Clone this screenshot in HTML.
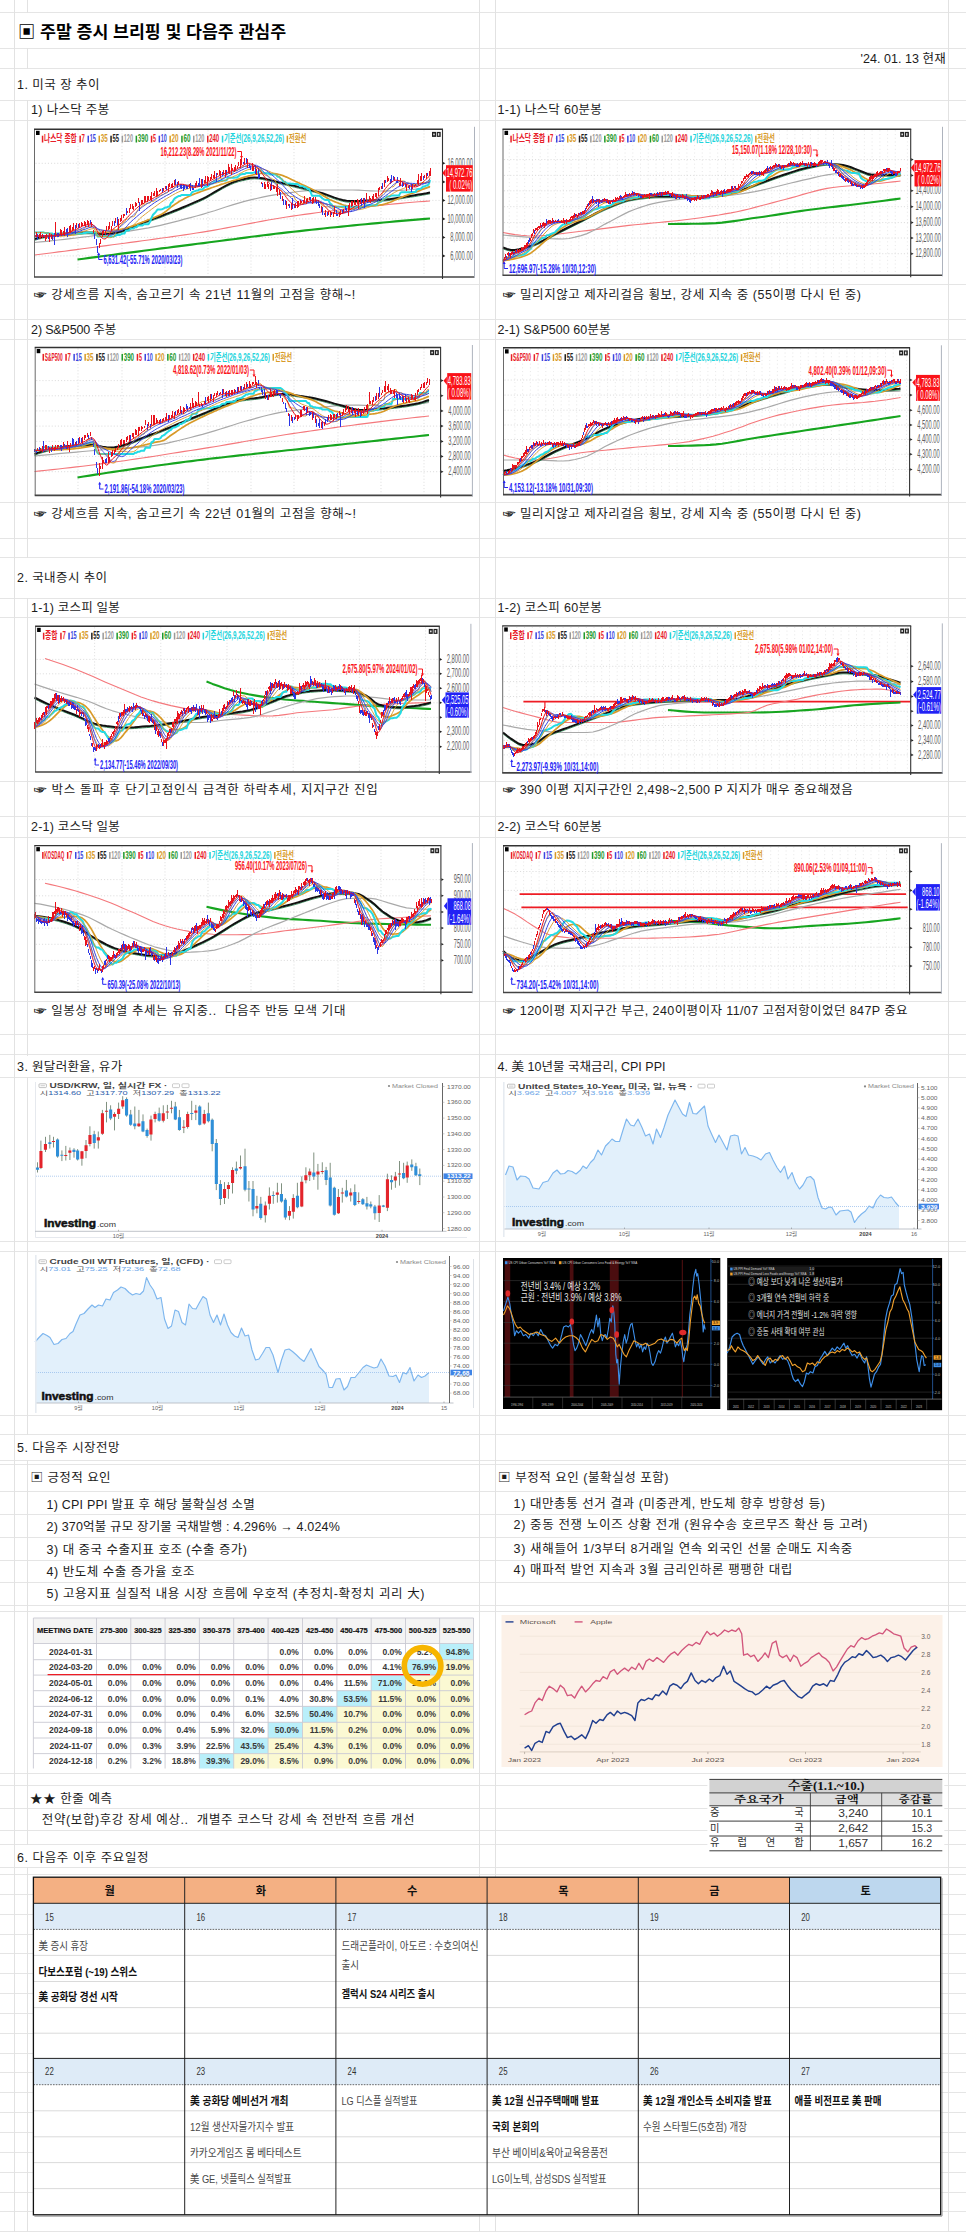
<!DOCTYPE html>
<html lang="ko"><head><meta charset="utf-8"><title>주말 증시 브리핑</title>
<style>
html,body{margin:0;padding:0;background:#fff}
body{width:966px;height:2232px;position:relative;overflow:hidden;font-family:"Liberation Sans","Noto Sans CJK KR",sans-serif;color:#1c1c1c}
.hl{position:absolute;left:0;width:966px;height:1px;background:#e5e5e5}
.vl{position:absolute;top:0;height:2232px;width:1px;background:#e2e2e2}
.t{position:absolute;white-space:nowrap;font-size:12.5px;line-height:20px;height:20px}
.ttl{position:absolute;white-space:nowrap;font-size:17.3px;font-weight:bold;line-height:20px;height:20px;color:#000}
.wb{position:absolute;background:#fff}
.hd{display:inline-block;transform:scaleY(.7) translateY(.5px);font-weight:bold;-webkit-text-stroke:0.4px #222}
svg{position:absolute;left:0;top:0}
</style></head><body>
<div class="hl" style="top:12.0px"></div>
<div class="hl" style="top:48.0px"></div>
<div class="hl" style="top:68.0px"></div>
<div class="hl" style="top:99.8px"></div>
<div class="hl" style="top:119.9px"></div>
<div class="hl" style="top:283.5px"></div>
<div class="hl" style="top:318.7px"></div>
<div class="hl" style="top:339.1px"></div>
<div class="hl" style="top:501.9px"></div>
<div class="hl" style="top:537.5px"></div>
<div class="hl" style="top:556.9px"></div>
<div class="hl" style="top:598.0px"></div>
<div class="hl" style="top:617.0px"></div>
<div class="hl" style="top:780.5px"></div>
<div class="hl" style="top:815.7px"></div>
<div class="hl" style="top:836.8px"></div>
<div class="hl" style="top:1000.7px"></div>
<div class="hl" style="top:1033.7px"></div>
<div class="hl" style="top:1054.4px"></div>
<div class="hl" style="top:1076.8px"></div>
<div class="hl" style="top:1240.7px"></div>
<div class="hl" style="top:1250.7px"></div>
<div class="hl" style="top:1414.7px"></div>
<div class="hl" style="top:1434.2px"></div>
<div class="hl" style="top:1459.9px"></div>
<div class="hl" style="top:1463.7px"></div>
<div class="hl" style="top:1490.5px"></div>
<div class="hl" style="top:1513.5px"></div>
<div class="hl" style="top:1536.5px"></div>
<div class="hl" style="top:1559.5px"></div>
<div class="hl" style="top:1581.5px"></div>
<div class="hl" style="top:1604.5px"></div>
<div class="hl" style="top:1610.5px"></div>
<div class="hl" style="top:1772.5px"></div>
<div class="hl" style="top:1784.5px"></div>
<div class="hl" style="top:1807.5px"></div>
<div class="hl" style="top:1830.3px"></div>
<div class="hl" style="top:1844.3px"></div>
<div class="hl" style="top:1867.0px"></div>
<div class="hl" style="top:1873.9px"></div>
<div class="hl" style="top:1893.7px"></div>
<div class="hl" style="top:1913.6px"></div>
<div class="hl" style="top:1933.5px"></div>
<div class="hl" style="top:1953.3px"></div>
<div class="hl" style="top:1973.2px"></div>
<div class="hl" style="top:1993.0px"></div>
<div class="hl" style="top:2012.9px"></div>
<div class="hl" style="top:2032.7px"></div>
<div class="hl" style="top:2052.6px"></div>
<div class="hl" style="top:2072.4px"></div>
<div class="hl" style="top:2092.3px"></div>
<div class="hl" style="top:2112.1px"></div>
<div class="hl" style="top:2132.0px"></div>
<div class="hl" style="top:2151.8px"></div>
<div class="hl" style="top:2171.7px"></div>
<div class="hl" style="top:2191.5px"></div>
<div class="hl" style="top:2211.4px"></div>
<div class="hl" style="top:2231.2px"></div>
<div class="vl" style="left:13.6px"></div>
<div class="vl" style="left:26.8px"></div>
<div class="vl" style="left:479.0px"></div>
<div class="vl" style="left:494.9px"></div>
<div class="vl" style="left:948.0px"></div>
<div class="wb" style="left:26px;top:13.1px;width:3px;height:34.8px"></div>
<div class="wb" style="left:26px;top:69.1px;width:3px;height:30.6px"></div>
<div class="wb" style="left:26px;top:558.0px;width:3px;height:39.9px"></div>
<div class="wb" style="left:26px;top:1055.5px;width:3px;height:21.2px"></div>
<div class="wb" style="left:26px;top:1435.3px;width:3px;height:24.5px"></div>
<div class="wb" style="left:26px;top:1845.4px;width:3px;height:21.5px"></div>
<svg width="966" height="1045" viewBox="0 0 966 1045" font-family="&quot;Liberation Sans&quot;,&quot;Noto Sans CJK KR&quot;,sans-serif"><rect x="33.0" y="126.3" width="443.0" height="153.7" fill="#fff"/>
<path d="M35.5 163.3H441.5M35.5 181.9H441.5M35.5 200.4H441.5M35.5 218.9H441.5M35.5 237.4H441.5M35.5 255.9H441.5" stroke="#cfcfcf" stroke-width="0.7" stroke-dasharray="1.1 2" fill="none"/>
<path d="M78.0 130.3V276.0M122.0 130.3V276.0M165.0 130.3V276.0M208.0 130.3V276.0M251.0 130.3V276.0M294.0 130.3V276.0M338.0 130.3V276.0M381.0 130.3V276.0M424.0 130.3V276.0" stroke="#d2d2d2" stroke-width="0.7" stroke-dasharray="1.1 2" fill="none"/>
<g transform="scale(.1)"><path d="M775 2595l60-8 60-8 60-8 60-8 60-8 60-8 60-8 60-8 60-7 60-8 60-8 60-8 60-8 60-8 60-7 60-8 60-8 60-7 60-8 60-8 60-7 60-8 60-8 60-8 60-8 60-7 60-8 60-8 60-8 60-7 60-8 60-7 60-8 60-7 60-7 60-7 60-6 60-7 60-6 60-7 60-6 60-7 60-6 60-6 60-6 60-6 60-6 60-6 60-6 60-5 60-6 60-5 60-6 60-5 60-5 60-5 60-5 60-5 45-4" stroke="#16a51f" stroke-width="21" fill="none" stroke-linejoin="round"/><path d="M345 2550l60-8 60-7 60-8 60-8 60-7 60-8 60-8 60-8 60-8 60-8 60-8 60-8 60-8 60-8 60-8 60-8 60-8 60-8 60-8 60-9 60-8 60-8 60-9 60-9 60-8 60-9 60-10 60-9 60-10 60-10 60-11 60-11 60-11 60-11 60-12 60-11 60-11 60-12 60-11 60-10 60-10 60-10 60-9 60-9 60-8 60-8 60-8 60-8 60-7 60-8 60-7 60-7 60-7 60-7 60-7 60-7 60-6 60-6 60-6 60-6 60-5 60-6 60-5 60-5 60-4 55-4" stroke="#f4787c" stroke-width="11" fill="none" stroke-linejoin="round"/><path d="M345 2425l60-6 60-6 60-6 60-7 60-6 60-7 60-7 60-8 60-7 60-8 60-8 60-8 60-8 60-8 60-8 60-9 60-10 60-10 60-10 60-12 60-13 60-14 60-15 60-15 60-17 60-16 60-16 60-17 60-18 60-18 60-20 60-19 60-19 60-18 60-17 60-15 60-14 60-13 60-13 60-11 60-9 60-8 60-8 60-8 60-7 60-5 60-3 60 0 60 0 60 0 60 0 60 0 60 0 60 2 60 3 60 3 60 2 60 0 60-1 60-2 60-3 60-4 60-5 60-6 60-7 55-7" stroke="#a9a9a9" stroke-width="12" fill="none" stroke-linejoin="round"/><path d="M345 2403l40-11 40-10 40-8 40-7 40-7 40-5 40-5 40-3 40-3 40-3 40-1 40-1 40-1 40 0 40 3 40 6 40 5 40 1 40-4 40-7 40-9 40-13 40-14 40-15 40-16 40-17 40-16 40-16 40-15 40-14 40-14 40-15 40-16 40-15 40-16 40-16 40-17 40-16 40-17 40-18 40-17 40-19 40-20 40-23 40-23 40-24 40-23 40-22 40-19 40-17 40-13 40-10 40-9 40-7 40-3 40 2 40 5 40 9 40 10 40 10 40 11 40 9 40 9 40 9 40 10 40 10 40 10 40 10 40 11 40 10 40 11 40 11 40 14 40 15 40 15 40 13 40 11 40 8 40 2 40 0 40-1 40-1 40-2 40-1 40-2 40-2 40-3 40-3 40-5 40-6 40-6 40-6 40-7 40-6 40-6 40-7 40-7 40-7 35-7" stroke="#2e8b57" stroke-width="9" fill="none" stroke-linejoin="round"/><path d="M345 2390l40-11 40-10 40-8 40-7 40-7 40-5 40-5 40-3 40-3 40-3 40-1 40-1 40-1 40 0 40 3 40 6 40 5 40 1 40-4 40-7 40-9 40-13 40-14 40-15 40-16 40-17 40-16 40-16 40-15 40-14 40-14 40-15 40-16 40-15 40-16 40-16 40-17 40-16 40-17 40-18 40-17 40-19 40-20 40-23 40-23 40-24 40-23 40-22 40-19 40-17 40-13 40-10 40-9 40-7 40-3 40 2 40 5 40 9 40 10 40 10 40 11 40 9 40 9 40 9 40 10 40 10 40 10 40 10 40 11 40 10 40 11 40 11 40 14 40 15 40 15 40 13 40 11 40 8 40 2 40 0 40-1 40-1 40-2 40-1 40-2 40-2 40-3 40-3 40-5 40-6 40-6 40-6 40-7 40-6 40-6 40-7 40-7 40-7 35-7" stroke="#111" stroke-width="20" fill="none" stroke-linejoin="round"/><path d="M345 2360l15 0 15 0 15 0 15 0 15 0 15 0 15 0 15 0 15 0 15 0 15 0 15 0 15 0 15-1 15 0 15 0 15-1 15 0 15-1 15-1 15-1 15-1 15-1 15-1 15-2 15-2 15-2 15-2 15-2 15-2 15-2 15-3 15-3 15-2 15-3 15-3 15-2 15-3 15-1 15 0 15 2 15 2 15 2 15 1 15 0 15-1 15-1 15-1 15-2 15-2 15-1 15-3 15-2 15-3 15-2 15-4 15-3 15-4 15-4 15-4 15-5 15-4 15-6 15-5 15-5 15-6 15-6 15-5 15-7 15-6 15-6 15-6 15-5 15-6 15-6 15-6 15-5 15-7 15-6 15-6 15-7 15-6 15-7 15-7 15-7 15-9 15-11 15-11 15-13 15-13 15-12 15-11 15-10 15-11 15-9 15-10 15-9 15-9 15-8 15-8 15-8 15-7 15-8 15-7 15-6 15-6 15-6 15-6 15-6 15-5 15-6 15-5 15-6 15-5 15-5 15-5 15-5 15-6 15-5 15-6 15-4 15-6 15-5 15-6 15-5 15-4 15-5 15-5 15-5 15-5 15-4 15-5 15-4 15-4 15-5 15-4 15-5 15-5 15-5 15-5 15-4 15-4 15-4 15-3 15-4 15-4 15-4 15-3 15-3 15-3 15-1 15 0 15-1 15 0 15 0 15 0 15 1 15 1 15 1 15 1 15 2 15 3 15 3 15 4 15 4 15 6 15 6 15 6 15 7 15 7 15 7 15 7 15 7 15 8 15 7 15 7 15 7 15 7 15 7 15 7 15 7 15 7 15 7 15 8 15 8 15 8 15 8 15 9 15 8 15 9 15 8 15 9 15 10 15 9 15 9 15 9 15 8 15 6 15 7 15 6 15 6 15 6 15 6 15 5 15 6 15 5 15 4 15 4 15 3 15 3 15 2 15 1 15 1 15 0 15-1 15-1 15-1 15-1 15-1 15-1 15-1 15-1 15 0 15-1 15 0 15-1 15-1 15-2 15-1 15-2 15-3 15-3 15-4 15-4 15-4 15-6 15-5 15-6 15-7 15-7 15-7 15-6 15-7 15-6 15-6 15-6 15-6 15-5 15-6 15-6 15-5 15-6 15-5 15-5 15-5 15-5 15-6 15-7 15-5 15-6 15-6 15-6 15-6 10-7" stroke="#d89a28" stroke-width="17" fill="none" stroke-linejoin="round"/><path d="M345 2324l15 0 15 0 15 0 15 0 15 0 15 0 15 5 15 0 15 0 15 7 15 0 15 0 15 15 15-17 15 0 15 0 15 0 15 0 15 0 15 0 15 0 15 0 15 0 15 0 15 0 15 0 15 0 15 0 15 0 15 0 15 0 15 0 15-4 15 0 15-6 15 0 15 0 15 0 15 0 15 0 15 0 15 40 15 0 15 0 15 0 15 0 15 0 15 0 15 0 15 0 15 0 15 0 15 0 15-6 15-9 15 0 15 0 15-9 15-5 15 0 15-31 15 0 15 0 15-19 15 0 15 0 15-12 15 0 15-18 15 0 15 0 15 0 15-12 15 0 15 0 15 0 15-25 15-39 15-31 15-15 15-17 15-21 15-1 15 0 15-2 15-6 15-10 15 0 15-9 15-2 15-37 15-8 15-28 15-14 15-8 15-9 15 0 15-11 15 0 15 0 15 0 15 0 15 0 15 0 15-28 15-6 15-5 15-5 15-1 15-11 15 0 15 0 15-16 15-11 15 0 15-9 15-16 15-7 15 0 15-19 15 0 15 0 15-5 15-4 15 0 15-2 15 0 15-2 15-26 15 0 15 0 15 0 15 0 15-3 15 0 15-10 15-16 15-6 15-1 15 0 15-10 15 0 15 0 15 0 15 0 15-5 15-4 15 0 15 0 15-20 15 6 15 19 15 5 15 0 15 0 15 2 15 10 15 0 15 0 15 0 15 5 15 18 15 0 15 16 15 11 15 23 15 0 15 17 15 0 15 0 15 4 15 0 15 1 15 0 15 0 15 7 15 17 15 0 15 0 15 12 15 0 15 14 15 0 15 30 15 38 15 1 15 0 15 0 15 0 15 0 15 12 15 15 15 9 15 6 15 0 15 0 15 34 15 9 15 25 15 0 15 0 15 0 15 0 15 0 15 0 15 0 15 0 15 0 15 0 15 0 15 0 15 0 15 0 15 0 15 4 15 0 15 0 15 0 15 0 15 0 15-19 15 0 15 0 15 0 15 0 15 0 15-1 15-3 15-21 15-4 15-7 15-14 15-16 15-3 15-19 15 0 15 0 15-10 15 0 15 0 15 0 15 0 15 0 15-29 15-4 15 0 15 0 15 0 15 0 15 0 15-3 15 0 15 0 15 0 15-25 15-5 15 0 15-8 15-16 15-1 15-8 15-1 15-18 10-37" stroke="#22dbe4" stroke-width="20" fill="none" stroke-linejoin="round"/><path d="M345 2360l15 0 15 0 15 1 15 0 15-1 15 0 15 0 15 0 15 0 15 0 15 0 15 0 15 0 15-1 15-1 15-1 15 0 15-2 15-1 15-1 15-2 15-2 15-2 15-1 15-3 15-4 15-3 15-4 15-4 15-4 15-4 15-4 15-5 15-4 15-4 15-6 15-4 15-4 15-2 15 1 15 3 15 5 15 4 15 3 15 0 15 0 15 1 15-1 15-1 15-1 15-2 15-1 15-1 15-2 15 0 15-2 15-2 15-3 15-3 15-3 15-4 15-4 15-5 15-6 15-6 15-9 15-12 15-14 15-17 15-16 15-14 15-12 15-12 15-12 15-11 15-12 15-11 15-12 15-11 15-11 15-10 15-12 15-11 15-11 15-11 15-9 15-11 15-9 15-9 15-9 15-9 15-8 15-9 15-8 15-8 15-7 15-6 15-7 15-5 15-6 15-4 15-4 15-4 15-4 15-3 15-2 15-4 15-3 15-3 15-3 15-2 15-3 15-3 15-3 15-3 15-3 15-3 15-3 15-3 15-3 15-2 15-4 15-4 15-5 15-4 15-5 15-6 15-6 15-7 15-6 15-7 15-7 15-8 15-6 15-6 15-8 15-8 15-8 15-7 15-8 15-6 15-6 15-4 15-4 15-4 15-3 15-2 15-2 15 0 15 1 15 4 15 5 15 4 15 5 15 5 15 6 15 7 15 7 15 6 15 8 15 8 15 9 15 11 15 12 15 14 15 14 15 16 15 16 15 15 15 15 15 14 15 14 15 14 15 14 15 12 15 12 15 10 15 7 15 6 15 6 15 6 15 5 15 4 15 5 15 5 15 5 15 4 15 5 15 4 15 5 15 4 15 5 15 4 15 3 15 3 15 3 15 3 15 3 15 3 15 2 15 3 15 4 15 3 15 4 15 4 15 4 15 3 15 3 15 2 15 3 15 2 15 2 15 1 15 2 15 0 15-1 15-2 15-2 15-4 15-4 15-5 15-4 15-5 15-5 15-5 15-7 15-6 15-7 15-9 15-9 15-10 15-9 15-11 15-10 15-10 15-10 15-10 15-10 15-9 15-9 15-8 15-8 15-6 15-7 15-6 15-5 15-7 15-4 15-6 15-5 15-4 15-4 15-4 15-4 15-4 15-4 15-3 15-4 15-3 15-3 15-2 15-3 15-2 10-4" stroke="#d89a28" stroke-width="9" fill="none" stroke-linejoin="round"/><path d="M345 2324l15 0 15 0 15 0 15 0 15 0 15 0 15 5 15 0 15 0 15 7 15 0 15 34 15 16 15-52 15 0 15 0 15 0 15 0 15 0 15 0 15 0 15 0 15 0 15 0 15-39 15 6 15 0 15-1 15 0 15-1 15-6 15 0 15-5 15-15 15-6 15 0 15 0 15 0 15-4 15 31 15 29 15 41 15 0 15 0 15 0 15 0 15 2 15 0 15 12 15-1 15 0 15-9 15 0 15-35 15-31 15-32 15-11 15-9 15-27 15 0 15-31 15 0 15-6 15-19 15 0 15 0 15-12 15-36 15-23 15-16 15-10 15-8 15-20 15 0 15-11 15 0 15 0 15-17 15 0 15-4 15-16 15-29 15-6 15-5 15-7 15-1 15-16 15 0 15-8 15-18 15 0 15-3 15-21 15-20 15 0 15 0 15-4 15 0 15 0 15 0 15-4 15 0 15 0 15 0 15 0 15 9 15 0 15-3 15 0 15-11 15-3 15 0 15 0 15-12 15 0 15-1 15 0 15-18 15 0 15-15 15 0 15 0 15-10 15-5 15 0 15-1 15-20 15-2 15-26 15 0 15 0 15 0 15-25 15 0 15 0 15-11 15-16 15-5 15-10 15-2 15 0 15 0 15-17 15 0 15-1 15-2 15 12 15 10 15 20 15 0 15 22 15 19 15 12 15 17 15 0 15 2 15 22 15 0 15 15 15 0 15 34 15 56 15 1 15 15 15 12 15 23 15 0 15 17 15 0 15 8 15 4 15 0 15 0 15 34 15 9 15 21 15 6 15 0 15 0 15-6 15 0 15 0 15-6 15-1 15 0 15-4 15-3 15-13 15 8 15 10 15 20 15 19 15 2 15 6 15 0 15 0 15 0 15 0 15 19 15 0 15 22 15 7 15 2 15 0 15 0 15 0 15-1 15 0 15-4 15-11 15-14 15 0 15-3 15 0 15-10 15 0 15-1 15-7 15 0 15 0 15-52 15-3 15 0 15 0 15 0 15 0 15-1 15-6 15-21 15-5 15-7 15-38 15-16 15 0 15-20 15-16 15 0 15-13 15 0 15-12 15-28 15-5 15-4 15-7 15-3 15 0 15 4 15 16 15 0 15 2 15 13 15 0 15 0 15 10 15 0 15-21 15 0 15-7 15 0 15 0 15-1 15-1 15-20 10-31" stroke="#d89a28" stroke-width="9" fill="none" stroke-linejoin="round"/><path d="M345 2360l15 0 15 0 15 1 15 0 15-1 15 0 15 0 15 0 15 0 15 0 15 0 15 0 15-1 15-1 15-1 15-1 15-1 15-1 15-2 15-2 15-2 15-3 15-2 15-3 15-3 15-5 15-5 15-4 15-6 15-5 15-5 15-6 15-6 15-4 15-6 15-6 15-5 15-3 15-1 15 2 15 5 15 9 15 7 15 4 15 4 15 3 15 2 15 2 15 1 15 2 15 0 15 1 15 0 15-1 15 1 15-1 15-2 15-3 15-8 15-11 15-14 15-18 15-18 15-16 15-13 15-13 15-14 15-12 15-14 15-12 15-13 15-11 15-12 15-12 15-13 15-11 15-11 15-11 15-11 15-11 15-9 15-9 15-10 15-9 15-9 15-8 15-9 15-9 15-7 15-8 15-9 15-9 15-9 15-8 15-7 15-8 15-6 15-5 15-4 15-4 15-3 15-3 15-3 15 0 15-2 15 0 15-1 15-2 15 0 15-1 15-2 15-1 15 0 15-2 15-2 15-2 15-4 15-4 15-5 15-6 15-6 15-7 15-7 15-7 15-8 15-8 15-7 15-6 15-8 15-7 15-7 15-7 15-6 15-6 15-7 15-7 15-8 15-7 15-7 15-7 15-7 15-4 15-4 15-2 15-3 15-2 15-1 15 0 15 2 15 3 15 7 15 8 15 8 15 8 15 9 15 11 15 12 15 13 15 12 15 14 15 14 15 14 15 13 15 14 15 16 15 17 15 17 15 17 15 16 15 15 15 11 15 11 15 11 15 11 15 9 15 9 15 8 15 7 15 7 15 7 15 5 15 3 15 3 15 2 15 1 15-1 15-2 15-2 15 0 15 0 15 1 15 2 15 4 15 3 15 5 15 5 15 5 15 6 15 6 15 6 15 7 15 7 15 8 15 6 15 6 15 6 15 4 15 3 15 2 15 0 15-1 15-3 15-5 15-4 15-6 15-6 15-6 15-6 15-7 15-5 15-7 15-7 15-6 15-6 15-7 15-7 15-6 15-8 15-7 15-9 15-9 15-10 15-10 15-11 15-11 15-11 15-11 15-11 15-10 15-12 15-9 15-10 15-8 15-8 15-7 15-6 15-5 15-4 15-2 15 0 15 0 15 1 15 1 15 2 15 1 15 2 15-1 15-1 15-1 15-1 15-4 15-4 15-6 10-6" stroke="#3a46e0" stroke-width="10" fill="none" stroke-linejoin="round"/><path d="M345 2360l15 0 15 0 15 1 15 0 15 0 15 0 15-1 15-1 15 2 15-1 15 0 15 0 15-1 15-2 15-1 15-2 15-2 15-2 15-2 15-4 15-2 15-5 15-3 15-4 15-5 15-7 15-5 15-6 15-7 15-6 15-6 15-7 15-6 15-6 15-6 15-6 15-6 15-3 15 4 15 7 15 13 15 17 15 16 15 10 15 9 15 7 15 6 15 4 15 5 15 4 15 1 15-5 15-9 15-15 15-19 15-19 15-15 15-13 15-12 15-14 15-12 15-13 15-14 15-15 15-13 15-14 15-13 15-15 15-14 15-14 15-12 15-12 15-10 15-11 15-10 15-9 15-8 15-9 15-9 15-9 15-8 15-6 15-9 15-10 15-9 15-9 15-8 15-9 15-9 15-9 15-8 15-8 15-9 15-9 15-7 15-5 15-4 15-4 15-2 15-1 15 0 15 1 15 0 15 2 15 3 15 5 15 1 15 1 15 1 15-1 15-2 15-3 15-4 15-6 15-6 15-6 15-7 15-9 15-9 15-8 15-7 15-9 15-9 15-7 15-7 15-7 15-7 15-7 15-6 15-7 15-7 15-5 15-5 15-6 15-5 15-7 15-7 15-9 15-7 15-9 15-6 15-4 15-2 15-1 15-1 15-1 15 2 15 2 15 7 15 10 15 17 15 17 15 18 15 17 15 15 15 16 15 15 15 15 15 15 15 14 15 15 15 15 15 13 15 10 15 11 15 14 15 14 15 16 15 14 15 14 15 14 15 15 15 14 15 12 15 9 15 9 15 5 15 2 15 0 15-2 15-4 15-5 15-5 15-4 15-4 15-6 15-4 15-2 15 0 15 2 15 5 15 7 15 10 15 9 15 11 15 12 15 10 15 10 15 11 15 9 15 9 15 9 15 6 15 4 15 1 15-2 15-3 15-4 15-5 15-5 15-6 15-8 15-6 15-8 15-10 15-9 15-9 15-8 15-9 15-5 15-6 15-4 15-4 15-5 15-4 15-6 15-5 15-6 15-8 15-10 15-11 15-11 15-15 15-14 15-16 15-17 15-15 15-15 15-14 15-12 15-10 15-7 15-4 15-3 15-1 15 2 15 3 15 6 15 6 15 6 15 6 15 7 15 5 15 2 15 1 15-1 15-3 15-7 15-6 15-6 15-12 15-9 15-12 10-13" stroke="#3a46e0" stroke-width="8" fill="none" stroke-linejoin="round"/><path d="M375 2340v60M435 2350v20M485 2360v30M525 2350v50M545 2330v120M575 2330v40M585 2330v40M665 2290v50M675 2280v90M755 2250v90M785 2240v40M905 2200v40M945 2340v50M965 2390v60M975 2460v70M1145 2210v50M1175 2170v80M1265 2080v70M1395 2020v90M1625 1880v50M1665 1860v40M1755 1790v60M1775 1820v60M1805 1840v40M1815 1840v50M1835 1840v70M1845 1850v40M1865 1850v40M1875 1860v30M1905 1830v80M1925 1850v50M1935 1880v20M1985 1830v40M1995 1780v90M2025 1790v80M2165 1730v90M2225 1720v40M2265 1700v50M2435 1620v20M2465 1580v60M2495 1640v40M2505 1660v40M2555 1650v90M2585 1680v110M2595 1740v40M2625 1830v40M2715 1820v80M2805 1920v70M2835 1990v60M2855 2000v50M2895 2040v40M2925 1980v110M2945 2040v40M3105 1970v50M3165 2000v40M3185 2000v60M3195 2040v40M3225 2070v80M3245 2130v20M3275 2120v40M3315 2120v30M3365 2100v60M3375 2140v20M3425 2100v40M3455 2060v40M3465 2080v30M3615 1980v80M3645 1980v100M3675 2000v30M3825 1830v60M3855 1800v30M3905 1790v50M3915 1750v80M3935 1760v40M3965 1810v20M3975 1770v60M4025 1820v50M4055 1840v30M4095 1850v40M4115 1840v80M4235 1760v40M4275 1730v30" stroke="#2b35e6" stroke-width="10" fill="none"/><path d="M345 2250v150M365 2320v50M395 2340v40M405 2320v70M425 2340v40M455 2350v60M465 2340v50M495 2330v90M515 2340v50M555 2220v150M605 2290v60M615 2300v60M635 2310v40M645 2270v90M695 2260v60M705 2250v80M725 2270v40M735 2230v70M765 2230v50M795 2230v50M815 2220v50M825 2230v30M845 2210v50M855 2220v50M875 2200v50M885 2210v60M915 2220v50M935 2300v30M995 2430v50M1005 2390v50M1025 2310v60M1035 2300v40M1055 2310v40M1065 2260v50M1085 2260v40M1095 2220v70M1115 2260v50M1125 2210v50M1155 2180v50M1185 2190v110M1205 2180v40M1215 2150v60M1235 2140v40M1245 2140v20M1275 2110v20M1295 2080v50M1305 2040v50M1325 2040v50M1335 2060v40M1355 2020v50M1365 2030v30M1385 1980v50M1415 2000v50M1425 2000v40M1445 1960v70M1455 1960v60M1475 1960v60M1485 1960v40M1505 1960v40M1515 1920v90M1535 1930v30M1545 1910v50M1565 1880v90M1575 1910v50M1595 1900v20M1605 1890v20M1635 1880v30M1655 1860v30M1685 1840v80M1695 1830v40M1715 1840v40M1725 1830v50M1745 1800v50M1785 1810v40M1895 1840v40M1955 1830v50M1965 1810v50M2015 1790v90M2045 1800v30M2055 1760v70M2075 1760v100M2085 1770v40M2105 1770v30M2115 1740v50M2135 1750v30M2145 1710v80M2175 1730v20M2195 1700v50M2205 1710v70M2235 1700v50M2255 1700v70M2285 1640v90M2295 1670v70M2315 1640v110M2325 1680v30M2345 1670v50M2355 1650v60M2375 1660v30M2385 1620v40M2405 1590v90M2415 1580v70M2445 1580v70M2475 1590v90M2525 1630v80M2535 1660v50M2565 1690v60M2615 1820v20M2645 1820v70M2655 1840v50M2675 1820v50M2685 1840v50M2705 1850v60M2735 1850v40M2745 1860v30M2765 1870v50M2775 1840v120M2795 1900v50M2825 1960v50M2865 2010v80M2885 2040v20M2915 2030v70M2955 2030v50M2975 2010v70M2985 2010v60M3005 2000v40M3015 2010v20M3035 2000v30M3045 1960v70M3065 1990v50M3075 1980v40M3095 1970v30M3125 1980v60M3135 1970v60M3155 1970v50M3215 2060v60M3255 2100v70M3285 2110v40M3305 2110v60M3335 2120v50M3345 2060v80M3395 2120v50M3405 2100v50M3435 2090v40M3485 2050v110M3495 2030v70M3515 2010v60M3525 2010v50M3545 2000v50M3555 2020v30M3575 1990v50M3585 2000v90M3605 1990v40M3635 1980v60M3665 1930v90M3695 1960v60M3705 1980v50M3725 1960v40M3735 1940v60M3755 1930v40M3765 1930v50M3785 1880v80M3795 1870v30M3815 1860v30M3845 1800v70M3875 1760v60M3885 1780v30M3945 1770v40M3995 1830v30M4005 1780v80M4035 1830v30M4065 1840v70M4085 1860v20M4125 1840v50M4145 1850v20M4155 1840v20M4175 1800v40M4185 1740v110M4205 1760v50M4215 1730v80M4245 1750v30M4265 1730v60M4295 1710v50M4305 1680v80" stroke="#e8121c" stroke-width="10" fill="none"/><path d="M345 2360l15-1 15 1 15 1 15 0 15 0 15 0 15 0 15-2 15 3 15-2 15-2 15 0 15-1 15-3 15-2 15 1 15-6 15-3 15-3 15-6 15-3 15-3 15-4 15-5 15-6 15-8 15-7 15-7 15-8 15-8 15-6 15-9 15-6 15-3 15-5 15-4 15-3 15 1 15 6 15 16 15 24 15 28 15 29 15 21 15 15 15 8 15 2 15-9 15-18 15-24 15-23 15-19 15-13 15-12 15-11 15-10 15-11 15-12 15-14 15-12 15-15 15-13 15-17 15-16 15-15 15-15 15-15 15-12 15-14 15-12 15-9 15-8 15-9 15-10 15-7 15-8 15-5 15-9 15-9 15-10 15-8 15-6 15-11 15-11 15-10 15-7 15-9 15-8 15-10 15-9 15-7 15-7 15-9 15-8 15-5 15-5 15-2 15 0 15 1 15 3 15 6 15 6 15 3 15 5 15 3 15 4 15 0 15-4 15-1 15-6 15-5 15-6 15-9 15-10 15-7 15-7 15-10 15-8 15-8 15-9 15-7 15-8 15-9 15-8 15-6 15-6 15-6 15-5 15-7 15-5 15-6 15-4 15-5 15-6 15-5 15-9 15-9 15-10 15-6 15-11 15-8 15-3 15-2 15 5 15 6 15 7 15 9 15 13 15 13 15 13 15 21 15 22 15 20 15 22 15 19 15 20 15 17 15 14 15 6 15 4 15 8 15 9 15 9 15 12 15 15 15 19 15 20 15 22 15 19 15 16 15 16 15 13 15 9 15 5 15 0 15-2 15-3 15-4 15-5 15-7 15-7 15-8 15-7 15-5 15-2 15-3 15-2 15 1 15 4 15 8 15 12 15 13 15 17 15 15 15 18 15 13 15 12 15 11 15 7 15 2 15 0 15 4 15-1 15 0 15-1 15-4 15-7 15-4 15-9 15-11 15-9 15-11 15-10 15-10 15-7 15-10 15-6 15-6 15-7 15-3 15-5 15-3 15-1 15-2 15-3 15-5 15-6 15-10 15-11 15-16 15-17 15-17 15-20 15-20 15-19 15-19 15-14 15-12 15-9 15-9 15-1 15 0 15 4 15 6 15 6 15 8 15 7 15 11 15 6 15 7 15 5 15 5 15 2 15 0 15-3 15-8 15-9 15-14 15-13 15-13 15-16 15-14 15-13 10-14" stroke="#e8121c" stroke-width="10" fill="none" stroke-linejoin="round"/></g>
<path d="M34.5 277.0V129.3" stroke="#6a6a6a" stroke-width="1" fill="none"/>
<path d="M34.0 129.3H443.0" stroke="#333" stroke-width="1.4" fill="none"/>
<path d="M34.0 277.0H475.0" stroke="#444" stroke-width="1.6" fill="none"/>
<path d="M442.5 129.3V279.0" stroke="#333" stroke-width="1.1" fill="none"/>
<path d="M474.5 126.8V278.0" stroke="#aeb3bd" stroke-width="1" fill="none"/>
<rect x="36.0" y="130.8" width="3.6" height="4.2" fill="#000"/>
<rect x="432.0" y="131.9" width="4" height="5" fill="#222"/><rect x="436.7" y="131.9" width="4" height="5" fill="#222"/>
<rect x="433.2" y="133.5" width="1.6" height="1.8" fill="#ddd"/><rect x="437.9" y="133.1" width="1.4" height="2.6" fill="#ddd"/>
<rect x="41.8" y="135.7" width="1.5" height="6.8" fill="#e8202a"/><text x="44.0" y="142.3" fill="#e8202a" font-size="10" font-weight="bold" textLength="32.8" lengthAdjust="spacingAndGlyphs">나스닥 종합</text><rect x="79.4" y="135.7" width="1.5" height="6.8" fill="#e8202a"/><text x="81.6" y="142.3" fill="#e8202a" font-size="10" font-weight="bold" textLength="3.3" lengthAdjust="spacingAndGlyphs">7</text><rect x="87.5" y="135.7" width="1.5" height="6.8" fill="#3a46e0"/><text x="89.7" y="142.3" fill="#3a46e0" font-size="10" font-weight="bold" textLength="6.2" lengthAdjust="spacingAndGlyphs">15</text><rect x="98.5" y="135.7" width="1.5" height="6.8" fill="#d89a28"/><text x="100.7" y="142.3" fill="#d89a28" font-size="10" font-weight="bold" textLength="7.0" lengthAdjust="spacingAndGlyphs">35</text><rect x="110.3" y="135.7" width="1.5" height="6.8" fill="#222"/><text x="112.5" y="142.3" fill="#222" font-size="10" font-weight="bold" textLength="6.5" lengthAdjust="spacingAndGlyphs">55</text><rect x="121.6" y="135.7" width="1.5" height="6.8" fill="#9a9a9a"/><text x="123.8" y="142.3" fill="#9a9a9a" font-size="10" font-weight="bold" textLength="9.2" lengthAdjust="spacingAndGlyphs">120</text><rect x="135.6" y="135.7" width="1.5" height="6.8" fill="#1f9a2e"/><text x="137.8" y="142.3" fill="#1f9a2e" font-size="10" font-weight="bold" textLength="10.4" lengthAdjust="spacingAndGlyphs">390</text><rect x="150.8" y="135.7" width="1.5" height="6.8" fill="#e8202a"/><text x="153.0" y="142.3" fill="#e8202a" font-size="10" font-weight="bold" textLength="3.0" lengthAdjust="spacingAndGlyphs">5</text><rect x="158.6" y="135.7" width="1.5" height="6.8" fill="#3a46e0"/><text x="160.8" y="142.3" fill="#3a46e0" font-size="10" font-weight="bold" textLength="6.0" lengthAdjust="spacingAndGlyphs">10</text><rect x="169.4" y="135.7" width="1.5" height="6.8" fill="#d89a28"/><text x="171.6" y="142.3" fill="#d89a28" font-size="10" font-weight="bold" textLength="7.0" lengthAdjust="spacingAndGlyphs">20</text><rect x="181.2" y="135.7" width="1.5" height="6.8" fill="#1f9a2e"/><text x="183.4" y="142.3" fill="#1f9a2e" font-size="10" font-weight="bold" textLength="7.0" lengthAdjust="spacingAndGlyphs">60</text><rect x="193.0" y="135.7" width="1.5" height="6.8" fill="#9a9a9a"/><text x="195.2" y="142.3" fill="#9a9a9a" font-size="10" font-weight="bold" textLength="9.2" lengthAdjust="spacingAndGlyphs">120</text><rect x="207.0" y="135.7" width="1.5" height="6.8" fill="#e8202a"/><text x="209.2" y="142.3" fill="#e8202a" font-size="10" font-weight="bold" textLength="10.0" lengthAdjust="spacingAndGlyphs">240</text><rect x="221.8" y="135.7" width="1.5" height="6.8" fill="#22d4dc"/><text x="224.0" y="142.3" fill="#22d4dc" font-size="10" font-weight="bold" textLength="60.0" lengthAdjust="spacingAndGlyphs">기준선(26,9,26,52,26)</text><rect x="286.6" y="135.7" width="1.5" height="6.8" fill="#d89a28"/><text x="288.8" y="142.3" fill="#d89a28" font-size="10" font-weight="bold" textLength="17.5" lengthAdjust="spacingAndGlyphs">전환선</text>
<path d="M443.0 162.0l2.4 1.3l-2.4 1.3z" fill="#222"/>
<text x="472.9" y="166.9" fill="#606060" font-size="12.8" text-anchor="end" textLength="25.5" lengthAdjust="spacingAndGlyphs">16,000.00</text>
<path d="M443.0 180.6l2.4 1.3l-2.4 1.3z" fill="#222"/>
<path d="M443.0 199.1l2.4 1.3l-2.4 1.3z" fill="#222"/>
<text x="472.9" y="204.0" fill="#606060" font-size="12.8" text-anchor="end" textLength="25.5" lengthAdjust="spacingAndGlyphs">12,000.00</text>
<path d="M443.0 217.6l2.4 1.3l-2.4 1.3z" fill="#222"/>
<text x="472.9" y="222.5" fill="#606060" font-size="12.8" text-anchor="end" textLength="25.5" lengthAdjust="spacingAndGlyphs">10,000.00</text>
<path d="M443.0 236.1l2.4 1.3l-2.4 1.3z" fill="#222"/>
<text x="472.9" y="241.0" fill="#606060" font-size="12.8" text-anchor="end" textLength="22.6" lengthAdjust="spacingAndGlyphs">8,000.00</text>
<path d="M443.0 254.6l2.4 1.3l-2.4 1.3z" fill="#222"/>
<text x="472.9" y="259.5" fill="#606060" font-size="12.8" text-anchor="end" textLength="22.6" lengthAdjust="spacingAndGlyphs">6,000.00</text>
<rect x="446.0" y="165.2" width="26.8" height="26.4" fill="#fa1218"/>
<path d="M445.7 168.7l-3.4 4.2l3.4 4.2z" fill="#fa1218"/>
<text x="472.4" y="177.0" fill="#fff" font-size="12.8" text-anchor="end" textLength="25.8" lengthAdjust="spacingAndGlyphs">14,972.76</text>
<text x="472.4" y="189.4" fill="#fff" font-size="12.8" text-anchor="end" textLength="23.2" lengthAdjust="spacingAndGlyphs">( 0.02%)</text>
<text x="160.5" y="155.9" fill="#fa1218" font-size="12.2" font-weight="bold" textLength="76.0" lengthAdjust="spacingAndGlyphs">16,212.23(8.28% 2021/11/22)</text>
<path d="M237.3 151.5h4.2v5" stroke="#fa1218" stroke-width="1" fill="none"/><path d="M240.0 156.0h3l-1.5 2.8z" fill="#fa1218"/>
<text x="103.5" y="263.9" fill="#2222f5" font-size="12.2" font-weight="bold" textLength="79.0" lengthAdjust="spacingAndGlyphs">6,631.42(-55.71% 2020/03/23)</text>
<path d="M102.5 259.5h-3.8v-5" stroke="#2222f5" stroke-width="1" fill="none"/><path d="M97.2 255.0h3l-1.5-2.8z" fill="#2222f5"/>
<rect x="501.5" y="126.3" width="442.5" height="152.0" fill="#fff"/>
<path d="M504.0 159.6H909.7M504.0 175.4H909.7M504.0 190.8H909.7M504.0 206.7H909.7M504.0 222.6H909.7M504.0 238.0H909.7M504.0 253.7H909.7" stroke="#cfcfcf" stroke-width="0.7" stroke-dasharray="1.1 2" fill="none"/>
<path d="M907.4 130.3V274.3M895.3 130.3V274.3M887.6 130.3V274.3M879.9 130.3V274.3M872.1 130.3V274.3M864.4 130.3V274.3M856.7 130.3V274.3M849.0 130.3V274.3M841.3 130.3V274.3M833.5 130.3V274.3M825.8 130.3V274.3M818.1 130.3V274.3M810.4 130.3V274.3M802.7 130.3V274.3M794.9 130.3V274.3M787.2 130.3V274.3M779.5 130.3V274.3M771.8 130.3V274.3M764.1 130.3V274.3M756.3 130.3V274.3M748.6 130.3V274.3M740.9 130.3V274.3M733.2 130.3V274.3M725.5 130.3V274.3M717.7 130.3V274.3M710.0 130.3V274.3M702.3 130.3V274.3M694.6 130.3V274.3M686.9 130.3V274.3M679.1 130.3V274.3M671.4 130.3V274.3M663.7 130.3V274.3M656.0 130.3V274.3M648.3 130.3V274.3M640.5 130.3V274.3M632.8 130.3V274.3M625.1 130.3V274.3M617.4 130.3V274.3M609.7 130.3V274.3M601.9 130.3V274.3M594.2 130.3V274.3M586.5 130.3V274.3M578.8 130.3V274.3M571.1 130.3V274.3M563.3 130.3V274.3M555.6 130.3V274.3M547.9 130.3V274.3M540.2 130.3V274.3M532.5 130.3V274.3M524.7 130.3V274.3M517.0 130.3V274.3M509.3 130.3V274.3" stroke="#e0e0e0" stroke-width="0.7" stroke-dasharray="1.1 2.6" fill="none"/>
<g transform="scale(.1)"><path d="M6680 2240l60 0 60-1 60 0 60-1 60-1 60-1 60-2 60-3 60-5 60-7 60-8 60-9 60-10 60-9 60-8 60-8 60-9 60-9 60-10 60-9 60-10 60-9 60-8 60-8 60-8 60-7 60-7 60-7 60-7 60-7 60-7 60-7 60-8 60-8 60-7 60-8 60-8 60-8 45-6" stroke="#16a51f" stroke-width="21" fill="none" stroke-linejoin="round"/><path d="M5030 2325l60 11 60 10 60 7 60 5 60 2 60-1 60-4 60-5 60-7 60-8 60-8 60-7 60-8 60-6 60-7 60-8 60-7 60-8 60-7 60-8 60-7 60-6 60-6 60-6 60-6 60-5 60-6 60-6 60-6 60-7 60-7 60-8 60-8 60-9 60-9 60-9 60-11 60-10 60-12 60-13 60-14 60-16 60-16 60-16 60-16 60-16 60-15 60-16 60-17 60-18 60-17 60-16 60-15 60-12 60-9 60-7 60-6 60-4 60-5 60-4 60-5 60-6 60-6 60-7 60-6 60-7 15-2" stroke="#f4787c" stroke-width="11" fill="none" stroke-linejoin="round"/><path d="M5030 2350l60 6 60 5 60 5 60 5 60 4 60 4 60 4 60 4 60 2 60 1 60-5 60-13 60-16 60-20 60-28 60-33 60-34 60-31 60-33 60-31 60-30 60-23 60-22 60-19 60-16 60-13 60-10 60-10 60-7 60-6 60-4 60-4 60-3 60-3 60-5 60-6 60-6 60-7 60-7 60-9 60-10 60-10 60-12 60-14 60-15 60-15 60-15 60-15 60-14 60-15 60-13 60-14 60-14 60-12 60-8 60-5 60-5 60-3 60-2 60 2 60 4 60 5 60 4 60 0 60 0 60 0 15 0" stroke="#a9a9a9" stroke-width="12" fill="none" stroke-linejoin="round"/><path d="M5030 2488l40 15 40 9 40 0 40-6 40-10 40-13 40-13 40-14 40-17 40-20 40-21 40-23 40-21 40-21 40-20 40-20 40-20 40-20 40-20 40-20 40-21 40-21 40-21 40-21 40-19 40-18 40-16 40-17 40-16 40-14 40-13 40-9 40-7 40-6 40-5 40-5 40-3 40-2 40-1 40 0 40 0 40 0 40 0 40 0 40 0 40 0 40 0 40 0 40 0 40 0 40 0 40-1 40-4 40-6 40-7 40-9 40-9 40-9 40-11 40-13 40-15 40-15 40-15 40-15 40-14 40-15 40-15 40-14 40-14 40-14 40-13 40-13 40-13 40-13 40-11 40-10 40-9 40-9 40-9 40-7 40-3 40 1 40 2 40 3 40 4 40 9 40 14 40 16 40 15 40 16 40 17 40 11 40 2 40 0 40 0 40 0 40 0 40 0 40 0 15 0" stroke="#2e8b57" stroke-width="9" fill="none" stroke-linejoin="round"/><path d="M5030 2475l40 15 40 9 40 0 40-6 40-10 40-13 40-13 40-14 40-17 40-20 40-21 40-23 40-21 40-21 40-20 40-20 40-20 40-20 40-20 40-20 40-21 40-21 40-21 40-21 40-19 40-18 40-16 40-17 40-16 40-14 40-13 40-9 40-7 40-6 40-5 40-5 40-3 40-2 40-1 40 0 40 0 40 0 40 0 40 0 40 0 40 0 40 0 40 0 40 0 40 0 40 0 40-1 40-4 40-6 40-7 40-9 40-9 40-9 40-11 40-13 40-15 40-15 40-15 40-15 40-14 40-15 40-15 40-14 40-14 40-14 40-13 40-13 40-13 40-13 40-11 40-10 40-9 40-9 40-9 40-7 40-3 40 1 40 2 40 3 40 4 40 9 40 14 40 16 40 15 40 16 40 17 40 11 40 2 40 0 40 0 40 0 40 0 40 0 40 0 15 0" stroke="#111" stroke-width="20" fill="none" stroke-linejoin="round"/><path d="M5030 2605l20-1 20-3 20-3 20-3 20-4 20-5 20-4 20-5 20-6 20-6 20-7 20-8 20-10 20-11 20-15 20-15 20-17 20-17 20-18 20-18 20-17 20-16 20-16 20-16 20-16 20-16 20-15 20-15 20-14 20-13 20-12 20-12 20-10 20-9 20-7 20-7 20-6 20-7 20-6 20-6 20-7 20-8 20-9 20-10 20-11 20-10 20-10 20-11 20-11 20-11 20-10 20-11 20-9 20-8 20-7 20-8 20-8 20-8 20-9 20-7 20-7 20-5 20-4 20-3 20-5 20-4 20-3 20-3 20-2 20-2 20-2 20-3 20-4 20-3 20-3 20-3 20-1 20-2 20-2 20-1 20-1 20-1 20-1 20 1 20 1 20 1 20 1 20 1 20-1 20 0 20 1 20 2 20 2 20 3 20 2 20 2 20 2 20 2 20 2 20 1 20 2 20 1 20 1 20 0 20-2 20-1 20-2 20-3 20-2 20-2 20-3 20-4 20-5 20-5 20-5 20-5 20-4 20-6 20-7 20-8 20-9 20-10 20-11 20-11 20-10 20-10 20-10 20-10 20-9 20-10 20-11 20-10 20-12 20-10 20-11 20-12 20-11 20-11 20-8 20-6 20-5 20-5 20-5 20-4 20-5 20-5 20-4 20-5 20-5 20-4 20-3 20-3 20-1 20-2 20-1 20 0 20 0 20-2 20-2 20-3 20-2 20 0 20 0 20 1 20 2 20 3 20 3 20 5 20 7 20 7 20 8 20 8 20 8 20 9 20 11 20 10 20 11 20 12 20 13 20 12 20 12 20 10 20 7 20 6 20 4 20 2 20 0 20 0 20-3 20-4 20-6 20-5 20-6 20-7 20-6 20-6 20-6 20-8 15-9" stroke="#d89a28" stroke-width="17" fill="none" stroke-linejoin="round"/><path d="M5030 2610l20-24 20-9 20-5 20 0 20-2 20-7 20-5 20-1 20-7 20-2 20-9 20-17 20-20 20-16 20-46 20-13 20-4 20-19 20-14 20-13 20-2 20-23 20-2 20-10 20-9 20-7 20-22 20-20 20-21 20-16 20 0 20-14 20 0 20-11 20-17 20-13 20 0 20-5 20-4 20-4 20-14 20-20 20-18 20-9 20-16 20-7 20-3 20-10 20-8 20 0 20 0 20-13 20-1 20-5 20-15 20-20 20-1 20-1 20-4 20 0 20-15 20-12 20 0 20 0 20-10 20 0 20 0 20-6 20-6 20-2 20-9 20 0 20 0 20-6 20 0 20 0 20 0 20 0 20 5 20 0 20-1 20-2 20 0 20 0 20 0 20 1 20 0 20 0 20 0 20 0 20 3 20 9 20 5 20 3 20 0 20 0 20 7 20 0 20 7 20 1 20 0 20-1 20 0 20-18 20 0 20 0 20-7 20-8 20-2 20 0 20-4 20 0 20-6 20-12 20-5 20-3 20 0 20-12 20-17 20-13 20-11 20-8 20-9 20-20 20-4 20-7 20 0 20-10 20 0 20-1 20-10 20-25 20-22 20-13 20-16 20-14 20-11 20 0 20 0 20 0 20 0 20 0 20-1 20-7 20-21 20-2 20-6 20 0 20 0 20-1 20 0 20 0 20 0 20 0 20-14 20 0 20 0 20-1 20-3 20 0 20 0 20-2 20 3 20-2 20 13 20 14 20 4 20 13 20 9 20 8 20 7 20 2 20 7 20 12 20 3 20 0 20 5 20 1 20 44 20 17 20 9 20 11 20 6 20 0 20-1 20-7 20-10 20 0 20-5 20-8 20-1 20-4 20-5 20-2 20-8 20-12 20-16 20-2 15-10" stroke="#22dbe4" stroke-width="20" fill="none" stroke-linejoin="round"/><path d="M5030 2605l20-2 20-5 20-5 20-6 20-8 20-7 20-8 20-9 20-10 20-11 20-12 20-13 20-13 20-14 20-20 20-20 20-21 20-23 20-22 20-24 20-22 20-21 20-21 20-18 20-15 20-10 20-8 20-6 20-5 20-3 20-2 20-3 20-3 20-3 20-5 20-5 20-6 20-7 20-8 20-8 20-11 20-13 20-16 20-17 20-15 20-14 20-14 20-12 20-12 20-11 20-11 20-9 20-5 20-2 20 0 20-1 20-3 20-2 20-4 20-4 20-5 20-4 20-6 20-6 20-8 20-7 20-6 20-3 20 0 20 0 20-1 20 0 20-1 20 0 20 1 20 1 20 1 20 0 20-2 20-2 20-3 20-4 20-1 20-1 20 2 20 1 20 1 20 3 20 2 20 2 20 3 20 5 20 7 20 5 20 4 20 3 20 1 20 1 20 0 20 1 20 0 20-2 20-2 20-6 20-6 20-5 20-5 20-5 20-5 20-4 20-4 20-5 20-4 20-6 20-5 20-5 20-4 20-5 20-8 20-10 20-14 20-15 20-15 20-16 20-16 20-13 20-13 20-14 20-12 20-10 20-9 20-6 20-7 20-6 20-5 20-7 20-7 20-8 20-5 20-7 20-6 20-5 20-5 20-5 20-4 20-2 20 0 20-1 20-2 20-3 20-2 20-1 20 0 20-1 20 2 20 1 20 0 20-1 20-3 20-2 20-1 20-1 20-1 20 0 20 3 20 6 20 7 20 9 20 11 20 15 20 16 20 16 20 17 20 16 20 18 20 15 20 14 20 13 20 11 20 9 20 7 20 2 20 0 20-3 20-6 20-9 20-8 20-12 20-12 20-15 20-15 20-14 20-12 20-7 20-5 20-3 20-1 20-3 15-3" stroke="#d89a28" stroke-width="9" fill="none" stroke-linejoin="round"/><path d="M5030 2610l20-24 20-9 20-5 20 0 20-15 20-14 20-9 20-1 20-23 20-5 20-15 20-19 20-27 20-19 20-40 20-12 20-19 20-20 20-37 20-16 20-14 20-31 20-1 20 0 20-2 20-14 20-8 20 0 20-1 20-4 20 6 20 0 20 0 20-10 20-6 20-11 20-8 20-11 20-10 20-12 20-14 20-27 20-24 20-14 20-14 20-24 20-12 20 2 20 0 20 11 20-1 20 0 20-12 20 0 20 0 20-6 20-3 20-3 20-10 20-7 20-21 20-3 20 0 20 0 20-22 20-2 20-3 20 2 20 7 20 7 20 6 20 3 20-3 20 0 20 0 20 0 20-5 20-7 20 0 20-5 20-2 20-2 20-2 20 6 20 3 20 6 20 1 20 6 20 0 20 7 20 5 20 8 20 6 20 2 20 1 20 0 20 3 20 0 20-11 20 0 20-1 20-8 20-2 20-20 20-3 20-1 20-7 20-7 20 0 20 1 20 0 20 0 20-1 20-11 20-18 20-7 20-2 20-11 20-23 20-13 20-11 20-12 20-29 20-20 20-19 20-7 20 0 20-11 20 0 20-1 20-9 20-15 20 0 20 0 20-21 20-16 20 0 20-9 20-3 20 7 20 4 20-1 20-4 20-8 20-11 20-4 20 0 20 0 20 2 20-3 20 0 20 1 20 0 20 0 20 3 20 0 20 0 20-4 20-3 20 0 20 0 20-11 20 12 20-2 20 13 20 14 20 4 20 13 20 32 20 28 20 15 20 11 20 18 20 24 20 12 20 0 20 12 20 4 20 22 20 0 20 4 20-15 20-15 20-15 20-5 20-17 20-28 20-9 20-4 20-24 20-6 20-13 20-1 20 0 20 3 20 2 20 2 20 8 15-10" stroke="#d89a28" stroke-width="9" fill="none" stroke-linejoin="round"/><path d="M5030 2605l20-3 20-5 20-8 20-8 20-9 20-10 20-11 20-11 20-12 20-10 20-9 20-11 20-14 20-17 20-22 20-25 20-26 20-26 20-25 20-26 20-22 20-20 20-16 20-11 20-9 20-7 20-5 20-5 20-2 20-3 20 0 20-1 20-1 20-5 20-6 20-6 20-8 20-10 20-10 20-10 20-13 20-15 20-15 20-17 20-16 20-16 20-15 20-14 20-13 20-8 20-6 20-3 20 1 20 0 20 0 20 0 20-3 20-4 20-5 20-3 20-7 20-8 20-8 20-7 20-8 20-5 20-4 20-2 20 1 20 2 20 1 20 1 20 2 20 1 20 2 20 0 20-2 20-4 20-3 20-2 20-3 20-2 20-2 20 0 20 2 20 2 20 3 20 4 20 3 20 4 20 6 20 5 20 5 20 5 20 3 20 2 20 1 20 1 20 1 20-1 20-4 20-5 20-4 20-6 20-6 20-4 20-7 20-5 20-5 20-4 20-4 20-4 20-3 20-4 20-6 20-6 20-4 20-6 20-10 20-13 20-16 20-18 20-16 20-18 20-18 20-17 20-14 20-11 20-6 20-5 20-5 20-3 20-4 20-7 20-8 20-10 20-8 20-10 20-6 20-5 20-4 20-3 20-3 20-3 20-2 20-2 20-2 20-1 20-4 20-3 20 0 20 1 20 2 20 1 20-1 20 0 20 0 20 0 20-2 20-4 20-3 20-2 20 0 20 1 20 4 20 6 20 12 20 15 20 17 20 18 20 19 20 18 20 17 20 16 20 16 20 13 20 13 20 10 20 9 20 7 20 6 20 1 20-4 20-8 20-11 20-13 20-14 20-16 20-16 20-16 20-13 20-10 20-9 20-4 20-3 20-1 20 1 20-1 15 0" stroke="#3a46e0" stroke-width="10" fill="none" stroke-linejoin="round"/><path d="M5030 2605l20-4 20-9 20-11 20-13 20-14 20-14 20-10 20-7 20-8 20-7 20-12 20-12 20-18 20-22 20-31 20-31 20-32 20-29 20-26 20-20 20-13 20-10 20-11 20-8 20-7 20-4 20-5 20-1 20 1 20 0 20 0 20-1 20-1 20-8 20-10 20-11 20-11 20-13 20-12 20-7 20-10 20-16 20-20 20-20 20-23 20-19 20-14 20-7 20-3 20-1 20-1 20-1 20 2 20 0 20 0 20 0 20-3 20-6 20-10 20-8 20-9 20-8 20-6 20-4 20-8 20-6 20-1 20 0 20 4 20 6 20 6 20 3 20 0 20-3 20-3 20-3 20-3 20-3 20-2 20-1 20-3 20-3 20-1 20 2 20 3 20 4 20 6 20 9 20 3 20 2 20 3 20 4 20 5 20 6 20 6 20 2 20-1 20-2 20-5 20-4 20-6 20-5 20-1 20-8 20-7 20-5 20-7 20-5 20-6 20-1 20-1 20-4 20-3 20-5 20-8 20-8 20-5 20-7 20-13 20-14 20-19 20-22 20-25 20-24 20-17 20-9 20-6 20-5 20 1 20 1 20-4 20-6 20-8 20-10 20-13 20-12 20-9 20-7 20-3 20-2 20 1 20 1 20-2 20-6 20-5 20-4 20-2 20 1 20-1 20 0 20 2 20 0 20-1 20 0 20 2 20 1 20 0 20-2 20-6 20-4 20-5 20-2 20 0 20 4 20 12 20 15 20 17 20 20 20 21 20 21 20 20 20 16 20 13 20 14 20 13 20 10 20 11 20 10 20 9 20 5 20 1 20-4 20-11 20-17 20-19 20-20 20-17 20-15 20-10 20-12 20-10 20-9 20-8 20-2 20 1 20 5 20 7 20 4 15-1" stroke="#3a46e0" stroke-width="8" fill="none" stroke-linejoin="round"/><path d="M5065 2560v30M5095 2530v30M5135 2520v30M5145 2520v20M5165 2500v30M5285 2400v40M5295 2380v40M5345 2300v40M5415 2250v30M5465 2190v60M5515 2210v20M5535 2200v30M5545 2210v20M5565 2210v20M5575 2200v30M5585 2190v30M5595 2210v20M5605 2210v20M5655 2200v20M5755 2140v30M5795 2130v20M5815 2120v30M5855 2080v30M5885 2030v30M5925 1960v70M5945 2000v20M5955 2000v30M5965 1990v50M5985 1990v80M6005 2000v20M6015 2000v30M6025 1990v30M6065 1990v40M6095 2000v40M6125 2000v30M6205 1950v40M6215 1960v30M6225 1970v30M6275 1940v20M6285 1940v20M6305 1940v20M6325 1910v40M6345 1920v30M6355 1930v20M6385 1940v30M6405 1950v30M6415 1960v20M6505 1930v30M6515 1930v30M6525 1940v20M6555 1940v20M6575 1920v40M6585 1930v30M6605 1920v40M6625 1920v40M6665 1920v30M6695 1930v30M6705 1940v30M6735 1950v30M6755 1950v40M6785 1960v20M6795 1960v30M6815 1960v20M6845 1970v20M6865 1940v50M6875 1970v40M6885 1980v20M6895 1990v30M6905 1990v40M6955 1970v30M6985 1960v20M7025 1960v30M7055 1950v30M7095 1950v30M7135 1920v50M7155 1920v30M7195 1920v30M7225 1910v60M7245 1890v50M7255 1910v30M7325 1860v40M7355 1860v30M7515 1710v30M7525 1710v30M7545 1720v30M7555 1720v30M7575 1720v30M7595 1710v50M7605 1720v30M7675 1660v50M7695 1670v20M7715 1670v20M7765 1640v20M7775 1650v20M7795 1640v40M7805 1660v30M7835 1650v50M7865 1650v20M7895 1630v30M7925 1630v20M7955 1640v20M7965 1640v30M7975 1630v40M7985 1640v30M8035 1630v20M8045 1630v30M8065 1630v30M8095 1640v30M8115 1620v40M8125 1630v20M8165 1640v30M8235 1620v30M8255 1610v30M8265 1620v30M8275 1600v40M8285 1630v30M8295 1630v50M8315 1600v70M8325 1640v50M8355 1700v30M8365 1700v30M8385 1720v40M8415 1750v30M8425 1760v30M8435 1760v40M8445 1790v20M8475 1780v40M8485 1790v40M8505 1800v40M8525 1830v30M8535 1840v20M8555 1830v30M8565 1840v30M8585 1850v20M8595 1850v20M8605 1860v30M8625 1850v40M8825 1710v40M8865 1680v30M8905 1700v30M8915 1710v30M8925 1720v30M8955 1720v40M8965 1730v30M9005 1690v20" stroke="#2b35e6" stroke-width="10" fill="none"/><path d="M5035 2590v40M5045 2570v30M5055 2540v40M5075 2530v20M5085 2520v40M5105 2530v50M5115 2520v30M5125 2510v30M5155 2500v30M5175 2490v30M5185 2500v30M5195 2490v30M5205 2500v20M5215 2470v40M5225 2480v30M5235 2470v20M5245 2450v30M5255 2450v30M5265 2430v40M5275 2420v40M5305 2380v30M5315 2340v40M5325 2330v30M5335 2290v40M5355 2280v30M5365 2280v20M5375 2270v40M5385 2260v20M5395 2260v20M5405 2230v40M5425 2230v30M5435 2220v40M5445 2230v50M5455 2230v30M5475 2210v20M5485 2200v30M5495 2200v30M5505 2200v40M5525 2180v50M5555 2200v20M5615 2200v30M5625 2210v20M5635 2180v50M5645 2200v40M5665 2190v50M5675 2200v20M5685 2200v20M5695 2190v30M5705 2170v40M5715 2160v20M5725 2160v40M5735 2150v30M5745 2130v40M5765 2140v20M5775 2150v30M5785 2130v30M5805 2120v20M5825 2110v30M5835 2110v30M5845 2100v40M5865 2060v30M5875 2040v30M5895 2010v40M5905 2000v40M5915 1990v40M5935 1990v40M5975 1990v20M5995 1990v40M6035 1990v20M6045 1980v30M6055 1990v20M6075 1990v40M6085 2000v40M6105 2010v30M6115 2000v20M6135 1990v30M6145 2000v20M6155 1970v50M6165 1980v20M6175 1970v20M6185 1980v20M6195 1960v30M6235 1960v20M6245 1950v20M6255 1920v50M6265 1940v30M6295 1930v20M6315 1930v20M6335 1920v30M6365 1930v30M6375 1930v20M6395 1940v20M6425 1950v30M6435 1950v30M6445 1940v30M6455 1950v20M6465 1940v30M6475 1940v30M6485 1940v20M6495 1930v60M6535 1940v30M6545 1930v20M6565 1930v30M6595 1920v20M6615 1920v40M6635 1920v30M6645 1920v30M6655 1910v40M6675 1910v30M6685 1910v30M6715 1930v30M6725 1920v50M6745 1940v30M6765 1950v40M6775 1940v30M6805 1950v20M6825 1940v40M6835 1950v30M6855 1970v20M6915 1980v30M6925 1980v20M6935 1980v20M6945 1970v40M6965 1970v40M6975 1950v40M6995 1970v30M7005 1970v30M7015 1950v40M7035 1950v40M7045 1950v20M7065 1950v30M7075 1940v30M7085 1940v30M7105 1930v30M7115 1900v40M7125 1910v30M7145 1920v20M7165 1910v50M7175 1890v50M7185 1900v40M7205 1910v40M7215 1900v40M7235 1900v40M7265 1900v30M7275 1890v30M7285 1890v30M7295 1890v30M7305 1890v30M7315 1860v40M7335 1880v20M7345 1860v20M7365 1880v20M7375 1880v20M7385 1840v60M7395 1860v20M7405 1840v20M7415 1810v30M7425 1810v20M7435 1780v30M7445 1760v30M7455 1760v30M7465 1740v30M7475 1750v20M7485 1740v40M7495 1730v20M7505 1720v20M7535 1710v30M7565 1720v30M7585 1720v30M7615 1710v40M7625 1720v30M7635 1710v50M7645 1700v30M7655 1690v30M7665 1680v30M7685 1680v30M7705 1660v30M7725 1660v30M7735 1650v20M7745 1650v30M7755 1630v30M7785 1640v30M7815 1660v30M7825 1650v30M7845 1650v30M7855 1650v20M7875 1640v30M7885 1630v30M7905 1610v40M7915 1620v20M7935 1620v20M7945 1630v30M7995 1630v40M8005 1620v40M8015 1630v20M8025 1610v40M8055 1630v30M8075 1640v30M8085 1620v30M8105 1620v50M8135 1630v30M8145 1620v40M8155 1630v30M8175 1640v20M8185 1620v40M8195 1610v30M8205 1600v30M8215 1600v40M8225 1600v20M8245 1610v20M8305 1630v30M8335 1670v40M8345 1680v30M8375 1720v20M8395 1740v30M8405 1740v30M8455 1780v40M8465 1780v30M8495 1800v20M8515 1820v40M8545 1830v20M8575 1850v20M8615 1850v30M8635 1850v30M8645 1850v30M8655 1830v40M8665 1820v40M8675 1800v40M8685 1800v20M8695 1770v40M8705 1760v40M8715 1750v40M8725 1760v50M8735 1750v40M8745 1740v30M8755 1740v20M8765 1720v50M8775 1710v40M8785 1730v20M8795 1720v30M8805 1710v30M8815 1710v20M8835 1690v20M8845 1690v40M8855 1690v20M8875 1680v40M8885 1680v40M8895 1680v30M8935 1710v30M8945 1720v20M8975 1710v40M8985 1710v20M8995 1710v20M9005 1680v30" stroke="#e8121c" stroke-width="10" fill="none"/><path d="M5030 2605l10-2 10-5 10-5 10-9 10-9 10-8 10-10 10-8 10-6 10-7 10-2 10-4 10-4 10-3 10-4 10-3 10-3 10-5 10-3 10-5 10-7 10-6 10-8 10-9 10-10 10-12 10-12 10-15 10-18 10-21 10-17 10-19 10-17 10-16 10-14 10-10 10-7 10-9 10-6 10-7 10-6 10-4 10-4 10-4 10-6 10-5 10-3 10-2 10-4 10-4 10-1 10-1 10 0 10 0 10-2 10 1 10 1 10 1 10 0 10 1 10 1 10-1 10 0 10-1 10-2 10-3 10-5 10-7 10-6 10-8 10-8 10-7 10-8 10-4 10-4 10-5 10-5 10-3 10-3 10-3 10-6 10-7 10-9 10-9 10-14 10-14 10-15 10-14 10-11 10-10 10-6 10-4 10-3 10-3 10 0 10-1 10 1 10 0 10 0 10-1 10 0 10-1 10-1 10-1 10-1 10 2 10 2 10 2 10 2 10 0 10 0 10-2 10-4 10-6 10-4 10-7 10-6 10-6 10-3 10-3 10-2 10-5 10-4 10-1 10-1 10-5 10-3 10-3 10-3 10-3 10-4 10-2 10 0 10-1 10 1 10 4 10 6 10 6 10 4 10 3 10 3 10 1 10 1 10-2 10-3 10-3 10-3 10-2 10-2 10-1 10-1 10 0 10-1 10 0 10 0 10-3 10-2 10-1 10-1 10 0 10-2 10-2 10 1 10-3 10 0 10-1 10 1 10 2 10 3 10 4 10 5 10 5 10 4 10 2 10 3 10 3 10 0 10 1 10-1 10 0 10 2 10 1 10 1 10 4 10 4 10 7 10 4 10 3 10 2 10 2 10 0 10-2 10-2 10-5 10-4 10-2 10-1 10-3 10-1 10-2 10-2 10-1 10-3 10-5 10-1 10 0 10-5 10-3 10-4 10-5 10-3 10-3 10-5 10-2 10-1 10 0 10-2 10-1 10-2 10-1 10 0 10 0 10-2 10-2 10-2 10-2 10-2 10-6 10-6 10-4 10-5 10-3 10-4 10-2 10-1 10-3 10-5 10-6 10-10 10-12 10-17 10-15 10-15 10-12 10-11 10-11 10-10 10-8 10-6 10-5 10-3 10-3 10 0 10 2 10 1 10 0 10 1 10 0 10 0 10-2 10-3 10-3 10-4 10-4 10-6 10-8 10-6 10-6 10-5 10-6 10-7 10-7 10-4 10-2 10-3 10-2 10 1 10 1 10 2 10 3 10 0 10 1 10 0 10-3 10-2 10-2 10-5 10-5 10-4 10-4 10-2 10 1 10 0 10 2 10 4 10 2 10 1 10 0 10-3 10-2 10-1 10-1 10 0 10 2 10 1 10 3 10 2 10-1 10 0 10-1 10-1 10 1 10-1 10 0 10 0 10-2 10-3 10-5 10-4 10-4 10-4 10-2 10 0 10 1 10 4 10 5 10 3 10 6 10 6 10 8 10 9 10 10 10 9 10 12 10 12 10 12 10 9 10 11 10 10 10 9 10 11 10 8 10 6 10 8 10 5 10 5 10 6 10 4 10 6 10 8 10 5 10 6 10 7 10 5 10 3 10 3 10 4 10 3 10 3 10 0 10 1 10-3 10-3 10-7 10-9 10-11 10-13 10-11 10-12 10-11 10-10 10-9 10-5 10-4 10-6 10-5 10-5 10-4 10-4 10-7 10-6 10-6 10-5 10-4 10-3 10-4 10 2 10 3 10 5 10 4 10 4 10 5 10 7 10 2 10-1 10-2 10-3 5-5" stroke="#e8121c" stroke-width="10" fill="none" stroke-linejoin="round"/></g>
<path d="M503.0 275.3V129.3" stroke="#6a6a6a" stroke-width="1" fill="none"/>
<path d="M502.5 129.3H911.2" stroke="#333" stroke-width="1.4" fill="none"/>
<path d="M502.5 275.3H943.0" stroke="#444" stroke-width="1.6" fill="none"/>
<path d="M910.7 129.3V277.3" stroke="#333" stroke-width="1.1" fill="none"/>
<path d="M942.5 126.8V276.3" stroke="#aeb3bd" stroke-width="1" fill="none"/>
<rect x="504.5" y="130.8" width="3.6" height="4.2" fill="#000"/>
<rect x="900.2" y="131.9" width="4" height="5" fill="#222"/><rect x="904.9" y="131.9" width="4" height="5" fill="#222"/>
<rect x="901.4" y="133.5" width="1.6" height="1.8" fill="#ddd"/><rect x="906.1" y="133.1" width="1.4" height="2.6" fill="#ddd"/>
<rect x="510.3" y="135.7" width="1.5" height="6.8" fill="#e8202a"/><text x="512.5" y="142.3" fill="#e8202a" font-size="10" font-weight="bold" textLength="32.8" lengthAdjust="spacingAndGlyphs">나스닥 종합</text><rect x="547.9" y="135.7" width="1.5" height="6.8" fill="#e8202a"/><text x="550.1" y="142.3" fill="#e8202a" font-size="10" font-weight="bold" textLength="3.3" lengthAdjust="spacingAndGlyphs">7</text><rect x="556.0" y="135.7" width="1.5" height="6.8" fill="#3a46e0"/><text x="558.2" y="142.3" fill="#3a46e0" font-size="10" font-weight="bold" textLength="6.2" lengthAdjust="spacingAndGlyphs">15</text><rect x="567.0" y="135.7" width="1.5" height="6.8" fill="#d89a28"/><text x="569.2" y="142.3" fill="#d89a28" font-size="10" font-weight="bold" textLength="7.0" lengthAdjust="spacingAndGlyphs">35</text><rect x="578.8" y="135.7" width="1.5" height="6.8" fill="#222"/><text x="581.0" y="142.3" fill="#222" font-size="10" font-weight="bold" textLength="6.5" lengthAdjust="spacingAndGlyphs">55</text><rect x="590.1" y="135.7" width="1.5" height="6.8" fill="#9a9a9a"/><text x="592.3" y="142.3" fill="#9a9a9a" font-size="10" font-weight="bold" textLength="9.2" lengthAdjust="spacingAndGlyphs">120</text><rect x="604.1" y="135.7" width="1.5" height="6.8" fill="#1f9a2e"/><text x="606.3" y="142.3" fill="#1f9a2e" font-size="10" font-weight="bold" textLength="10.4" lengthAdjust="spacingAndGlyphs">390</text><rect x="619.3" y="135.7" width="1.5" height="6.8" fill="#e8202a"/><text x="621.5" y="142.3" fill="#e8202a" font-size="10" font-weight="bold" textLength="3.0" lengthAdjust="spacingAndGlyphs">5</text><rect x="627.1" y="135.7" width="1.5" height="6.8" fill="#3a46e0"/><text x="629.3" y="142.3" fill="#3a46e0" font-size="10" font-weight="bold" textLength="6.0" lengthAdjust="spacingAndGlyphs">10</text><rect x="637.9" y="135.7" width="1.5" height="6.8" fill="#d89a28"/><text x="640.1" y="142.3" fill="#d89a28" font-size="10" font-weight="bold" textLength="7.0" lengthAdjust="spacingAndGlyphs">20</text><rect x="649.7" y="135.7" width="1.5" height="6.8" fill="#1f9a2e"/><text x="651.9" y="142.3" fill="#1f9a2e" font-size="10" font-weight="bold" textLength="7.0" lengthAdjust="spacingAndGlyphs">60</text><rect x="661.5" y="135.7" width="1.5" height="6.8" fill="#9a9a9a"/><text x="663.7" y="142.3" fill="#9a9a9a" font-size="10" font-weight="bold" textLength="9.2" lengthAdjust="spacingAndGlyphs">120</text><rect x="675.5" y="135.7" width="1.5" height="6.8" fill="#e8202a"/><text x="677.7" y="142.3" fill="#e8202a" font-size="10" font-weight="bold" textLength="10.0" lengthAdjust="spacingAndGlyphs">240</text><rect x="690.3" y="135.7" width="1.5" height="6.8" fill="#22d4dc"/><text x="692.5" y="142.3" fill="#22d4dc" font-size="10" font-weight="bold" textLength="60.0" lengthAdjust="spacingAndGlyphs">기준선(26,9,26,52,26)</text><rect x="755.1" y="135.7" width="1.5" height="6.8" fill="#d89a28"/><text x="757.3" y="142.3" fill="#d89a28" font-size="10" font-weight="bold" textLength="17.5" lengthAdjust="spacingAndGlyphs">전환선</text>
<path d="M911.2 158.3l2.4 1.3l-2.4 1.3z" fill="#222"/>
<path d="M911.2 174.1l2.4 1.3l-2.4 1.3z" fill="#222"/>
<path d="M911.2 189.5l2.4 1.3l-2.4 1.3z" fill="#222"/>
<text x="940.9" y="194.4" fill="#606060" font-size="12.8" text-anchor="end" textLength="25.5" lengthAdjust="spacingAndGlyphs">14,400.00</text>
<path d="M911.2 205.4l2.4 1.3l-2.4 1.3z" fill="#222"/>
<text x="940.9" y="210.3" fill="#606060" font-size="12.8" text-anchor="end" textLength="25.5" lengthAdjust="spacingAndGlyphs">14,000.00</text>
<path d="M911.2 221.3l2.4 1.3l-2.4 1.3z" fill="#222"/>
<text x="940.9" y="226.2" fill="#606060" font-size="12.8" text-anchor="end" textLength="25.5" lengthAdjust="spacingAndGlyphs">13,600.00</text>
<path d="M911.2 236.7l2.4 1.3l-2.4 1.3z" fill="#222"/>
<text x="940.9" y="241.6" fill="#606060" font-size="12.8" text-anchor="end" textLength="25.5" lengthAdjust="spacingAndGlyphs">13,200.00</text>
<path d="M911.2 252.4l2.4 1.3l-2.4 1.3z" fill="#222"/>
<text x="940.9" y="257.3" fill="#606060" font-size="12.8" text-anchor="end" textLength="25.5" lengthAdjust="spacingAndGlyphs">12,800.00</text>
<rect x="914.5" y="160.1" width="26.7" height="26.3" fill="#fa1218"/>
<path d="M914.2 163.6l-3.4 4.2l3.4 4.2z" fill="#fa1218"/>
<text x="940.8" y="171.8" fill="#fff" font-size="12.8" text-anchor="end" textLength="25.7" lengthAdjust="spacingAndGlyphs">14,972.76</text>
<text x="940.8" y="184.2" fill="#fff" font-size="12.8" text-anchor="end" textLength="23.2" lengthAdjust="spacingAndGlyphs">( 0.02%)</text>
<text x="732.0" y="154.4" fill="#fa1218" font-size="12.2" font-weight="bold" textLength="80.0" lengthAdjust="spacingAndGlyphs">15,150.07(1.18% 12/28,10:30)</text>
<path d="M812.8 150.0h4.2v5" stroke="#fa1218" stroke-width="1" fill="none"/><path d="M815.5 154.5h3l-1.5 2.8z" fill="#fa1218"/>
<text x="509.0" y="272.9" fill="#2222f5" font-size="12.2" font-weight="bold" textLength="87.0" lengthAdjust="spacingAndGlyphs">12,696.97(-15.28% 10/30,12:30)</text>
<path d="M508.0 268.5h-3.8v-5" stroke="#2222f5" stroke-width="1" fill="none"/><path d="M502.7 264.0h3l-1.5-2.8z" fill="#2222f5"/>
<rect x="33.7" y="344.5" width="440.2" height="153.9" fill="#fff"/>
<path d="M36.2 380.6H439.6M36.2 395.8H439.6M36.2 410.9H439.6M36.2 426.1H439.6M36.2 441.4H439.6M36.2 456.4H439.6M36.2 471.7H439.6" stroke="#cfcfcf" stroke-width="0.7" stroke-dasharray="1.1 2" fill="none"/>
<path d="M78.0 348.5V494.4M122.0 348.5V494.4M165.0 348.5V494.4M208.0 348.5V494.4M251.0 348.5V494.4M294.0 348.5V494.4M338.0 348.5V494.4M381.0 348.5V494.4M424.0 348.5V494.4" stroke="#d2d2d2" stroke-width="0.7" stroke-dasharray="1.1 2" fill="none"/>
<g transform="scale(.1)"><path d="M775 4775l60-10 60-9 60-10 60-9 60-9 60-9 60-9 60-9 60-9 60-8 60-9 60-8 60-9 60-8 60-8 60-8 60-8 60-8 60-7 60-8 60-7 60-8 60-7 60-6 60-7 60-7 60-7 60-6 60-6 60-7 60-6 60-6 60-7 60-6 60-7 60-6 60-6 60-7 60-7 60-6 60-7 60-6 60-7 60-6 60-7 60-6 60-7 60-6 60-7 60-6 60-7 60-6 60-7 60-6 60-7 60-6 60-7 60-6 35-4" stroke="#16a51f" stroke-width="21" fill="none" stroke-linejoin="round"/><path d="M345 4715l60-6 60-6 60-7 60-6 60-7 60-7 60-7 60-7 60-7 60-8 60-8 60-8 60-8 60-8 60-8 60-9 60-9 60-9 60-9 60-9 60-10 60-9 60-10 60-9 60-10 60-9 60-9 60-10 60-10 60-9 60-10 60-11 60-10 60-10 60-11 60-10 60-10 60-10 60-10 60-10 60-10 60-10 60-9 60-9 60-8 60-9 60-9 60-8 60-8 60-9 60-8 60-8 60-8 60-8 60-8 60-7 60-8 60-7 60-8 60-7 60-7 60-7 60-7 60-7 60-6 45-5" stroke="#f4787c" stroke-width="11" fill="none" stroke-linejoin="round"/><path d="M345 4560l60-6 60-6 60-5 60-6 60-6 60-5 60-5 60-6 60-5 60-5 60-5 60-5 60-4 60-5 60-4 60-4 60-5 60-5 60-6 60-8 60-10 60-11 60-14 60-14 60-15 60-15 60-16 60-15 60-17 60-18 60-19 60-19 60-19 60-19 60-18 60-16 60-17 60-17 60-15 60-14 60-12 60-9 60-9 60-8 60-7 60-6 60-7 60-6 60-6 60-7 60-5 60-3 60-1 60 1 60 2 60 2 60 2 60 2 60 1 60-1 60-2 60-5 60-5 60-8 60-8 45-6" stroke="#a9a9a9" stroke-width="12" fill="none" stroke-linejoin="round"/><path d="M345 4553l40-14 40-13 40-11 40-10 40-9 40-8 40-6 40-6 40-4 40-4 40-2 40-2 40-1 40 0 40 3 40 7 40 7 40 6 40 2 40-3 40-7 40-10 40-12 40-15 40-16 40-17 40-16 40-16 40-15 40-14 40-15 40-16 40-16 40-16 40-17 40-16 40-17 40-17 40-16 40-16 40-16 40-16 40-17 40-17 40-18 40-17 40-17 40-15 40-14 40-13 40-9 40-7 40-5 40-5 40-4 40-5 40-6 40-9 40-9 40-8 40-5 40 0 40 2 40 4 40 5 40 6 40 6 40 6 40 7 40 7 40 9 40 10 40 11 40 11 40 12 40 10 40 11 40 13 40 13 40 10 40 6 40 1 40-2 40-3 40-3 40-4 40-5 40-4 40-5 40-4 40-5 40-5 40-5 40-7 40-7 40-9 40-11 40-13 25-8" stroke="#2e8b57" stroke-width="9" fill="none" stroke-linejoin="round"/><path d="M345 4540l40-14 40-13 40-11 40-10 40-9 40-8 40-6 40-6 40-4 40-4 40-2 40-2 40-1 40 0 40 3 40 7 40 7 40 6 40 2 40-3 40-7 40-10 40-12 40-15 40-16 40-17 40-16 40-16 40-15 40-14 40-15 40-16 40-16 40-16 40-17 40-16 40-17 40-17 40-16 40-16 40-16 40-16 40-17 40-17 40-18 40-17 40-17 40-15 40-14 40-13 40-9 40-7 40-5 40-5 40-4 40-5 40-6 40-9 40-9 40-8 40-5 40 0 40 2 40 4 40 5 40 6 40 6 40 6 40 7 40 7 40 9 40 10 40 11 40 11 40 12 40 10 40 11 40 13 40 13 40 10 40 6 40 1 40-2 40-3 40-3 40-4 40-5 40-4 40-5 40-4 40-5 40-5 40-5 40-7 40-7 40-9 40-11 40-13 25-8" stroke="#111" stroke-width="20" fill="none" stroke-linejoin="round"/><path d="M345 4503l15 1 15 0 15 0 15 0 15-1 15 0 15-1 15 0 15-1 15 0 15 0 15 0 15-1 15 0 15-1 15-1 15 0 15-1 15-1 15-1 15-1 15-1 15-1 15-1 15-1 15-2 15-1 15-2 15-1 15-2 15-2 15-3 15-2 15-3 15-3 15-3 15-3 15-2 15-2 15 0 15 3 15 5 15 5 15 3 15 3 15 2 15 2 15 2 15 2 15 1 15 2 15 1 15 1 15 0 15 0 15 0 15-1 15-1 15-2 15-1 15-2 15-2 15-2 15-2 15-2 15-2 15-3 15-3 15-3 15-3 15-4 15-3 15-4 15-4 15-3 15-4 15-4 15-4 15-3 15-4 15-3 15-3 15-3 15-3 15-4 15-5 15-7 15-10 15-12 15-12 15-11 15-10 15-10 15-10 15-11 15-10 15-10 15-10 15-9 15-9 15-10 15-8 15-9 15-8 15-8 15-8 15-8 15-7 15-8 15-7 15-7 15-6 15-8 15-6 15-7 15-7 15-8 15-6 15-7 15-7 15-6 15-7 15-7 15-6 15-7 15-6 15-6 15-6 15-6 15-6 15-6 15-6 15-6 15-6 15-6 15-6 15-6 15-6 15-5 15-6 15-6 15-5 15-6 15-5 15-6 15-5 15-6 15-5 15-4 15-4 15-4 15-3 15-2 15-2 15-2 15-1 15-2 15-2 15-3 15-3 15-2 15-1 15-1 15 0 15 1 15 1 15 3 15 3 15 5 15 5 15 5 15 5 15 6 15 5 15 5 15 5 15 4 15 4 15 4 15 4 15 4 15 4 15 5 15 5 15 6 15 6 15 7 15 8 15 8 15 9 15 8 15 9 15 9 15 9 15 8 15 7 15 6 15 6 15 5 15 5 15 4 15 4 15 4 15 4 15 4 15 4 15 4 15 4 15 4 15 3 15 3 15 2 15 1 15 2 15 0 15 0 15-1 15-1 15-1 15-2 15-2 15-3 15-3 15-2 15-2 15-2 15-2 15-3 15-3 15-4 15-4 15-5 15-5 15-7 15-7 15-7 15-8 15-7 15-7 15-7 15-6 15-5 15-5 15-4 15-4 15-4 15-3 15-4 15-3 15-3 15-3 15-3 15-3 15-3 15-3 15-5 15-4 15-5 15-5 15-6 15-6 15-6 15-7" stroke="#d89a28" stroke-width="17" fill="none" stroke-linejoin="round"/><path d="M345 4502l15 7 15-4 15-6 15 0 15-6 15-21 15 0 15 0 15 0 15 2 15 0 15 0 15 0 15 0 15 0 15 0 15 0 15 0 15 0 15 0 15 0 15 0 15 0 15 0 15-20 15 0 15 0 15 0 15 0 15-4 15 0 15 0 15-6 15-1 15-10 15 0 15-6 15 0 15 0 15 11 15 63 15 28 15 12 15 0 15 0 15 0 15 0 15 0 15 0 15 0 15 0 15 0 15 0 15 0 15 0 15 0 15 0 15 0 15 0 15 0 15 0 15 0 15 0 15 0 15 0 15 0 15-14 15 0 15-10 15 0 15-9 15 0 15 0 15-30 15 0 15 0 15 0 15-56 15-4 15-28 15 0 15 0 15-1 15-8 15-21 15-7 15-10 15-14 15-11 15-12 15-7 15-20 15-4 15-3 15-9 15-8 15-14 15 0 15-15 15 0 15-29 15 0 15 0 15-23 15-31 15-5 15 0 15 0 15-30 15-11 15 0 15-13 15 0 15 0 15-2 15 0 15 0 15 0 15-8 15-5 15 0 15-6 15 0 15-11 15-12 15-2 15 0 15-17 15 0 15-4 15 0 15 0 15 0 15-11 15-18 15 0 15-6 15-1 15-13 15-9 15-14 15 0 15-7 15 0 15 0 15 0 15-31 15 0 15-11 15 0 15-4 15 0 15 0 15-17 15 5 15 0 15 0 15 0 15 0 15 0 15 0 15 0 15 0 15 0 15 11 15 13 15 20 15 17 15 22 15 48 15 0 15 0 15 0 15 0 15 0 15 0 15 0 15 0 15 0 15 0 15 0 15 19 15 0 15 33 15 0 15 10 15 0 15 5 15 0 15 6 15 0 15 11 15 0 15 0 15 1 15 2 15 17 15 0 15 21 15 18 15 5 15 17 15 0 15 0 15 0 15 0 15 0 15-5 15 0 15 0 15 0 15 0 15 0 15 0 15 0 15 0 15 0 15 0 15 0 15 0 15-1 15-3 15-59 15 0 15 0 15 0 15-11 15 0 15 0 15-26 15 0 15 0 15-6 15-25 15 0 15 0 15 0 15 0 15-50 15 0 15 0 15 0 15 0 15 0 15 0 15 0 15 0 15 0 15-2 15 0 15 0 15-4 15-9 15-1 15 0 15 0 15-45 15 0 15 0 15 0 15 0 15-15 15 0" stroke="#22dbe4" stroke-width="20" fill="none" stroke-linejoin="round"/><path d="M345 4503l15 1 15 0 15 0 15 0 15-1 15 0 15-1 15-1 15-1 15-1 15 0 15 0 15-1 15-1 15-1 15-1 15-2 15-1 15-2 15-1 15-2 15-2 15-1 15-2 15-2 15-3 15-2 15-4 15-2 15-4 15-3 15-3 15-4 15-4 15-5 15-4 15-5 15-4 15-2 15 1 15 5 15 10 15 10 15 8 15 5 15 6 15 6 15 5 15 5 15 4 15 4 15 3 15 3 15 3 15 2 15 2 15 1 15 1 15 1 15 1 15 0 15 2 15 0 15 1 15-1 15-4 15-6 15-11 15-15 15-16 15-15 15-12 15-13 15-14 15-12 15-13 15-12 15-12 15-12 15-11 15-11 15-10 15-9 15-9 15-8 15-8 15-9 15-8 15-8 15-8 15-8 15-8 15-8 15-8 15-8 15-7 15-8 15-6 15-7 15-7 15-6 15-7 15-6 15-7 15-7 15-7 15-6 15-6 15-7 15-6 15-7 15-5 15-7 15-6 15-6 15-7 15-8 15-7 15-7 15-6 15-8 15-7 15-6 15-6 15-6 15-6 15-6 15-5 15-5 15-5 15-5 15-5 15-5 15-5 15-5 15-5 15-6 15-7 15-6 15-5 15-7 15-5 15-4 15-5 15-4 15-5 15-5 15-4 15-3 15-2 15-1 15-1 15 1 15 0 15 2 15 1 15 0 15 0 15 1 15 0 15 0 15 1 15 2 15 3 15 4 15 6 15 7 15 10 15 10 15 12 15 12 15 13 15 13 15 13 15 12 15 12 15 9 15 9 15 6 15 6 15 5 15 6 15 6 15 6 15 8 15 9 15 10 15 11 15 12 15 12 15 10 15 10 15 8 15 6 15 4 15 1 15 1 15 0 15-1 15-1 15 0 15-1 15-1 15 0 15 1 15 1 15 0 15-1 15-1 15 0 15-1 15-2 15-2 15-2 15-4 15-4 15-5 15-4 15-6 15-6 15-5 15-6 15-6 15-5 15-6 15-6 15-7 15-6 15-7 15-8 15-7 15-8 15-8 15-7 15-8 15-7 15-8 15-6 15-7 15-6 15-7 15-6 15-6 15-6 15-5 15-5 15-4 15-2 15-2 15-1 15-2 15-1 15-1 15-1 15-2 15-2 15-2 15-2 15-2 15-2 15-3 15-2 15-3" stroke="#d89a28" stroke-width="9" fill="none" stroke-linejoin="round"/><path d="M345 4502l15 7 15-4 15-6 15 0 15-6 15-21 15 0 15 0 15 0 15 2 15 0 15 0 15 0 15 0 15 0 15 0 15 0 15 17 15-12 15 0 15 0 15-12 15 0 15 0 15-19 15 0 15 0 15 0 15 0 15-5 15 0 15 0 15-6 15 0 15-35 15-3 15-7 15 0 15 4 15 42 15 63 15 28 15 12 15 0 15 0 15 0 15 0 15 0 15 26 15 28 15 31 15 4 15 0 15-8 15-40 15-16 15-49 15-5 15 0 15-1 15-17 15-28 15-13 15-10 15-16 15-11 15-30 15-7 15-16 15-4 15-13 15-6 15 0 15-30 15 0 15-15 15 0 15-40 15-4 15 0 15-22 15-3 15-4 15 0 15 0 15 0 15-11 15-6 15-14 15 0 15 0 15-15 15 0 15 0 15-2 15-16 15-20 15 0 15 0 15 0 15-21 15-6 15 0 15-1 15-44 15 0 15-5 15 0 15-30 15 0 15-10 15-6 15 0 15-5 15 0 15-13 15 0 15-3 15 0 15 0 15 4 15-9 15 0 15-10 15-7 15-12 15 0 15-4 15 0 15 0 15-23 15 0 15 0 15 0 15-13 15 0 15-6 15-1 15 0 15-12 15-12 15-6 15-6 15-1 15-1 15 0 15-33 15-6 15 0 15-3 15 7 15 15 15 7 15 13 15 5 15 0 15 0 15 0 15 18 15 0 15 34 15 0 15 10 15 0 15 12 15 12 15 21 15 16 15 28 15 48 15 0 15 1 15 2 15 17 15 0 15 21 15 18 15 5 15 17 15 0 15 0 15-15 15 0 15-12 15 0 15 0 15 13 15 18 15 0 15 6 15 0 15 9 15 4 15 19 15 2 15 1 15 1 15 12 15 0 15-4 15 0 15-1 15-13 15-10 15 0 15-8 15-7 15-15 15 0 15 0 15 0 15 0 15 0 15 0 15 0 15-49 15 0 15 0 15 0 15 6 15-7 15-3 15-59 15 0 15 0 15-2 15 0 15 0 15-4 15-35 15-2 15 0 15-6 15-72 15 0 15 0 15-11 15-5 15-6 15-5 15-7 15 36 15 0 15 0 15 0 15 14 15 0 15 22 15 7 15 0 15 0 15 18 15 1 15-10 15-16 15-5 15-13 15-13 15-7 15-4 15 0 15-29 15 0" stroke="#d89a28" stroke-width="9" fill="none" stroke-linejoin="round"/><path d="M345 4503l15 1 15 0 15 0 15 0 15-1 15-1 15-1 15-1 15-2 15 0 15 0 15-1 15-1 15-1 15-1 15-2 15-2 15-2 15-3 15-2 15-3 15-2 15-1 15-3 15-2 15-3 15-2 15-2 15-3 15-4 15-4 15-5 15-5 15-6 15-5 15-5 15-6 15-4 15 0 15 2 15 8 15 14 15 13 15 11 15 9 15 9 15 9 15 9 15 7 15 8 15 8 15 7 15 7 15 6 15 7 15 5 15 5 15 2 15-1 15-5 15-12 15-17 15-17 15-15 15-13 15-13 15-14 15-13 15-14 15-14 15-14 15-13 15-12 15-13 15-12 15-11 15-10 15-10 15-10 15-9 15-10 15-8 15-8 15-8 15-8 15-8 15-7 15-8 15-7 15-7 15-6 15-7 15-7 15-5 15-7 15-7 15-8 15-6 15-7 15-6 15-7 15-7 15-8 15-7 15-8 15-8 15-6 15-7 15-7 15-5 15-6 15-4 15-6 15-6 15-7 15-5 15-7 15-7 15-7 15-7 15-6 15-7 15-7 15-6 15-6 15-6 15-5 15-6 15-5 15-5 15-6 15-7 15-5 15-6 15-4 15-5 15-4 15-4 15-4 15-4 15-5 15-4 15-3 15-5 15-5 15-4 15-6 15-4 15-5 15-3 15-2 15 1 15 1 15 3 15 3 15 3 15 4 15 3 15 1 15 2 15 4 15 4 15 4 15 6 15 8 15 10 15 12 15 13 15 15 15 14 15 14 15 13 15 13 15 11 15 10 15 10 15 9 15 9 15 9 15 9 15 10 15 9 15 8 15 8 15 8 15 6 15 6 15 6 15 5 15 5 15 4 15 5 15 3 15 2 15 2 15 1 15 2 15 2 15 4 15 4 15 2 15 2 15 1 15 1 15-1 15-2 15-4 15-7 15-7 15-9 15-8 15-8 15-7 15-5 15-4 15-3 15-2 15-1 15-3 15-4 15-4 15-5 15-5 15-6 15-5 15-6 15-6 15-6 15-7 15-7 15-9 15-9 15-10 15-11 15-12 15-12 15-11 15-11 15-9 15-8 15-7 15-5 15-2 15-3 15-2 15 0 15 0 15 2 15 2 15 2 15 3 15 3 15 4 15 3 15 2 15 0 15 0 15-3 15-3 15-4 15-6 15-7 15-7" stroke="#3a46e0" stroke-width="10" fill="none" stroke-linejoin="round"/><path d="M345 4503l15 2 15-1 15 0 15 0 15-1 15-1 15-2 15-2 15-3 15 0 15 0 15-2 15-1 15-2 15-3 15-3 15-2 15-2 15-3 15-1 15-1 15-1 15-3 15-3 15-4 15-4 15-4 15-3 15-2 15-4 15-5 15-5 15-5 15-7 15-8 15-8 15-8 15-3 15 0 15 6 15 16 15 22 15 24 15 20 15 18 15 17 15 19 15 19 15 17 15 17 15 13 15 8 15 0 15-9 15-19 15-19 15-18 15-14 15-15 15-16 15-16 15-15 15-15 15-14 15-14 15-13 15-13 15-12 15-12 15-12 15-11 15-11 15-10 15-12 15-10 15-10 15-10 15-9 15-11 15-9 15-9 15-7 15-6 15-5 15-6 15-6 15-5 15-7 15-5 15-7 15-5 15-7 15-6 15-6 15-7 15-9 15-9 15-8 15-7 15-8 15-8 15-8 15-6 15-8 15-7 15-7 15-7 15-5 15-6 15-4 15-4 15-3 15-6 15-4 15-5 15-7 15-8 15-7 15-6 15-7 15-8 15-8 15-9 15-8 15-9 15-7 15-7 15-4 15-4 15-2 15-2 15-4 15-3 15-3 15-2 15-3 15-4 15-5 15-3 15-5 15-6 15-7 15-6 15-6 15-6 15-6 15-6 15-5 15-3 15-1 15 1 15 3 15 5 15 9 15 8 15 8 15 8 15 8 15 7 15 6 15 6 15 6 15 5 15 6 15 6 15 8 15 8 15 10 15 14 15 17 15 18 15 20 15 22 15 20 15 18 15 17 15 12 15 10 15 4 15 2 15 1 15-2 15-4 15-4 15-2 15-2 15 0 15 4 15 6 15 11 15 10 15 14 15 12 15 9 15 6 15 5 15 4 15 2 15 1 15-2 15-5 15-7 15-10 15-9 15-10 15-10 15-10 15-9 15-6 15-6 15-6 15-5 15-4 15-3 15-2 15-1 15 0 15 0 15 0 15-1 15 0 15-4 15-6 15-5 15-6 15-9 15-10 15-12 15-13 15-14 15-16 15-15 15-14 15-14 15-13 15-10 15-10 15-7 15-5 15-5 15-2 15 0 15 2 15 4 15 5 15 6 15 7 15 9 15 8 15 8 15 5 15 4 15 4 15 1 15-3 15-5 15-7 15-9 15-9 15-11 15-13 15-14 15-14" stroke="#3a46e0" stroke-width="8" fill="none" stroke-linejoin="round"/><path d="M345 4490v30M365 4510v20M395 4470v40M435 4410v110M485 4460v30M515 4470v50M605 4450v40M615 4450v60M645 4440v30M665 4450v40M725 4380v80M735 4390v70M765 4410v50M785 4380v60M815 4380v50M885 4350v40M915 4370v30M935 4430v40M945 4490v60M965 4620v60M975 4680v60M1055 4590v40M1065 4580v50M1305 4350v70M1475 4240v60M1505 4240v40M1605 4190v50M1685 4150v70M1755 4110v40M1815 4100v40M1865 4040v50M1875 4060v50M1895 4070v20M2025 4040v30M2055 3970v80M2115 3940v50M2195 3930v20M2225 3890v90M2255 3920v40M2285 3910v50M2355 3900v20M2375 3870v70M2415 3860v50M2435 3870v30M2475 3840v30M2585 3800v60M2595 3870v20M2615 3870v50M2625 3900v50M2645 3890v70M2675 3950v50M2765 3900v60M2775 3900v40M2795 3940v20M2805 3940v40M2835 4020v20M2855 4030v60M2865 4080v40M2895 4140v120M2925 4170v60M2945 4170v30M3065 4070v80M3095 4110v50M3105 4120v30M3135 4120v60M3165 4190v80M3185 4230v30M3195 4190v90M3225 4210v80M3255 4190v50M3275 4170v50M3375 4130v40M3405 4130v140M3525 4070v80M3575 4110v40M3605 4120v50M3755 3960v50M3795 3870v100M3965 3930v50M3975 3940v110M3995 3930v60M4005 3960v40M4025 3960v60M4055 3940v70" stroke="#2b35e6" stroke-width="10" fill="none"/><path d="M375 4480v30M405 4480v30M425 4460v60M455 4450v40M465 4450v40M495 4470v60M525 4450v50M545 4470v40M555 4450v50M575 4450v30M585 4450v20M635 4420v50M675 4410v80M695 4450v70M705 4430v40M755 4420v30M795 4370v60M825 4370v70M845 4350v50M855 4350v30M875 4330v40M905 4320v40M995 4630v130M1005 4660v30M1025 4570v120M1035 4600v30M1085 4520v110M1095 4570v50M1115 4520v50M1125 4500v60M1145 4500v40M1155 4480v40M1175 4470v30M1185 4440v40M1205 4400v60M1215 4390v60M1235 4400v40M1245 4400v40M1265 4370v50M1275 4360v40M1295 4350v60M1325 4330v40M1335 4330v60M1355 4290v60M1365 4300v50M1385 4270v90M1395 4270v40M1415 4260v50M1425 4270v20M1445 4260v20M1455 4200v50M1485 4220v40M1515 4150v100M1535 4150v100M1545 4150v100M1565 4180v50M1575 4200v30M1595 4200v40M1625 4190v40M1635 4180v30M1655 4170v30M1665 4130v80M1695 4150v50M1715 4150v30M1725 4110v70M1745 4120v70M1775 4100v50M1785 4090v40M1805 4060v70M1835 4070v70M1845 4080v40M1905 4030v70M1925 3980v90M1935 4030v50M1955 4010v60M1965 4020v40M1985 3920v130M1995 4040v30M2015 4030v30M2045 4010v30M2075 3970v40M2085 3960v70M2105 3940v70M2135 3950v70M2145 3930v30M2165 3930v40M2175 3910v40M2205 3920v20M2235 3890v50M2265 3910v60M2295 3900v60M2315 3900v50M2325 3900v50M2345 3890v50M2385 3870v50M2405 3860v40M2445 3840v50M2465 3820v60M2495 3810v70M2505 3840v40M2525 3820v30M2535 3820v20M2555 3760v80M2565 3820v60M2655 3930v60M2685 3950v50M2705 3890v80M2715 3920v50M2735 3910v60M2745 3900v40M2825 3980v40M2885 4130v30M2915 4150v60M2955 4150v40M2975 4150v60M2985 4150v40M3005 4100v70M3015 4100v70M3035 4060v40M3045 4060v50M3075 4070v60M3125 4120v80M3155 4160v70M3215 4220v60M3245 4220v40M3285 4150v50M3305 4140v60M3315 4150v50M3335 4140v70M3345 4140v40M3365 4140v50M3395 4110v40M3425 4120v40M3435 4090v50M3455 4080v40M3465 4050v50M3485 4060v60M3495 4090v50M3515 4080v50M3545 4100v30M3555 4080v90M3585 4080v80M3615 4100v60M3635 4090v50M3645 4070v40M3665 4050v40M3675 4040v100M3695 3920v120M3705 4010v30M3725 4000v50M3735 3970v50M3765 3930v70M3785 3930v60M3815 3930v20M3825 3900v30M3845 3860v60M3855 3810v110M3875 3860v40M3885 3840v80M3905 3880v60M3915 3900v40M3935 3910v30M3945 3890v90M4035 3960v70M4065 3980v50M4085 3970v50M4095 4000v30M4115 3940v60M4125 3950v40M4145 3970v30M4155 3930v80M4175 3900v50M4185 3890v30M4205 3870v30M4215 3840v40M4235 3830v50M4245 3820v60M4265 3820v30M4275 3780v50M4295 3790v60" stroke="#e8121c" stroke-width="10" fill="none"/><path d="M345 4503l15 2 15 0 15 0 15-1 15-2 15-1 15-3 15-4 15-6 15 1 15-1 15-2 15 0 15 0 15-2 15-1 15-1 15-4 15-5 15-4 15-3 15-4 15 1 15-2 15-3 15-4 15-3 15-4 15-4 15-5 15-7 15-8 15-6 15-8 15-10 15-8 15-10 15-3 15 4 15 16 15 30 15 43 15 47 15 39 15 33 15 28 15 21 15 12 15-6 15-19 15-20 15-17 15-13 15-12 15-17 15-17 15-16 15-19 15-18 15-16 15-15 15-15 15-13 15-11 15-13 15-9 15-10 15-10 15-11 15-11 15-12 15-12 15-10 15-14 15-10 15-12 15-7 15-7 15-8 15-8 15-8 15-3 15-5 15-3 15-6 15-5 15-4 15-7 15-4 15-7 15-7 15-10 15-9 15-7 15-8 15-8 15-10 15-7 15-8 15-6 15-9 15-8 15-6 15-5 15-6 15-8 15-5 15-6 15-5 15-2 15-3 15-2 15-4 15-3 15-7 15-7 15-9 15-11 15-10 15-13 15-9 15-10 15-8 15-7 15-2 15-5 15-4 15-2 15-1 15 1 15 0 15-3 15-4 15-2 15-4 15-4 15-7 15-7 15-6 15-6 15-8 15-6 15-5 15-6 15-6 15-6 15-8 15-3 15 1 15 3 15 3 15 10 15 12 15 15 15 18 15 16 15 12 15 7 15 4 15-2 15-2 15-3 15-2 15 0 15 6 15 12 15 18 15 24 15 28 15 31 15 28 15 26 15 23 15 19 15 13 15 8 15-2 15-6 15-11 15-11 15-9 15-8 15-6 15-5 15 2 15 5 15 12 15 16 15 17 15 19 15 17 15 17 15 13 15 8 15 2 15-5 15-7 15-12 15-12 15-13 15-11 15-10 15-7 15-5 15-6 15-7 15-9 15-9 15-8 15-5 15-6 15-4 15-3 15 0 15 3 15 5 15 6 15 4 15 1 15-2 15-3 15-8 15-13 15-12 15-14 15-18 15-15 15-15 15-15 15-13 15-12 15-14 15-15 15-12 15-12 15-10 15-7 15-3 15-1 15 2 15 5 15 7 15 11 15 11 15 10 15 7 15 9 15 9 15 7 15 6 15 1 15 0 15-1 15-3 15-8 15-12 15-14 15-17 15-15 15-17 15-18 15-17 15-14" stroke="#e8121c" stroke-width="10" fill="none" stroke-linejoin="round"/></g>
<path d="M35.2 495.4V347.5" stroke="#6a6a6a" stroke-width="1" fill="none"/>
<path d="M34.7 347.5H441.1" stroke="#333" stroke-width="1.4" fill="none"/>
<path d="M34.7 495.4H472.9" stroke="#444" stroke-width="1.6" fill="none"/>
<path d="M440.6 347.5V497.4" stroke="#333" stroke-width="1.1" fill="none"/>
<path d="M472.4 345.0V496.4" stroke="#aeb3bd" stroke-width="1" fill="none"/>
<rect x="36.7" y="349.0" width="3.6" height="4.2" fill="#000"/>
<rect x="430.1" y="350.1" width="4" height="5" fill="#222"/><rect x="434.8" y="350.1" width="4" height="5" fill="#222"/>
<rect x="431.3" y="351.7" width="1.6" height="1.8" fill="#ddd"/><rect x="436.0" y="351.3" width="1.4" height="2.6" fill="#ddd"/>
<rect x="42.5" y="353.9" width="1.5" height="6.8" fill="#e8202a"/><text x="44.7" y="360.5" fill="#e8202a" font-size="10" font-weight="bold" textLength="18.0" lengthAdjust="spacingAndGlyphs">S&amp;P500</text><rect x="65.3" y="353.9" width="1.5" height="6.8" fill="#e8202a"/><text x="67.5" y="360.5" fill="#e8202a" font-size="10" font-weight="bold" textLength="3.3" lengthAdjust="spacingAndGlyphs">7</text><rect x="73.4" y="353.9" width="1.5" height="6.8" fill="#3a46e0"/><text x="75.6" y="360.5" fill="#3a46e0" font-size="10" font-weight="bold" textLength="6.2" lengthAdjust="spacingAndGlyphs">15</text><rect x="84.4" y="353.9" width="1.5" height="6.8" fill="#d89a28"/><text x="86.6" y="360.5" fill="#d89a28" font-size="10" font-weight="bold" textLength="7.0" lengthAdjust="spacingAndGlyphs">35</text><rect x="96.2" y="353.9" width="1.5" height="6.8" fill="#222"/><text x="98.4" y="360.5" fill="#222" font-size="10" font-weight="bold" textLength="6.5" lengthAdjust="spacingAndGlyphs">55</text><rect x="107.5" y="353.9" width="1.5" height="6.8" fill="#9a9a9a"/><text x="109.7" y="360.5" fill="#9a9a9a" font-size="10" font-weight="bold" textLength="9.2" lengthAdjust="spacingAndGlyphs">120</text><rect x="121.5" y="353.9" width="1.5" height="6.8" fill="#1f9a2e"/><text x="123.7" y="360.5" fill="#1f9a2e" font-size="10" font-weight="bold" textLength="10.4" lengthAdjust="spacingAndGlyphs">390</text><rect x="136.7" y="353.9" width="1.5" height="6.8" fill="#e8202a"/><text x="138.9" y="360.5" fill="#e8202a" font-size="10" font-weight="bold" textLength="3.0" lengthAdjust="spacingAndGlyphs">5</text><rect x="144.5" y="353.9" width="1.5" height="6.8" fill="#3a46e0"/><text x="146.7" y="360.5" fill="#3a46e0" font-size="10" font-weight="bold" textLength="6.0" lengthAdjust="spacingAndGlyphs">10</text><rect x="155.3" y="353.9" width="1.5" height="6.8" fill="#d89a28"/><text x="157.5" y="360.5" fill="#d89a28" font-size="10" font-weight="bold" textLength="7.0" lengthAdjust="spacingAndGlyphs">20</text><rect x="167.1" y="353.9" width="1.5" height="6.8" fill="#1f9a2e"/><text x="169.3" y="360.5" fill="#1f9a2e" font-size="10" font-weight="bold" textLength="7.0" lengthAdjust="spacingAndGlyphs">60</text><rect x="178.9" y="353.9" width="1.5" height="6.8" fill="#9a9a9a"/><text x="181.1" y="360.5" fill="#9a9a9a" font-size="10" font-weight="bold" textLength="9.2" lengthAdjust="spacingAndGlyphs">120</text><rect x="192.9" y="353.9" width="1.5" height="6.8" fill="#e8202a"/><text x="195.1" y="360.5" fill="#e8202a" font-size="10" font-weight="bold" textLength="10.0" lengthAdjust="spacingAndGlyphs">240</text><rect x="207.7" y="353.9" width="1.5" height="6.8" fill="#22d4dc"/><text x="209.9" y="360.5" fill="#22d4dc" font-size="10" font-weight="bold" textLength="60.0" lengthAdjust="spacingAndGlyphs">기준선(26,9,26,52,26)</text><rect x="272.5" y="353.9" width="1.5" height="6.8" fill="#d89a28"/><text x="274.7" y="360.5" fill="#d89a28" font-size="10" font-weight="bold" textLength="17.5" lengthAdjust="spacingAndGlyphs">전환선</text>
<path d="M441.1 379.3l2.4 1.3l-2.4 1.3z" fill="#222"/>
<path d="M441.1 394.5l2.4 1.3l-2.4 1.3z" fill="#222"/>
<path d="M441.1 409.6l2.4 1.3l-2.4 1.3z" fill="#222"/>
<text x="470.8" y="414.5" fill="#606060" font-size="12.8" text-anchor="end" textLength="22.6" lengthAdjust="spacingAndGlyphs">4,000.00</text>
<path d="M441.1 424.8l2.4 1.3l-2.4 1.3z" fill="#222"/>
<text x="470.8" y="429.7" fill="#606060" font-size="12.8" text-anchor="end" textLength="22.6" lengthAdjust="spacingAndGlyphs">3,600.00</text>
<path d="M441.1 440.1l2.4 1.3l-2.4 1.3z" fill="#222"/>
<text x="470.8" y="445.0" fill="#606060" font-size="12.8" text-anchor="end" textLength="22.6" lengthAdjust="spacingAndGlyphs">3,200.00</text>
<path d="M441.1 455.1l2.4 1.3l-2.4 1.3z" fill="#222"/>
<text x="470.8" y="460.0" fill="#606060" font-size="12.8" text-anchor="end" textLength="22.6" lengthAdjust="spacingAndGlyphs">2,800.00</text>
<path d="M441.1 470.4l2.4 1.3l-2.4 1.3z" fill="#222"/>
<text x="470.8" y="475.3" fill="#606060" font-size="12.8" text-anchor="end" textLength="22.6" lengthAdjust="spacingAndGlyphs">2,400.00</text>
<rect x="447.2" y="373.1" width="24.0" height="26.5" fill="#fa1218"/>
<path d="M446.9 376.6l-3.4 4.2l3.4 4.2z" fill="#fa1218"/>
<text x="470.8" y="385.0" fill="#fff" font-size="12.8" text-anchor="end" textLength="23.0" lengthAdjust="spacingAndGlyphs">4,783.83</text>
<text x="470.8" y="397.4" fill="#fff" font-size="12.8" text-anchor="end" textLength="23.0" lengthAdjust="spacingAndGlyphs">( 0.08%)</text>
<text x="173.0" y="374.4" fill="#fa1218" font-size="12.2" font-weight="bold" textLength="76.0" lengthAdjust="spacingAndGlyphs">4,818.62(0.73% 2022/01/03)</text>
<path d="M249.8 370.0h4.2v5" stroke="#fa1218" stroke-width="1" fill="none"/><path d="M252.5 374.5h3l-1.5 2.8z" fill="#fa1218"/>
<text x="104.5" y="493.4" fill="#2222f5" font-size="12.2" font-weight="bold" textLength="80.0" lengthAdjust="spacingAndGlyphs">2,191.86(-54.18% 2020/03/23)</text>
<path d="M103.5 489.0h-3.8v-5" stroke="#2222f5" stroke-width="1" fill="none"/><path d="M98.2 484.5h3l-1.5-2.8z" fill="#2222f5"/>
<rect x="502.0" y="344.8" width="440.9" height="152.8" fill="#fff"/>
<path d="M504.5 380.0H908.6M504.5 395.1H908.6M504.5 410.2H908.6M504.5 425.0H908.6M504.5 439.5H908.6M504.5 454.3H908.6M504.5 469.5H908.6" stroke="#cfcfcf" stroke-width="0.7" stroke-dasharray="1.1 2" fill="none"/>
<path d="M906.6 348.8V493.6M893.2 348.8V493.6M885.5 348.8V493.6M877.8 348.8V493.6M870.0 348.8V493.6M862.3 348.8V493.6M854.6 348.8V493.6M846.9 348.8V493.6M839.2 348.8V493.6M831.4 348.8V493.6M823.7 348.8V493.6M816.0 348.8V493.6M808.3 348.8V493.6M800.6 348.8V493.6M792.8 348.8V493.6M785.1 348.8V493.6M777.4 348.8V493.6M769.7 348.8V493.6M762.0 348.8V493.6M754.2 348.8V493.6M746.5 348.8V493.6M738.8 348.8V493.6M731.1 348.8V493.6M723.4 348.8V493.6M715.6 348.8V493.6M707.9 348.8V493.6M700.2 348.8V493.6M692.5 348.8V493.6M684.8 348.8V493.6M677.0 348.8V493.6M669.3 348.8V493.6M661.6 348.8V493.6M653.9 348.8V493.6M646.2 348.8V493.6M638.4 348.8V493.6M630.7 348.8V493.6M623.0 348.8V493.6M615.3 348.8V493.6M607.6 348.8V493.6M599.8 348.8V493.6M592.1 348.8V493.6M584.4 348.8V493.6M576.7 348.8V493.6M569.0 348.8V493.6M561.2 348.8V493.6M553.5 348.8V493.6M545.8 348.8V493.6M538.1 348.8V493.6M530.4 348.8V493.6M522.6 348.8V493.6M514.9 348.8V493.6" stroke="#e0e0e0" stroke-width="0.7" stroke-dasharray="1.1 2.6" fill="none"/>
<g transform="scale(.1)"><path d="M6680 4460l60 0 60-1 60-1 60-2 60-2 60-2 60-3 60-5 60-7 60-9 60-11 60-11 60-11 60-10 60-10 60-9 60-9 60-9 60-9 60-9 60-9 60-9 60-9 60-9 60-9 60-9 60-9 60-9 60-9 60-9 60-9 60-9 60-9 60-9 60-9 60-10 60-9 60-9 45-7" stroke="#16a51f" stroke-width="21" fill="none" stroke-linejoin="round"/><path d="M5030 4550l60 16 60 14 60 11 60 7 60 2 60-2 60-6 60-9 60-11 60-12 60-12 60-11 60-9 60-8 60-6 60-6 60-6 60-6 60-6 60-5 60-6 60-6 60-6 60-5 60-5 60-6 60-5 60-6 60-7 60-8 60-9 60-12 60-13 60-14 60-15 60-17 60-19 60-19 60-21 60-22 60-23 60-21 60-19 60-19 60-17 60-16 60-13 60-14 60-12 60-12 60-12 60-10 60-10 60-8 60-8 60-6 60-6 60-4 60-5 60-4 60-6 60-6 60-8 60-8 60-10 60-9 15-3" stroke="#f4787c" stroke-width="11" fill="none" stroke-linejoin="round"/><path d="M5030 4600l60 0 60 0 60 0 60 0 60 0 60 1 60 3 60 2 60 3 60 1 60-4 60-11 60-15 60-18 60-29 60-34 60-34 60-29 60-28 60-27 60-26 60-22 60-22 60-20 60-18 60-15 60-14 60-13 60-11 60-10 60-8 60-7 60-7 60-7 60-7 60-6 60-7 60-8 60-9 60-11 60-12 60-14 60-15 60-17 60-19 60-19 60-18 60-17 60-16 60-15 60-13 60-12 60-11 60-9 60-6 60-4 60-3 60-2 60-1 60 1 60 1 60 2 60 1 60 0 60-2 60-2 15-1" stroke="#a9a9a9" stroke-width="12" fill="none" stroke-linejoin="round"/><path d="M5030 4723l40-7 40-9 40-11 40-11 40-12 40-14 40-14 40-15 40-18 40-20 40-22 40-22 40-21 40-18 40-17 40-16 40-15 40-15 40-16 40-17 40-19 40-21 40-22 40-21 40-21 40-17 40-15 40-15 40-13 40-12 40-11 40-9 40-7 40-7 40-5 40-5 40-5 40-3 40-3 40-2 40-1 40-1 40-2 40-1 40-2 40-2 40-3 40-3 40-3 40-4 40-4 40-5 40-6 40-7 40-9 40-9 40-10 40-11 40-12 40-15 40-16 40-16 40-15 40-13 40-13 40-12 40-13 40-11 40-12 40-11 40-12 40-12 40-11 40-11 40-10 40-7 40-6 40-6 40-5 40-3 40-2 40 2 40 6 40 9 40 9 40 8 40 5 40 5 40 6 40 4 40 4 40 2 40 0 40 0 40-1 40-2 40-2 40-4 40-4 15-2" stroke="#2e8b57" stroke-width="9" fill="none" stroke-linejoin="round"/><path d="M5030 4710l40-7 40-9 40-11 40-11 40-12 40-14 40-14 40-15 40-18 40-20 40-22 40-22 40-21 40-18 40-17 40-16 40-15 40-15 40-16 40-17 40-19 40-21 40-22 40-21 40-21 40-17 40-15 40-15 40-13 40-12 40-11 40-9 40-7 40-7 40-5 40-5 40-5 40-3 40-3 40-2 40-1 40-1 40-2 40-1 40-2 40-2 40-3 40-3 40-3 40-4 40-4 40-5 40-6 40-7 40-9 40-9 40-10 40-11 40-12 40-15 40-16 40-16 40-15 40-13 40-13 40-12 40-13 40-11 40-12 40-11 40-12 40-12 40-11 40-11 40-10 40-7 40-6 40-6 40-5 40-3 40-2 40 2 40 6 40 9 40 9 40 8 40 5 40 5 40 6 40 4 40 4 40 2 40 0 40 0 40-1 40-2 40-2 40-4 40-4 15-2" stroke="#111" stroke-width="20" fill="none" stroke-linejoin="round"/><path d="M5030 4750l20-1 20-1 20-1 20-3 20-4 20-5 20-5 20-7 20-8 20-9 20-11 20-13 20-13 20-15 20-15 20-16 20-16 20-16 20-16 20-16 20-15 20-15 20-14 20-12 20-12 20-11 20-10 20-8 20-8 20-5 20-4 20-2 20-1 20 0 20 1 20 2 20 0 20 0 20-2 20-4 20-7 20-9 20-9 20-10 20-11 20-12 20-10 20-10 20-10 20-10 20-11 20-11 20-11 20-12 20-12 20-13 20-12 20-12 20-9 20-7 20-5 20-4 20-3 20-2 20-1 20-1 20-1 20-1 20-2 20-4 20-3 20-3 20-3 20-4 20-3 20-2 20-2 20-2 20-2 20-1 20-2 20-2 20-1 20-4 20-3 20-5 20-4 20-4 20-1 20-2 20-2 20-1 20-1 20 0 20 0 20-1 20-1 20-1 20-1 20-1 20-1 20-1 20-1 20-2 20-1 20-2 20-2 20-3 20-3 20-3 20-3 20-3 20-5 20-5 20-5 20-5 20-6 20-5 20-7 20-8 20-10 20-10 20-10 20-9 20-10 20-8 20-8 20-8 20-8 20-6 20-8 20-8 20-7 20-7 20-7 20-8 20-6 20-7 20-6 20-3 20-3 20-2 20-2 20-3 20-3 20-3 20-3 20-3 20-4 20-5 20-5 20-4 20-4 20-4 20-3 20-3 20-4 20-4 20-4 20-4 20-4 20-4 20-3 20-1 20-1 20 0 20 0 20 1 20 2 20 4 20 4 20 5 20 6 20 6 20 7 20 8 20 8 20 9 20 7 20 6 20 6 20 4 20 4 20 2 20 2 20-1 20-1 20-2 20-3 20-5 20-6 20-7 20-7 20-7 20-9 20-7 20-8 20-7 15-6" stroke="#d89a28" stroke-width="17" fill="none" stroke-linejoin="round"/><path d="M5030 4751l20-13 20-2 20-1 20-14 20-16 20 0 20-12 20-14 20-17 20-14 20-13 20-21 20 0 20-7 20-19 20 0 20-17 20-8 20-16 20-6 20-16 20-7 20-13 20-21 20-13 20-11 20-11 20-3 20-7 20 0 20 0 20 1 20 10 20 0 20 2 20 0 20 0 20 0 20-11 20-30 20-36 20-9 20 0 20-6 20-9 20 0 20 0 20-4 20-6 20 0 20-10 20-1 20-25 20-28 20-27 20-17 20-6 20 0 20-4 20-3 20 0 20 0 20 0 20-7 20 0 20 0 20-2 20 0 20-11 20 0 20 0 20 0 20 0 20-11 20 0 20 0 20 0 20-3 20-10 20 0 20 0 20-10 20-1 20 0 20-7 20-7 20 0 20-5 20 0 20 0 20-2 20 1 20 0 20 2 20 0 20 0 20 0 20 0 20 0 20 4 20-2 20 0 20-2 20-8 20-1 20-2 20-2 20-4 20-10 20-8 20 0 20 0 20-2 20-6 20-4 20-17 20-9 20-13 20-10 20-23 20-6 20-1 20-7 20-3 20-1 20-8 20-9 20-4 20-3 20-12 20-4 20 0 20-15 20-15 20-12 20-15 20 0 20 0 20 0 20 0 20 0 20 0 20 0 20-12 20-4 20-7 20-5 20-1 20-4 20-4 20-2 20-7 20 0 20 0 20-3 20-8 20-5 20 0 20-10 20 0 20 0 20 0 20-14 20-2 20-1 20 9 20 8 20 1 20 11 20 12 20 0 20 3 20 10 20 2 20 10 20 11 20 0 20 6 20 10 20 13 20 2 20 10 20-5 20-2 20-2 20-9 20 0 20-1 20-10 20-17 20 0 20-13 20-9 20-4 20-2 20-15 20-4 20-7 15 0" stroke="#22dbe4" stroke-width="20" fill="none" stroke-linejoin="round"/><path d="M5030 4750l20-2 20-1 20-3 20-5 20-7 20-8 20-9 20-12 20-14 20-17 20-20 20-21 20-22 20-23 20-22 20-21 20-20 20-19 20-17 20-14 20-12 20-9 20-6 20-5 20-1 20-1 20-1 20 0 20 0 20 0 20 1 20 1 20 3 20 3 20 2 20 1 20 1 20 0 20-2 20-8 20-13 20-16 20-19 20-20 20-22 20-21 20-21 20-20 20-17 20-15 20-10 20-4 20-3 20-1 20-2 20-1 20-2 20-3 20-3 20-5 20-7 20-5 20-5 20-4 20-3 20-1 20 0 20 1 20 0 20-1 20-1 20 0 20 0 20-3 20-3 20-4 20-5 20-5 20-5 20-4 20-3 20-3 20-1 20-4 20-2 20-3 20-3 20-2 20-1 20-1 20 0 20 1 20 0 20 0 20 2 20 0 20 1 20 0 20 0 20-1 20-1 20-2 20-3 20-4 20-5 20-6 20-4 20-4 20-4 20-5 20-4 20-4 20-6 20-6 20-5 20-5 20-6 20-7 20-7 20-11 20-13 20-14 20-15 20-14 20-13 20-12 20-9 20-9 20-7 20-5 20-2 20 0 20-2 20 0 20-2 20-2 20-3 20-5 20-4 20-6 20-7 20-5 20-4 20-5 20-5 20-5 20-1 20 0 20-2 20-2 20-4 20-3 20-4 20-3 20-4 20-3 20-5 20-6 20-7 20-5 20-4 20-4 20-2 20-1 20 0 20 3 20 6 20 7 20 9 20 10 20 11 20 12 20 13 20 13 20 13 20 11 20 9 20 8 20 5 20 2 20 0 20-1 20-5 20-7 20-7 20-10 20-9 20-10 20-10 20-11 20-10 20-9 20-8 20-6 20-7 20-6 20-5 20-5 15-3" stroke="#d89a28" stroke-width="9" fill="none" stroke-linejoin="round"/><path d="M5030 4751l20-13 20-2 20-1 20-14 20-22 20 0 20-23 20-21 20-32 20-17 20-13 20-41 20-12 20-24 20-25 20-11 20-14 20-16 20 0 20-18 20 0 20 0 20 0 20-2 20 16 20 0 20 0 20 0 20-2 20-6 20 0 20 4 20 10 20 0 20 5 20 6 20 0 20-9 20-23 20-30 20-42 20-14 20-13 20-32 20-37 20-21 20-5 20-7 20 2 20 12 20 3 20 3 20 0 20-3 20-13 20-9 20-7 20 0 20-17 20-5 20-3 20-6 20 0 20 1 20 4 20 8 20 6 20 2 20-2 20-4 20 0 20-1 20-11 20-12 20-7 20 0 20-5 20-8 20-10 20 0 20-1 20-4 20 3 20 2 20 0 20-4 20 0 20-12 20 11 20 0 20 3 20 3 20 0 20 2 20 10 20-3 20-2 20-3 20-4 20-9 20-8 20 5 20-2 20-8 20-1 20-2 20-12 20-6 20-13 20-4 20 0 20 0 20-2 20-6 20-4 20-16 20-14 20-6 20-12 20-25 20-17 20-5 20-7 20-22 20-24 20 0 20-3 20 0 20 7 20 4 20 0 20 0 20-3 20 0 20-10 20-15 20-12 20 0 20-5 20-5 20 1 20-2 20 0 20-13 20 0 20 0 20-5 20 2 20 6 20 0 20-7 20-5 20-8 20-8 20-3 20-7 20-5 20 0 20-16 20-7 20-2 20 0 20 0 20 11 20 6 20 10 20 19 20 7 20 11 20 28 20 9 20 10 20 19 20 1 20 15 20 6 20 7 20 2 20-6 20-14 20 0 20-14 20-16 20-11 20-2 20-16 20-9 20-8 20-10 20-16 20-3 20-6 20-8 20-8 20-1 20 0 20 0 20-7 15 1" stroke="#d89a28" stroke-width="9" fill="none" stroke-linejoin="round"/><path d="M5030 4750l20-2 20-2 20-4 20-6 20-9 20-11 20-12 20-15 20-18 20-19 20-23 20-24 20-23 20-23 20-25 20-22 20-20 20-16 20-13 20-10 20-8 20-4 20-3 20-1 20 1 20 0 20 0 20 0 20 0 20 0 20 2 20 2 20 3 20 2 20 2 20 4 20 2 20-1 20-4 20-12 20-19 20-23 20-25 20-26 20-27 20-25 20-24 20-17 20-9 20-3 20-3 20 0 20 1 20 1 20 0 20-2 20-4 20-6 20-6 20-6 20-8 20-7 20-4 20-3 20 0 20 1 20 2 20 2 20 2 20 1 20-1 20-2 20-3 20-5 20-6 20-6 20-6 20-3 20-3 20-3 20-4 20-1 20-1 20-3 20-3 20-3 20-3 20-2 20-1 20 0 20 0 20 1 20 1 20 3 20 4 20 1 20-1 20-2 20-2 20-2 20-2 20-2 20-5 20-4 20-5 20-5 20-4 20-5 20-6 20-6 20-4 20-3 20-4 20-5 20-4 20-6 20-8 20-8 20-9 20-15 20-16 20-15 20-15 20-15 20-14 20-12 20-10 20-6 20-1 20 2 20 1 20 2 20 0 20 1 20-3 20-6 20-5 20-8 20-8 20-6 20-6 20-4 20-4 20-3 20-3 20-3 20-2 20 0 20-1 20-3 20-4 20-5 20-2 20-2 20-4 20-6 20-8 20-6 20-6 20-4 20-4 20-4 20-3 20 0 20 4 20 7 20 8 20 11 20 12 20 13 20 12 20 14 20 14 20 13 20 11 20 10 20 8 20 6 20 3 20-1 20-3 20-7 20-8 20-11 20-10 20-12 20-10 20-9 20-9 20-10 20-10 20-7 20-7 20-7 20-7 20-6 20-4 20-3 15 0" stroke="#3a46e0" stroke-width="10" fill="none" stroke-linejoin="round"/><path d="M5030 4750l20-3 20-3 20-6 20-10 20-14 20-15 20-15 20-20 20-20 20-22 20-24 20-28 20-26 20-26 20-23 20-19 20-15 20-11 20-6 20-5 20-1 20 0 20-2 20-1 20 3 20 1 20 0 20 1 20 0 20-1 20 0 20 2 20 6 20 6 20 4 20 4 20-1 20-4 20-10 20-21 20-31 20-34 20-34 20-33 20-28 20-18 20-9 20-5 20 0 20 2 20 3 20 3 20 3 20 0 20-5 20-6 20-7 20-8 20-8 20-8 20-8 20-5 20-1 20 1 20 1 20 6 20 6 20 5 20 1 20-4 20-5 20-6 20-7 20-8 20-4 20-4 20-3 20-4 20-2 20-2 20-4 20-1 20 1 20-4 20-2 20-6 20-2 20-4 20 0 20 1 20 4 20 6 20 3 20 3 20 2 20-1 20-5 20-3 20-5 20-3 20-4 20 0 20-2 20-3 20-7 20-8 20-8 20-6 20-6 20-4 20 0 20 0 20-4 20-6 20-6 20-8 20-13 20-10 20-10 20-17 20-20 20-17 20-18 20-17 20-13 20-5 20-1 20 1 20 4 20 6 20 5 20 0 20-2 20-3 20-7 20-11 20-10 20-8 20-6 20-6 20-4 20 0 20-1 20-3 20-3 20-4 20-1 20 0 20-2 20-2 20-2 20-5 20-6 20-6 20-5 20-6 20-5 20-6 20-8 20-6 20-3 20-2 20 2 20 4 20 9 20 11 20 12 20 15 20 15 20 14 20 12 20 12 20 13 20 11 20 12 20 8 20 7 20 3 20-4 20-6 20-10 20-11 20-15 20-12 20-10 20-10 20-8 20-8 20-6 20-11 20-10 20-9 20-7 20-6 20-6 20-1 20 1 20-3 15 0" stroke="#3a46e0" stroke-width="8" fill="none" stroke-linejoin="round"/><path d="M5065 4710v40M5075 4730v20M5105 4680v30M5205 4580v40M5275 4490v30M5285 4490v30M5315 4450v30M5325 4450v40M5345 4430v30M5375 4420v40M5405 4440v20M5425 4430v20M5455 4420v40M5475 4420v30M5505 4420v30M5535 4430v50M5555 4430v40M5635 4430v30M5655 4440v20M5665 4450v30M5695 4460v40M5715 4450v40M5725 4450v20M5745 4450v30M5835 4320v30M5865 4230v50M5875 4260v20M5945 4210v30M5965 4210v50M5985 4220v30M6005 4230v20M6015 4230v30M6035 4240v20M6065 4230v30M6075 4230v40M6115 4210v50M6195 4190v20M6205 4180v30M6225 4180v30M6245 4170v20M6265 4160v30M6285 4180v30M6315 4180v40M6325 4200v20M6345 4190v40M6375 4190v30M6385 4210v30M6395 4190v30M6435 4170v50M6455 4170v30M6495 4170v30M6515 4160v20M6535 4150v30M6545 4160v20M6565 4150v30M6625 4140v20M6635 4140v30M6645 4130v30M6675 4150v20M6685 4160v20M6695 4140v30M6745 4110v30M6765 4120v20M6785 4120v30M6795 4120v30M6805 4140v40M6845 4150v30M6855 4140v40M6865 4150v30M6895 4140v30M6995 4120v20M7005 4120v30M7025 4120v30M7045 4120v30M7065 4130v40M7075 4120v30M7145 4080v30M7175 4090v30M7195 4080v20M7275 4080v20M7295 4050v40M7315 4050v30M7335 4030v40M7405 4010v30M7465 3930v30M7505 3920v20M7545 3910v30M7565 3920v30M7585 3930v20M7605 3910v40M7615 3940v20M7635 3940v30M7665 3930v30M7685 3910v30M7705 3910v30M7715 3910v20M7755 3870v50M7775 3880v40M7795 3860v40M7805 3880v20M7825 3880v20M7855 3870v30M7925 3850v30M7945 3850v30M7965 3860v40M7975 3870v30M8025 3850v20M8075 3830v30M8085 3830v40M8105 3830v40M8185 3800v40M8225 3790v40M8235 3790v40M8245 3800v20M8305 3820v40M8315 3820v40M8325 3820v40M8335 3830v40M8345 3850v40M8355 3860v30M8375 3870v30M8385 3880v30M8405 3900v20M8415 3900v30M8425 3900v30M8445 3910v30M8455 3910v30M8465 3920v40M8495 3950v30M8505 3940v40M8525 3940v40M8535 3970v30M8645 3910v30M8675 3890v30M8715 3870v30M8735 3870v30M8765 3860v30M8775 3850v30M8795 3850v20M8815 3830v40M8845 3810v30M8875 3810v30M8885 3820v30M8895 3810v30M8915 3800v30M8955 3810v30M8965 3810v30M8985 3790v40M9005 3810v30" stroke="#2b35e6" stroke-width="10" fill="none"/><path d="M5035 4740v30M5045 4720v30M5055 4710v20M5085 4710v20M5095 4700v30M5115 4680v40M5125 4640v50M5135 4650v40M5145 4650v20M5155 4650v20M5165 4650v30M5175 4620v30M5185 4620v20M5195 4590v40M5215 4560v50M5225 4560v20M5235 4530v40M5245 4520v40M5255 4500v40M5265 4460v80M5295 4470v30M5305 4460v20M5335 4420v40M5355 4430v30M5365 4410v30M5385 4440v20M5395 4410v40M5415 4420v40M5435 4400v40M5445 4430v20M5465 4430v20M5485 4420v30M5495 4410v40M5515 4420v20M5525 4430v40M5545 4420v30M5565 4420v40M5575 4420v30M5585 4420v50M5595 4430v20M5605 4410v40M5615 4430v30M5625 4410v50M5645 4420v30M5675 4440v30M5685 4450v30M5705 4450v20M5735 4430v40M5755 4450v30M5765 4430v40M5775 4440v20M5785 4420v30M5795 4420v40M5805 4410v20M5815 4380v30M5825 4350v30M5845 4280v40M5855 4250v50M5885 4240v30M5895 4240v20M5905 4220v40M5915 4230v20M5925 4220v30M5935 4200v30M5955 4210v30M5975 4220v20M5995 4230v30M6025 4240v40M6045 4230v20M6055 4220v30M6085 4220v30M6095 4240v20M6105 4220v30M6125 4210v30M6135 4200v40M6145 4180v50M6155 4200v20M6165 4180v50M6175 4170v40M6185 4190v20M6215 4170v40M6235 4160v40M6255 4170v30M6275 4170v20M6295 4180v30M6305 4180v20M6335 4190v20M6355 4200v40M6365 4190v30M6405 4180v30M6415 4170v20M6425 4160v30M6445 4160v20M6465 4160v40M6475 4170v20M6485 4160v30M6505 4140v30M6525 4150v20M6555 4150v40M6575 4150v20M6585 4130v40M6595 4140v30M6605 4150v20M6615 4110v60M6655 4120v40M6665 4130v30M6705 4110v40M6715 4120v20M6725 4130v30M6735 4120v30M6755 4110v20M6775 4110v40M6815 4130v30M6825 4130v40M6835 4110v50M6875 4140v30M6885 4130v30M6905 4150v40M6915 4150v20M6925 4150v30M6935 4140v30M6945 4140v20M6955 4130v20M6965 4130v20M6975 4120v20M6985 4120v20M7015 4120v30M7035 4120v20M7055 4110v40M7085 4110v30M7095 4110v30M7105 4100v40M7115 4090v30M7125 4090v20M7135 4090v20M7155 4080v40M7165 4080v30M7185 4080v20M7205 4080v30M7215 4070v30M7225 4080v20M7235 4060v20M7245 4090v20M7255 4080v40M7265 4070v30M7285 4060v20M7305 4040v30M7325 4040v30M7345 4030v40M7355 4020v30M7365 4010v40M7375 4010v20M7385 4000v40M7395 4010v20M7415 3980v30M7425 3960v40M7435 3940v40M7445 3930v30M7455 3930v30M7475 3920v40M7485 3920v20M7495 3910v20M7515 3900v40M7525 3900v30M7535 3900v30M7555 3920v20M7575 3910v40M7595 3910v40M7625 3930v30M7645 3930v20M7655 3930v30M7675 3910v40M7695 3900v30M7725 3890v40M7735 3890v40M7745 3860v50M7765 3870v40M7785 3860v40M7815 3860v30M7835 3870v30M7845 3860v30M7865 3870v40M7875 3880v20M7885 3870v30M7895 3870v30M7905 3860v30M7915 3830v50M7935 3850v30M7955 3850v20M7985 3860v30M7995 3870v40M8005 3850v40M8015 3850v30M8035 3850v20M8045 3840v30M8055 3830v40M8065 3820v40M8095 3820v40M8115 3830v40M8125 3820v40M8135 3820v30M8145 3820v20M8155 3810v20M8165 3820v20M8175 3800v30M8195 3800v30M8205 3790v30M8215 3780v40M8255 3810v30M8265 3780v50M8275 3800v30M8285 3800v40M8295 3800v30M8365 3870v30M8395 3880v20M8435 3910v40M8475 3930v30M8485 3940v30M8515 3940v30M8545 3950v40M8555 3950v30M8565 3950v40M8575 3960v30M8585 3950v30M8595 3940v30M8605 3940v20M8615 3930v20M8625 3910v30M8635 3920v20M8655 3910v40M8665 3890v40M8685 3890v20M8695 3880v30M8705 3870v30M8725 3870v30M8745 3860v30M8755 3850v20M8785 3850v30M8805 3830v30M8825 3810v30M8835 3800v40M8855 3810v30M8865 3790v30M8905 3810v30M8925 3800v20M8935 3790v20M8945 3790v40M8975 3790v40M8995 3810v30M9005 3790v40" stroke="#e8121c" stroke-width="10" fill="none"/><path d="M5030 4750l10-2 10-3 10-3 10-1 10-4 10-5 10-8 10-7 10-7 10-9 10-11 10-8 10-9 10-8 10-10 10-8 10-10 10-10 10-13 10-15 10-13 10-15 10-15 10-15 10-12 10-13 10-12 10-12 10-9 10-10 10-8 10-7 10-8 10-4 10-2 10-4 10 1 10-2 10-2 10 1 10-1 10-1 10 0 10-1 10 0 10 0 10 1 10-1 10 2 10 2 10 0 10 2 10 1 10 0 10 0 10-2 10-2 10 0 10-2 10 0 10 1 10 3 10 2 10 3 10 3 10 6 10 2 10 4 10 2 10 0 10 2 10-1 10-2 10-1 10-5 10-4 10-6 10-10 10-13 10-16 10-20 10-23 10-24 10-21 10-20 10-16 10-14 10-10 10-6 10-7 10-5 10-6 10-3 10-2 10-1 10 0 10 3 10 2 10 4 10 4 10 2 10 1 10 1 10 0 10 0 10-1 10-2 10-1 10-2 10-3 10-4 10-4 10-6 10-5 10-6 10-3 10-4 10-3 10-3 10-4 10-2 10-3 10-3 10-2 10 0 10 0 10 2 10 3 10 4 10 4 10 4 10 2 10 3 10 3 10 2 10 1 10 0 10-4 10-4 10-3 10-6 10-5 10-4 10-4 10-1 10 0 10-5 10-1 10-4 10-2 10-1 10-3 10-2 10 0 10-1 10-1 10-1 10-1 10-1 10-1 10-1 10-3 10-1 10 0 10 1 10 2 10-4 10-2 10 1 10-2 10-4 10-6 10-4 10 0 10 0 10-1 10 1 10 3 10 3 10 2 10 4 10 3 10 4 10 0 10-1 10 2 10 3 10 0 10 0 10-1 10-1 10 0 10-3 10-4 10-4 10-4 10-3 10-2 10 0 10-1 10 1 10 0 10 2 10 0 10-1 10-3 10-3 10-5 10-3 10-8 10-5 10-4 10-4 10-3 10-2 10-2 10 0 10-2 10 0 10-3 10 0 10 1 10 0 10 0 10-3 10-2 10-3 10-5 10-6 10-5 10-6 10-5 10-6 10-5 10-5 10-5 10-5 10-8 10-7 10-11 10-11 10-12 10-11 10-13 10-9 10-8 10-4 10-4 10-3 10-4 10-2 10 0 10 2 10 1 10 2 10 3 10 4 10 4 10 3 10 2 10 2 10 0 10 3 10-3 10-3 10-4 10-5 10-3 10-4 10-7 10-5 10-6 10-4 10-4 10-6 10-3 10-2 10-2 10 0 10-1 10-2 10-1 10 1 10-1 10 1 10-1 10-1 10-1 10-1 10-5 10-4 10-3 10-1 10 1 10 1 10 3 10 1 10 1 10 0 10-3 10-4 10-4 10-7 10-3 10-3 10-2 10-2 10-1 10-2 10 0 10-2 10-5 10-3 10-6 10-4 10-4 10-4 10-5 10-1 10-2 10 0 10 2 10-1 10 0 10 4 10 2 10 3 10 4 10 4 10 7 10 7 10 8 10 8 10 8 10 8 10 7 10 7 10 7 10 6 10 5 10 6 10 5 10 7 10 6 10 6 10 7 10 7 10 5 10 6 10 6 10 4 10 1 10 1 10 0 10 2 10-1 10-4 10-5 10-4 10-7 10-7 10-7 10-8 10-6 10-6 10-7 10-6 10-5 10-5 10-3 10-5 10-5 10-2 10-2 10-4 10-4 10-5 10-3 10-5 10-8 10-5 10-6 10-7 10-3 10-3 10 0 10 0 10-1 10-2 10-1 10-1 10-2 10 0 10-2 10 1 10 0 10 3 5 0" stroke="#e8121c" stroke-width="10" fill="none" stroke-linejoin="round"/></g>
<path d="M503.5 494.6V347.8" stroke="#6a6a6a" stroke-width="1" fill="none"/>
<path d="M503.0 347.8H910.1" stroke="#333" stroke-width="1.4" fill="none"/>
<path d="M503.0 494.6H941.9" stroke="#444" stroke-width="1.6" fill="none"/>
<path d="M909.6 347.8V496.6" stroke="#333" stroke-width="1.1" fill="none"/>
<path d="M941.4 345.3V495.6" stroke="#aeb3bd" stroke-width="1" fill="none"/>
<rect x="505.0" y="349.3" width="3.6" height="4.2" fill="#000"/>
<rect x="899.1" y="350.4" width="4" height="5" fill="#222"/><rect x="903.8" y="350.4" width="4" height="5" fill="#222"/>
<rect x="900.3" y="352.0" width="1.6" height="1.8" fill="#ddd"/><rect x="905.0" y="351.6" width="1.4" height="2.6" fill="#ddd"/>
<rect x="510.8" y="354.2" width="1.5" height="6.8" fill="#e8202a"/><text x="513.0" y="360.8" fill="#e8202a" font-size="10" font-weight="bold" textLength="18.0" lengthAdjust="spacingAndGlyphs">S&amp;P500</text><rect x="533.6" y="354.2" width="1.5" height="6.8" fill="#e8202a"/><text x="535.8" y="360.8" fill="#e8202a" font-size="10" font-weight="bold" textLength="3.3" lengthAdjust="spacingAndGlyphs">7</text><rect x="541.7" y="354.2" width="1.5" height="6.8" fill="#3a46e0"/><text x="543.9" y="360.8" fill="#3a46e0" font-size="10" font-weight="bold" textLength="6.2" lengthAdjust="spacingAndGlyphs">15</text><rect x="552.7" y="354.2" width="1.5" height="6.8" fill="#d89a28"/><text x="554.9" y="360.8" fill="#d89a28" font-size="10" font-weight="bold" textLength="7.0" lengthAdjust="spacingAndGlyphs">35</text><rect x="564.5" y="354.2" width="1.5" height="6.8" fill="#222"/><text x="566.7" y="360.8" fill="#222" font-size="10" font-weight="bold" textLength="6.5" lengthAdjust="spacingAndGlyphs">55</text><rect x="575.8" y="354.2" width="1.5" height="6.8" fill="#9a9a9a"/><text x="578.0" y="360.8" fill="#9a9a9a" font-size="10" font-weight="bold" textLength="9.2" lengthAdjust="spacingAndGlyphs">120</text><rect x="589.8" y="354.2" width="1.5" height="6.8" fill="#1f9a2e"/><text x="592.0" y="360.8" fill="#1f9a2e" font-size="10" font-weight="bold" textLength="10.4" lengthAdjust="spacingAndGlyphs">390</text><rect x="605.0" y="354.2" width="1.5" height="6.8" fill="#e8202a"/><text x="607.2" y="360.8" fill="#e8202a" font-size="10" font-weight="bold" textLength="3.0" lengthAdjust="spacingAndGlyphs">5</text><rect x="612.8" y="354.2" width="1.5" height="6.8" fill="#3a46e0"/><text x="615.0" y="360.8" fill="#3a46e0" font-size="10" font-weight="bold" textLength="6.0" lengthAdjust="spacingAndGlyphs">10</text><rect x="623.6" y="354.2" width="1.5" height="6.8" fill="#d89a28"/><text x="625.8" y="360.8" fill="#d89a28" font-size="10" font-weight="bold" textLength="7.0" lengthAdjust="spacingAndGlyphs">20</text><rect x="635.4" y="354.2" width="1.5" height="6.8" fill="#1f9a2e"/><text x="637.6" y="360.8" fill="#1f9a2e" font-size="10" font-weight="bold" textLength="7.0" lengthAdjust="spacingAndGlyphs">60</text><rect x="647.2" y="354.2" width="1.5" height="6.8" fill="#9a9a9a"/><text x="649.4" y="360.8" fill="#9a9a9a" font-size="10" font-weight="bold" textLength="9.2" lengthAdjust="spacingAndGlyphs">120</text><rect x="661.2" y="354.2" width="1.5" height="6.8" fill="#e8202a"/><text x="663.4" y="360.8" fill="#e8202a" font-size="10" font-weight="bold" textLength="10.0" lengthAdjust="spacingAndGlyphs">240</text><rect x="676.0" y="354.2" width="1.5" height="6.8" fill="#22d4dc"/><text x="678.2" y="360.8" fill="#22d4dc" font-size="10" font-weight="bold" textLength="60.0" lengthAdjust="spacingAndGlyphs">기준선(26,9,26,52,26)</text><rect x="740.8" y="354.2" width="1.5" height="6.8" fill="#d89a28"/><text x="743.0" y="360.8" fill="#d89a28" font-size="10" font-weight="bold" textLength="17.5" lengthAdjust="spacingAndGlyphs">전환선</text>
<path d="M910.1 378.7l2.4 1.3l-2.4 1.3z" fill="#222"/>
<path d="M910.1 393.8l2.4 1.3l-2.4 1.3z" fill="#222"/>
<path d="M910.1 408.9l2.4 1.3l-2.4 1.3z" fill="#222"/>
<text x="939.8" y="413.8" fill="#606060" font-size="12.8" text-anchor="end" textLength="22.6" lengthAdjust="spacingAndGlyphs">4,600.00</text>
<path d="M910.1 423.7l2.4 1.3l-2.4 1.3z" fill="#222"/>
<text x="939.8" y="428.6" fill="#606060" font-size="12.8" text-anchor="end" textLength="22.6" lengthAdjust="spacingAndGlyphs">4,500.00</text>
<path d="M910.1 438.2l2.4 1.3l-2.4 1.3z" fill="#222"/>
<text x="939.8" y="443.1" fill="#606060" font-size="12.8" text-anchor="end" textLength="22.6" lengthAdjust="spacingAndGlyphs">4,400.00</text>
<path d="M910.1 453.0l2.4 1.3l-2.4 1.3z" fill="#222"/>
<text x="939.8" y="457.9" fill="#606060" font-size="12.8" text-anchor="end" textLength="22.6" lengthAdjust="spacingAndGlyphs">4,300.00</text>
<path d="M910.1 468.2l2.4 1.3l-2.4 1.3z" fill="#222"/>
<text x="939.8" y="473.1" fill="#606060" font-size="12.8" text-anchor="end" textLength="22.6" lengthAdjust="spacingAndGlyphs">4,200.00</text>
<rect x="916.0" y="374.9" width="23.9" height="26.0" fill="#fa1218"/>
<path d="M915.7 378.4l-3.4 4.2l3.4 4.2z" fill="#fa1218"/>
<text x="939.5" y="386.5" fill="#fff" font-size="12.8" text-anchor="end" textLength="22.9" lengthAdjust="spacingAndGlyphs">4,783.83</text>
<text x="939.5" y="398.9" fill="#fff" font-size="12.8" text-anchor="end" textLength="22.9" lengthAdjust="spacingAndGlyphs">( 0.08%)</text>
<text x="808.5" y="374.6" fill="#fa1218" font-size="12.2" font-weight="bold" textLength="78.0" lengthAdjust="spacingAndGlyphs">4,802.40(0.39% 01/12,09:30)</text>
<path d="M887.3 370.2h4.2v5" stroke="#fa1218" stroke-width="1" fill="none"/><path d="M890.0 374.7h3l-1.5 2.8z" fill="#fa1218"/>
<text x="509.0" y="491.9" fill="#2222f5" font-size="12.2" font-weight="bold" textLength="84.0" lengthAdjust="spacingAndGlyphs">4,153.12(-13.18% 10/31,09:30)</text>
<path d="M508.0 487.5h-3.8v-5" stroke="#2222f5" stroke-width="1" fill="none"/><path d="M502.7 483.0h3l-1.5-2.8z" fill="#2222f5"/>
<rect x="34.1" y="623.3" width="438.3" height="151.7" fill="#fff"/>
<path d="M36.6 659.4H438.3M36.6 673.8H438.3M36.6 688.2H438.3M36.6 702.8H438.3M36.6 717.4H438.3M36.6 731.8H438.3M36.6 746.7H438.3" stroke="#cfcfcf" stroke-width="0.7" stroke-dasharray="1.1 2" fill="none"/>
<path d="M94.6 627.3V771.0M160.8 627.3V771.0M227.0 627.3V771.0M293.2 627.3V771.0M359.4 627.3V771.0M425.6 627.3V771.0" stroke="#d2d2d2" stroke-width="0.7" stroke-dasharray="1.1 2" fill="none"/>
<g transform="scale(.1)"><path d="M2065 6815l60 24 60 22 60 21 60 19 60 16 60 13 60 13 60 11 60 10 60 9 60 8 60 7 60 7 60 5 60 5 60 4 60 5 60 4 60 4 60 4 60 5 60 4 60 4 60 5 60 4 60 4 60 4 60 4 60 3 60 4 60 3 60 4 60 3 60 3 60 3 60 3 60 3 25 1" stroke="#16a51f" stroke-width="21" fill="none" stroke-linejoin="round"/><path d="M450 6585l60 19 60 20 60 21 60 22 60 23 60 24 60 26 60 26 60 27 60 26 60 25 60 26 60 26 60 25 60 25 60 23 60 21 60 19 60 17 60 15 60 15 60 13 60 12 60 12 60 10 60 10 60 8 60 7 60 6 60 6 60 5 60 3 60 3 60 3 60 3 60 2 60 1 60-1 60-5 60-8 60-9 60-9 60-6 60-5 60-4 60-5 60-5 60-6 60-8 60-10 60-8 60-8 60-6 60-4 60-5 60-3 60-4 60-2 60-3 60-3 60-2 60-2 60-2 60-2 20 0" stroke="#f4787c" stroke-width="11" fill="none" stroke-linejoin="round"/><path d="M345 6840l60 21 60 20 60 20 60 19 60 19 60 17 60 17 60 19 60 21 60 25 60 26 60 24 60 20 60 17 60 15 60 15 60 13 60 12 60 13 60 13 60 11 60 7 60 1 60 0 60 0 60 0 60 0 60 0 60-5 60-7 60-8 60-6 60-6 60-5 60-6 60-8 60-13 60-19 60-21 60-19 60-19 60-19 60-19 60-16 60-15 60-14 60-13 60-9 60-6 60-5 60-4 60-3 60 0 60 3 60 4 60 4 60 5 60 7 60 8 60 7 60 2 60 0 60 0 60 0 60 0 60 0 5 0" stroke="#a9a9a9" stroke-width="12" fill="none" stroke-linejoin="round"/><path d="M345 6988l40 20 40 20 40 19 40 18 40 17 40 17 40 15 40 16 40 15 40 16 40 17 40 19 40 19 40 18 40 15 40 11 40 7 40 6 40 5 40 5 40 3 40 2 40 0 40-1 40-2 40-3 40-3 40-3 40-3 40-4 40-5 40-6 40-6 40-7 40-6 40-7 40-8 40-9 40-8 40-9 40-7 40-7 40-6 40-5 40-6 40-5 40-5 40-6 40-6 40-5 40-6 40-6 40-8 40-8 40-12 40-15 40-16 40-17 40-16 40-16 40-16 40-16 40-15 40-11 40-11 40-9 40-9 40-6 40-4 40-3 40-3 40-2 40-2 40 0 40 1 40 1 40 2 40 3 40 3 40 7 40 10 40 14 40 16 40 29 40 34 40 25 40 10 40 8 40 6 40 4 40 2 40-1 40-3 40-5 40-5 40-7 40-8 40-9 40-11 5-1" stroke="#2e8b57" stroke-width="9" fill="none" stroke-linejoin="round"/><path d="M345 6975l40 20 40 20 40 19 40 18 40 17 40 17 40 15 40 16 40 15 40 16 40 17 40 19 40 19 40 18 40 15 40 11 40 7 40 6 40 5 40 5 40 3 40 2 40 0 40-1 40-2 40-3 40-3 40-3 40-3 40-4 40-5 40-6 40-6 40-7 40-6 40-7 40-8 40-9 40-8 40-9 40-7 40-7 40-6 40-5 40-6 40-5 40-5 40-6 40-6 40-5 40-6 40-6 40-8 40-8 40-12 40-15 40-16 40-17 40-16 40-16 40-16 40-16 40-15 40-11 40-11 40-9 40-9 40-6 40-4 40-3 40-3 40-2 40-2 40 0 40 1 40 1 40 2 40 3 40 3 40 7 40 10 40 14 40 16 40 29 40 34 40 25 40 10 40 8 40 6 40 4 40 2 40-1 40-3 40-5 40-5 40-7 40-8 40-9 40-11 5-1" stroke="#111" stroke-width="20" fill="none" stroke-linejoin="round"/><path d="M345 7271l20-3 20-4 20-6 20-8 20-10 20-11 20-13 20-16 20-17 20-19 20-20 20-20 20-19 20-19 20-18 20-14 20-11 20-9 20-6 20-5 20 1 20 2 20 7 20 9 20 13 20 17 20 22 20 25 20 32 20 32 20 32 20 29 20 29 20 28 20 26 20 23 20 20 20 18 20 13 20 7 20 0 20-9 20-17 20-23 20-26 20-24 20-25 20-26 20-26 20-26 20-26 20-22 20-20 20-14 20-10 20-4 20 0 20 2 20 5 20 9 20 14 20 17 20 19 20 23 20 24 20 24 20 19 20 14 20 10 20 5 20 2 20-1 20-4 20-6 20-12 20-14 20-19 20-19 20-23 20-23 20-20 20-14 20-15 20-11 20-7 20-4 20 0 20 3 20 5 20 5 20 5 20 6 20 3 20 2 20 0 20-2 20-4 20-5 20-7 20-11 20-12 20-15 20-12 20-12 20-11 20-9 20-8 20-7 20-4 20-3 20 0 20 3 20 4 20 3 20 1 20-1 20-6 20-9 20-12 20-11 20-14 20-13 20-14 20-13 20-12 20-14 20-13 20-10 20-6 20-1 20 2 20 3 20 2 20 1 20 1 20-1 20-1 20 1 20-2 20-2 20-2 20-2 20-4 20-4 20-6 20-3 20-1 20 1 20 4 20 3 20 3 20 2 20 3 20 3 20 6 20 4 20 2 20 2 20 2 20 2 20 3 20 8 20 13 20 15 20 18 20 17 20 18 20 20 20 22 20 25 20 31 20 29 20 25 20 17 20 12 20 6 20-1 20-7 20-9 20-9 20-8 20-11 20-11 20-19 20-25 20-27 20-21 20-18 20-16 20-14 20-13 20-13 20-15 20-14 20-13 20-9 20-5 20-3 5 0" stroke="#d89a28" stroke-width="17" fill="none" stroke-linejoin="round"/><path d="M345 7253l20-18 20-2 20-5 20-22 20-4 20-29 20-4 20-19 20-18 20-20 20-9 20-16 20-10 20-10 20-16 20-12 20-26 20-7 20 4 20 5 20 19 20 7 20 22 20 2 20 22 20 39 20 36 20 42 20 44 20 29 20 9 20 0 20 25 20 9 20 0 20 34 20 33 20 41 20-9 20-16 20-38 20-39 20-18 20-4 20-40 20-19 20-3 20-7 20-28 20-11 20-40 20-18 20-29 20-14 20 14 20 0 20 12 20 7 20 0 20 33 20 22 20 26 20 16 20 53 20 19 20 13 20 6 20 0 20 0 20 21 20-8 20-28 20 0 20-8 20-10 20 0 20-57 20-30 20-6 20-25 20-28 20 0 20-21 20-7 20 0 20 0 20 21 20 5 20 0 20 0 20 0 20 8 20 0 20 0 20-7 20 0 20-17 20-4 20-22 20-39 20-4 20 0 20-31 20-5 20-23 20-6 20 1 20 0 20 0 20 23 20 0 20 0 20 3 20 56 20-20 20-20 20-20 20-22 20 0 20 0 20-16 20 0 20 0 20-44 20-9 20 0 20-48 20-4 20 3 20 24 20 1 20 6 20 0 20 7 20 2 20-8 20 0 20-25 20 0 20 0 20 0 20-22 20-10 20-6 20 1 20 0 20 4 20 1 20 20 20 0 20 10 20 3 20 0 20 0 20 0 20 2 20 16 20 0 20 0 20 0 20 18 20 25 20 53 20 12 20 4 20 3 20 8 20 24 20 28 20 16 20 70 20 20 20 53 20 15 20-21 20-10 20-12 20-17 20 0 20-5 20 0 20-18 20-29 20-63 20-27 20-40 20-26 20-16 20-7 20-7 20-18 20-4 20-10 20-30 20-1 20 1 20 0 20 0 5 0" stroke="#22dbe4" stroke-width="20" fill="none" stroke-linejoin="round"/><path d="M345 7271l20-5 20-7 20-10 20-14 20-16 20-19 20-23 20-26 20-29 20-26 20-25 20-23 20-17 20-15 20-10 20-7 20 0 20 4 20 9 20 9 20 14 20 12 20 15 20 15 20 18 20 23 20 28 20 37 20 45 20 45 20 43 20 39 20 37 20 29 20 23 20 13 20 0 20-10 20-18 20-18 20-25 20-31 20-33 20-37 20-36 20-34 20-31 20-29 20-24 20-19 20-13 20-10 20-6 20 1 20 5 20 8 20 12 20 12 20 17 20 21 20 27 20 27 20 26 20 31 20 30 20 26 20 18 20 11 20-1 20-10 20-18 20-25 20-33 20-34 20-32 20-26 20-26 20-18 20-13 20-10 20-9 20-2 20-3 20-2 20 1 20 4 20 8 20 9 20 12 20 9 20 9 20 10 20 5 20 0 20-6 20-11 20-16 20-20 20-22 20-25 20-24 20-21 20-11 20-8 20-4 20 2 20 3 20 9 20 8 20 10 20 8 20 8 20 5 20-1 20-8 20-12 20-16 20-20 20-23 20-24 20-26 20-22 20-19 20-12 20-7 20-3 20 3 20 4 20 9 20 10 20 12 20 10 20 3 20 1 20-2 20-4 20-9 20-9 20-14 20-10 20-9 20-4 20 1 20 0 20 5 20 4 20 7 20 6 20 10 20 5 20 2 20 4 20 1 20 2 20 1 20 2 20-2 20-1 20 1 20 1 20 9 20 14 20 23 20 24 20 29 20 29 20 31 20 31 20 35 20 36 20 35 20 23 20 12 20 1 20-5 20-11 20-16 20-28 20-37 20-41 20-29 20-22 20-14 20-10 20-11 20-7 20-6 20-10 20-14 20-17 20-17 20-20 20-19 20-17 20-18 20-7 20 1 20 11 5 6" stroke="#d89a28" stroke-width="9" fill="none" stroke-linejoin="round"/><path d="M345 7253l20-18 20-2 20-5 20-28 20-20 20-39 20-13 20-36 20-30 20-45 20-11 20-8 20-10 20 0 20 7 20 1 20 10 20 9 20 26 20 11 20 19 20 8 20 24 20 9 20 14 20 54 20 39 20 42 20 70 20 56 20 41 20 46 20 5 20-28 20-10 20 0 20-7 20-13 20-37 20-20 20-40 20-58 20-24 20-39 20-57 20-29 20-14 20 0 20-2 20-23 20-5 20 0 20-6 20 25 20 29 20 8 20 27 20 25 20 0 20 39 20 23 20 13 20 38 20 66 20 18 20 22 20 2 20-13 20-36 20-64 20-37 20-35 20-19 20-31 20-10 20-22 20-25 20-9 20-2 20-7 20-5 20 8 20 14 20 0 20 8 20 0 20 21 20 5 20 18 20 11 20 0 20-9 20-18 20-6 20-20 20-17 20-23 20-26 20-20 20-40 20-19 20-10 20-13 20 8 20 0 20 14 20 69 20 0 20 0 20 23 20 4 20 0 20 2 20 5 20-28 20-20 20-64 20-32 20 0 20-47 20-20 20-15 20-5 20 0 20 5 20 0 20 15 20 14 20 14 20 24 20 12 20 10 20-27 20 0 20-23 20-21 20-6 20-36 20-5 20 0 20 0 20 7 20 0 20 16 20 20 20-2 20 5 20 0 20 9 20 24 20 0 20 0 20-19 20 0 20 2 20 11 20 11 20-2 20 0 20-8 20 25 20 24 20 54 20 38 20 23 20 56 20 23 20 27 20 30 20 16 20 48 20 18 20 17 20-41 20-49 20-39 20-70 20-34 20-23 20-32 20-5 20 0 20 6 20-5 20-10 20-17 20-18 20-16 20-8 20-6 20-23 20-4 20-65 20-13 20-9 20 70 20 0 20 19 5 18" stroke="#d89a28" stroke-width="9" fill="none" stroke-linejoin="round"/><path d="M345 7271l20-6 20-12 20-13 20-20 20-23 20-27 20-26 20-26 20-28 20-27 20-26 20-20 20-15 20-8 20-3 20 3 20 9 20 10 20 10 20 11 20 16 20 14 20 16 20 16 20 20 20 29 20 31 20 45 20 55 20 58 20 51 20 38 20 30 20 15 20 0 20-9 20-12 20-12 20-21 20-24 20-34 20-39 20-40 20-42 20-37 20-33 20-26 20-20 20-15 20-11 20-10 20-7 20-2 20 6 20 11 20 15 20 20 20 19 20 21 20 20 20 26 20 29 20 29 20 39 20 36 20 27 20 7 20-4 20-14 20-30 20-39 20-39 20-34 20-30 20-28 20-21 20-19 20-11 20-9 20-6 20-3 20 1 20 2 20-1 20 1 20 6 20 12 20 9 20 16 20 15 20 12 20 8 20-3 20-8 20-18 20-17 20-23 20-25 20-25 20-27 20-22 20-18 20-7 20 0 20 4 20 13 20 15 20 13 20 7 20 2 20 6 20 6 20 3 20-4 20-9 20-17 20-26 20-34 20-33 20-29 20-22 20-14 20-8 20-4 20 2 20 1 20 5 20 8 20 11 20 16 20 13 20 11 20 2 20-4 20-11 20-16 20-18 20-13 20-9 20-5 20-2 20 1 20 2 20 2 20 6 20 8 20 9 20 9 20 9 20 5 20 1 20 0 20-3 20-2 20 1 20 3 20 2 20 0 20 2 20 1 20 7 20 17 20 33 20 39 20 42 20 40 20 32 20 27 20 19 20 28 20 34 20 29 20 16 20-3 20-20 20-37 20-53 20-49 20-37 20-25 20-13 20-10 20-4 20-5 20-9 20-8 20-8 20-13 20-19 20-21 20-15 20-21 20-27 20-21 20-12 20 4 20 10 20 22 5 13" stroke="#3a46e0" stroke-width="10" fill="none" stroke-linejoin="round"/><path d="M345 7271l20-10 20-16 20-21 20-30 20-25 20-24 20-27 20-26 20-29 20-29 20-24 20-16 20-7 20 0 20 6 20 8 20 10 20 11 20 12 20 13 20 17 20 14 20 18 20 19 20 19 20 33 20 42 20 57 20 70 20 63 20 49 20 23 20 3 20-8 20-7 20-6 20-14 20-17 20-28 20-32 20-40 20-45 20-44 20-43 20-33 20-24 20-17 20-13 20-11 20-10 20-9 20-4 20 2 20 12 20 21 20 23 20 24 20 15 20 16 20 20 20 31 20 39 20 35 20 45 20 30 20 16 20-1 20-26 20-39 20-42 20-39 20-36 20-32 20-26 20-21 20-15 20-17 20-8 20-3 20-4 20 3 20 4 20-1 20 0 20 3 20 3 20 18 20 19 20 22 20 15 20 2 20 1 20-11 20-17 20-21 20-24 20-28 20-24 20-23 20-29 20-20 20-14 20 1 20 15 20 15 20 19 20 11 20 6 20 5 20-1 20 3 20 8 20 5 20-4 20-18 20-35 20-40 20-37 20-31 20-21 20-12 20-6 20-2 20-1 20 4 20 3 20 8 20 12 20 12 20 21 20 16 20 8 20-6 20-18 20-24 20-20 20-13 20-5 20-3 20-2 20 0 20 0 20 4 20 5 20 9 20 8 20 11 20 11 20 8 20 2 20-5 20-4 20-7 20 0 20 8 20 6 20 3 20-1 20-4 20-3 20 14 20 30 20 50 20 57 20 48 20 32 20 12 20 12 20 17 20 38 20 52 20 35 20 6 20-34 20-64 20-62 20-50 20-34 20-21 20-15 20-4 20-4 20 0 20-3 20-17 20-10 20-11 20-16 20-14 20-24 20-27 20-23 20-23 20-15 20-9 20 13 20 29 20 41 5 20" stroke="#3a46e0" stroke-width="8" fill="none" stroke-linejoin="round"/><path d="M405 7180v20M445 7120v50M485 7050v40M565 6930v80M595 6950v80M625 6980v30M655 6990v30M675 7010v30M685 7020v40M695 7010v50M715 7040v50M725 7020v60M735 7030v60M745 7060v40M755 7060v40M775 7050v60M785 7090v30M815 7120v40M835 7120v50M845 7180v20M855 7190v70M865 7220v30M895 7340v20M905 7360v40M915 7430v30M935 7470v50M945 7470v30M955 7480v30M985 7440v40M1005 7440v40M1035 7450v20M1085 7380v40M1095 7380v50M1185 7160v60M1205 7130v40M1255 7090v50M1265 7090v30M1275 7070v50M1305 7070v30M1325 7070v50M1335 7030v60M1345 7060v20M1375 7050v20M1385 7060v20M1395 7070v20M1405 7070v40M1415 7100v40M1435 7130v30M1445 7150v40M1465 7140v40M1475 7150v60M1505 7170v40M1515 7140v80M1535 7200v40M1555 7270v70M1595 7310v50M1605 7320v60M1625 7420v40M1705 7290v40M1825 7110v50M1845 7080v60M1895 7080v30M1905 7080v40M1915 7070v70M1935 7050v60M1955 7070v50M1965 7040v60M1975 7100v50M1995 7060v120M2005 7080v40M2025 7080v60M2045 7090v40M2055 7090v60M2075 7140v80M2085 7150v50M2095 7140v40M2105 7150v80M2145 7110v80M2155 7160v20M2165 7160v30M2175 7160v40M2205 7140v20M2215 7110v40M2255 7070v20M2285 7020v30M2305 7000v30M2315 6980v40M2325 6970v60M2345 6950v70M2375 6940v60M2385 6950v30M2395 6990v40M2415 7000v30M2455 7010v40M2465 7040v30M2475 6990v110M2515 7010v40M2525 7030v20M2555 7040v80M2575 7040v50M2625 7000v60M2665 6910v130M2705 6820v120M2725 6830v50M2765 6820v60M2795 6800v100M2835 6840v50M2865 6840v40M2895 6870v20M2925 6880v50M2935 6920v50M2945 6920v70M2955 6950v40M3015 6860v60M3105 6760v110M3115 6790v50M3135 6820v40M3165 6830v50M3185 6830v40M3215 6830v40M3225 6850v40M3235 6850v70M3265 6870v40M3275 6890v40M3295 6870v60M3305 6890v30M3315 6880v70M3335 6850v40M3345 6860v50M3375 6870v50M3395 6840v60M3415 6860v50M3425 6870v30M3435 6890v30M3455 6900v50M3525 6880v50M3555 6920v30M3565 6950v40M3575 6960v50M3605 7100v40M3615 7100v30M3625 7100v50M3635 7120v40M3675 7110v30M3685 7130v50M3695 7130v100M3715 7160v40M3735 7250v20M3745 7290v30M3785 7260v40M3835 7100v50M3845 7050v60M3855 7050v50M3885 7010v30M3905 7010v30M3935 6980v30M3945 6970v60M3955 7010v20M3975 7000v40M3995 7000v40M4005 6990v60M4055 6920v50M4065 6900v80M4075 6940v70M4145 6850v40M4155 6840v50M4225 6780v60M4245 6830v40M4305 6960v40M4315 6950v40" stroke="#2b35e6" stroke-width="10" fill="none"/><path d="M345 7220v70M355 7240v30M365 7180v50M375 7200v40M385 7180v40M395 7170v50M415 7150v50M425 7130v50M435 7120v30M455 7070v60M465 7060v90M475 7060v20M495 7050v30M505 7010v70M515 7010v50M525 6980v70M535 6980v50M545 6940v70M555 6930v60M575 6950v60M585 6950v90M605 6980v40M615 6960v60M635 6970v40M645 6990v40M665 7000v40M705 7020v30M765 7090v50M795 7100v70M805 7120v20M825 7120v20M875 7250v40M885 7270v50M925 7430v40M965 7440v70M975 7450v20M995 7450v40M1015 7430v40M1025 7390v80M1045 7420v70M1055 7420v30M1065 7400v50M1075 7410v30M1105 7360v30M1115 7340v30M1125 7320v20M1135 7310v50M1145 7290v30M1155 7260v30M1165 7220v20M1175 7210v40M1195 7130v60M1215 7120v40M1225 7120v30M1235 7100v60M1245 7040v90M1285 7080v30M1295 7060v60M1315 7060v30M1355 7050v50M1365 7030v50M1425 7100v60M1455 7130v40M1485 7160v60M1495 7160v70M1525 7200v30M1545 7220v80M1565 7260v50M1575 7310v40M1585 7290v80M1615 7390v30M1635 7400v60M1645 7400v30M1655 7390v40M1665 7380v110M1675 7330v60M1685 7320v40M1695 7290v40M1715 7280v40M1725 7220v50M1735 7220v60M1745 7190v40M1755 7190v20M1765 7170v40M1775 7110v130M1785 7130v60M1795 7140v50M1805 7120v30M1815 7100v40M1835 7080v30M1855 7100v40M1865 7080v40M1875 7070v20M1885 7060v70M1925 7070v40M1945 7070v40M1985 7100v50M2015 7050v70M2035 7050v40M2065 7100v40M2115 7140v70M2125 7190v20M2135 7150v40M2185 7140v40M2195 7090v70M2225 7080v70M2235 7050v60M2245 7040v50M2265 7060v30M2275 7010v60M2295 7000v40M2335 6910v50M2355 6950v30M2365 6900v50M2405 6880v130M2425 7010v30M2435 7000v30M2445 7010v30M2485 6990v60M2495 7020v40M2505 7000v60M2535 7020v120M2545 6990v70M2565 7020v50M2585 7040v50M2595 7050v40M2605 7040v110M2615 7010v50M2635 6990v20M2645 6950v40M2655 6910v40M2675 6900v50M2685 6870v20M2695 6860v50M2715 6830v80M2735 6840v40M2745 6820v60M2755 6790v50M2775 6830v50M2785 6810v60M2805 6830v60M2815 6820v40M2825 6840v60M2845 6820v60M2855 6850v20M2875 6850v60M2885 6840v60M2905 6860v80M2915 6890v50M2965 6920v20M2975 6910v30M2985 6920v30M2995 6830v100M3005 6860v40M3025 6850v20M3035 6830v40M3045 6850v50M3055 6810v60M3065 6820v40M3075 6810v30M3085 6820v50M3095 6840v50M3125 6810v40M3145 6780v70M3155 6800v60M3175 6810v70M3195 6820v50M3205 6840v30M3245 6870v20M3255 6800v90M3285 6860v70M3325 6880v50M3355 6850v40M3365 6870v40M3385 6860v30M3405 6850v50M3445 6890v40M3465 6880v30M3475 6890v20M3485 6870v30M3495 6860v60M3505 6870v20M3515 6850v70M3535 6870v70M3545 6850v60M3585 7010v30M3595 7060v70M3645 7100v50M3655 7120v40M3665 7110v50M3705 7140v40M3725 7230v50M3755 7310v40M3765 7320v70M3775 7320v40M3795 7240v60M3805 7200v30M3815 7120v60M3825 7120v40M3865 7030v60M3875 7030v20M3895 6970v60M3915 6990v40M3925 6980v50M3965 6980v40M3985 6970v30M4015 6980v30M4025 6960v30M4035 6940v30M4045 6930v40M4085 6940v30M4095 6920v40M4105 6870v70M4115 6870v130M4125 6860v70M4135 6840v40M4165 6800v70M4175 6810v60M4185 6800v40M4195 6790v40M4205 6780v30M4215 6750v90M4235 6790v40M4255 6850v160M4265 6860v70M4275 6890v20M4285 6920v30M4295 6950v20" stroke="#e8121c" stroke-width="10" fill="none"/><path d="M345 7271l10-4 10-11 10-12 10-15 10-17 10-13 10-9 10-15 10-12 10-10 10-15 10-13 10-14 10-11 10-13 10-18 10-14 10-12 10-15 10-17 10-12 10-8 10-5 10-4 10-1 10 6 10 1 10 3 10 2 10 7 10 1 10 6 10 4 10 10 10 6 10 6 10 6 10 6 10 4 10 4 10 10 10 12 10 8 10 10 10 10 10 8 10 8 10 7 10 10 10 15 10 20 10 18 10 30 10 28 10 32 10 31 10 41 10 36 10 38 10 28 10 22 10 5 10 0 10-5 10-4 10-5 10-4 10-1 10-2 10-2 10-6 10-4 10-5 10-13 10-11 10-12 10-16 10-20 10-14 10-20 10-22 10-24 10-21 10-27 10-26 10-21 10-19 10-18 10-12 10-10 10-10 10-7 10-7 10-5 10-8 10-5 10-7 10-4 10-6 10-1 10-3 10-4 10-4 10 1 10 1 10 4 10 13 10 11 10 14 10 15 10 13 10 8 10 13 10 8 10 4 10 6 10 9 10 7 10 10 10 14 10 25 10 19 10 22 10 23 10 21 10 9 10 20 10 21 10 16 10 15 10 11 10-2 10-14 10-17 10-23 10-21 10-20 10-22 10-19 10-18 10-22 10-20 10-18 10-15 10-12 10-14 10-11 10-8 10-14 10-9 10-3 10-7 10-9 10-3 10-5 10-3 10 1 10 1 10 3 10-1 10-2 10-2 10 5 10 3 10 0 10 2 10-3 10-2 10-4 10 5 10 6 10 9 10 9 10 17 10 11 10 9 10 11 10 10 10 1 10 4 10-1 10-1 10-5 10-2 10-9 10-3 10-9 10-15 10-15 10-11 10-15 10-12 10-13 10-12 10-12 10-12 10-13 10-10 10-18 10-9 10-12 10-12 10-4 10 3 10 6 10 6 10 14 10 13 10 10 10 4 10 6 10 7 10 5 10 3 10 6 10 2 10-2 10-2 10 1 10-4 10 5 10 2 10 7 10 7 10 6 10-1 10-5 10-11 10-14 10-20 10-25 10-18 10-19 10-25 10-15 10-16 10-17 10-10 10-4 10-10 10-3 10 3 10-3 10-4 10 2 10 3 10-6 10 1 10 5 10 5 10 1 10 5 10 5 10 1 10 4 10 10 10 9 10 8 10 12 10 13 10 10 10 5 10 1 10-1 10-10 10-15 10-10 10-15 10-17 10-8 10-7 10-7 10-6 10 2 10-2 10-1 10-2 10 3 10-1 10-3 10-4 10 4 10 0 10 1 10 6 10 5 10 1 10 3 10 4 10 3 10 5 10 7 10 9 10 3 10 5 10 6 10 5 10-1 10-2 10-1 10-5 10-7 10-1 10-2 10-3 10 1 10 1 10-1 10 7 10 7 10 7 10 3 10 1 10-3 10-6 10-7 10-4 10 2 10 1 10 1 10 10 10 19 10 17 10 25 10 37 10 35 10 30 10 26 10 25 10 11 10 7 10 3 10 2 10 1 10 7 10 5 10 9 10 21 10 23 10 27 10 35 10 36 10 19 10 4 10-11 10-25 10-39 10-39 10-35 10-36 10-28 10-22 10-20 10-17 10-12 10-10 10-10 10-5 10-6 10-2 10 0 10 1 10 1 10-2 10 1 10-3 10-2 10-8 10-7 10-12 10-11 10-7 10-1 10 1 10-2 10-8 10-12 10-18 10-18 10-15 10-11 10-10 10-8 10-8 10-11 10-12 10-12 10-7 10-3 10 5 10 16 10 19 10 19 10 25 10 25 10 19 5 16" stroke="#e8121c" stroke-width="10" fill="none" stroke-linejoin="round"/></g>
<path d="M35.6 772.0V626.3" stroke="#6a6a6a" stroke-width="1" fill="none"/>
<path d="M35.1 626.3H439.8" stroke="#333" stroke-width="1.4" fill="none"/>
<path d="M35.1 772.0H471.4" stroke="#444" stroke-width="1.6" fill="none"/>
<path d="M439.3 626.3V774.0" stroke="#333" stroke-width="1.1" fill="none"/>
<path d="M470.9 623.8V773.0" stroke="#aeb3bd" stroke-width="1" fill="none"/>
<rect x="37.1" y="627.8" width="3.6" height="4.2" fill="#000"/>
<rect x="428.8" y="628.9" width="4" height="5" fill="#222"/><rect x="433.5" y="628.9" width="4" height="5" fill="#222"/>
<rect x="430.0" y="630.5" width="1.6" height="1.8" fill="#ddd"/><rect x="434.7" y="630.1" width="1.4" height="2.6" fill="#ddd"/>
<rect x="42.9" y="632.7" width="1.5" height="6.8" fill="#e8202a"/><text x="45.1" y="639.3" fill="#e8202a" font-size="10" font-weight="bold" textLength="12.5" lengthAdjust="spacingAndGlyphs">종합</text><rect x="60.2" y="632.7" width="1.5" height="6.8" fill="#e8202a"/><text x="62.4" y="639.3" fill="#e8202a" font-size="10" font-weight="bold" textLength="3.3" lengthAdjust="spacingAndGlyphs">7</text><rect x="68.3" y="632.7" width="1.5" height="6.8" fill="#3a46e0"/><text x="70.5" y="639.3" fill="#3a46e0" font-size="10" font-weight="bold" textLength="6.2" lengthAdjust="spacingAndGlyphs">15</text><rect x="79.3" y="632.7" width="1.5" height="6.8" fill="#d89a28"/><text x="81.5" y="639.3" fill="#d89a28" font-size="10" font-weight="bold" textLength="7.0" lengthAdjust="spacingAndGlyphs">35</text><rect x="91.1" y="632.7" width="1.5" height="6.8" fill="#222"/><text x="93.3" y="639.3" fill="#222" font-size="10" font-weight="bold" textLength="6.5" lengthAdjust="spacingAndGlyphs">55</text><rect x="102.4" y="632.7" width="1.5" height="6.8" fill="#9a9a9a"/><text x="104.6" y="639.3" fill="#9a9a9a" font-size="10" font-weight="bold" textLength="9.2" lengthAdjust="spacingAndGlyphs">120</text><rect x="116.4" y="632.7" width="1.5" height="6.8" fill="#1f9a2e"/><text x="118.6" y="639.3" fill="#1f9a2e" font-size="10" font-weight="bold" textLength="10.4" lengthAdjust="spacingAndGlyphs">390</text><rect x="131.6" y="632.7" width="1.5" height="6.8" fill="#e8202a"/><text x="133.8" y="639.3" fill="#e8202a" font-size="10" font-weight="bold" textLength="3.0" lengthAdjust="spacingAndGlyphs">5</text><rect x="139.4" y="632.7" width="1.5" height="6.8" fill="#3a46e0"/><text x="141.6" y="639.3" fill="#3a46e0" font-size="10" font-weight="bold" textLength="6.0" lengthAdjust="spacingAndGlyphs">10</text><rect x="150.2" y="632.7" width="1.5" height="6.8" fill="#d89a28"/><text x="152.4" y="639.3" fill="#d89a28" font-size="10" font-weight="bold" textLength="7.0" lengthAdjust="spacingAndGlyphs">20</text><rect x="162.0" y="632.7" width="1.5" height="6.8" fill="#1f9a2e"/><text x="164.2" y="639.3" fill="#1f9a2e" font-size="10" font-weight="bold" textLength="7.0" lengthAdjust="spacingAndGlyphs">60</text><rect x="173.8" y="632.7" width="1.5" height="6.8" fill="#9a9a9a"/><text x="176.0" y="639.3" fill="#9a9a9a" font-size="10" font-weight="bold" textLength="9.2" lengthAdjust="spacingAndGlyphs">120</text><rect x="187.8" y="632.7" width="1.5" height="6.8" fill="#e8202a"/><text x="190.0" y="639.3" fill="#e8202a" font-size="10" font-weight="bold" textLength="10.0" lengthAdjust="spacingAndGlyphs">240</text><rect x="202.6" y="632.7" width="1.5" height="6.8" fill="#22d4dc"/><text x="204.8" y="639.3" fill="#22d4dc" font-size="10" font-weight="bold" textLength="60.0" lengthAdjust="spacingAndGlyphs">기준선(26,9,26,52,26)</text><rect x="267.4" y="632.7" width="1.5" height="6.8" fill="#d89a28"/><text x="269.6" y="639.3" fill="#d89a28" font-size="10" font-weight="bold" textLength="17.5" lengthAdjust="spacingAndGlyphs">전환선</text>
<path d="M439.8 658.1l2.4 1.3l-2.4 1.3z" fill="#222"/>
<text x="469.3" y="663.0" fill="#606060" font-size="12.8" text-anchor="end" textLength="22.6" lengthAdjust="spacingAndGlyphs">2,800.00</text>
<path d="M439.8 672.5l2.4 1.3l-2.4 1.3z" fill="#222"/>
<text x="469.3" y="677.4" fill="#606060" font-size="12.8" text-anchor="end" textLength="22.6" lengthAdjust="spacingAndGlyphs">2,700.00</text>
<path d="M439.8 686.9l2.4 1.3l-2.4 1.3z" fill="#222"/>
<text x="469.3" y="691.8" fill="#606060" font-size="12.8" text-anchor="end" textLength="22.6" lengthAdjust="spacingAndGlyphs">2,600.00</text>
<path d="M439.8 701.5l2.4 1.3l-2.4 1.3z" fill="#222"/>
<path d="M439.8 716.1l2.4 1.3l-2.4 1.3z" fill="#222"/>
<path d="M439.8 730.5l2.4 1.3l-2.4 1.3z" fill="#222"/>
<text x="469.3" y="735.4" fill="#606060" font-size="12.8" text-anchor="end" textLength="22.6" lengthAdjust="spacingAndGlyphs">2,300.00</text>
<path d="M439.8 745.4l2.4 1.3l-2.4 1.3z" fill="#222"/>
<text x="469.3" y="750.3" fill="#606060" font-size="12.8" text-anchor="end" textLength="22.6" lengthAdjust="spacingAndGlyphs">2,200.00</text>
<rect x="445.5" y="692.4" width="23.4" height="25.3" fill="#2222f5"/>
<path d="M445.2 695.9l-3.4 4.2l3.4 4.2z" fill="#2222f5"/>
<text x="468.5" y="703.6" fill="#fff" font-size="12.8" text-anchor="end" textLength="22.4" lengthAdjust="spacingAndGlyphs">2,525.05</text>
<text x="468.5" y="716.0" fill="#fff" font-size="12.8" text-anchor="end" textLength="22.4" lengthAdjust="spacingAndGlyphs">(-0.60%)</text>
<text x="342.5" y="673.4" fill="#fa1218" font-size="12.2" font-weight="bold" textLength="75.0" lengthAdjust="spacingAndGlyphs">2,675.80(5.97% 2024/01/02)</text>
<path d="M418.3 669.0h4.2v5" stroke="#fa1218" stroke-width="1" fill="none"/><path d="M421.0 673.5h3l-1.5 2.8z" fill="#fa1218"/>
<text x="100.0" y="769.4" fill="#2222f5" font-size="12.2" font-weight="bold" textLength="78.0" lengthAdjust="spacingAndGlyphs">2,134.77(-15.46% 2022/09/30)</text>
<path d="M99.0 765.0h-3.8v-5" stroke="#2222f5" stroke-width="1" fill="none"/><path d="M93.7 760.5h3l-1.5-2.8z" fill="#2222f5"/>
<rect x="501.2" y="622.9" width="442.6" height="153.0" fill="#fff"/>
<path d="M503.7 666.3H909.7M503.7 681.6H909.7M503.7 696.5H909.7M503.7 711.3H909.7M503.7 725.5H909.7M503.7 740.4H909.7M503.7 754.9H909.7" stroke="#cfcfcf" stroke-width="0.7" stroke-dasharray="1.1 2" fill="none"/>
<path d="M907.4 626.9V771.9M895.1 626.9V771.9M887.4 626.9V771.9M879.7 626.9V771.9M871.9 626.9V771.9M864.2 626.9V771.9M856.5 626.9V771.9M848.8 626.9V771.9M841.1 626.9V771.9M833.3 626.9V771.9M825.6 626.9V771.9M817.9 626.9V771.9M810.2 626.9V771.9M802.5 626.9V771.9M794.7 626.9V771.9M787.0 626.9V771.9M779.3 626.9V771.9M771.6 626.9V771.9M763.9 626.9V771.9M756.1 626.9V771.9M748.4 626.9V771.9M740.7 626.9V771.9M733.0 626.9V771.9M725.3 626.9V771.9M717.5 626.9V771.9M709.8 626.9V771.9M702.1 626.9V771.9M694.4 626.9V771.9M686.7 626.9V771.9M678.9 626.9V771.9M671.2 626.9V771.9M663.5 626.9V771.9M655.8 626.9V771.9M648.1 626.9V771.9M640.3 626.9V771.9M632.6 626.9V771.9M624.9 626.9V771.9M617.2 626.9V771.9M609.5 626.9V771.9M601.7 626.9V771.9M594.0 626.9V771.9M586.3 626.9V771.9M578.6 626.9V771.9M570.9 626.9V771.9M563.1 626.9V771.9M555.4 626.9V771.9M547.7 626.9V771.9M540.0 626.9V771.9M532.3 626.9V771.9M524.5 626.9V771.9M516.8 626.9V771.9M509.1 626.9V771.9" stroke="#e0e0e0" stroke-width="0.7" stroke-dasharray="1.1 2.6" fill="none"/>
<path d="M523.4 701.7H910.5" stroke="#ee1c24" stroke-width="1.7" fill="none"/>
<path d="M544.9 701.7V708.0" stroke="#ee1c24" stroke-width="1.2" fill="none"/>
<g transform="scale(.1)"><path d="M6680 7100l60 5 60 6 60 5 60 4 60 3 60 2 60 0 60 0 60 0 60 0 60 0 60 0 60 0 60 0 60 0 60-1 60-1 60-3 60-3 60-3 60-4 60-5 60-4 60-4 60-5 60-6 60-7 60-7 60-7 60-6 60-6 60-4 60-5 60-4 60-4 60-3 60-3 60-3 45-2" stroke="#16a51f" stroke-width="21" fill="none" stroke-linejoin="round"/><path d="M5030 7075l60 19 60 18 60 17 60 16 60 15 60 16 60 17 60 16 60 12 60 4 60 0 60 0 60 0 60 0 60 0 60 0 60 0 60 0 60-3 60-6 60-7 60-8 60-8 60-7 60-7 60-5 60-3 60-4 60-2 60-3 60-3 60-3 60-2 60-3 60-4 60-2 60-3 60-3 60-4 60-5 60-6 60-19 60-28 60-24 60-15 60-12 60-11 60-11 60-12 60-13 60-13 60-12 60-11 60-9 60-10 60-9 60-8 60-6 60-3 60-4 60-2 60-2 60 1 60 6 60 11 60 13 15 4" stroke="#f4787c" stroke-width="11" fill="none" stroke-linejoin="round"/><path d="M5030 7250l60 12 60 11 60 11 60 9 60 7 60 7 60 7 60 5 60 4 60 2 60 0 60 0 60 0 60 0 60-5 60-16 60-22 60-24 60-25 60-31 60-34 60-31 60-23 60-22 60-19 60-16 60-10 60-7 60-6 60-5 60-5 60-4 60-4 60-3 60-3 60-2 60-2 60-2 60-3 60-6 60-9 60-11 60-11 60-11 60-12 60-13 60-12 60-12 60-13 60-12 60-12 60-10 60-10 60-9 60-8 60-6 60-5 60-4 60-4 60-1 60 1 60 3 60 5 60 5 60 9 60 13 15 4" stroke="#a9a9a9" stroke-width="12" fill="none" stroke-linejoin="round"/><path d="M5030 7338l40 33 40 29 40 26 40 25 40 12 40-2 40-5 40-9 40-22 40-30 40-27 40-18 40-16 40-14 40-14 40-14 40-15 40-15 40-15 40-15 40-15 40-15 40-15 40-15 40-15 40-15 40-16 40-17 40-17 40-16 40-11 40-7 40-6 40-5 40-4 40-4 40-4 40-3 40-3 40-3 40-2 40-3 40-3 40-2 40-2 40-1 40 0 40 0 40 0 40 0 40 0 40 0 40 0 40 0 40 0 40 0 40-2 40-5 40-9 40-11 40-11 40-10 40-11 40-13 40-12 40-13 40-12 40-12 40-13 40-12 40-11 40-11 40-11 40-10 40-9 40-10 40-9 40-8 40-8 40-8 40-7 40-8 40-9 40-7 40-3 40 1 40 3 40 3 40 4 40 3 40 4 40 4 40 6 40 10 40 12 40 12 40 11 40 11 40 12 15 4" stroke="#2e8b57" stroke-width="9" fill="none" stroke-linejoin="round"/><path d="M5030 7325l40 33 40 29 40 26 40 25 40 12 40-2 40-5 40-9 40-22 40-30 40-27 40-18 40-16 40-14 40-14 40-14 40-15 40-15 40-15 40-15 40-15 40-15 40-15 40-15 40-15 40-15 40-16 40-17 40-17 40-16 40-11 40-7 40-6 40-5 40-4 40-4 40-4 40-3 40-3 40-3 40-2 40-3 40-3 40-2 40-2 40-1 40 0 40 0 40 0 40 0 40 0 40 0 40 0 40 0 40 0 40 0 40-2 40-5 40-9 40-11 40-11 40-10 40-11 40-13 40-12 40-13 40-12 40-12 40-13 40-12 40-11 40-11 40-11 40-10 40-9 40-10 40-9 40-8 40-8 40-8 40-7 40-8 40-9 40-7 40-3 40 1 40 3 40 3 40 4 40 3 40 4 40 4 40 6 40 10 40 12 40 12 40 11 40 11 40 12 15 4" stroke="#111" stroke-width="20" fill="none" stroke-linejoin="round"/><path d="M5030 7474l20 0 20-1 20-1 20 2 20 3 20 3 20 2 20 2 20 1 20 0 20-1 20-3 20-3 20-5 20-5 20-6 20-9 20-12 20-16 20-19 20-17 20-18 20-18 20-18 20-18 20-18 20-17 20-18 20-18 20-16 20-14 20-13 20-10 20-11 20-9 20-6 20-3 20 0 20 5 20 5 20 4 20 2 20-1 20-2 20-3 20-3 20-3 20-3 20-3 20-4 20-4 20-4 20-5 20-6 20-7 20-8 20-9 20-10 20-10 20-10 20-9 20-8 20-8 20-7 20-7 20-6 20-6 20-4 20-4 20-3 20-3 20-4 20-4 20-3 20-3 20-1 20-1 20 0 20 0 20 0 20 0 20-1 20 0 20 1 20 0 20 1 20 0 20-1 20-2 20-2 20-3 20-1 20-1 20 0 20 0 20 1 20-1 20 0 20 0 20 0 20 0 20 0 20 1 20 1 20 2 20 2 20 4 20 3 20 4 20 3 20 2 20 1 20 0 20-2 20-3 20-3 20-3 20-4 20-4 20-3 20-4 20-3 20-5 20-4 20-4 20-6 20-8 20-8 20-8 20-9 20-8 20-7 20-6 20-5 20-6 20-5 20-4 20-5 20-6 20-7 20-7 20-9 20-9 20-10 20-9 20-9 20-7 20-7 20-6 20-6 20-6 20-6 20-5 20-5 20-5 20-5 20-5 20-4 20-4 20-2 20-3 20-2 20-3 20-6 20-6 20-8 20-7 20-8 20-7 20-4 20-4 20-3 20-3 20-2 20-2 20-1 20 1 20 1 20 0 20 1 20 1 20 3 20 5 20 7 20 8 20 11 20 11 20 11 20 10 20 10 20 9 20 8 20 8 20 10 20 9 20 9 20 10 20 9 15 10" stroke="#d89a28" stroke-width="17" fill="none" stroke-linejoin="round"/><path d="M5030 7469l20 0 20-13 20 0 20 19 20 23 20 0 20 0 20 0 20 0 20 0 20 0 20-6 20-15 20-4 20-6 20-19 20-51 20-14 20-31 20-36 20-16 20-1 20-9 20-9 20-14 20-12 20-5 20-11 20-6 20-16 20-28 20-29 20-20 20 0 20 22 20 1 20 13 20 4 20 0 20 0 20 0 20 0 20 0 20-3 20-5 20-24 20 0 20 0 20 0 20 0 20 0 20 0 20-7 20-5 20-25 20-18 20-19 20-1 20-19 20-5 20-4 20 0 20-5 20 0 20-9 20 0 20-8 20-4 20 0 20-22 20-1 20 0 20 0 20 0 20 0 20 0 20 0 20 0 20 6 20 0 20 3 20 0 20 0 20 0 20-11 20-1 20 0 20 0 20 0 20 0 20 0 20 0 20-4 20-3 20 2 20 0 20 3 20 0 20 0 20 0 20 0 20 0 20 0 20 0 20 21 20 5 20 3 20 1 20 0 20 0 20 0 20 0 20 0 20-10 20-1 20-6 20-6 20-6 20 0 20-4 20-8 20 0 20-3 20-3 20-9 20-9 20-9 20-19 20 0 20-25 20 0 20 0 20 0 20 0 20 0 20 0 20-1 20-7 20-14 20-16 20-24 20-22 20-6 20-4 20 0 20-1 20-4 20-4 20 0 20 0 20-16 20-5 20 0 20-9 20 0 20-17 20 0 20 0 20-5 20 0 20-8 20-4 20-31 20 0 20 0 20-16 20-17 20 0 20-1 20 0 20-5 20 0 20 0 20-4 20 4 20 2 20 4 20 0 20 0 20 0 20 0 20 6 20 35 20 8 20 28 20 7 20 4 20 16 20 8 20 11 20 0 20 13 20 1 20 33 20 4 20 3 20 15 20 0 15 11" stroke="#22dbe4" stroke-width="20" fill="none" stroke-linejoin="round"/><path d="M5030 7474l20 0 20-2 20-1 20 2 20 6 20 6 20 4 20 2 20 2 20 0 20-2 20-4 20-4 20-7 20-11 20-17 20-22 20-25 20-30 20-35 20-34 20-30 20-27 20-21 20-19 20-18 20-17 20-14 20-8 20-2 20 5 20 6 20 6 20 4 20 3 20 2 20 3 20 4 20 6 20 5 20 3 20 0 20-2 20-4 20-6 20-8 20-9 20-10 20-13 20-12 20-11 20-8 20-7 20-5 20-7 20-7 20-7 20-6 20-7 20-8 20-8 20-8 20-9 20-10 20-9 20-8 20-4 20-3 20-1 20 0 20 3 20 2 20 2 20 1 20 2 20 2 20 3 20 2 20 1 20-2 20-2 20-3 20-3 20-3 20-2 20 0 20 0 20-4 20-2 20-3 20-2 20 0 20 1 20 1 20 2 20 2 20 1 20 1 20 2 20 1 20 1 20 1 20 1 20 1 20 3 20 3 20 4 20 4 20 3 20 4 20 3 20 2 20 1 20-4 20-4 20-7 20-9 20-12 20-11 20-11 20-12 20-9 20-8 20-6 20 0 20-3 20-4 20-5 20-4 20-6 20-5 20-4 20-6 20-5 20-9 20-9 20-9 20-7 20-6 20-8 20-9 20-11 20-11 20-9 20-9 20-8 20-9 20-8 20-6 20-7 20-4 20-1 20 1 20 0 20 0 20-1 20-2 20-2 20-2 20-2 20-3 20-4 20-6 20-10 20-10 20-13 20-13 20-13 20-10 20-7 20-5 20-2 20 1 20 2 20 7 20 8 20 12 20 13 20 13 20 9 20 8 20 6 20 7 20 7 20 7 20 8 20 7 20 8 20 9 20 10 20 11 20 11 20 12 20 12 20 12 20 12 20 11 20 10 15 9" stroke="#d89a28" stroke-width="9" fill="none" stroke-linejoin="round"/><path d="M5030 7469l20 0 20-13 20 0 20 19 20 23 20 0 20 9 20 12 20 6 20-19 20-28 20-11 20-19 20-18 20-16 20-23 20-68 20-22 20-36 20-32 20-28 20-30 20-36 20-6 20 7 20 13 20 6 20 9 20 0 20-12 20-2 20 2 20 1 20 2 20 27 20 1 20 6 20 4 20 13 20 5 20-15 20-3 20-21 20-11 20-11 20-39 20-10 20 0 20-11 20-4 20-3 20 0 20 1 20 0 20-10 20-13 20-12 20-7 20-13 20-10 20-14 20 0 20-9 20-2 20-9 20 0 20 0 20 1 20 2 20 9 20 10 20 0 20 4 20 0 20 0 20-5 20-1 20-2 20 0 20-7 20 0 20 0 20-4 20-3 20-7 20 0 20 0 20 0 20 0 20 1 20-5 20 0 20 2 20 3 20 2 20 7 20 2 20 0 20 4 20 0 20-3 20-2 20-1 20 1 20 16 20 8 20 6 20 4 20 16 20 1 20-9 20-11 20-10 20-16 20-9 20-6 20-18 20-17 20 0 20-14 20-7 20-8 20 0 20 2 20 10 20 3 20-10 20-8 20 0 20-28 20-14 20-9 20-7 20-4 20 1 20 0 20-3 20-15 20-6 20-11 20-15 20-22 20-1 20-8 20 0 20-18 20 0 20 0 20 0 20-7 20-7 20 0 20 2 20 0 20 0 20 10 20-9 20-4 20 0 20-2 20-8 20-9 20-31 20 0 20-5 20-30 20-15 20-20 20-10 20 8 20 15 20 12 20 22 20 8 20 29 20 12 20 8 20 0 20 10 20 4 20 2 20-2 20 16 20 0 20 14 20 4 20 12 20 17 20 15 20 8 20 10 20 19 20 0 20 42 20 0 20 0 20 0 20 29 15-5" stroke="#d89a28" stroke-width="9" fill="none" stroke-linejoin="round"/><path d="M5030 7474l20 0 20-3 20-1 20 3 20 8 20 7 20 5 20 3 20 2 20 3 20-1 20-6 20-14 20-19 20-17 20-18 20-23 20-29 20-35 20-39 20-37 20-32 20-30 20-24 20-16 20-12 20-4 20 2 20 6 20 4 20 5 20 3 20 0 20 0 20 3 20 5 20 8 20 7 20 7 20 5 20 0 20-2 20-6 20-7 20-10 20-12 20-13 20-14 20-14 20-10 20-8 20-5 20-5 20-5 20-4 20-6 20-7 20-6 20-8 20-10 20-12 20-11 20-9 20-9 20-7 20-5 20-4 20 0 20 3 20 2 20 3 20 4 20 4 20 3 20 2 20 1 20 2 20-1 20-1 20-4 20-2 20-3 20-2 20-2 20-3 20-1 20-2 20-3 20-1 20-2 20-1 20 1 20 1 20 1 20 1 20 3 20 3 20 4 20 3 20 0 20 0 20-1 20-1 20-1 20 3 20 5 20 5 20 7 20 7 20 7 20 3 20 1 20-4 20-8 20-11 20-12 20-12 20-14 20-13 20-11 20-10 20-7 20-5 20-2 20 1 20 0 20-2 20-4 20-5 20-6 20-7 20-7 20-10 20-11 20-9 20-5 20-5 20-5 20-5 20-9 20-12 20-13 20-12 20-11 20-10 20-9 20-8 20-6 20-3 20-1 20 0 20 0 20-1 20-1 20 0 20 0 20-2 20-2 20-1 20-2 20-5 20-7 20-8 20-12 20-13 20-14 20-15 20-16 20-11 20-6 20-2 20 3 20 7 20 9 20 14 20 16 20 16 20 12 20 9 20 6 20 4 20 4 20 6 20 6 20 6 20 7 20 9 20 12 20 12 20 13 20 12 20 10 20 9 20 12 20 12 20 12 20 11 20 10 15 10" stroke="#3a46e0" stroke-width="10" fill="none" stroke-linejoin="round"/><path d="M5030 7474l20 0 20-5 20-2 20 5 20 12 20 12 20 10 20 8 20 3 20-8 20-18 20-17 20-19 20-20 20-19 20-21 20-25 20-31 20-42 20-51 20-48 20-38 20-25 20-7 20 10 20 14 20 10 20 5 20 0 20-7 20-3 20 0 20 4 20 7 20 9 20 8 20 9 20 6 20 7 20 1 20-3 20-8 20-12 20-14 20-16 20-16 20-13 20-10 20-11 20-8 20-7 20-2 20-2 20 0 20-3 20-7 20-10 20-12 20-13 20-14 20-12 20-6 20-7 20-8 20-5 20-1 20 0 20 0 20 5 20 7 20 8 20 7 20 2 20 1 20-3 20-3 20-1 20-1 20 0 20-1 20-2 20-5 20-5 20-5 20-2 20 1 20 1 20-1 20 0 20-2 20-4 20-1 20 3 20 2 20 6 20 6 20 4 20 3 20 1 20-3 20-4 20-3 20-2 20 0 20 6 20 12 20 12 20 10 20 8 20 4 20-3 20-8 20-11 20-15 20-15 20-15 20-13 20-13 20-10 20-8 20-8 20-4 20-3 20 2 20 6 20 3 20-1 20-6 20-10 20-15 20-16 20-9 20-7 20-3 20-5 20-2 20-4 20-8 20-7 20-11 20-15 20-18 20-17 20-12 20-6 20-4 20 0 20 1 20 1 20-4 20-4 20-1 20 2 20 0 20 1 20 2 20-1 20-4 20-6 20-4 20-8 20-9 20-9 20-14 20-16 20-20 20-18 20-18 20-7 20 1 20 8 20 16 20 19 20 19 20 14 20 14 20 12 20 8 20 4 20 3 20 2 20-1 20 4 20 8 20 11 20 13 20 14 20 15 20 11 20 10 20 10 20 10 20 8 20 12 20 12 20 14 20 11 20 13 15 8" stroke="#3a46e0" stroke-width="8" fill="none" stroke-linejoin="round"/><path d="M5045 7450v40M5075 7440v30M5095 7440v40M5105 7460v40M5115 7500v30M5125 7520v30M5135 7530v40M5275 7410v20M5325 7370v30M5455 7100v30M5475 7100v40M5495 7130v30M5505 7140v30M5515 7160v30M5525 7170v40M5555 7160v30M5565 7160v20M5575 7150v30M5605 7130v20M5615 7150v20M5635 7140v20M5645 7160v20M5655 7150v30M5715 7150v50M5725 7190v30M5735 7180v40M5745 7190v30M5755 7190v40M5765 7190v40M5795 7210v30M5815 7200v30M5835 7190v30M5915 7110v50M5935 7100v30M5975 7090v20M6015 7060v40M6025 7070v40M6035 7060v40M6055 7060v50M6065 7080v20M6105 7060v40M6175 6990v50M6185 7010v30M6195 7010v30M6245 6980v30M6255 6980v30M6285 6990v40M6305 6970v40M6335 6960v30M6365 6980v20M6385 6980v40M6405 6990v30M6415 7010v30M6435 7010v20M6445 7010v40M6475 7010v20M6535 6990v30M6565 7010v20M6595 7010v20M6645 6990v30M6685 6970v40M6695 6970v20M6705 6980v30M6735 6980v20M6745 6980v40M6755 6990v30M6795 6970v30M6805 6980v30M6835 6960v30M6865 6980v30M6875 6970v40M6885 6980v20M6895 6990v20M6915 6990v20M6925 7000v30M6945 7000v20M6955 7000v20M6965 7000v30M6985 7000v20M6995 7010v20M7055 6980v40M7075 6990v30M7095 6990v30M7115 7010v20M7135 7020v30M7145 7040v30M7155 7040v30M7165 7040v30M7185 7040v30M7205 7040v20M7225 7040v20M7255 7000v30M7315 6950v40M7325 6960v30M7375 6930v30M7395 6910v30M7415 6920v20M7475 6910v30M7495 6900v40M7505 6930v20M7515 6920v40M7525 6940v40M7565 6900v30M7645 6850v30M7665 6860v20M7675 6840v50M7715 6840v30M7725 6830v30M7735 6840v20M7745 6830v40M7755 6840v30M7775 6830v20M7795 6810v30M7805 6820v20M7825 6790v20M7915 6750v40M7965 6750v30M7985 6750v30M8005 6740v40M8015 6750v20M8025 6740v30M8035 6730v20M8055 6740v20M8065 6730v30M8095 6750v20M8125 6750v20M8135 6740v30M8165 6740v30M8185 6730v20M8205 6720v30M8255 6700v30M8275 6690v30M8365 6580v40M8375 6570v50M8415 6630v20M8445 6660v20M8455 6670v30M8475 6680v40M8495 6710v20M8515 6700v30M8525 6710v20M8535 6710v50M8545 6710v30M8565 6730v40M8585 6720v40M8625 6730v30M8645 6720v30M8655 6730v20M8665 6730v30M8675 6730v40M8685 6740v30M8695 6760v40M8725 6790v40M8745 6800v20M8775 6810v20M8785 6830v20M8795 6820v30M8815 6820v40M8825 6840v30M8835 6840v30M8855 6850v20M8865 6860v40M8885 6840v40M8895 6860v30M8905 6890v80M8915 6900v20M8935 6900v40M8945 6920v20M8955 6920v20M8975 6900v40M8985 6910v30M9005 6920v30M9005 6930v20" stroke="#2b35e6" stroke-width="10" fill="none"/><path d="M5035 7450v40M5055 7450v30M5065 7420v40M5085 7440v30M5145 7530v30M5155 7520v20M5165 7500v30M5175 7480v50M5185 7490v20M5195 7480v40M5205 7490v30M5215 7480v30M5225 7460v30M5235 7460v30M5245 7450v20M5255 7430v30M5265 7420v40M5285 7380v40M5295 7390v40M5305 7380v30M5315 7370v30M5335 7360v30M5345 7350v30M5355 7320v40M5365 7300v40M5375 7220v80M5385 7250v20M5395 7190v60M5405 7180v20M5415 7130v30M5425 7090v30M5435 7090v20M5445 7070v50M5465 7100v60M5485 7110v40M5535 7170v30M5545 7160v20M5585 7150v40M5595 7130v20M5625 7120v40M5665 7150v30M5675 7160v30M5685 7170v20M5695 7170v20M5705 7160v30M5775 7190v40M5785 7200v30M5805 7190v30M5825 7190v30M5845 7170v40M5855 7160v20M5865 7160v20M5875 7150v20M5885 7130v20M5895 7120v40M5905 7120v30M5925 7100v30M5945 7050v80M5955 7100v20M5965 7080v20M5985 7090v20M5995 7080v20M6005 7070v30M6045 7070v30M6075 7080v30M6085 7080v40M6095 7070v20M6115 7060v30M6125 7060v30M6135 7040v50M6145 7030v40M6155 7010v40M6165 7020v20M6205 6970v70M6215 6970v50M6225 6990v40M6235 6980v20M6265 6990v30M6275 6990v40M6295 6960v40M6315 6970v40M6325 6950v50M6345 6970v30M6355 6960v50M6375 6980v30M6395 6990v40M6425 6990v50M6455 7010v30M6465 7010v30M6485 7000v30M6495 6980v40M6505 7000v20M6515 6990v20M6525 6980v30M6545 7000v20M6555 6990v40M6575 7000v30M6585 6980v40M6605 7000v20M6615 6980v50M6625 6970v40M6635 6970v40M6655 6980v30M6665 6970v40M6675 6970v30M6715 6970v30M6725 6950v40M6765 6980v30M6775 6950v60M6785 6960v40M6815 6970v20M6825 6960v30M6845 6950v60M6855 6970v30M6905 6970v50M6935 7000v20M6975 6990v40M7005 6990v30M7015 6970v40M7025 6980v30M7035 6980v30M7045 6970v20M7065 6970v20M7085 6980v40M7105 6990v20M7125 7020v40M7175 7030v30M7195 7020v50M7215 7030v30M7235 7030v30M7245 7010v30M7265 6990v50M7275 6990v30M7285 6980v30M7295 6970v40M7305 6950v40M7335 6950v40M7345 6940v30M7355 6940v20M7365 6920v50M7385 6920v30M7405 6910v40M7425 6900v50M7435 6910v40M7445 6890v40M7455 6890v30M7465 6910v30M7485 6910v20M7535 6930v30M7545 6920v40M7555 6920v30M7575 6880v50M7585 6890v20M7595 6860v50M7605 6860v30M7615 6870v30M7625 6830v60M7635 6860v20M7655 6850v20M7685 6850v30M7695 6850v30M7705 6850v20M7765 6830v40M7785 6810v30M7815 6800v40M7835 6780v30M7845 6760v20M7855 6750v80M7865 6730v50M7875 6740v40M7885 6730v40M7895 6730v30M7905 6740v20M7925 6750v40M7935 6750v30M7945 6750v20M7955 6730v40M7975 6740v20M7995 6740v30M8045 6710v50M8075 6750v30M8085 6740v40M8105 6740v30M8115 6750v20M8145 6740v30M8155 6740v30M8175 6720v30M8195 6720v40M8215 6720v30M8225 6730v30M8235 6720v20M8245 6700v50M8265 6690v20M8285 6670v50M8295 6630v70M8305 6640v40M8315 6630v50M8325 6640v20M8335 6630v30M8345 6600v60M8355 6600v20M8385 6580v30M8395 6580v20M8405 6610v30M8425 6630v30M8435 6640v40M8465 6680v20M8485 6680v40M8505 6690v30M8555 6730v40M8575 6740v20M8595 6720v40M8605 6720v40M8615 6720v30M8635 6720v30M8705 6770v30M8715 6760v40M8735 6780v20M8755 6780v40M8765 6800v30M8805 6830v20M8845 6840v30M8875 6840v30M8925 6890v40M8965 6910v30M8995 6920v20" stroke="#e8121c" stroke-width="10" fill="none"/><path d="M5030 7474l10 0 10-1 10-4 10-3 10-2 10-1 10 2 10 6 10 9 10 15 10 14 10 10 10 6 10 3 10-2 10-5 10-7 10-8 10-7 10-6 10-7 10-8 10-9 10-11 10-12 10-12 10-12 10-11 10-8 10-8 10-9 10-9 10-12 10-15 10-18 10-23 10-26 10-32 10-33 10-30 10-27 10-21 10-17 10-9 10-2 10 4 10 8 10 12 10 10 10 11 10 8 10 7 10 3 10 1 10-3 10-6 10-5 10-3 10-5 10-2 10-1 10 1 10 3 10 5 10 3 10 6 10 4 10 3 10 6 10 5 10 3 10 3 10 4 10 5 10 3 10 3 10 1 10 3 10 0 10-1 10-3 10-5 10-8 10-7 10-10 10-9 10-10 10-7 10-8 10-6 10-7 10-4 10-7 10-5 10-6 10-4 10-6 10-5 10-4 10-2 10-3 10-2 10 0 10 3 10 2 10-1 10 1 10 0 10-2 10-4 10-6 10-9 10-7 10-8 10-6 10-6 10-6 10-7 10-5 10-6 10-5 10-6 10-4 10-4 10-1 10-1 10-1 10-2 10-3 10-2 10-2 10-2 10 0 10 1 10 3 10 4 10 4 10 6 10 4 10 4 10 4 10 4 10 3 10 2 10-1 10 0 10-2 10-3 10-4 10-2 10-2 10-2 10 1 10 1 10 1 10 3 10 0 10 0 10-1 10-3 10-2 10-3 10-4 10-4 10-2 10-2 10-1 10-2 10-2 10 1 10 3 10 2 10 2 10 1 10-2 10 1 10-1 10-3 10-4 10-3 10-3 10 1 10 1 10 0 10 2 10 5 10 2 10 4 10 5 10 2 10 3 10 2 10 1 10 2 10 0 10 1 10-1 10-2 10-2 10-3 10-3 10-2 10-5 10 0 10-1 10 1 10 1 10 5 10 6 10 7 10 7 10 8 10 8 10 7 10 6 10 3 10 2 10-1 10 0 10-3 10-3 10-5 10-6 10-6 10-6 10-8 10-11 10-9 10-8 10-7 10-6 10-7 10-8 10-3 10-4 10-6 10-5 10-5 10-3 10-3 10-4 10-4 10 0 10 0 10-1 10 0 10 2 10 4 10 6 10 5 10 3 10 1 10-1 10-5 10-6 10-11 10-11 10-10 10-10 10-6 10-6 10-5 10-1 10-1 10-1 10-1 10-1 10-1 10-3 10-2 10-3 10-2 10-3 10-2 10-3 10-3 10-3 10-6 10-9 10-8 10-11 10-10 10-10 10-11 10-10 10-5 10-5 10-1 10 1 10 2 10 1 10 2 10 1 10 0 10-1 10-3 10-1 10-1 10 0 10-4 10-1 10-1 10-1 10 0 10 1 10 2 10 2 10 3 10 1 10 1 10 0 10-2 10-1 10-4 10-3 10-3 10-4 10-3 10-3 10-3 10-2 10-4 10-4 10-4 10-6 10-8 10-10 10-9 10-10 10-8 10-12 10-12 10-10 10-7 10-8 10-8 10-2 10 3 10 6 10 7 10 9 10 11 10 13 10 12 10 9 10 9 10 7 10 7 10 6 10 6 10 4 10 6 10 5 10 5 10 5 10 3 10 1 10 1 10 0 10-3 10-2 10-1 10 0 10 1 10 4 10 5 10 7 10 7 10 9 10 7 10 9 10 7 10 6 10 5 10 7 10 5 10 6 10 5 10 7 10 5 10 4 10 3 10 5 10 3 10 3 10 4 10 7 10 8 10 7 10 7 10 10 10 10 10 6 10 4 10 4 10 3 10 2 5 1" stroke="#e8121c" stroke-width="10" fill="none" stroke-linejoin="round"/></g>
<path d="M502.7 772.9V625.9" stroke="#6a6a6a" stroke-width="1" fill="none"/>
<path d="M502.2 625.9H911.2" stroke="#333" stroke-width="1.4" fill="none"/>
<path d="M502.2 772.9H942.8" stroke="#444" stroke-width="1.6" fill="none"/>
<path d="M910.7 625.9V774.9" stroke="#333" stroke-width="1.1" fill="none"/>
<path d="M942.3 623.4V773.9" stroke="#aeb3bd" stroke-width="1" fill="none"/>
<rect x="504.2" y="627.4" width="3.6" height="4.2" fill="#000"/>
<rect x="900.2" y="628.5" width="4" height="5" fill="#222"/><rect x="904.9" y="628.5" width="4" height="5" fill="#222"/>
<rect x="901.4" y="630.1" width="1.6" height="1.8" fill="#ddd"/><rect x="906.1" y="629.7" width="1.4" height="2.6" fill="#ddd"/>
<rect x="510.0" y="632.3" width="1.5" height="6.8" fill="#e8202a"/><text x="512.2" y="638.9" fill="#e8202a" font-size="10" font-weight="bold" textLength="12.5" lengthAdjust="spacingAndGlyphs">종합</text><rect x="527.3" y="632.3" width="1.5" height="6.8" fill="#e8202a"/><text x="529.5" y="638.9" fill="#e8202a" font-size="10" font-weight="bold" textLength="3.3" lengthAdjust="spacingAndGlyphs">7</text><rect x="535.4" y="632.3" width="1.5" height="6.8" fill="#3a46e0"/><text x="537.6" y="638.9" fill="#3a46e0" font-size="10" font-weight="bold" textLength="6.2" lengthAdjust="spacingAndGlyphs">15</text><rect x="546.4" y="632.3" width="1.5" height="6.8" fill="#d89a28"/><text x="548.6" y="638.9" fill="#d89a28" font-size="10" font-weight="bold" textLength="7.0" lengthAdjust="spacingAndGlyphs">35</text><rect x="558.2" y="632.3" width="1.5" height="6.8" fill="#222"/><text x="560.4" y="638.9" fill="#222" font-size="10" font-weight="bold" textLength="6.5" lengthAdjust="spacingAndGlyphs">55</text><rect x="569.5" y="632.3" width="1.5" height="6.8" fill="#9a9a9a"/><text x="571.7" y="638.9" fill="#9a9a9a" font-size="10" font-weight="bold" textLength="9.2" lengthAdjust="spacingAndGlyphs">120</text><rect x="583.5" y="632.3" width="1.5" height="6.8" fill="#1f9a2e"/><text x="585.7" y="638.9" fill="#1f9a2e" font-size="10" font-weight="bold" textLength="10.4" lengthAdjust="spacingAndGlyphs">390</text><rect x="598.7" y="632.3" width="1.5" height="6.8" fill="#e8202a"/><text x="600.9" y="638.9" fill="#e8202a" font-size="10" font-weight="bold" textLength="3.0" lengthAdjust="spacingAndGlyphs">5</text><rect x="606.5" y="632.3" width="1.5" height="6.8" fill="#3a46e0"/><text x="608.7" y="638.9" fill="#3a46e0" font-size="10" font-weight="bold" textLength="6.0" lengthAdjust="spacingAndGlyphs">10</text><rect x="617.3" y="632.3" width="1.5" height="6.8" fill="#d89a28"/><text x="619.5" y="638.9" fill="#d89a28" font-size="10" font-weight="bold" textLength="7.0" lengthAdjust="spacingAndGlyphs">20</text><rect x="629.1" y="632.3" width="1.5" height="6.8" fill="#1f9a2e"/><text x="631.3" y="638.9" fill="#1f9a2e" font-size="10" font-weight="bold" textLength="7.0" lengthAdjust="spacingAndGlyphs">60</text><rect x="640.9" y="632.3" width="1.5" height="6.8" fill="#9a9a9a"/><text x="643.1" y="638.9" fill="#9a9a9a" font-size="10" font-weight="bold" textLength="9.2" lengthAdjust="spacingAndGlyphs">120</text><rect x="654.9" y="632.3" width="1.5" height="6.8" fill="#e8202a"/><text x="657.1" y="638.9" fill="#e8202a" font-size="10" font-weight="bold" textLength="10.0" lengthAdjust="spacingAndGlyphs">240</text><rect x="669.7" y="632.3" width="1.5" height="6.8" fill="#22d4dc"/><text x="671.9" y="638.9" fill="#22d4dc" font-size="10" font-weight="bold" textLength="60.0" lengthAdjust="spacingAndGlyphs">기준선(26,9,26,52,26)</text><rect x="734.5" y="632.3" width="1.5" height="6.8" fill="#d89a28"/><text x="736.7" y="638.9" fill="#d89a28" font-size="10" font-weight="bold" textLength="17.5" lengthAdjust="spacingAndGlyphs">전환선</text>
<path d="M911.2 665.0l2.4 1.3l-2.4 1.3z" fill="#222"/>
<text x="940.7" y="669.9" fill="#606060" font-size="12.8" text-anchor="end" textLength="22.6" lengthAdjust="spacingAndGlyphs">2,640.00</text>
<path d="M911.2 680.3l2.4 1.3l-2.4 1.3z" fill="#222"/>
<text x="940.7" y="685.2" fill="#606060" font-size="12.8" text-anchor="end" textLength="22.6" lengthAdjust="spacingAndGlyphs">2,580.00</text>
<path d="M911.2 695.2l2.4 1.3l-2.4 1.3z" fill="#222"/>
<path d="M911.2 710.0l2.4 1.3l-2.4 1.3z" fill="#222"/>
<path d="M911.2 724.2l2.4 1.3l-2.4 1.3z" fill="#222"/>
<text x="940.7" y="729.1" fill="#606060" font-size="12.8" text-anchor="end" textLength="22.6" lengthAdjust="spacingAndGlyphs">2,400.00</text>
<path d="M911.2 739.1l2.4 1.3l-2.4 1.3z" fill="#222"/>
<text x="940.7" y="744.0" fill="#606060" font-size="12.8" text-anchor="end" textLength="22.6" lengthAdjust="spacingAndGlyphs">2,340.00</text>
<path d="M911.2 753.6l2.4 1.3l-2.4 1.3z" fill="#222"/>
<text x="940.7" y="758.5" fill="#606060" font-size="12.8" text-anchor="end" textLength="22.6" lengthAdjust="spacingAndGlyphs">2,280.00</text>
<rect x="916.8" y="687.1" width="24.4" height="26.6" fill="#2222f5"/>
<path d="M916.5 690.6l-3.4 4.2l3.4 4.2z" fill="#2222f5"/>
<text x="940.8" y="699.0" fill="#fff" font-size="12.8" text-anchor="end" textLength="23.2" lengthAdjust="spacingAndGlyphs">2,524.77</text>
<text x="940.8" y="711.4" fill="#fff" font-size="12.8" text-anchor="end" textLength="23.2" lengthAdjust="spacingAndGlyphs">(-0.61%)</text>
<text x="755.0" y="653.4" fill="#fa1218" font-size="12.2" font-weight="bold" textLength="78.0" lengthAdjust="spacingAndGlyphs">2,675.80(5.98% 01/02,14:00)</text>
<path d="M833.8 649.0h4.2v5" stroke="#fa1218" stroke-width="1" fill="none"/><path d="M836.5 653.5h3l-1.5 2.8z" fill="#fa1218"/>
<text x="516.5" y="770.9" fill="#2222f5" font-size="12.2" font-weight="bold" textLength="82.0" lengthAdjust="spacingAndGlyphs">2,273.97(-9.93% 10/31,14:00)</text>
<path d="M515.5 766.5h-3.8v-5" stroke="#2222f5" stroke-width="1" fill="none"/><path d="M510.2 762.0h3l-1.5-2.8z" fill="#2222f5"/>
<rect x="33.3" y="842.6" width="440.6" height="152.7" fill="#fff"/>
<path d="M35.8 879.6H439.9M35.8 895.8H439.9M35.8 912.0H439.9M35.8 928.1H439.9M35.8 944.3H439.9M35.8 960.4H439.9" stroke="#cfcfcf" stroke-width="0.7" stroke-dasharray="1.1 2" fill="none"/>
<path d="M78.0 846.6V991.3M122.0 846.6V991.3M165.0 846.6V991.3M208.0 846.6V991.3M251.0 846.6V991.3M294.0 846.6V991.3M338.0 846.6V991.3M381.0 846.6V991.3M424.0 846.6V991.3" stroke="#d2d2d2" stroke-width="0.7" stroke-dasharray="1.1 2" fill="none"/>
<g transform="scale(.1)"><path d="M2065 9068l60 13 60 13 60 12 60 11 60 10 60 10 60 9 60 8 60 8 60 7 60 7 60 6 60 5 60 4 60 3 60 4 60 3 60 4 60 3 60 4 60 5 60 4 60 4 60 4 60 3 60 2 60 2 60 1 60 2 60 1 60 2 60 1 60 1 60 1 60 1 60 1 60 1 25 0" stroke="#16a51f" stroke-width="21" fill="none" stroke-linejoin="round"/><path d="M450 8833l60 13 60 14 60 15 60 16 60 17 60 18 60 19 60 20 60 21 60 22 60 23 60 25 60 26 60 26 60 25 60 26 60 28 60 27 60 24 60 20 60 17 60 15 60 13 60 11 60 9 60 7 60 7 60 6 60 4 60 1 60 0 60-1 60-1 60-1 60-2 60-4 60-6 60-8 60-9 60-8 60-7 60-7 60-7 60-7 60-7 60-8 60-8 60-8 60-8 60-8 60-8 60-9 60-9 60-8 60-6 60-5 60-4 60-4 60-3 60-4 60-4 60-3 60-4 60-3 20-1" stroke="#f4787c" stroke-width="11" fill="none" stroke-linejoin="round"/><path d="M345 9033l60 9 60 12 60 12 60 13 60 15 60 16 60 19 60 20 60 23 60 30 60 32 60 32 60 29 60 27 60 27 60 26 60 24 60 25 60 23 60 21 60 16 60 14 60 12 60 9 60 4 60-1 60-3 60-4 60-6 60-8 60-16 60-20 60-23 60-23 60-30 60-33 60-31 60-28 60-25 60-23 60-23 60-24 60-24 60-24 60-24 60-24 60-24 60-23 60-21 60-20 60-19 60-13 60-3 60 0 60 0 60 0 60 9 60 18 60 19 60 17 60 18 60 14 60 7 60 4 60 3 60 1 5 0" stroke="#a9a9a9" stroke-width="12" fill="none" stroke-linejoin="round"/><path d="M345 9171l40 4 40 6 40 7 40 8 40 9 40 9 40 12 40 12 40 15 40 16 40 20 40 24 40 28 40 27 40 25 40 23 40 22 40 21 40 19 40 16 40 13 40 12 40 10 40 9 40 7 40 7 40 7 40 6 40 4 40 2 40-1 40-4 40-5 40-7 40-7 40-9 40-14 40-16 40-17 40-18 40-18 40-18 40-20 40-21 40-22 40-24 40-25 40-26 40-26 40-24 40-23 40-22 40-21 40-19 40-16 40-13 40-10 40-9 40-9 40-10 40-10 40-9 40-10 40-10 40-11 40-11 40-13 40-13 40-12 40-11 40-10 40-11 40-9 40-8 40-3 40 0 40 0 40 0 40 0 40 0 40 6 40 20 40 26 40 26 40 32 40 37 40 35 40 27 40 26 40 21 40 16 40 7 40 5 40 4 40 2 40-2 40-8 40-12 40-16 5-2" stroke="#2e8b57" stroke-width="9" fill="none" stroke-linejoin="round"/><path d="M345 9158l40 4 40 6 40 7 40 8 40 9 40 9 40 12 40 12 40 15 40 16 40 20 40 24 40 28 40 27 40 25 40 23 40 22 40 21 40 19 40 16 40 13 40 12 40 10 40 9 40 7 40 7 40 7 40 6 40 4 40 2 40-1 40-4 40-5 40-7 40-7 40-9 40-14 40-16 40-17 40-18 40-18 40-18 40-20 40-21 40-22 40-24 40-25 40-26 40-26 40-24 40-23 40-22 40-21 40-19 40-16 40-13 40-10 40-9 40-9 40-10 40-10 40-9 40-10 40-10 40-11 40-11 40-13 40-13 40-12 40-11 40-10 40-11 40-9 40-8 40-3 40 0 40 0 40 0 40 0 40 0 40 6 40 20 40 26 40 26 40 32 40 37 40 35 40 27 40 26 40 21 40 16 40 7 40 5 40 4 40 2 40-2 40-8 40-12 40-16 5-2" stroke="#111" stroke-width="20" fill="none" stroke-linejoin="round"/><path d="M345 9164l20 1 20 2 20 3 20 4 20 4 20 4 20 4 20 2 20 1 20-1 20-4 20-5 20-2 20-4 20-2 20-3 20-4 20-1 20 0 20 1 20 1 20 3 20 5 20 10 20 16 20 22 20 26 20 30 20 35 20 37 20 37 20 37 20 34 20 32 20 28 20 26 20 21 20 21 20 18 20 11 20 8 20 0 20-7 20-13 20-14 20-16 20-15 20-16 20-15 20-12 20-10 20-7 20-6 20-4 20-4 20-1 20 0 20 2 20 5 20 8 20 8 20 9 20 8 20 9 20 9 20 7 20 4 20 4 20 2 20-1 20-2 20-4 20-6 20-10 20-11 20-16 20-16 20-17 20-19 20-17 20-19 20-18 20-19 20-20 20-19 20-17 20-17 20-14 20-11 20-9 20-5 20-7 20-8 20-9 20-11 20-15 20-15 20-15 20-16 20-17 20-18 20-18 20-16 20-18 20-19 20-15 20-11 20-6 20-2 20 4 20 7 20 9 20 9 20 8 20 6 20 6 20 4 20 1 20-1 20-3 20-8 20-9 20-12 20-12 20-13 20-15 20-12 20-12 20-9 20-9 20-7 20-9 20-10 20-8 20-10 20-10 20-10 20-11 20-10 20-7 20-7 20-5 20-3 20 0 20 3 20 2 20 6 20 7 20 8 20 7 20 8 20 6 20 6 20 6 20 4 20 2 20 1 20 1 20 0 20 2 20 6 20 10 20 12 20 15 20 21 20 23 20 26 20 26 20 28 20 35 20 37 20 38 20 34 20 33 20 26 20 15 20 11 20 7 20 3 20-1 20-1 20-3 20-7 20-11 20-16 20-19 20-19 20-17 20-17 20-15 20-14 20-15 20-13 20-14 20-13 20-16 20-16 20-14 5-7" stroke="#d89a28" stroke-width="17" fill="none" stroke-linejoin="round"/><path d="M345 9167l20 1 20 13 20 0 20 0 20 7 20 0 20 1 20 0 20-2 20-4 20-46 20 0 20 0 20 0 20 0 20 0 20 0 20-16 20 6 20 16 20 0 20 25 20 24 20 16 20 48 20 30 20 47 20 47 20 43 20 35 20 18 20 0 20 17 20 6 20 33 20 23 20 36 20 44 20 11 20-19 20 0 20-19 20-7 20-17 20-37 20-14 20-15 20 0 20-8 20-15 20 0 20-13 20-8 20 8 20 0 20 23 20 0 20 0 20 0 20 3 20 10 20 28 20 6 20 1 20 0 20 0 20 0 20 5 20 0 20 0 20-1 20-26 20-13 20 0 20 0 20-14 20-14 20-5 20-68 20-27 20-13 20-14 20-3 20-45 20-1 20-23 20-17 20-19 20-7 20 0 20 0 20 0 20-10 20-9 20-18 20-25 20-25 20 0 20-23 20-1 20-8 20-39 20-20 20-18 20-16 20-35 20 30 20 0 20 0 20 2 20 18 20 0 20 28 20 3 20 19 20 5 20-3 20-3 20-23 20-2 20-11 20-14 20-12 20-19 20-27 20-10 20 0 20 0 20-17 20-6 20-12 20-5 20-3 20-12 20-11 20-17 20 0 20-5 20-15 20-14 20 0 20 0 20-2 20 21 20 5 20 1 20 0 20 1 20 0 20 19 20 19 20 0 20-1 20 0 20 0 20 0 20 0 20 0 20-4 20 17 20 27 20 35 20 21 20 47 20 11 20 1 20 17 20 14 20 26 20 46 20 56 20 66 20 0 20 30 20 15 20 22 20 11 20-1 20-15 20-5 20-4 20 0 20-33 20-24 20-11 20-29 20-27 20-8 20-18 20-19 20-33 20-8 20-10 20-6 20-2 20 0 20-40 20-1 5-11" stroke="#22dbe4" stroke-width="20" fill="none" stroke-linejoin="round"/><path d="M345 9164l20 1 20 5 20 5 20 6 20 7 20 6 20 7 20 5 20 1 20-6 20-11 20-14 20-11 20-13 20-10 20-8 20-4 20 4 20 11 20 16 20 16 20 15 20 17 20 19 20 24 20 29 20 32 20 39 20 46 20 51 20 51 20 50 20 44 20 36 20 24 20 11 20-3 20-9 20-14 20-17 20-16 20-20 20-21 20-18 20-14 20-13 20-12 20-11 20-12 20-10 20-8 20-1 20 3 20 4 20 3 20 7 20 5 20 7 20 11 20 14 20 12 20 12 20 11 20 9 20 6 20 5 20 2 20 0 20-6 20-12 20-13 20-14 20-18 20-17 20-17 20-19 20-21 20-22 20-22 20-19 20-19 20-17 20-18 20-20 20-16 20-15 20-14 20-11 20-5 20-1 20 1 20 2 20-2 20-7 20-9 20-16 20-21 20-29 20-33 20-34 20-34 20-28 20-18 20-12 20-5 20 2 20 7 20 12 20 20 20 24 20 24 20 18 20 17 20 8 20-2 20-6 20-11 20-14 20-18 20-22 20-24 20-21 20-16 20-9 20-7 20-8 20-3 20-4 20-3 20-3 20-5 20-7 20-11 20-10 20-17 20-19 20-18 20-16 20-11 20-6 20 0 20 1 20 8 20 13 20 18 20 16 20 19 20 17 20 11 20 5 20 1 20-3 20-6 20-3 20-4 20-6 20-6 20-2 20 3 20 8 20 18 20 24 20 27 20 30 20 35 20 36 20 38 20 41 20 38 20 38 20 40 20 37 20 29 20 22 20 15 20 5 20-3 20-13 20-24 20-31 20-27 20-22 20-22 20-17 20-11 20-7 20-8 20-6 20-7 20-12 20-16 20-18 20-18 20-21 20-20 20-19 20-22 20-17 5-6" stroke="#d89a28" stroke-width="9" fill="none" stroke-linejoin="round"/><path d="M345 9167l20 1 20 13 20 0 20 0 20 35 20 2 20-7 20 0 20-24 20-4 20-62 20-4 20-13 20-13 20 35 20 6 20 12 20 17 20 14 20 29 20 14 20 0 20 38 20 16 20 32 20 46 20 42 20 65 20 66 20 50 20 62 20 35 20 23 20 0 20-21 20-15 20-20 20-24 20-14 20-34 20 0 20-19 20-18 20-17 20-27 20-7 20-9 20 0 20 11 20-17 20 0 20 8 20 0 20 18 20 16 20 28 20 3 20-2 20 0 20 4 20 4 20 36 20 17 20 1 20-5 20-49 20 0 20 17 20 0 20 0 20-1 20-69 20-33 20-1 20-14 20-17 20-34 20-5 20-46 20-13 20-31 20-7 20 0 20-26 20 0 20-27 20-26 20 0 20 11 20 15 20 15 20 29 20-37 20-12 20-36 20-46 20-42 20-16 20-59 20-13 20-19 20-29 20-10 20 1 20 15 20 49 20 39 20 18 20 16 20 15 20 21 20 20 20-1 20-13 20-31 20-17 20-21 20-29 20-35 20-2 20-11 20-16 20-21 20-5 20 0 20 0 20 26 20 2 20-14 20-5 20-18 20-20 20-17 20-12 20-11 20-42 20 0 20-20 20-2 20 8 20 24 20 3 20 30 20 44 20 13 20 10 20 1 20 5 20 0 20-4 20-23 20-5 20 0 20-24 20-1 20 22 20 16 20 6 20 0 20 21 20 34 20 36 20 22 20 70 20 48 20 1 20 44 20 23 20 47 20 55 20 20 20 58 20 32 20 11 20-28 20-52 20-43 20-21 20-42 20-25 20-11 20-1 20 0 20-5 20-15 20 9 20-7 20-1 20-17 20-54 20-33 20-20 20-23 20-21 20-5 20-23 20-4 20-13 5 0" stroke="#d89a28" stroke-width="9" fill="none" stroke-linejoin="round"/><path d="M345 9164l20 2 20 6 20 8 20 9 20 9 20 9 20 7 20 1 20-6 20-12 20-19 20-20 20-16 20-15 20-6 20-1 20 9 20 15 20 16 20 21 20 18 20 16 20 19 20 18 20 23 20 30 20 40 20 52 20 61 20 63 20 56 20 47 20 36 20 23 20 3 20-11 20-20 20-19 20-20 20-24 20-16 20-14 20-13 20-18 20-17 20-13 20-14 20-10 20-6 20-4 20-4 20 1 20 3 20 6 20 7 20 12 20 11 20 8 20 7 20 11 20 16 20 13 20 13 20 11 20 6 20-3 20-7 20-8 20-11 20-14 20-15 20-15 20-19 20-22 20-20 20-20 20-20 20-22 20-21 20-18 20-20 20-17 20-16 20-19 20-12 20-15 20-13 20-12 20-2 20 9 20 8 20 8 20-1 20-7 20-20 20-34 20-38 20-40 20-33 20-32 20-31 20-21 20-9 20-4 20 3 20 12 20 21 20 25 20 22 20 25 20 24 20 18 20 13 20 1 20-11 20-21 20-24 20-24 20-25 20-20 20-17 20-13 20-12 20-10 20-6 20-5 20 5 20 1 20 0 20-7 20-10 20-9 20-18 20-15 20-20 20-19 20-17 20-16 20-11 20-2 20 8 20 14 20 19 20 22 20 23 20 13 20 15 20 14 20 9 20-2 20-5 20-8 20-12 20-10 20-8 20 0 20 1 20 7 20 7 20 9 20 21 20 32 20 37 20 39 20 47 20 45 20 37 20 27 20 33 20 40 20 40 20 41 20 29 20 21 20 8 20-16 20-29 20-38 20-33 20-33 20-25 20-14 20-11 20-10 20-4 20-2 20-9 20-9 20-9 20-12 20-20 20-25 20-21 20-24 20-23 20-20 20-17 20-9 5-3" stroke="#3a46e0" stroke-width="10" fill="none" stroke-linejoin="round"/><path d="M345 9164l20 3 20 9 20 11 20 14 20 12 20 3 20 3 20-4 20-11 20-19 20-27 20-27 20-12 20-8 20 7 20 11 20 8 20 20 20 20 20 24 20 22 20 12 20 14 20 15 20 28 20 45 20 52 20 64 20 70 20 65 20 52 20 37 20 15 20 5 20-11 20-23 20-29 20-28 20-20 20-14 20-5 20-14 20-18 20-20 20-21 20-14 20-7 20-1 20-2 20-6 20-5 20 1 20 8 20 14 20 12 20 12 20 6 20 4 20 9 20 13 20 18 20 21 20 15 20 3 20-5 20-11 20-12 20-9 20-10 20-14 20-15 20-21 20-26 20-20 20-18 20-21 20-18 20-20 20-27 20-17 20-19 20-14 20-10 20-21 20-14 20-16 20-13 20-5 20 6 20 16 20 18 20 12 20-11 20-28 20-38 20-45 20-40 20-36 20-31 20-25 20-25 20-19 20-3 20 5 20 20 20 25 20 20 20 25 20 25 20 24 20 25 20 15 20 6 20-11 20-28 20-34 20-32 20-20 20-15 20-11 20-16 20-18 20-14 20-4 20 1 20 1 20 10 20-2 20-3 20-9 20-20 20-15 20-18 20-13 20-19 20-23 20-18 20-17 20-5 20 13 20 19 20 22 20 26 20 20 20 17 20 11 20 14 20 10 20 5 20-4 20-13 20-20 20-18 20-3 20 1 20 8 20 6 20 6 20 3 20 13 20 30 20 46 20 51 20 51 20 43 20 30 20 31 20 28 20 30 20 43 20 49 20 50 20 24 20 1 20-20 20-41 20-38 20-39 20-36 20-26 20-12 20-6 20-6 20-4 20-5 20-7 20-9 20-6 20-12 20-19 20-22 20-30 20-29 20-23 20-17 20-12 20-14 20-10 5-2" stroke="#3a46e0" stroke-width="8" fill="none" stroke-linejoin="round"/><path d="M365 9180v40M375 9190v20M385 9170v70M395 9190v30M405 9190v40M415 9210v30M425 9210v20M435 9190v40M445 9180v80M455 9210v20M465 9190v50M475 9220v40M495 9200v30M605 9120v20M645 9110v80M675 9140v70M685 9140v50M695 9170v30M705 9180v30M715 9170v50M725 9210v30M735 9210v60M745 9230v20M765 9210v50M785 9230v40M815 9270v70M825 9250v80M835 9320v40M875 9440v30M885 9490v40M895 9530v20M905 9560v30M915 9600v70M925 9630v50M955 9680v60M975 9690v40M1015 9700v30M1045 9610v40M1055 9600v50M1075 9550v40M1145 9540v40M1155 9550v30M1215 9450v50M1235 9410v80M1245 9440v70M1265 9450v60M1305 9460v50M1335 9410v60M1355 9440v40M1375 9450v60M1385 9480v50M1405 9460v60M1415 9470v90M1455 9500v100M1465 9490v60M1485 9510v40M1505 9470v60M1515 9510v50M1525 9520v30M1545 9570v40M1575 9580v50M1585 9560v80M1595 9580v30M1605 9570v40M1625 9570v50M1645 9540v40M1665 9470v100M1675 9550v30M1695 9530v30M1705 9540v110M1715 9520v20M1755 9480v40M1775 9450v40M1815 9410v30M1835 9410v40M1855 9380v20M1915 9280v50M1935 9280v60M1965 9230v80M2075 9150v70M2095 9200v60M2115 9230v50M2125 9240v40M2135 9250v50M2145 9280v30M2385 8950v20M2405 8990v30M2425 8980v30M2435 9000v60M2445 9010v30M2455 9030v60M2465 9030v70M2475 9070v100M2505 9090v60M2515 9120v40M2535 9100v70M2545 9140v20M2555 9150v30M2565 9150v60M2585 9150v30M2645 9040v40M2655 9020v30M2685 9010v40M2775 8930v30M2805 8920v70M2835 8940v50M2845 8950v20M2865 8940v40M2975 8900v40M3005 8870v30M3025 8860v20M3075 8780v30M3115 8780v50M3135 8840v30M3145 8820v50M3155 8870v50M3165 8870v40M3175 8880v40M3185 8880v30M3195 8900v40M3215 8900v50M3225 8940v50M3235 8930v70M3265 8930v70M3275 8950v40M3285 8960v40M3305 8960v40M3345 8900v90M3385 8860v40M3395 8860v60M3405 8870v70M3415 8890v50M3435 8920v20M3445 8900v30M3465 8900v90M3485 8920v20M3505 8930v60M3515 8920v50M3525 8930v30M3535 8920v40M3555 9000v50M3565 9040v40M3575 9090v30M3585 9110v40M3605 9140v50M3625 9140v110M3645 9210v60M3665 9230v40M3675 9240v30M3685 9240v60M3695 9240v60M3725 9330v30M3735 9370v50M3745 9380v70M3755 9400v90M3775 9470v70M3785 9460v40M3795 9440v20M3915 9230v40M3935 9210v30M3955 9190v110M3965 9200v60M3975 9220v40M3985 9210v60M4045 9210v20M4055 9200v90M4095 9160v60M4205 9040v30M4235 8980v60M4255 8980v60M4265 9000v20M4295 8980v70M4305 8970v60" stroke="#2b35e6" stroke-width="10" fill="none"/><path d="M345 9140v50M355 9120v60M485 9160v70M505 9190v20M515 9170v50M525 9120v90M535 9120v70M545 9110v30M555 9020v120M565 9090v30M575 9070v60M585 9070v40M595 9080v60M615 9080v50M625 9110v60M635 9110v40M655 9110v40M665 9130v40M755 9210v50M775 9210v40M795 9260v50M805 9240v40M845 9360v40M855 9370v90M865 9400v50M935 9670v40M945 9660v30M965 9680v20M985 9680v30M995 9640v60M1005 9690v20M1025 9660v60M1035 9650v30M1065 9590v20M1085 9550v40M1095 9560v60M1105 9570v40M1115 9570v40M1125 9550v40M1135 9510v60M1165 9530v50M1175 9520v30M1185 9490v40M1195 9490v50M1205 9480v20M1225 9440v60M1255 9440v80M1275 9460v40M1285 9440v50M1295 9450v60M1315 9460v40M1325 9430v40M1345 9410v50M1365 9420v60M1395 9470v40M1425 9490v30M1435 9490v30M1445 9470v40M1475 9510v20M1495 9480v70M1535 9550v50M1555 9550v50M1565 9560v60M1615 9550v50M1635 9560v40M1655 9530v50M1685 9520v30M1725 9520v40M1735 9500v20M1745 9470v50M1765 9460v40M1785 9410v70M1795 9430v60M1805 9390v40M1825 9390v40M1845 9390v50M1865 9360v40M1875 9350v40M1885 9330v50M1895 9320v40M1905 9320v20M1925 9270v30M1945 9260v70M1955 9250v60M1975 9260v80M1985 9260v40M1995 9250v30M2005 9250v40M2015 9220v40M2025 9180v70M2035 9200v50M2045 9180v70M2055 9210v20M2065 9190v50M2085 9190v50M2105 9180v40M2155 9290v30M2165 9240v50M2175 9240v40M2185 9240v40M2195 9210v30M2205 9160v50M2215 9170v40M2225 9140v40M2235 9100v80M2245 9110v30M2255 9060v50M2265 9050v50M2275 9060v20M2285 9000v80M2295 9020v30M2305 9010v50M2315 8950v90M2325 8980v50M2335 8950v60M2345 8960v30M2355 8950v20M2365 8940v40M2375 8900v60M2395 8950v60M2415 8960v60M2485 9050v60M2495 9060v40M2525 9100v40M2575 9140v40M2595 9130v50M2605 9100v70M2615 9080v60M2625 9070v50M2635 9040v50M2665 9010v50M2675 9000v50M2695 8990v80M2705 9000v30M2715 8980v50M2725 8950v80M2735 8980v30M2745 8940v50M2755 8920v80M2765 8940v40M2785 8930v70M2795 8900v60M2815 8950v50M2825 8930v70M2855 8950v20M2875 8980v40M2885 8950v60M2895 8950v60M2905 8950v40M2915 8910v50M2925 8940v40M2935 8910v40M2945 8900v30M2955 8870v70M2965 8890v30M2985 8860v90M2995 8860v30M3015 8830v70M3035 8820v30M3045 8810v50M3055 8790v60M3065 8780v30M3085 8800v30M3095 8790v70M3105 8780v40M3125 8780v60M3205 8900v50M3245 8930v60M3255 8910v60M3295 8960v40M3315 8960v30M3325 8930v60M3335 8920v30M3355 8870v60M3365 8860v80M3375 8890v30M3425 8900v40M3455 8900v60M3475 8900v40M3495 8910v40M3545 8990v40M3595 9080v70M3615 9150v100M3635 9170v50M3655 9210v30M3705 9270v40M3715 9310v50M3765 9450v30M3805 9420v50M3815 9390v40M3825 9400v30M3835 9390v20M3845 9340v50M3855 9300v50M3865 9300v40M3875 9280v20M3885 9250v60M3895 9240v60M3905 9230v50M3925 9200v50M3945 9190v50M3995 9210v50M4005 9210v50M4015 9180v50M4025 9180v50M4035 9190v30M4065 9170v70M4075 9170v50M4085 9160v30M4105 9170v20M4115 9120v60M4125 9140v30M4135 9130v30M4145 9090v50M4155 9110v20M4165 9020v60M4175 9060v60M4185 9010v50M4195 8990v70M4215 8980v100M4225 9020v50M4245 8990v50M4275 8980v50M4285 8970v30M4315 8990v40" stroke="#e8121c" stroke-width="10" fill="none"/><path d="M345 9164l10 0 10 4 10 8 10 8 10 8 10 10 10 5 10 5 10 3 10 3 10 3 10-1 10 1 10-3 10-2 10-4 10-6 10-13 10-9 10-17 10-17 10-16 10-13 10-13 10-2 10 3 10 1 10 5 10 7 10 4 10 1 10 9 10 6 10 6 10 10 10 12 10 12 10 14 10 14 10 11 10 8 10 9 10 3 10 2 10 7 10 5 10 9 10 13 10 18 10 19 10 30 10 27 10 31 10 34 10 32 10 34 10 37 10 38 10 36 10 27 10 24 10 14 10 13 10 2 10 3 10 0 10 4 10-4 10-7 10-10 10-14 10-22 10-23 10-17 10-10 10-9 10-3 10-3 10-4 10-6 10-3 10-8 10-5 10-6 10-10 10-17 10-10 10-15 10-11 10-7 10-4 10-1 10 2 10 0 10-2 10 2 10-2 10-4 10-2 10-5 10-4 10-5 10 2 10 6 10 10 10 9 10 11 10 9 10 3 10 2 10 4 10 4 10 3 10 3 10 4 10 0 10 1 10 5 10 10 10 12 10 14 10 13 10 13 10 4 10 4 10 2 10-3 10-3 10-5 10-4 10-8 10-5 10-6 10-7 10-5 10-1 10-5 10-6 10-5 10-11 10-11 10-12 10-11 10-10 10-10 10-16 10-9 10-13 10-8 10-7 10-5 10-11 10-9 10-13 10-12 10-12 10-11 10-15 10-8 10-8 10-9 10-6 10 0 10-9 10-6 10-6 10-11 10-14 10-8 10-8 10-7 10-3 10-5 10-3 10-3 10-3 10 8 10 11 10 10 10 15 10 18 10 3 10 3 10-4 10-12 10-21 10-19 10-22 10-22 10-21 10-21 10-22 10-18 10-22 10-19 10-12 10-12 10-12 10-11 10-10 10-14 10-14 10-13 10-4 10 2 10 11 10 11 10 12 10 13 10 9 10 5 10 15 10 15 10 9 10 12 10 15 10 12 10 10 10 15 10 13 10 11 10 9 10 7 10 3 10 1 10-3 10-13 10-14 10-19 10-21 10-22 10-19 10-14 10-9 10-5 10-3 10-4 10-4 10-6 10-11 10-11 10-10 10-10 10-8 10-7 10-2 10 4 10 2 10 3 10 3 10 0 10-3 10 7 10 3 10 1 10 0 10-1 10-9 10-11 10-11 10-9 10-9 10-7 10-8 10-8 10-5 10-8 10-7 10-11 10-10 10-11 10-16 10-15 10-5 10-5 10-4 10 5 10 3 10 8 10 12 10 15 10 13 10 17 10 8 10 11 10 7 10 9 10 11 10 12 10 6 10 1 10 5 10 4 10 6 10 5 10 10 10 4 10 0 10-8 10-12 10-11 10-10 10-15 10-10 10-4 10-3 10 0 10 3 10 8 10 6 10 1 10 3 10 1 10 1 10 2 10 5 10 1 10 5 10 3 10 14 10 16 10 27 10 34 10 37 10 24 10 28 10 20 10 13 10 16 10 21 10 14 10 17 10 15 10 14 10 11 10 10 10 18 10 17 10 23 10 29 10 34 10 27 10 30 10 17 10 4 10-6 10-11 10-15 10-16 10-17 10-19 10-20 10-24 10-26 10-20 10-14 10-15 10-12 10-11 10-9 10-5 10-1 10 0 10 3 10 1 10-4 10-6 10-8 10-5 10-1 10 3 10-2 10-2 10-8 10-7 10-10 10-4 10-6 10-7 10-12 10-12 10-21 10-16 10-19 10-15 10-12 10-4 10-10 10-2 10-5 10-9 10-8 10-7 10-8 10-4 10-2 5 2" stroke="#e8121c" stroke-width="10" fill="none" stroke-linejoin="round"/></g>
<path d="M34.8 992.3V845.6" stroke="#6a6a6a" stroke-width="1" fill="none"/>
<path d="M34.3 845.6H441.4" stroke="#333" stroke-width="1.4" fill="none"/>
<path d="M34.3 992.3H472.9" stroke="#444" stroke-width="1.6" fill="none"/>
<path d="M440.9 845.6V994.3" stroke="#333" stroke-width="1.1" fill="none"/>
<path d="M472.4 843.1V993.3" stroke="#aeb3bd" stroke-width="1" fill="none"/>
<rect x="36.3" y="847.1" width="3.6" height="4.2" fill="#000"/>
<rect x="430.4" y="848.2" width="4" height="5" fill="#222"/><rect x="435.1" y="848.2" width="4" height="5" fill="#222"/>
<rect x="431.6" y="849.8" width="1.6" height="1.8" fill="#ddd"/><rect x="436.3" y="849.4" width="1.4" height="2.6" fill="#ddd"/>
<rect x="42.1" y="852.0" width="1.5" height="6.8" fill="#e8202a"/><text x="44.3" y="858.6" fill="#e8202a" font-size="10" font-weight="bold" textLength="20.0" lengthAdjust="spacingAndGlyphs">KOSDAQ</text><rect x="66.9" y="852.0" width="1.5" height="6.8" fill="#e8202a"/><text x="69.1" y="858.6" fill="#e8202a" font-size="10" font-weight="bold" textLength="3.3" lengthAdjust="spacingAndGlyphs">7</text><rect x="75.0" y="852.0" width="1.5" height="6.8" fill="#3a46e0"/><text x="77.2" y="858.6" fill="#3a46e0" font-size="10" font-weight="bold" textLength="6.2" lengthAdjust="spacingAndGlyphs">15</text><rect x="86.0" y="852.0" width="1.5" height="6.8" fill="#d89a28"/><text x="88.2" y="858.6" fill="#d89a28" font-size="10" font-weight="bold" textLength="7.0" lengthAdjust="spacingAndGlyphs">35</text><rect x="97.8" y="852.0" width="1.5" height="6.8" fill="#222"/><text x="100.0" y="858.6" fill="#222" font-size="10" font-weight="bold" textLength="6.5" lengthAdjust="spacingAndGlyphs">55</text><rect x="109.1" y="852.0" width="1.5" height="6.8" fill="#9a9a9a"/><text x="111.3" y="858.6" fill="#9a9a9a" font-size="10" font-weight="bold" textLength="9.2" lengthAdjust="spacingAndGlyphs">120</text><rect x="123.1" y="852.0" width="1.5" height="6.8" fill="#1f9a2e"/><text x="125.3" y="858.6" fill="#1f9a2e" font-size="10" font-weight="bold" textLength="10.4" lengthAdjust="spacingAndGlyphs">390</text><rect x="138.3" y="852.0" width="1.5" height="6.8" fill="#e8202a"/><text x="140.5" y="858.6" fill="#e8202a" font-size="10" font-weight="bold" textLength="3.0" lengthAdjust="spacingAndGlyphs">5</text><rect x="146.1" y="852.0" width="1.5" height="6.8" fill="#3a46e0"/><text x="148.3" y="858.6" fill="#3a46e0" font-size="10" font-weight="bold" textLength="6.0" lengthAdjust="spacingAndGlyphs">10</text><rect x="156.9" y="852.0" width="1.5" height="6.8" fill="#d89a28"/><text x="159.1" y="858.6" fill="#d89a28" font-size="10" font-weight="bold" textLength="7.0" lengthAdjust="spacingAndGlyphs">20</text><rect x="168.7" y="852.0" width="1.5" height="6.8" fill="#1f9a2e"/><text x="170.9" y="858.6" fill="#1f9a2e" font-size="10" font-weight="bold" textLength="7.0" lengthAdjust="spacingAndGlyphs">60</text><rect x="180.5" y="852.0" width="1.5" height="6.8" fill="#9a9a9a"/><text x="182.7" y="858.6" fill="#9a9a9a" font-size="10" font-weight="bold" textLength="9.2" lengthAdjust="spacingAndGlyphs">120</text><rect x="194.5" y="852.0" width="1.5" height="6.8" fill="#e8202a"/><text x="196.7" y="858.6" fill="#e8202a" font-size="10" font-weight="bold" textLength="10.0" lengthAdjust="spacingAndGlyphs">240</text><rect x="209.3" y="852.0" width="1.5" height="6.8" fill="#22d4dc"/><text x="211.5" y="858.6" fill="#22d4dc" font-size="10" font-weight="bold" textLength="60.0" lengthAdjust="spacingAndGlyphs">기준선(26,9,26,52,26)</text><rect x="274.1" y="852.0" width="1.5" height="6.8" fill="#d89a28"/><text x="276.3" y="858.6" fill="#d89a28" font-size="10" font-weight="bold" textLength="17.5" lengthAdjust="spacingAndGlyphs">전환선</text>
<path d="M441.4 878.3l2.4 1.3l-2.4 1.3z" fill="#222"/>
<text x="470.8" y="883.2" fill="#606060" font-size="12.8" text-anchor="end" textLength="17.0" lengthAdjust="spacingAndGlyphs">950.00</text>
<path d="M441.4 894.5l2.4 1.3l-2.4 1.3z" fill="#222"/>
<text x="470.8" y="899.4" fill="#606060" font-size="12.8" text-anchor="end" textLength="17.0" lengthAdjust="spacingAndGlyphs">900.00</text>
<path d="M441.4 910.7l2.4 1.3l-2.4 1.3z" fill="#222"/>
<path d="M441.4 926.8l2.4 1.3l-2.4 1.3z" fill="#222"/>
<text x="470.8" y="931.7" fill="#606060" font-size="12.8" text-anchor="end" textLength="17.0" lengthAdjust="spacingAndGlyphs">800.00</text>
<path d="M441.4 943.0l2.4 1.3l-2.4 1.3z" fill="#222"/>
<text x="470.8" y="947.9" fill="#606060" font-size="12.8" text-anchor="end" textLength="17.0" lengthAdjust="spacingAndGlyphs">750.00</text>
<path d="M441.4 959.1l2.4 1.3l-2.4 1.3z" fill="#222"/>
<text x="470.8" y="964.0" fill="#606060" font-size="12.8" text-anchor="end" textLength="17.0" lengthAdjust="spacingAndGlyphs">700.00</text>
<rect x="447.5" y="898.3" width="23.7" height="26.5" fill="#2222f5"/>
<path d="M447.2 901.8l-3.4 4.2l3.4 4.2z" fill="#2222f5"/>
<text x="470.8" y="910.1" fill="#fff" font-size="12.8" text-anchor="end" textLength="17.4" lengthAdjust="spacingAndGlyphs">868.08</text>
<text x="470.8" y="922.5" fill="#fff" font-size="12.8" text-anchor="end" textLength="22.7" lengthAdjust="spacingAndGlyphs">(-1.64%)</text>
<text x="235.0" y="870.2" fill="#fa1218" font-size="12.2" font-weight="bold" textLength="72.0" lengthAdjust="spacingAndGlyphs">956.40(10.17% 2023/07/26)</text>
<path d="M307.8 865.8h4.2v5" stroke="#fa1218" stroke-width="1" fill="none"/><path d="M310.5 870.3h3l-1.5 2.8z" fill="#fa1218"/>
<text x="107.5" y="988.7" fill="#2222f5" font-size="12.2" font-weight="bold" textLength="73.0" lengthAdjust="spacingAndGlyphs">650.39(-25.08% 2022/10/13)</text>
<path d="M106.5 984.3h-3.8v-5" stroke="#2222f5" stroke-width="1" fill="none"/><path d="M101.2 979.8h3l-1.5-2.8z" fill="#2222f5"/>
<rect x="502.0" y="842.7" width="440.9" height="152.8" fill="#fff"/>
<path d="M504.5 871.5H908.6M504.5 890.4H908.6M504.5 909.3H908.6M504.5 928.2H908.6M504.5 947.2H908.6M504.5 966.1H908.6" stroke="#cfcfcf" stroke-width="0.7" stroke-dasharray="1.1 2" fill="none"/>
<path d="M906.6 846.7V991.5M894.2 846.7V991.5M886.5 846.7V991.5M878.8 846.7V991.5M871.0 846.7V991.5M863.3 846.7V991.5M855.6 846.7V991.5M847.9 846.7V991.5M840.2 846.7V991.5M832.4 846.7V991.5M824.7 846.7V991.5M817.0 846.7V991.5M809.3 846.7V991.5M801.6 846.7V991.5M793.8 846.7V991.5M786.1 846.7V991.5M778.4 846.7V991.5M770.7 846.7V991.5M763.0 846.7V991.5M755.2 846.7V991.5M747.5 846.7V991.5M739.8 846.7V991.5M732.1 846.7V991.5M724.4 846.7V991.5M716.6 846.7V991.5M708.9 846.7V991.5M701.2 846.7V991.5M693.5 846.7V991.5M685.8 846.7V991.5M678.0 846.7V991.5M670.3 846.7V991.5M662.6 846.7V991.5M654.9 846.7V991.5M647.2 846.7V991.5M639.4 846.7V991.5M631.7 846.7V991.5M624.0 846.7V991.5M616.3 846.7V991.5M608.6 846.7V991.5M600.8 846.7V991.5M593.1 846.7V991.5M585.4 846.7V991.5M577.7 846.7V991.5M570.0 846.7V991.5M562.2 846.7V991.5M554.5 846.7V991.5M546.8 846.7V991.5M539.1 846.7V991.5M531.4 846.7V991.5M523.6 846.7V991.5M515.9 846.7V991.5" stroke="#e0e0e0" stroke-width="0.7" stroke-dasharray="1.1 2.6" fill="none"/>
<path d="M519.6 894.2H906.1" stroke="#ee1c24" stroke-width="1.7" fill="none"/>
<path d="M521.4 907.4H907.7" stroke="#ee1c24" stroke-width="1.7" fill="none"/>
<g transform="scale(.1)"><path d="M6680 9208l60 2 60 3 60 3 60 3 60 4 60 5 60 6 60 7 60 6 60 7 60 5 60 5 60 5 60 5 60 4 60 3 60 2 60 0 60-2 60-4 60-4 60-5 60-5 60-4 60-4 60-4 60-3 60-4 60-3 60-4 60-5 60-5 60-5 60-6 60-6 60-7 60-7 60-7 45-6" stroke="#16a51f" stroke-width="21" fill="none" stroke-linejoin="round"/><path d="M5030 9083l60 27 60 31 60 36 60 42 60 39 60 37 60 35 60 24 60 10 60 7 60 6 60 4 60 2 60 0 60 0 60 0 60 0 60 0 60 0 60 0 60 0 60 0 60 0 60-1 60-1 60-1 60-2 60-1 60-2 60-2 60-3 60-4 60-5 60-5 60-7 60-7 60-10 60-12 60-13 60-13 60-13 60-12 60-13 60-12 60-12 60-11 60-10 60-10 60-10 60-10 60-10 60-10 60-10 60-10 60-10 60-10 60-10 60-10 60-10 60-10 60-10 60-9 60-9 60-10 60-9 60-9 15-2" stroke="#f4787c" stroke-width="11" fill="none" stroke-linejoin="round"/><path d="M5030 9358l60 21 60 20 60 18 60 18 60 18 60 15 60 6 60 4 60 3 60 2 60 0 60-3 60-5 60-8 60-9 60-13 60-18 60-21 60-20 60-19 60-20 60-19 60-16 60-11 60-9 60-8 60-7 60-8 60-8 60-8 60-7 60-4 60-3 60-2 60-2 60-3 60-4 60-6 60-6 60-8 60-9 60-12 60-13 60-14 60-14 60-16 60-16 60-16 60-15 60-15 60-14 60-14 60-13 60-13 60-12 60-12 60-11 60-10 60-9 60-9 60-10 60-9 60-9 60-9 60-10 60-9 15-2" stroke="#a9a9a9" stroke-width="12" fill="none" stroke-linejoin="round"/><path d="M5030 9521l40 37 40 29 40 16 40 13 40 5 40-9 40-22 40-27 40-22 40-22 40-22 40-21 40-19 40-14 40-12 40-10 40-9 40-9 40-10 40-10 40-10 40-10 40-10 40-9 40-9 40-8 40-8 40-7 40-8 40-8 40-8 40-7 40-6 40-5 40-3 40-3 40-3 40-3 40-3 40-4 40-4 40-4 40-4 40-4 40-4 40-4 40-3 40-2 40-1 40 1 40 1 40 2 40 1 40 0 40-3 40-6 40-7 40-8 40-8 40-7 40-8 40-8 40-9 40-8 40-8 40-9 40-9 40-9 40-11 40-12 40-14 40-15 40-13 40-10 40-9 40-8 40-7 40-8 40-8 40-10 40-10 40-10 40-10 40-11 40-10 40-10 40-11 40-9 40-9 40-8 40-8 40-8 40-6 40-4 40-4 40-3 40-3 40-2 40-2 15 0" stroke="#2e8b57" stroke-width="9" fill="none" stroke-linejoin="round"/><path d="M5030 9508l40 37 40 29 40 16 40 13 40 5 40-9 40-22 40-27 40-22 40-22 40-22 40-21 40-19 40-14 40-12 40-10 40-9 40-9 40-10 40-10 40-10 40-10 40-10 40-9 40-9 40-8 40-8 40-7 40-8 40-8 40-8 40-7 40-6 40-5 40-3 40-3 40-3 40-3 40-3 40-4 40-4 40-4 40-4 40-4 40-4 40-4 40-3 40-2 40-1 40 1 40 1 40 2 40 1 40 0 40-3 40-6 40-7 40-8 40-8 40-7 40-8 40-8 40-9 40-8 40-8 40-9 40-9 40-9 40-11 40-12 40-14 40-15 40-13 40-10 40-9 40-8 40-7 40-8 40-8 40-10 40-10 40-10 40-10 40-11 40-10 40-10 40-11 40-9 40-9 40-8 40-8 40-8 40-6 40-4 40-4 40-3 40-3 40-2 40-2 15 0" stroke="#111" stroke-width="20" fill="none" stroke-linejoin="round"/><path d="M5030 9536l20 1 20 3 20 4 20 6 20 8 20 9 20 8 20 7 20 7 20 4 20 4 20 2 20 1 20-1 20-2 20-7 20-10 20-14 20-16 20-20 20-24 20-26 20-27 20-27 20-27 20-25 20-24 20-21 20-19 20-15 20-15 20-13 20-11 20-9 20-5 20 1 20 5 20 10 20 15 20 18 20 19 20 18 20 14 20 11 20 8 20 5 20 2 20 1 20-2 20-2 20-4 20-3 20-4 20-4 20-4 20-7 20-8 20-11 20-12 20-12 20-12 20-10 20-9 20-6 20-6 20-3 20-3 20-2 20-1 20 0 20-1 20 0 20-1 20-3 20-3 20-3 20-1 20-1 20 0 20-1 20 0 20 0 20 0 20-1 20-1 20 0 20-1 20-3 20-3 20-4 20-5 20-3 20-4 20-4 20-3 20-2 20-2 20-2 20-2 20-1 20-1 20 0 20 0 20-1 20 1 20 0 20 2 20 2 20 4 20 3 20 2 20 2 20 1 20 1 20 0 20-2 20-4 20-3 20-6 20-5 20-6 20-6 20-5 20-6 20-6 20-6 20-7 20-6 20-7 20-6 20-6 20-5 20-5 20-5 20-4 20-4 20-4 20-2 20-2 20-4 20-4 20-5 20-4 20-6 20-7 20-6 20-7 20-8 20-6 20-6 20-5 20-5 20-5 20-5 20-6 20-6 20-5 20-5 20-6 20-7 20-6 20-5 20-6 20-6 20-5 20-6 20-5 20-4 20-5 20-4 20-5 20-4 20-5 20-5 20-4 20-4 20-5 20-4 20-3 20-4 20-4 20-4 20-5 20-3 20-4 20-4 20-3 20-2 20-4 20-2 20-1 20-1 20-1 20-1 20-2 20-1 20-1 20-1 15 1" stroke="#d89a28" stroke-width="17" fill="none" stroke-linejoin="round"/><path d="M5030 9526l20 18 20 14 20 9 20 27 20 19 20 0 20 1 20 0 20 0 20 0 20 0 20 0 20 0 20 0 20-25 20-39 20-32 20-33 20-29 20-43 20-8 20-20 20-13 20-22 20-3 20-9 20-8 20-21 20-25 20-48 20-24 20-8 20 4 20 7 20 9 20 26 20 17 20 39 20 24 20 12 20 14 20 16 20 16 20 1 20 1 20-24 20 0 20 0 20 0 20 0 20-9 20 0 20 0 20-3 20-5 20-10 20-17 20-36 20-21 20-17 20 0 20 0 20 0 20 0 20 0 20 0 20 0 20 0 20-12 20-3 20-7 20-1 20 0 20 10 20-6 20 0 20 0 20 0 20 0 20 0 20 0 20 0 20-2 20 0 20 0 20-5 20-1 20-5 20-5 20-6 20-14 20 0 20 0 20 0 20 0 20-3 20-1 20 0 20 0 20 0 20 0 20-7 20 0 20 0 20 2 20 6 20 0 20 10 20 5 20 7 20 2 20 0 20 2 20-7 20-17 20 0 20-3 20-11 20-5 20 0 20-1 20 0 20 0 20-12 20 0 20-15 20-5 20 0 20-22 20-11 20-4 20-1 20-2 20-3 20 0 20-3 20-5 20-5 20-5 20-6 20-1 20-17 20-9 20-8 20-7 20-3 20-7 20-8 20 0 20 0 20-3 20 0 20-7 20 0 20-15 20-5 20-6 20-11 20-23 20 0 20 0 20 0 20 0 20-14 20-3 20-1 20 0 20-9 20-5 20-2 20 0 20-10 20-2 20-8 20-3 20-2 20 4 20-4 20-3 20-6 20-7 20 0 20-9 20-2 20-1 20-3 20 0 20 0 20 0 20 0 20-29 20 6 20 0 20 0 20 0 20 0 20 0 20 0 15 0" stroke="#22dbe4" stroke-width="20" fill="none" stroke-linejoin="round"/><path d="M5030 9536l20 2 20 4 20 7 20 11 20 15 20 15 20 15 20 13 20 11 20 8 20 6 20 3 20-3 20-8 20-16 20-26 20-33 20-40 20-41 20-47 20-47 20-47 20-42 20-36 20-33 20-24 20-17 20-7 20 1 20 8 20 15 20 18 20 22 20 20 20 18 20 19 20 19 20 18 20 19 20 18 20 15 20 12 20 9 20 5 20 1 20-3 20-9 20-12 20-15 20-20 20-20 20-20 20-17 20-13 20-9 20-7 20-5 20-4 20-4 20-3 20-2 20-2 20-2 20-3 20-3 20-5 20-4 20-2 20-1 20 2 20 1 20 1 20 1 20 0 20-2 20-1 20-1 20 0 20-1 20-2 20-2 20-1 20-2 20-2 20-1 20 1 20 0 20-4 20-4 20-6 20-5 20-6 20-6 20-6 20-6 20-4 20-3 20-2 20 0 20 2 20 4 20 6 20 4 20 5 20 6 20 7 20 5 20 5 20 4 20 4 20 0 20-2 20-4 20-4 20-5 20-7 20-9 20-11 20-13 20-12 20-11 20-9 20-8 20-7 20-6 20-4 20-3 20-2 20-1 20 0 20-1 20-2 20-3 20-3 20-4 20-4 20-5 20-5 20-5 20-6 20-6 20-7 20-7 20-7 20-8 20-8 20-8 20-8 20-7 20-7 20-5 20-5 20-3 20-4 20-4 20-3 20-2 20-2 20-4 20-6 20-7 20-7 20-7 20-9 20-9 20-9 20-6 20-6 20-5 20-3 20-2 20-2 20-3 20-3 20 1 20 0 20-1 20-1 20-3 20-5 20-7 20-6 20-7 20-7 20-7 20-7 20-5 20-3 20-2 20 0 20 2 20 4 20 3 20 4 20 4 20 4 20 4 20 3 15 2" stroke="#d89a28" stroke-width="9" fill="none" stroke-linejoin="round"/><path d="M5030 9526l20 18 20 14 20 9 20 27 20 36 20 13 20 17 20 14 20 9 20-21 20-10 20-17 20-23 20-34 20-43 20-48 20-39 20-49 20-48 20-73 20-49 20-44 20-23 20-32 20 12 20 11 20 17 20 36 20 26 20 21 20 17 20 14 20 12 20 24 20 9 20 29 20 13 20 18 20 28 20 12 20 12 20 8 20-12 20-13 20-15 20-51 20-19 20-21 20-13 20-14 20-21 20-8 20-6 20-2 20 15 20 7 20 0 20-21 20-7 20-13 20-8 20-4 20-1 20 10 20-5 20 0 20 3 20 1 20 0 20 5 20 0 20 9 20-3 20 0 20-13 20 0 20-5 20-4 20 0 20 5 20 3 20 0 20-7 20 0 20 0 20-3 20-2 20-5 20-4 20-7 20-13 20-22 20-7 20-5 20 0 20 9 20 7 20 4 20 3 20 12 20 8 20 3 20 0 20 7 20 4 20 0 20 0 20 9 20 11 20 1 20-8 20-3 20-6 20-7 20-29 20 0 20-19 20-15 20-5 20-18 20-7 20-4 20 0 20 0 20 0 20 2 20 0 20 0 20-18 20 0 20 0 20-2 20-2 20-12 20-2 20-4 20-12 20-2 20-3 20-5 20-4 20-17 20-7 20-6 20-7 20-14 20-5 20-8 20-12 20-2 20 3 20 0 20 0 20 0 20 0 20-6 20-1 20-9 20-28 20-3 20 0 20 0 20-11 20-21 20-3 20-5 20-4 20-7 20 9 20 0 20 6 20 0 20-1 20-12 20-3 20-2 20 16 20-4 20-3 20-6 20-7 20-29 20-13 20-7 20-10 20-4 20 4 20 0 20 3 20 12 20 6 20 17 20 4 20 6 20 1 20-4 20-7 20-6 15 3" stroke="#d89a28" stroke-width="9" fill="none" stroke-linejoin="round"/><path d="M5030 9536l20 2 20 6 20 9 20 14 20 19 20 20 20 20 20 16 20 14 20 7 20 0 20-6 20-15 20-20 20-27 20-33 20-39 20-44 20-46 20-52 20-55 20-53 20-47 20-34 20-23 20-11 20-2 20 9 20 19 20 24 20 25 20 21 20 19 20 16 20 16 20 17 20 17 20 16 20 19 20 19 20 18 20 13 20 9 20 0 20-5 20-13 20-19 20-23 20-24 20-24 20-21 20-17 20-12 20-9 20-2 20-1 20-2 20-1 20-2 20-2 20-3 20-3 20-6 20-5 20-5 20-3 20-2 20 1 20 1 20 2 20 2 20 2 20 0 20 0 20-2 20-1 20-2 20-2 20-3 20-3 20-1 20 0 20 0 20 0 20 0 20-1 20-1 20-5 20-5 20-7 20-8 20-7 20-6 20-8 20-7 20-4 20 0 20 3 20 2 20 5 20 6 20 8 20 7 20 6 20 6 20 3 20 6 20 4 20 4 20 1 20-2 20-2 20-3 20-8 20-8 20-11 20-14 20-14 20-13 20-11 20-10 20-9 20-7 20-4 20-3 20-2 20 1 20 1 20 0 20-2 20-2 20-2 20-4 20-5 20-5 20-5 20-7 20-4 20-5 20-7 20-5 20-7 20-6 20-8 20-9 20-9 20-10 20-9 20-8 20-4 20-4 20-3 20-2 20-1 20-1 20-3 20-4 20-3 20-6 20-9 20-7 20-7 20-8 20-11 20-8 20-10 20-7 20-5 20-2 20-1 20-2 20 0 20 1 20 0 20 1 20-1 20-2 20-5 20-6 20-5 20-7 20-6 20-9 20-8 20-8 20-8 20-4 20-1 20 0 20 4 20 5 20 7 20 8 20 5 20 5 20 2 20 1 20 0 15 0" stroke="#3a46e0" stroke-width="10" fill="none" stroke-linejoin="round"/><path d="M5030 9536l20 3 20 9 20 14 20 22 20 29 20 30 20 25 20 13 20 6 20-10 20-19 20-24 20-24 20-25 20-30 20-37 20-44 20-55 20-59 20-67 20-62 20-51 20-34 20-17 20-1 20 16 20 25 20 29 20 27 20 24 20 22 20 16 20 15 20 12 20 10 20 15 20 19 20 22 20 25 20 23 20 17 20 9 20-2 20-15 20-22 20-28 20-30 20-28 20-23 20-19 20-16 20-9 20-5 20-1 20 4 20 3 20 2 20-1 20-4 20-8 20-8 20-8 20-5 20-1 20 0 20-1 20-1 20 2 20 2 20 4 20 2 20 4 20 0 20-2 20-7 20-5 20-3 20-2 20-1 20 0 20 2 20 1 20 0 20-2 20-1 20-1 20-2 20-8 20-8 20-8 20-11 20-10 20-7 20-6 20-3 20 1 20 5 20 5 20 6 20 9 20 10 20 8 20 4 20 4 20 5 20 3 20 2 20 4 20 5 20 2 20-5 20-5 20-10 20-13 20-15 20-12 20-14 20-14 20-13 20-11 20-8 20-5 20-4 20 2 20 1 20 0 20 0 20 1 20 0 20-3 20-3 20-3 20-7 20-7 20-7 20-5 20-7 20-4 20-3 20-5 20-5 20-9 20-8 20-10 20-12 20-12 20-8 20-8 20-5 20-2 20 1 20 2 20-1 20-1 20-2 20-7 20-7 20-4 20-7 20-10 20-9 20-7 20-10 20-12 20-9 20-7 20-6 20-5 20 2 20 5 20 4 20 2 20 0 20-2 20-4 20-5 20-3 20-5 20-4 20-8 20-7 20-9 20-11 20-9 20-8 20-6 20-2 20 4 20 6 20 9 20 11 20 12 20 6 20 2 20 1 20-3 20-4 20-4 15 2" stroke="#3a46e0" stroke-width="8" fill="none" stroke-linejoin="round"/><path d="M5055 9540v40M5065 9560v40M5075 9590v20M5085 9600v20M5095 9600v30M5105 9620v40M5125 9680v30M5135 9700v20M5175 9690v30M5185 9660v40M5235 9600v20M5275 9570v30M5305 9520v30M5335 9450v40M5405 9230v20M5475 9080v20M5485 9090v20M5505 9130v30M5515 9150v30M5525 9160v30M5535 9170v40M5545 9190v20M5565 9210v20M5575 9220v30M5585 9240v30M5595 9250v30M5605 9250v40M5615 9280v30M5625 9290v30M5645 9310v20M5665 9290v30M5685 9310v30M5695 9320v20M5705 9320v30M5715 9330v20M5725 9340v20M5755 9380v40M5765 9390v20M5775 9400v40M5785 9410v40M5795 9430v30M5805 9450v40M5815 9460v30M5825 9470v20M5845 9460v30M5865 9430v50M5915 9360v20M5945 9320v20M5955 9240v80M6005 9250v40M6065 9230v30M6085 9230v40M6115 9240v50M6155 9260v30M6205 9220v30M6215 9180v60M6255 9220v30M6265 9200v50M6285 9210v40M6315 9220v40M6325 9220v30M6335 9220v40M6375 9210v40M6385 9220v40M6395 9220v40M6455 9220v30M6465 9220v50M6545 9200v40M6565 9220v30M6615 9210v30M6645 9210v30M6655 9200v60M6675 9220v30M6705 9200v40M6725 9200v30M6735 9210v20M6795 9170v40M6835 9150v30M6865 9160v20M6905 9140v30M6925 9140v20M6935 9150v20M6945 9150v30M6955 9160v30M6965 9160v30M6975 9190v20M7015 9180v20M7025 9190v40M7035 9180v30M7045 9200v30M7055 9190v30M7105 9210v20M7125 9200v40M7135 9200v40M7175 9220v20M7185 9230v30M7195 9210v30M7205 9240v20M7225 9210v50M7245 9180v30M7255 9190v20M7285 9180v30M7355 9120v30M7385 9100v40M7425 9080v40M7455 9090v30M7465 9100v20M7475 9090v20M7505 9100v40M7515 9100v30M7545 9100v30M7565 9100v30M7645 9080v20M7665 9080v20M7685 9060v30M7705 9050v30M7735 9050v30M7745 9040v40M7795 9050v30M7845 9030v30M7875 9010v20M7975 8960v20M7985 8940v40M7995 8950v30M8005 8950v30M8015 8950v40M8055 8960v40M8095 8970v30M8115 8960v30M8135 8940v40M8175 8940v20M8185 8930v40M8245 8900v30M8355 8860v30M8395 8860v40M8405 8870v20M8415 8880v40M8435 8890v20M8455 8860v30M8465 8860v30M8475 8880v20M8495 8850v30M8515 8850v50M8555 8850v30M8565 8850v80M8585 8850v20M8595 8830v30M8635 8830v30M8675 8810v20M8695 8790v20M8705 8800v20M8735 8790v20M8755 8770v50M8765 8780v40M8775 8810v30M8795 8820v20M8815 8830v20M8835 8840v30M8855 8850v20M8865 8850v20M8875 8860v30M8895 8840v30M8915 8830v40M8945 8820v40M8955 8830v20M8965 8820v30M8985 8830v30M9005 8850v20" stroke="#2b35e6" stroke-width="10" fill="none"/><path d="M5035 9500v50M5045 9540v20M5115 9660v20M5145 9690v30M5155 9700v20M5165 9690v20M5195 9660v30M5205 9660v20M5215 9640v30M5225 9620v30M5245 9590v20M5255 9580v40M5265 9570v20M5285 9550v30M5295 9540v40M5315 9510v30M5325 9490v20M5345 9410v40M5355 9380v20M5365 9340v30M5375 9310v40M5385 9270v20M5395 9250v30M5415 9190v20M5425 9140v40M5435 9100v40M5445 9100v20M5455 9090v20M5465 9080v20M5495 9100v50M5555 9190v40M5635 9290v20M5655 9290v30M5675 9300v20M5735 9350v20M5745 9360v50M5835 9450v30M5855 9440v30M5875 9420v40M5885 9410v30M5895 9380v40M5905 9370v30M5925 9340v30M5935 9330v20M5965 9280v40M5975 9270v30M5985 9240v60M5995 9260v20M6015 9250v30M6025 9240v40M6035 9250v20M6045 9230v30M6055 9220v30M6075 9240v20M6095 9250v20M6105 9240v40M6125 9270v50M6135 9270v20M6145 9260v30M6165 9240v40M6175 9240v30M6185 9240v30M6195 9190v70M6225 9210v40M6235 9220v40M6245 9220v30M6275 9210v30M6295 9210v30M6305 9220v30M6345 9210v30M6355 9210v30M6365 9210v30M6405 9220v40M6415 9230v30M6425 9240v20M6435 9230v40M6445 9230v20M6475 9230v20M6485 9210v50M6495 9220v20M6505 9220v30M6515 9210v30M6525 9190v50M6535 9200v30M6555 9210v30M6575 9210v20M6585 9200v40M6595 9220v30M6605 9200v40M6625 9210v30M6635 9200v40M6665 9210v30M6685 9210v30M6695 9180v50M6715 9190v30M6745 9210v30M6755 9210v20M6765 9200v20M6775 9200v50M6785 9170v30M6805 9170v20M6815 9160v30M6825 9160v20M6845 9140v30M6855 9120v60M6875 9140v30M6885 9150v30M6895 9140v20M6915 9140v30M6985 9180v30M6995 9170v30M7005 9160v50M7065 9210v20M7075 9210v30M7085 9190v30M7095 9200v30M7115 9180v30M7145 9210v30M7155 9200v30M7165 9220v20M7215 9220v30M7235 9210v20M7265 9190v50M7275 9180v30M7295 9170v20M7305 9150v30M7315 9150v30M7325 9140v60M7335 9120v50M7345 9130v30M7365 9120v30M7375 9110v20M7395 9090v30M7405 9080v30M7415 9080v30M7435 9100v20M7445 9080v60M7485 9100v30M7495 9080v30M7525 9080v40M7535 9090v30M7555 9090v20M7575 9090v30M7585 9090v30M7595 9090v30M7605 9090v40M7615 9060v50M7625 9080v30M7635 9070v30M7655 9070v30M7675 9060v40M7695 9050v30M7715 9050v30M7725 9050v20M7755 9060v20M7765 9030v40M7775 9040v20M7785 9030v30M7805 9040v30M7815 9030v40M7825 9030v20M7835 9020v30M7855 9010v20M7865 8980v50M7885 9000v20M7895 8980v30M7905 9000v30M7915 8970v30M7925 8960v40M7935 8950v40M7945 8970v20M7955 8960v20M7965 8960v20M8025 8950v40M8035 8950v50M8045 8940v50M8065 8960v40M8075 8950v30M8085 8950v20M8105 8950v30M8125 8940v30M8145 8940v20M8155 8930v20M8165 8920v30M8195 8930v20M8205 8900v50M8215 8880v70M8225 8900v30M8235 8880v40M8255 8890v20M8265 8900v30M8275 8890v30M8285 8890v30M8295 8880v20M8305 8860v40M8315 8850v30M8325 8840v40M8335 8850v30M8345 8840v30M8365 8860v30M8375 8860v30M8385 8850v40M8425 8870v40M8445 8880v20M8485 8860v30M8505 8840v40M8525 8870v20M8535 8860v30M8545 8860v20M8575 8850v20M8605 8830v30M8615 8830v30M8625 8820v20M8645 8810v20M8655 8800v40M8665 8810v20M8685 8780v30M8715 8780v30M8725 8780v30M8745 8770v30M8785 8800v30M8805 8810v40M8825 8820v30M8845 8840v20M8885 8840v30M8905 8830v30M8925 8830v30M8935 8830v30M8975 8820v50M8995 8810v50M9005 8840v30" stroke="#e8121c" stroke-width="10" fill="none"/><path d="M5030 9536l10 2 10 3 10 6 10 8 10 10 10 11 10 16 10 18 10 19 10 18 10 15 10 15 10 13 10 8 10 1 10-3 10-5 10-7 10-10 10-13 10-15 10-11 10-14 10-13 10-14 10-11 10-11 10-11 10-15 10-16 10-21 10-24 10-29 10-30 10-35 10-34 10-32 10-33 10-32 10-33 10-30 10-27 10-23 10-21 10-14 10-5 10 2 10 8 10 10 10 13 10 16 10 16 10 14 10 13 10 12 10 14 10 13 10 13 10 12 10 12 10 11 10 7 10 6 10 5 10 5 10 4 10 5 10 3 10 6 10 7 10 11 10 10 10 10 10 12 10 14 10 13 10 15 10 12 10 13 10 9 10 7 10 6 10 1 10-4 10-7 10-11 10-12 10-15 10-15 10-17 10-14 10-17 10-15 10-14 10-12 10-13 10-9 10-10 10-7 10-6 10-5 10-5 10-2 10-4 10-1 10 0 10 0 10 4 10 6 10 3 10 3 10 2 10 1 10 1 10-3 10-7 10-6 10-5 10-5 10-5 10-4 10-4 10-1 10-1 10-1 10-1 10-1 10 1 10 0 10 0 10 1 10-1 10 0 10 0 10 0 10 2 10 1 10 1 10 4 10 3 10 3 10 1 10 1 10 0 10-1 10-3 10-3 10-2 10-3 10-7 10-3 10-2 10 0 10-2 10-1 10 3 10 3 10 1 10 0 10-2 10 1 10 1 10-1 10 1 10 0 10 0 10 0 10-3 10-2 10 1 10-2 10-2 10 0 10-2 10-3 10-3 10-6 10-7 10-7 10-7 10-7 10-4 10-4 10-3 10-1 10-2 10-2 10-1 10-1 10-1 10 0 10 2 10 4 10 6 10 5 10 5 10 4 10 4 10 3 10 4 10 3 10 3 10 5 10 5 10 4 10 1 10 2 10-1 10 0 10 1 10 1 10 1 10 3 10 2 10 5 10 2 10 3 10 1 10 2 10-2 10-4 10-6 10-5 10-9 10-5 10-9 10-7 10-5 10-5 10-7 10-7 10-8 10-7 10-6 10-6 10-9 10-7 10-7 10-5 10-2 10-4 10-2 10 0 10 0 10 3 10-1 10 0 10 1 10 0 10-1 10 3 10-2 10 1 10 0 10 0 10 1 10 0 10-2 10-1 10-2 10-2 10-3 10-2 10-5 10-2 10-5 10-3 10-3 10-5 10-4 10-2 10-2 10-1 10-3 10-2 10 0 10-2 10-2 10-4 10-3 10-1 10-3 10-9 10-4 10-5 10-6 10-4 10-7 10-7 10-4 10-5 10-6 10-5 10-5 10-3 10-1 10-1 10 0 10 0 10 2 10 1 10 3 10 1 10 0 10-2 10 1 10-3 10-1 10-5 10-2 10-3 10-4 10-5 10-2 10-1 10-3 10-5 10-3 10-4 10-6 10-5 10-8 10-4 10-4 10-3 10-3 10-4 10-7 10-5 10-6 10-5 10-5 10-3 10 0 10 1 10 2 10 3 10 4 10 4 10 4 10 2 10 1 10-1 10 1 10-3 10-3 10-4 10-3 10 0 10-1 10-3 10-1 10-1 10-2 10-2 10-4 10-3 10-3 10-5 10-4 10-4 10-6 10-4 10-4 10-7 10-5 10-5 10-3 10-5 10-3 10-4 10 1 10 0 10 3 10 3 10 6 10 4 10 7 10 6 10 7 10 5 10 5 10 4 10 6 10 3 10 2 10-3 10-1 10-2 10-3 10-4 10-2 10-3 10 0 10-1 10 0 10 3 5 2" stroke="#e8121c" stroke-width="10" fill="none" stroke-linejoin="round"/></g>
<path d="M503.5 992.5V845.7" stroke="#6a6a6a" stroke-width="1" fill="none"/>
<path d="M503.0 845.7H910.1" stroke="#333" stroke-width="1.4" fill="none"/>
<path d="M503.0 992.5H941.9" stroke="#444" stroke-width="1.6" fill="none"/>
<path d="M909.6 845.7V994.5" stroke="#333" stroke-width="1.1" fill="none"/>
<path d="M941.4 843.2V993.5" stroke="#aeb3bd" stroke-width="1" fill="none"/>
<rect x="505.0" y="847.2" width="3.6" height="4.2" fill="#000"/>
<rect x="899.1" y="848.3" width="4" height="5" fill="#222"/><rect x="903.8" y="848.3" width="4" height="5" fill="#222"/>
<rect x="900.3" y="849.9" width="1.6" height="1.8" fill="#ddd"/><rect x="905.0" y="849.5" width="1.4" height="2.6" fill="#ddd"/>
<rect x="510.8" y="852.1" width="1.5" height="6.8" fill="#e8202a"/><text x="513.0" y="858.7" fill="#e8202a" font-size="10" font-weight="bold" textLength="20.0" lengthAdjust="spacingAndGlyphs">KOSDAQ</text><rect x="535.6" y="852.1" width="1.5" height="6.8" fill="#e8202a"/><text x="537.8" y="858.7" fill="#e8202a" font-size="10" font-weight="bold" textLength="3.3" lengthAdjust="spacingAndGlyphs">7</text><rect x="543.7" y="852.1" width="1.5" height="6.8" fill="#3a46e0"/><text x="545.9" y="858.7" fill="#3a46e0" font-size="10" font-weight="bold" textLength="6.2" lengthAdjust="spacingAndGlyphs">15</text><rect x="554.7" y="852.1" width="1.5" height="6.8" fill="#d89a28"/><text x="556.9" y="858.7" fill="#d89a28" font-size="10" font-weight="bold" textLength="7.0" lengthAdjust="spacingAndGlyphs">35</text><rect x="566.5" y="852.1" width="1.5" height="6.8" fill="#222"/><text x="568.7" y="858.7" fill="#222" font-size="10" font-weight="bold" textLength="6.5" lengthAdjust="spacingAndGlyphs">55</text><rect x="577.8" y="852.1" width="1.5" height="6.8" fill="#9a9a9a"/><text x="580.0" y="858.7" fill="#9a9a9a" font-size="10" font-weight="bold" textLength="9.2" lengthAdjust="spacingAndGlyphs">120</text><rect x="591.8" y="852.1" width="1.5" height="6.8" fill="#1f9a2e"/><text x="594.0" y="858.7" fill="#1f9a2e" font-size="10" font-weight="bold" textLength="10.4" lengthAdjust="spacingAndGlyphs">390</text><rect x="607.0" y="852.1" width="1.5" height="6.8" fill="#e8202a"/><text x="609.2" y="858.7" fill="#e8202a" font-size="10" font-weight="bold" textLength="3.0" lengthAdjust="spacingAndGlyphs">5</text><rect x="614.8" y="852.1" width="1.5" height="6.8" fill="#3a46e0"/><text x="617.0" y="858.7" fill="#3a46e0" font-size="10" font-weight="bold" textLength="6.0" lengthAdjust="spacingAndGlyphs">10</text><rect x="625.6" y="852.1" width="1.5" height="6.8" fill="#d89a28"/><text x="627.8" y="858.7" fill="#d89a28" font-size="10" font-weight="bold" textLength="7.0" lengthAdjust="spacingAndGlyphs">20</text><rect x="637.4" y="852.1" width="1.5" height="6.8" fill="#1f9a2e"/><text x="639.6" y="858.7" fill="#1f9a2e" font-size="10" font-weight="bold" textLength="7.0" lengthAdjust="spacingAndGlyphs">60</text><rect x="649.2" y="852.1" width="1.5" height="6.8" fill="#9a9a9a"/><text x="651.4" y="858.7" fill="#9a9a9a" font-size="10" font-weight="bold" textLength="9.2" lengthAdjust="spacingAndGlyphs">120</text><rect x="663.2" y="852.1" width="1.5" height="6.8" fill="#e8202a"/><text x="665.4" y="858.7" fill="#e8202a" font-size="10" font-weight="bold" textLength="10.0" lengthAdjust="spacingAndGlyphs">240</text><rect x="678.0" y="852.1" width="1.5" height="6.8" fill="#22d4dc"/><text x="680.2" y="858.7" fill="#22d4dc" font-size="10" font-weight="bold" textLength="60.0" lengthAdjust="spacingAndGlyphs">기준선(26,9,26,52,26)</text><rect x="742.8" y="852.1" width="1.5" height="6.8" fill="#d89a28"/><text x="745.0" y="858.7" fill="#d89a28" font-size="10" font-weight="bold" textLength="17.5" lengthAdjust="spacingAndGlyphs">전환선</text>
<path d="M910.1 870.2l2.4 1.3l-2.4 1.3z" fill="#222"/>
<path d="M910.1 889.1l2.4 1.3l-2.4 1.3z" fill="#222"/>
<path d="M910.1 908.0l2.4 1.3l-2.4 1.3z" fill="#222"/>
<path d="M910.1 926.9l2.4 1.3l-2.4 1.3z" fill="#222"/>
<text x="939.8" y="931.8" fill="#606060" font-size="12.8" text-anchor="end" textLength="17.0" lengthAdjust="spacingAndGlyphs">810.00</text>
<path d="M910.1 945.9l2.4 1.3l-2.4 1.3z" fill="#222"/>
<text x="939.8" y="950.8" fill="#606060" font-size="12.8" text-anchor="end" textLength="17.0" lengthAdjust="spacingAndGlyphs">780.00</text>
<path d="M910.1 964.8l2.4 1.3l-2.4 1.3z" fill="#222"/>
<text x="939.8" y="969.7" fill="#606060" font-size="12.8" text-anchor="end" textLength="17.0" lengthAdjust="spacingAndGlyphs">750.00</text>
<rect x="916.0" y="884.1" width="23.9" height="26.5" fill="#2222f5"/>
<path d="M915.7 887.6l-3.4 4.2l3.4 4.2z" fill="#2222f5"/>
<text x="939.5" y="896.0" fill="#fff" font-size="12.8" text-anchor="end" textLength="17.4" lengthAdjust="spacingAndGlyphs">868.10</text>
<text x="939.5" y="908.4" fill="#fff" font-size="12.8" text-anchor="end" textLength="22.9" lengthAdjust="spacingAndGlyphs">(-1.64%)</text>
<text x="794.0" y="872.0" fill="#fa1218" font-size="12.2" font-weight="bold" textLength="73.0" lengthAdjust="spacingAndGlyphs">890.06(2.53% 01/09,11:00)</text>
<path d="M867.8 867.6h4.2v5" stroke="#fa1218" stroke-width="1" fill="none"/><path d="M870.5 872.1h3l-1.5 2.8z" fill="#fa1218"/>
<text x="516.5" y="988.7" fill="#2222f5" font-size="12.2" font-weight="bold" textLength="82.0" lengthAdjust="spacingAndGlyphs">734.20(-15.42% 10/31,14:00)</text>
<path d="M515.5 984.3h-3.8v-5" stroke="#2222f5" stroke-width="1" fill="none"/><path d="M510.2 979.8h3l-1.5-2.8z" fill="#2222f5"/></svg>
<svg width="966" height="1420" viewBox="0 0 966 1420" font-family="&quot;Liberation Sans&quot;,&quot;Noto Sans CJK KR&quot;,sans-serif"><rect x="35" y="1081" width="440" height="157" fill="#fff"/><path d="M35.5 1082V1237.5H467" fill="none" stroke="#dfe3ea" stroke-width="0.8"/><path d="M36.0 1176.2H442.5" stroke="#8fb8ea" stroke-width="0.7" stroke-dasharray="1 1"/><path d="M40.9 1140.6V1169.1M45.5 1136.8V1152.0M53.5 1136.8V1147.5M65.8 1145.9V1160.5M69.9 1147.5V1160.0M81.9 1150.9V1165.7M86.0 1140.0V1158.2M89.9 1126.3V1146.3M98.3 1131.5V1148.6M102.4 1109.9V1134.9M106.5 1101.9V1122.4M114.5 1112.2V1130.4M118.6 1102.6V1119.0M122.7 1096.2V1108.8M138.9 1109.9V1127.0M151.0 1115.6V1140.6M155.1 1111.7V1122.4M163.3 1105.3V1122.4M167.4 1104.9V1119.0M171.5 1100.8V1113.3M183.8 1120.1V1133.1M187.6 1111.7V1128.6M195.8 1104.9V1120.1M204.3 1109.9V1124.7M224.5 1182.1V1204.0M228.4 1182.1V1198.8M232.5 1167.3V1193.5M240.5 1155.5V1169.6M256.9 1195.8V1213.3M265.3 1201.5V1222.5M269.4 1187.4V1209.5M277.4 1182.8V1202.6M289.5 1206.1V1220.2M293.3 1194.2V1218.6M301.8 1176.4V1207.2M305.9 1167.3V1183.3M309.7 1168.5V1181.0M317.9 1163.9V1189.7M322.3 1162.3V1174.2M338.4 1189.0V1214.0M342.3 1187.8V1202.6M350.7 1188.3V1201.5M358.7 1192.4V1203.8M379.2 1195.1V1222.0M387.4 1173.7V1211.1M395.4 1171.9V1187.8M399.5 1161.0V1185.6M407.2 1161.6V1182.8M37.5 1162.3V1172.5M49.8 1134.9V1148.6M57.6 1138.4V1157.7M61.9 1150.4V1161.1M74.0 1148.2V1157.7M77.6 1149.1V1160.5M94.2 1130.8V1148.6M110.6 1105.3V1120.1M126.6 1097.4V1116.7M130.7 1109.9V1125.8M134.8 1106.5V1129.3M143.0 1114.4V1132.2M147.1 1128.6V1137.7M159.2 1107.6V1121.7M175.3 1101.9V1120.1M179.4 1109.9V1130.8M191.7 1100.8V1120.1M199.7 1105.3V1125.4M208.4 1102.6V1122.4M212.2 1118.5V1151.3M216.3 1139.0V1190.1M220.4 1180.1V1205.1M236.4 1161.6V1174.2M245.0 1148.7V1191.3M248.9 1181.0V1201.5M253.0 1181.0V1216.3M260.8 1196.9V1219.7M273.3 1191.3V1203.8M281.5 1183.3V1202.6M285.4 1198.1V1219.7M297.4 1182.8V1208.3M313.8 1152.5V1179.9M326.1 1166.9V1185.1M330.2 1162.8V1206.5M334.3 1186.7V1215.6M346.4 1179.9V1197.4M354.8 1184.4V1206.1M362.8 1198.1V1204.9M366.9 1196.9V1209.5M370.8 1201.5V1208.3M374.9 1204.9V1219.7M383.3 1204.9V1207.2M391.5 1175.3V1189.7M403.6 1162.8V1179.2M411.8 1159.4V1170.8M415.9 1162.8V1176.0M419.8 1168.5V1185.1" stroke="#5f7560" stroke-width="0.8" fill="none"/><path d="M39.4 1150.9h3.1v17.1h-3.1zM43.9 1144.1h3.1v5.7h-3.1zM51.9 1141.0h3.1v1.0h-3.1zM64.2 1154.9h3.1v1.0h-3.1zM68.3 1150.4h3.1v2.3h-3.1zM80.4 1151.3h3.1v7.5h-3.1zM84.5 1145.2h3.1v5.7h-3.1zM88.4 1134.9h3.1v9.1h-3.1zM96.8 1137.2h3.1v3.4h-3.1zM100.9 1113.3h3.1v20.5h-3.1zM105.0 1110.7h3.1v1.0h-3.1zM113.0 1114.0h3.1v2.7h-3.1zM117.1 1108.8h3.1v5.2h-3.1zM121.2 1100.3h3.1v6.2h-3.1zM137.3 1123.6h3.1v2.7h-3.1zM149.4 1119.5h3.1v15.0h-3.1zM153.5 1114.0h3.1v5.0h-3.1zM161.7 1113.3h3.1v7.5h-3.1zM165.8 1111.4h3.1v1.0h-3.1zM169.9 1107.8h3.1v1.0h-3.1zM182.2 1126.7h3.1v1.0h-3.1zM186.1 1114.0h3.1v13.0h-3.1zM194.3 1110.6h3.1v2.1h-3.1zM202.7 1114.0h3.1v9.6h-3.1zM223.0 1188.9h3.1v9.1h-3.1zM226.9 1185.1h3.1v3.9h-3.1zM231.0 1170.1h3.1v12.8h-3.1zM238.9 1166.9h3.1v1.6h-3.1zM255.3 1206.1h3.1v2.3h-3.1zM263.8 1205.6h3.1v9.6h-3.1zM267.9 1195.8h3.1v8.0h-3.1zM275.8 1192.4h3.1v2.3h-3.1zM287.9 1211.1h3.1v4.6h-3.1zM291.8 1198.1h3.1v13.7h-3.1zM300.2 1181.7h3.1v24.8h-3.1zM304.3 1175.3h3.1v5.0h-3.1zM308.2 1171.4h3.1v3.9h-3.1zM316.4 1171.4h3.1v3.2h-3.1zM320.7 1170.9h3.1v1.0h-3.1zM336.9 1196.9h3.1v16.4h-3.1zM340.8 1192.5h3.1v1.0h-3.1zM349.2 1192.4h3.1v3.0h-3.1zM357.2 1201.0h3.1v1.0h-3.1zM377.7 1205.4h3.1v7.5h-3.1zM385.9 1179.2h3.1v28.5h-3.1zM393.8 1176.4h3.1v4.1h-3.1zM397.9 1173.6h3.1v1.0h-3.1zM405.7 1165.5h3.1v12.1h-3.1z" fill="#e3242b"/><path d="M36.0 1167.5h3.1v2.3h-3.1zM48.3 1142.2h3.1v1.8h-3.1zM56.0 1139.5h3.1v17.1h-3.1zM60.3 1154.7h3.1v1.0h-3.1zM72.4 1149.8h3.1v2.3h-3.1zM76.1 1150.4h3.1v9.1h-3.1zM92.7 1134.3h3.1v8.7h-3.1zM109.1 1109.4h3.1v9.1h-3.1zM125.0 1099.0h3.1v16.6h-3.1zM129.1 1114.4h3.1v10.3h-3.1zM133.2 1123.6h3.1v2.7h-3.1zM141.4 1121.3h3.1v10.3h-3.1zM145.5 1129.9h3.1v6.2h-3.1zM157.6 1113.3h3.1v7.5h-3.1zM173.8 1106.5h3.1v13.0h-3.1zM177.9 1117.2h3.1v12.8h-3.1zM190.2 1113.0h3.1v1.0h-3.1zM198.2 1106.5h3.1v18.2h-3.1zM206.8 1113.3h3.1v8.0h-3.1zM210.7 1119.7h3.1v24.4h-3.1zM214.8 1142.9h3.1v41.0h-3.1zM218.9 1183.9h3.1v15.0h-3.1zM234.8 1168.5h3.1v2.3h-3.1zM243.5 1166.2h3.1v23.5h-3.1zM247.4 1188.4h3.1v1.0h-3.1zM251.5 1189.0h3.1v20.5h-3.1zM259.2 1203.8h3.1v14.1h-3.1zM271.7 1195.1h3.1v1.0h-3.1zM279.9 1194.0h3.1v7.5h-3.1zM283.8 1199.7h3.1v17.8h-3.1zM295.9 1195.8h3.1v11.4h-3.1zM312.3 1172.6h3.1v3.9h-3.1zM324.6 1170.3h3.1v9.6h-3.1zM328.7 1177.6h3.1v28.0h-3.1zM332.8 1187.8h3.1v26.9h-3.1zM344.9 1190.6h3.1v5.9h-3.1zM353.3 1191.9h3.1v13.0h-3.1zM361.3 1199.2h3.1v5.0h-3.1zM365.4 1203.3h3.1v3.2h-3.1zM369.2 1204.2h3.1v2.3h-3.1zM373.3 1206.5h3.1v6.8h-3.1zM381.8 1205.6h3.1v1.1h-3.1zM390.0 1179.9h3.1v2.3h-3.1zM402.0 1173.0h3.1v5.2h-3.1zM410.2 1164.6h3.1v2.7h-3.1zM414.3 1166.2h3.1v9.1h-3.1zM418.2 1174.2h3.1v1.8h-3.1z" fill="#2f8fd8"/><path d="M35.0 1231.3H446.5" stroke="#b8bcc4" stroke-width="0.9"/><path d="M442.5 1083.0V1231.3" stroke="#666" stroke-width="1"/><path d="M442.5 1086.5h2" stroke="#999" stroke-width="0.5"/><text x="447.0" y="1088.5" fill="#666" font-size="5.6" textLength="23.8" lengthAdjust="spacingAndGlyphs">1370.00</text><path d="M442.5 1102.3h2" stroke="#999" stroke-width="0.5"/><text x="447.0" y="1104.3" fill="#666" font-size="5.6" textLength="23.8" lengthAdjust="spacingAndGlyphs">1360.00</text><path d="M442.5 1118.1h2" stroke="#999" stroke-width="0.5"/><text x="447.0" y="1120.1" fill="#666" font-size="5.6" textLength="23.8" lengthAdjust="spacingAndGlyphs">1350.00</text><path d="M442.5 1133.8h2" stroke="#999" stroke-width="0.5"/><text x="447.0" y="1135.8" fill="#666" font-size="5.6" textLength="23.8" lengthAdjust="spacingAndGlyphs">1340.00</text><path d="M442.5 1149.6h2" stroke="#999" stroke-width="0.5"/><text x="447.0" y="1151.6" fill="#666" font-size="5.6" textLength="23.8" lengthAdjust="spacingAndGlyphs">1330.00</text><path d="M442.5 1165.4h2" stroke="#999" stroke-width="0.5"/><text x="447.0" y="1167.4" fill="#666" font-size="5.6" textLength="23.8" lengthAdjust="spacingAndGlyphs">1320.00</text><path d="M442.5 1181.2h2" stroke="#999" stroke-width="0.5"/><text x="447.0" y="1183.2" fill="#666" font-size="5.6" textLength="23.8" lengthAdjust="spacingAndGlyphs">1310.00</text><path d="M442.5 1197.0h2" stroke="#999" stroke-width="0.5"/><text x="447.0" y="1199.0" fill="#666" font-size="5.6" textLength="23.8" lengthAdjust="spacingAndGlyphs">1300.00</text><path d="M442.5 1212.7h2" stroke="#999" stroke-width="0.5"/><text x="447.0" y="1214.7" fill="#666" font-size="5.6" textLength="23.8" lengthAdjust="spacingAndGlyphs">1290.00</text><path d="M442.5 1228.5h2" stroke="#999" stroke-width="0.5"/><text x="447.0" y="1230.5" fill="#666" font-size="5.6" textLength="23.8" lengthAdjust="spacingAndGlyphs">1280.00</text><rect x="443.5" y="1173.4" width="29" height="5.6" fill="#3f84e6"/><text x="447.0" y="1178.2" fill="#fff" font-size="5.6" font-weight="bold" textLength="23.8" lengthAdjust="spacingAndGlyphs">1313.22</text><text x="118.5" y="1237.8" fill="#666" font-size="5.6" text-anchor="middle">10월</text><path d="M118.5 1231.3v-1.5" stroke="#777" stroke-width="0.5"/><text x="382.0" y="1237.8" fill="#444" font-size="5.6" text-anchor="middle" font-weight="bold">2024</text><path d="M382.0 1231.3v-1.5" stroke="#777" stroke-width="0.5"/><rect x="39.0" y="1083.8" width="7.4" height="3.8" rx="0.8" fill="none" stroke="#999" stroke-width="0.6"/><path d="M40.5 1085.7h4.4" stroke="#aaa" stroke-width="0.6"/><text x="49.5" y="1088.2" fill="#444" font-size="6.6" font-weight="bold" textLength="118.0" lengthAdjust="spacingAndGlyphs">USD/KRW, 일, 실시간 FX ·</text><rect x="172.5" y="1083.8" width="7" height="3.8" rx="0.8" fill="none" stroke="#aaa" stroke-width="0.6"/><rect x="182.0" y="1083.8" width="7" height="3.8" rx="0.8" fill="none" stroke="#aaa" stroke-width="0.6"/><text x="39.8" y="1094.8" font-size="6.2" textLength="186.0" lengthAdjust="spacingAndGlyphs" xml:space="preserve"><tspan fill="#555">시</tspan><tspan fill="#2a5cab">1314.60</tspan><tspan> &#160;</tspan><tspan fill="#555">고</tspan><tspan fill="#2a5cab">1317.70</tspan><tspan> &#160;</tspan><tspan fill="#555">저</tspan><tspan fill="#2a5cab">1307.29</tspan><tspan> &#160;</tspan><tspan fill="#555">종</tspan><tspan fill="#2a5cab">1313.22</tspan><tspan> &#160;</tspan></text><circle cx="389.0" cy="1086.0" r="1.1" fill="#888"/><text x="392.0" y="1087.9" fill="#8a8a8a" font-size="5.6" textLength="46.0" lengthAdjust="spacingAndGlyphs">Market Closed</text><text x="44.0" y="1226.8" font-size="10.2" font-weight="bold" fill="#111" textLength="52" lengthAdjust="spacingAndGlyphs" stroke="#111" stroke-width="0.5">Investing</text><text x="97.0" y="1226.8" font-size="7.5" fill="#333" textLength="19" lengthAdjust="spacingAndGlyphs">.com</text><rect x="503" y="1081" width="439" height="157" fill="#fff"/><path d="M505.5 1229.0L505.5 1175.0L505.5 1175.0 L509.0 1166.0 L513.0 1167.0 L517.0 1180.0 L520.5 1176.0 L525.5 1176.5 L529.0 1179.0 L533.0 1188.0 L539.0 1189.0 L543.0 1182.5 L548.0 1181.0 L553.0 1173.0 L557.0 1170.0 L560.5 1174.0 L564.5 1173.5 L568.0 1170.5 L572.0 1171.5 L576.0 1174.0 L580.5 1170.0 L583.0 1166.0 L586.5 1168.5 L590.5 1162.5 L594.0 1159.0 L598.0 1150.0 L601.5 1155.0 L605.5 1146.0 L609.0 1142.5 L612.0 1139.0 L615.5 1141.5 L619.5 1141.5 L623.0 1130.0 L626.5 1119.0 L630.5 1125.0 L634.0 1126.0 L638.0 1119.0 L642.0 1127.5 L645.5 1136.0 L649.5 1134.0 L653.0 1144.0 L656.5 1129.0 L660.5 1137.5 L664.0 1127.5 L668.0 1115.0 L671.5 1107.5 L675.0 1100.0 L679.0 1107.5 L682.5 1114.0 L686.0 1116.5 L689.5 1102.5 L693.0 1113.5 L696.5 1114.0 L700.5 1110.0 L704.5 1106.0 L708.0 1126.0 L712.0 1135.0 L715.5 1142.5 L719.0 1135.0 L723.0 1142.5 L727.0 1150.0 L730.5 1136.0 L734.5 1135.0 L738.0 1136.0 L741.5 1154.0 L745.0 1147.5 L748.5 1155.0 L753.0 1156.0 L757.0 1157.5 L761.0 1160.0 L765.5 1154.0 L769.5 1152.5 L773.0 1160.0 L777.0 1167.5 L780.5 1172.5 L784.5 1166.0 L788.0 1179.0 L792.0 1172.5 L795.5 1182.5 L799.5 1189.0 L803.0 1185.0 L807.0 1177.5 L810.5 1176.5 L814.0 1180.0 L818.0 1197.5 L822.0 1208.0 L825.5 1209.0 L829.0 1207.0 L832.0 1207.5 L836.0 1215.0 L840.0 1211.0 L844.0 1210.5 L848.0 1210.0 L851.0 1212.0 L854.5 1222.5 L858.0 1217.5 L861.5 1214.0 L865.5 1211.0 L869.0 1206.0 L873.0 1208.0 L876.5 1200.0 L880.5 1195.0 L884.0 1197.5 L888.0 1198.0 L891.5 1197.0 L895.5 1202.5 L899.0 1206.5L899.0 1229.0Z" fill="#e2f0fb"/><path d="M505.5 1175.0 L509.0 1166.0 L513.0 1167.0 L517.0 1180.0 L520.5 1176.0 L525.5 1176.5 L529.0 1179.0 L533.0 1188.0 L539.0 1189.0 L543.0 1182.5 L548.0 1181.0 L553.0 1173.0 L557.0 1170.0 L560.5 1174.0 L564.5 1173.5 L568.0 1170.5 L572.0 1171.5 L576.0 1174.0 L580.5 1170.0 L583.0 1166.0 L586.5 1168.5 L590.5 1162.5 L594.0 1159.0 L598.0 1150.0 L601.5 1155.0 L605.5 1146.0 L609.0 1142.5 L612.0 1139.0 L615.5 1141.5 L619.5 1141.5 L623.0 1130.0 L626.5 1119.0 L630.5 1125.0 L634.0 1126.0 L638.0 1119.0 L642.0 1127.5 L645.5 1136.0 L649.5 1134.0 L653.0 1144.0 L656.5 1129.0 L660.5 1137.5 L664.0 1127.5 L668.0 1115.0 L671.5 1107.5 L675.0 1100.0 L679.0 1107.5 L682.5 1114.0 L686.0 1116.5 L689.5 1102.5 L693.0 1113.5 L696.5 1114.0 L700.5 1110.0 L704.5 1106.0 L708.0 1126.0 L712.0 1135.0 L715.5 1142.5 L719.0 1135.0 L723.0 1142.5 L727.0 1150.0 L730.5 1136.0 L734.5 1135.0 L738.0 1136.0 L741.5 1154.0 L745.0 1147.5 L748.5 1155.0 L753.0 1156.0 L757.0 1157.5 L761.0 1160.0 L765.5 1154.0 L769.5 1152.5 L773.0 1160.0 L777.0 1167.5 L780.5 1172.5 L784.5 1166.0 L788.0 1179.0 L792.0 1172.5 L795.5 1182.5 L799.5 1189.0 L803.0 1185.0 L807.0 1177.5 L810.5 1176.5 L814.0 1180.0 L818.0 1197.5 L822.0 1208.0 L825.5 1209.0 L829.0 1207.0 L832.0 1207.5 L836.0 1215.0 L840.0 1211.0 L844.0 1210.5 L848.0 1210.0 L851.0 1212.0 L854.5 1222.5 L858.0 1217.5 L861.5 1214.0 L865.5 1211.0 L869.0 1206.0 L873.0 1208.0 L876.5 1200.0 L880.5 1195.0 L884.0 1197.5 L888.0 1198.0 L891.5 1197.0 L895.5 1202.5 L899.0 1206.5" fill="none" stroke="#7db6ee" stroke-width="1.15" stroke-linejoin="round"/><path d="M504.0 1206.5H917.5" stroke="#8fb8ea" stroke-width="0.7" stroke-dasharray="1 1"/><path d="M503.0 1229.0H921.5" stroke="#b8bcc4" stroke-width="0.9"/><path d="M917.5 1083.0V1229.0" stroke="#666" stroke-width="1"/><path d="M917.5 1087.5h2" stroke="#999" stroke-width="0.5"/><text x="921.0" y="1089.5" fill="#666" font-size="5.6" textLength="16.5" lengthAdjust="spacingAndGlyphs">5.100</text><path d="M917.5 1097.7h2" stroke="#999" stroke-width="0.5"/><text x="921.0" y="1099.7" fill="#666" font-size="5.6" textLength="16.5" lengthAdjust="spacingAndGlyphs">5.000</text><path d="M917.5 1108.0h2" stroke="#999" stroke-width="0.5"/><text x="921.0" y="1110.0" fill="#666" font-size="5.6" textLength="16.5" lengthAdjust="spacingAndGlyphs">4.900</text><path d="M917.5 1118.2h2" stroke="#999" stroke-width="0.5"/><text x="921.0" y="1120.2" fill="#666" font-size="5.6" textLength="16.5" lengthAdjust="spacingAndGlyphs">4.800</text><path d="M917.5 1128.4h2" stroke="#999" stroke-width="0.5"/><text x="921.0" y="1130.4" fill="#666" font-size="5.6" textLength="16.5" lengthAdjust="spacingAndGlyphs">4.700</text><path d="M917.5 1138.7h2" stroke="#999" stroke-width="0.5"/><text x="921.0" y="1140.7" fill="#666" font-size="5.6" textLength="16.5" lengthAdjust="spacingAndGlyphs">4.600</text><path d="M917.5 1148.9h2" stroke="#999" stroke-width="0.5"/><text x="921.0" y="1150.9" fill="#666" font-size="5.6" textLength="16.5" lengthAdjust="spacingAndGlyphs">4.500</text><path d="M917.5 1159.1h2" stroke="#999" stroke-width="0.5"/><text x="921.0" y="1161.1" fill="#666" font-size="5.6" textLength="16.5" lengthAdjust="spacingAndGlyphs">4.400</text><path d="M917.5 1169.3h2" stroke="#999" stroke-width="0.5"/><text x="921.0" y="1171.3" fill="#666" font-size="5.6" textLength="16.5" lengthAdjust="spacingAndGlyphs">4.300</text><path d="M917.5 1179.6h2" stroke="#999" stroke-width="0.5"/><text x="921.0" y="1181.6" fill="#666" font-size="5.6" textLength="16.5" lengthAdjust="spacingAndGlyphs">4.200</text><path d="M917.5 1189.8h2" stroke="#999" stroke-width="0.5"/><text x="921.0" y="1191.8" fill="#666" font-size="5.6" textLength="16.5" lengthAdjust="spacingAndGlyphs">4.100</text><path d="M917.5 1200.0h2" stroke="#999" stroke-width="0.5"/><text x="921.0" y="1202.0" fill="#666" font-size="5.6" textLength="16.5" lengthAdjust="spacingAndGlyphs">4.000</text><path d="M917.5 1210.3h2" stroke="#999" stroke-width="0.5"/><text x="921.0" y="1212.3" fill="#666" font-size="5.6" textLength="16.5" lengthAdjust="spacingAndGlyphs">3.900</text><path d="M917.5 1220.5h2" stroke="#999" stroke-width="0.5"/><text x="921.0" y="1222.5" fill="#666" font-size="5.6" textLength="16.5" lengthAdjust="spacingAndGlyphs">3.800</text><rect x="918.5" y="1203.7" width="20.5" height="5.6" fill="#3f84e6"/><text x="921.0" y="1208.5" fill="#fff" font-size="5.6" font-weight="bold" textLength="16.5" lengthAdjust="spacingAndGlyphs">3.939</text><text x="542.0" y="1235.5" fill="#666" font-size="5.6" text-anchor="middle">9월</text><path d="M542.0 1229.0v-1.5" stroke="#777" stroke-width="0.5"/><text x="624.5" y="1235.5" fill="#666" font-size="5.6" text-anchor="middle">10월</text><path d="M624.5 1229.0v-1.5" stroke="#777" stroke-width="0.5"/><text x="709.0" y="1235.5" fill="#666" font-size="5.6" text-anchor="middle">11월</text><path d="M709.0 1229.0v-1.5" stroke="#777" stroke-width="0.5"/><text x="791.5" y="1235.5" fill="#666" font-size="5.6" text-anchor="middle">12월</text><path d="M791.5 1229.0v-1.5" stroke="#777" stroke-width="0.5"/><text x="865.5" y="1235.5" fill="#444" font-size="5.6" text-anchor="middle" font-weight="bold">2024</text><path d="M865.5 1229.0v-1.5" stroke="#777" stroke-width="0.5"/><text x="914.0" y="1235.5" fill="#666" font-size="5.6" text-anchor="middle">16</text><path d="M914.0 1229.0v-1.5" stroke="#777" stroke-width="0.5"/><rect x="503" y="1082" width="1.6" height="155" fill="#e6ebf1"/><rect x="507.5" y="1084.2" width="7.4" height="3.8" rx="0.8" fill="none" stroke="#999" stroke-width="0.6"/><path d="M509.0 1086.1h4.4" stroke="#aaa" stroke-width="0.6"/><text x="518.0" y="1088.6" fill="#444" font-size="6.6" font-weight="bold" textLength="175.0" lengthAdjust="spacingAndGlyphs">United States 10-Year, 미국, 일, 뉴욕 ·</text><rect x="698.0" y="1084.2" width="7" height="3.8" rx="0.8" fill="none" stroke="#aaa" stroke-width="0.6"/><rect x="707.5" y="1084.2" width="7" height="3.8" rx="0.8" fill="none" stroke="#aaa" stroke-width="0.6"/><text x="508.3" y="1095.2" font-size="6.2" textLength="147.0" lengthAdjust="spacingAndGlyphs" xml:space="preserve"><tspan fill="#555">시</tspan><tspan fill="#6aa5e8">3.962</tspan><tspan> &#160;</tspan><tspan fill="#555">고</tspan><tspan fill="#6aa5e8">4.007</tspan><tspan> &#160;</tspan><tspan fill="#555">저</tspan><tspan fill="#6aa5e8">3.916</tspan><tspan> &#160;</tspan><tspan fill="#555">종</tspan><tspan fill="#6aa5e8">3.939</tspan><tspan> &#160;</tspan></text><circle cx="865.0" cy="1086.4" r="1.1" fill="#888"/><text x="868.0" y="1088.3" fill="#8a8a8a" font-size="5.6" textLength="46.0" lengthAdjust="spacingAndGlyphs">Market Closed</text><text x="512.0" y="1226.3" font-size="10.2" font-weight="bold" fill="#111" textLength="52" lengthAdjust="spacingAndGlyphs" stroke="#111" stroke-width="0.5">Investing</text><text x="565.0" y="1226.3" font-size="7.5" fill="#333" textLength="19" lengthAdjust="spacingAndGlyphs">.com</text><rect x="35" y="1254" width="440" height="160" fill="#fff"/><path d="M35.0 1403.0L35.0 1342.0L35.0 1342.0 L39.0 1337.5 L43.0 1333.5 L47.0 1335.5 L50.0 1337.5 L54.0 1344.5 L58.0 1343.5 L62.0 1339.5 L66.0 1338.5 L70.0 1333.5 L73.0 1331.5 L76.0 1324.0 L80.0 1315.0 L84.0 1313.5 L88.0 1309.0 L92.0 1305.0 L95.0 1307.5 L98.5 1305.0 L102.5 1306.0 L106.0 1299.0 L110.0 1300.0 L113.5 1292.5 L117.5 1290.0 L121.0 1287.0 L125.0 1288.5 L129.0 1292.5 L132.5 1295.0 L136.0 1293.5 L140.0 1294.5 L143.5 1291.0 L146.5 1277.5 L150.0 1285.0 L153.5 1290.0 L157.0 1299.0 L161.0 1297.5 L164.5 1319.0 L168.0 1328.5 L171.5 1326.0 L175.0 1310.0 L178.5 1311.5 L182.0 1322.5 L185.5 1325.0 L189.0 1304.0 L192.5 1308.5 L196.0 1309.0 L199.5 1302.5 L203.0 1296.5 L206.5 1299.0 L210.0 1315.0 L213.5 1322.5 L217.0 1315.0 L220.5 1325.0 L224.0 1314.0 L227.5 1325.0 L231.0 1332.5 L234.5 1336.0 L238.0 1337.5 L241.5 1328.0 L245.0 1336.0 L248.5 1335.0 L252.0 1350.0 L255.5 1360.0 L259.0 1359.0 L262.5 1353.5 L266.0 1347.5 L269.5 1347.5 L273.0 1355.0 L278.0 1372.5 L281.5 1360.0 L285.0 1350.0 L289.0 1349.0 L292.5 1351.5 L296.5 1355.0 L300.0 1358.5 L304.0 1361.5 L307.5 1355.0 L311.0 1348.5 L315.0 1357.5 L319.0 1366.5 L322.5 1370.0 L326.0 1374.0 L329.0 1387.5 L332.5 1387.5 L336.0 1379.0 L340.0 1378.5 L344.0 1390.0 L347.5 1386.5 L351.0 1377.5 L355.0 1377.5 L359.0 1372.5 L363.0 1367.5 L366.5 1365.0 L370.0 1366.5 L374.0 1368.0 L377.5 1367.0 L381.0 1359.0 L385.0 1366.0 L389.0 1376.0 L393.0 1376.5 L396.0 1375.0 L399.5 1382.5 L403.0 1372.5 L406.5 1374.0 L410.0 1367.5 L414.0 1381.0 L418.0 1375.0 L421.5 1377.5 L425.0 1376.0 L429.0 1372.5L429.0 1403.0Z" fill="#e2f0fb"/><path d="M35.0 1342.0 L39.0 1337.5 L43.0 1333.5 L47.0 1335.5 L50.0 1337.5 L54.0 1344.5 L58.0 1343.5 L62.0 1339.5 L66.0 1338.5 L70.0 1333.5 L73.0 1331.5 L76.0 1324.0 L80.0 1315.0 L84.0 1313.5 L88.0 1309.0 L92.0 1305.0 L95.0 1307.5 L98.5 1305.0 L102.5 1306.0 L106.0 1299.0 L110.0 1300.0 L113.5 1292.5 L117.5 1290.0 L121.0 1287.0 L125.0 1288.5 L129.0 1292.5 L132.5 1295.0 L136.0 1293.5 L140.0 1294.5 L143.5 1291.0 L146.5 1277.5 L150.0 1285.0 L153.5 1290.0 L157.0 1299.0 L161.0 1297.5 L164.5 1319.0 L168.0 1328.5 L171.5 1326.0 L175.0 1310.0 L178.5 1311.5 L182.0 1322.5 L185.5 1325.0 L189.0 1304.0 L192.5 1308.5 L196.0 1309.0 L199.5 1302.5 L203.0 1296.5 L206.5 1299.0 L210.0 1315.0 L213.5 1322.5 L217.0 1315.0 L220.5 1325.0 L224.0 1314.0 L227.5 1325.0 L231.0 1332.5 L234.5 1336.0 L238.0 1337.5 L241.5 1328.0 L245.0 1336.0 L248.5 1335.0 L252.0 1350.0 L255.5 1360.0 L259.0 1359.0 L262.5 1353.5 L266.0 1347.5 L269.5 1347.5 L273.0 1355.0 L278.0 1372.5 L281.5 1360.0 L285.0 1350.0 L289.0 1349.0 L292.5 1351.5 L296.5 1355.0 L300.0 1358.5 L304.0 1361.5 L307.5 1355.0 L311.0 1348.5 L315.0 1357.5 L319.0 1366.5 L322.5 1370.0 L326.0 1374.0 L329.0 1387.5 L332.5 1387.5 L336.0 1379.0 L340.0 1378.5 L344.0 1390.0 L347.5 1386.5 L351.0 1377.5 L355.0 1377.5 L359.0 1372.5 L363.0 1367.5 L366.5 1365.0 L370.0 1366.5 L374.0 1368.0 L377.5 1367.0 L381.0 1359.0 L385.0 1366.0 L389.0 1376.0 L393.0 1376.5 L396.0 1375.0 L399.5 1382.5 L403.0 1372.5 L406.5 1374.0 L410.0 1367.5 L414.0 1381.0 L418.0 1375.0 L421.5 1377.5 L425.0 1376.0 L429.0 1372.5" fill="none" stroke="#7db6ee" stroke-width="1.15" stroke-linejoin="round"/><path d="M36.0 1372.5H449.5" stroke="#8fb8ea" stroke-width="0.7" stroke-dasharray="1 1"/><path d="M35.0 1403.0H453.5" stroke="#b8bcc4" stroke-width="0.9"/><path d="M449.5 1256.0V1403.0" stroke="#666" stroke-width="1"/><path d="M449.5 1266.5h2" stroke="#999" stroke-width="0.5"/><text x="453.0" y="1268.5" fill="#666" font-size="5.6" textLength="16.5" lengthAdjust="spacingAndGlyphs">96.00</text><path d="M449.5 1275.5h2" stroke="#999" stroke-width="0.5"/><text x="453.0" y="1277.5" fill="#666" font-size="5.6" textLength="16.5" lengthAdjust="spacingAndGlyphs">94.00</text><path d="M449.5 1284.6h2" stroke="#999" stroke-width="0.5"/><text x="453.0" y="1286.6" fill="#666" font-size="5.6" textLength="16.5" lengthAdjust="spacingAndGlyphs">92.00</text><path d="M449.5 1293.6h2" stroke="#999" stroke-width="0.5"/><text x="453.0" y="1295.6" fill="#666" font-size="5.6" textLength="16.5" lengthAdjust="spacingAndGlyphs">90.00</text><path d="M449.5 1302.7h2" stroke="#999" stroke-width="0.5"/><text x="453.0" y="1304.7" fill="#666" font-size="5.6" textLength="16.5" lengthAdjust="spacingAndGlyphs">88.00</text><path d="M449.5 1311.7h2" stroke="#999" stroke-width="0.5"/><text x="453.0" y="1313.7" fill="#666" font-size="5.6" textLength="16.5" lengthAdjust="spacingAndGlyphs">86.00</text><path d="M449.5 1320.7h2" stroke="#999" stroke-width="0.5"/><text x="453.0" y="1322.7" fill="#666" font-size="5.6" textLength="16.5" lengthAdjust="spacingAndGlyphs">84.00</text><path d="M449.5 1329.8h2" stroke="#999" stroke-width="0.5"/><text x="453.0" y="1331.8" fill="#666" font-size="5.6" textLength="16.5" lengthAdjust="spacingAndGlyphs">82.00</text><path d="M449.5 1338.8h2" stroke="#999" stroke-width="0.5"/><text x="453.0" y="1340.8" fill="#666" font-size="5.6" textLength="16.5" lengthAdjust="spacingAndGlyphs">80.00</text><path d="M449.5 1347.9h2" stroke="#999" stroke-width="0.5"/><text x="453.0" y="1349.9" fill="#666" font-size="5.6" textLength="16.5" lengthAdjust="spacingAndGlyphs">78.00</text><path d="M449.5 1356.9h2" stroke="#999" stroke-width="0.5"/><text x="453.0" y="1358.9" fill="#666" font-size="5.6" textLength="16.5" lengthAdjust="spacingAndGlyphs">76.00</text><path d="M449.5 1365.9h2" stroke="#999" stroke-width="0.5"/><text x="453.0" y="1367.9" fill="#666" font-size="5.6" textLength="16.5" lengthAdjust="spacingAndGlyphs">74.00</text><path d="M449.5 1375.0h2" stroke="#999" stroke-width="0.5"/><text x="453.0" y="1377.0" fill="#666" font-size="5.6" textLength="16.5" lengthAdjust="spacingAndGlyphs">72.00</text><path d="M449.5 1384.0h2" stroke="#999" stroke-width="0.5"/><text x="453.0" y="1386.0" fill="#666" font-size="5.6" textLength="16.5" lengthAdjust="spacingAndGlyphs">70.00</text><path d="M449.5 1393.1h2" stroke="#999" stroke-width="0.5"/><text x="453.0" y="1395.1" fill="#666" font-size="5.6" textLength="16.5" lengthAdjust="spacingAndGlyphs">68.00</text><rect x="450.5" y="1369.7" width="21.5" height="5.6" fill="#3f84e6"/><text x="453.0" y="1374.5" fill="#fff" font-size="5.6" font-weight="bold" textLength="16.5" lengthAdjust="spacingAndGlyphs">72.68</text><text x="78.5" y="1409.5" fill="#666" font-size="5.6" text-anchor="middle">9월</text><path d="M78.5 1403.0v-1.5" stroke="#777" stroke-width="0.5"/><text x="157.5" y="1409.5" fill="#666" font-size="5.6" text-anchor="middle">10월</text><path d="M157.5 1403.0v-1.5" stroke="#777" stroke-width="0.5"/><text x="239.0" y="1409.5" fill="#666" font-size="5.6" text-anchor="middle">11월</text><path d="M239.0 1403.0v-1.5" stroke="#777" stroke-width="0.5"/><text x="320.0" y="1409.5" fill="#666" font-size="5.6" text-anchor="middle">12월</text><path d="M320.0 1403.0v-1.5" stroke="#777" stroke-width="0.5"/><text x="397.5" y="1409.5" fill="#444" font-size="5.6" text-anchor="middle" font-weight="bold">2024</text><path d="M397.5 1403.0v-1.5" stroke="#777" stroke-width="0.5"/><text x="444.0" y="1409.5" fill="#666" font-size="5.6" text-anchor="middle">15</text><path d="M444.0 1403.0v-1.5" stroke="#777" stroke-width="0.5"/><rect x="35" y="1255" width="1.6" height="158" fill="#e6ebf1"/><rect x="39.0" y="1259.8" width="7.4" height="3.8" rx="0.8" fill="none" stroke="#999" stroke-width="0.6"/><path d="M40.5 1261.7h4.4" stroke="#aaa" stroke-width="0.6"/><text x="49.5" y="1264.2" fill="#444" font-size="6.6" font-weight="bold" textLength="160.0" lengthAdjust="spacingAndGlyphs">Crude Oil WTI Futures, 일, (CFD) ·</text><rect x="214.5" y="1259.8" width="7" height="3.8" rx="0.8" fill="none" stroke="#aaa" stroke-width="0.6"/><rect x="224.0" y="1259.8" width="7" height="3.8" rx="0.8" fill="none" stroke="#aaa" stroke-width="0.6"/><text x="39.8" y="1270.8" font-size="6.2" textLength="146.0" lengthAdjust="spacingAndGlyphs" xml:space="preserve"><tspan fill="#555">시</tspan><tspan fill="#6aa5e8">73.01</tspan><tspan> &#160;</tspan><tspan fill="#555">고</tspan><tspan fill="#6aa5e8">75.25</tspan><tspan> &#160;</tspan><tspan fill="#555">저</tspan><tspan fill="#6aa5e8">72.36</tspan><tspan> &#160;</tspan><tspan fill="#555">종</tspan><tspan fill="#6aa5e8">72.68</tspan><tspan> &#160;</tspan></text><circle cx="397.0" cy="1262.0" r="1.1" fill="#888"/><text x="400.0" y="1263.9" fill="#8a8a8a" font-size="5.6" textLength="46.0" lengthAdjust="spacingAndGlyphs">Market Closed</text><text x="41.5" y="1399.5" font-size="10.2" font-weight="bold" fill="#111" textLength="52" lengthAdjust="spacingAndGlyphs" stroke="#111" stroke-width="0.5">Investing</text><text x="94.5" y="1399.5" font-size="7.5" fill="#333" textLength="19" lengthAdjust="spacingAndGlyphs">.com</text><path d="M473.5 1259V1408" stroke="#dde1e6" stroke-width="1"/></svg>
<svg width="966" height="1420" viewBox="0 0 966 1420" font-family="&quot;Liberation Sans&quot;,&quot;Noto Sans CJK KR&quot;,sans-serif"><rect x="503" y="1258" width="217.3" height="151" fill="#000"/><rect x="504.7" y="1259.9" width="5.5" height="137.1" fill="#4a0d0f"/><rect x="569.8" y="1259.9" width="3.7" height="137.1" fill="#4a0d0f"/><rect x="609.8" y="1259.9" width="8.9" height="137.1" fill="#4a0d0f"/><path d="M682.3 1259.9V1397.1" stroke="#7a1518" stroke-width="0.7"/><path d="M503.5 1280.6H710.9M503.5 1301.4H710.9M503.5 1322.5H710.9M503.5 1343.2H710.9M503.5 1364.3H710.9M503.5 1385.4H710.9" stroke="#3a3a3a" stroke-width="0.6"/><path d="M503.5 1310.9 L505.9 1303.4 L507.9 1297.2 L509.7 1303.4 L511.4 1314.6 L513.4 1324.5 L514.6 1335.7 L516.4 1330.7 L518.4 1333.2 L520.8 1330.7 L523.3 1335.7 L525.8 1334.5 L528.8 1338.2 L530.8 1333.2 L533.3 1335.7 L535.8 1332.0 L538.2 1335.7 L540.7 1329.5 L543.2 1334.5 L545.7 1335.7 L548.2 1340.7 L550.7 1345.7 L552.6 1348.1 L555.1 1344.4 L557.6 1345.7 L560.1 1340.7 L561.8 1334.5 L563.6 1327.0 L566.1 1325.8 L568.5 1327.0 L570.5 1324.5 L572.0 1333.2 L573.5 1344.4 L575.0 1350.6 L576.7 1348.1 L578.5 1343.2 L580.5 1334.5 L582.5 1338.2 L584.2 1341.9 L585.9 1345.7 L587.9 1339.4 L589.9 1333.2 L591.7 1329.5 L593.4 1333.2 L594.9 1324.5 L596.4 1315.1 L597.9 1327.0 L599.4 1318.3 L600.8 1334.5 L602.3 1340.7 L603.8 1335.7 L605.3 1334.5 L606.8 1338.2 L608.3 1329.5 L609.8 1318.3 L611.3 1322.0 L612.8 1305.9 L613.8 1312.1 L614.8 1324.5 L615.8 1354.3 L616.7 1363.0 L617.7 1359.3 L619.2 1384.2 L620.2 1369.3 L621.7 1354.3 L623.2 1341.9 L624.7 1334.5 L626.2 1343.2 L627.7 1338.2 L629.2 1329.5 L630.7 1324.5 L632.1 1323.3 L633.6 1332.0 L635.1 1340.7 L636.6 1346.9 L638.1 1343.2 L639.6 1348.1 L641.1 1344.4 L642.6 1351.9 L644.1 1346.9 L645.6 1349.4 L647.1 1343.2 L648.5 1345.7 L650.0 1353.1 L651.5 1363.0 L653.0 1365.5 L655.0 1361.8 L657.0 1354.3 L658.7 1350.6 L660.5 1353.1 L662.0 1348.1 L663.7 1340.7 L665.4 1337.0 L666.9 1343.2 L668.7 1340.7 L670.4 1337.0 L672.4 1333.2 L673.9 1339.4 L675.4 1346.9 L676.9 1343.2 L678.6 1345.7 L680.3 1340.7 L681.8 1348.1 L682.8 1356.8 L683.8 1361.8 L684.8 1354.3 L686.1 1348.1 L687.3 1344.4 L688.5 1332.0 L689.8 1314.6 L691.3 1303.4 L692.8 1287.3 L694.3 1274.8 L695.8 1269.4 L696.7 1276.1 L697.7 1273.6 L699.2 1284.8 L700.7 1299.7 L702.2 1317.1 L703.2 1332.0 L704.2 1324.5 L705.2 1329.5" fill="none" stroke="#3d8fea" stroke-width="1.1" stroke-linejoin="round"/><path d="M503.5 1315.1 L505.4 1310.9 L507.4 1305.9 L509.4 1308.4 L511.4 1313.4 L513.4 1319.6 L515.4 1324.5 L517.9 1328.3 L520.3 1327.0 L522.8 1330.0 L525.8 1332.0 L529.5 1334.5 L533.3 1333.2 L537.0 1332.0 L540.7 1334.5 L544.4 1335.7 L548.2 1339.4 L551.9 1341.4 L555.6 1338.2 L559.4 1343.2 L562.6 1339.4 L565.6 1337.0 L569.3 1335.7 L573.0 1335.7 L576.0 1337.5 L579.2 1340.7 L582.5 1348.1 L585.4 1351.9 L588.4 1345.7 L591.7 1339.4 L594.9 1341.9 L597.9 1340.7 L600.8 1334.5 L604.1 1335.7 L607.3 1339.4 L610.3 1337.0 L613.3 1338.2 L615.3 1341.9 L617.2 1346.9 L619.2 1344.4 L621.5 1349.4 L624.0 1354.3 L626.4 1356.8 L628.9 1350.6 L631.4 1345.7 L633.9 1340.7 L636.4 1341.9 L639.6 1343.9 L642.6 1344.9 L645.6 1343.2 L648.8 1345.7 L652.0 1344.4 L655.0 1343.2 L658.0 1339.9 L661.2 1338.9 L664.4 1340.7 L667.4 1341.4 L670.4 1339.4 L673.6 1339.9 L676.9 1343.2 L679.9 1339.4 L681.8 1338.2 L682.8 1345.7 L684.3 1350.6 L685.8 1348.1 L687.3 1350.6 L688.8 1339.4 L690.3 1322.0 L691.8 1309.6 L693.3 1298.4 L694.8 1296.0 L696.2 1299.7 L697.2 1294.7 L698.7 1303.4 L700.2 1305.9 L701.7 1313.4 L703.2 1319.6 L704.7 1323.3" fill="none" stroke="#f0a02c" stroke-width="1.1" stroke-linejoin="round"/><path d="M710.9 1258.9V1397.1" stroke="#2f6fc0" stroke-width="0.7"/><path d="M503.5 1397.1H719.6" stroke="#888" stroke-width="0.6"/><path d="M532.8 1397.1V1408.5" stroke="#555" stroke-width="0.5"/><path d="M562.6 1397.1V1408.5" stroke="#555" stroke-width="0.5"/><path d="M592.4 1397.1V1408.5" stroke="#555" stroke-width="0.5"/><path d="M622.0 1397.1V1408.5" stroke="#555" stroke-width="0.5"/><path d="M652.0 1397.1V1408.5" stroke="#555" stroke-width="0.5"/><path d="M681.8 1397.1V1408.5" stroke="#555" stroke-width="0.5"/><ellipse cx="507.9" cy="1293.5" rx="2.3" ry="3.2" fill="#e02a2a"/><ellipse cx="571.8" cy="1321.6" rx="2.3" ry="3.2" fill="#e02a2a"/><ellipse cx="611.8" cy="1310.1" rx="2.3" ry="3.2" fill="#e02a2a"/><ellipse cx="616.7" cy="1334.5" rx="2.3" ry="3.2" fill="#e02a2a"/><ellipse cx="682.8" cy="1332.5" rx="3.6" ry="2.8" fill="#e02a2a"/><path d="M710.9 1261.2h1.5" stroke="#3d8fea" stroke-width="0.5"/><text x="719.1" y="1262.6" fill="#bbb" font-size="3.8" text-anchor="end">10.0</text><path d="M710.9 1280.6h1.5" stroke="#3d8fea" stroke-width="0.5"/><text x="719.1" y="1282.0" fill="#bbb" font-size="3.8" text-anchor="end">8.0</text><path d="M710.9 1301.4h1.5" stroke="#3d8fea" stroke-width="0.5"/><text x="719.1" y="1302.8" fill="#bbb" font-size="3.8" text-anchor="end">6.0</text><path d="M710.9 1343.2h1.5" stroke="#3d8fea" stroke-width="0.5"/><text x="719.1" y="1344.6" fill="#bbb" font-size="3.8" text-anchor="end">2.0</text><path d="M710.9 1364.3h1.5" stroke="#3d8fea" stroke-width="0.5"/><text x="719.1" y="1365.7" fill="#bbb" font-size="3.8" text-anchor="end">0.0</text><path d="M710.9 1385.4h1.5" stroke="#3d8fea" stroke-width="0.5"/><text x="719.1" y="1386.8" fill="#bbb" font-size="3.8" text-anchor="end">-2.0</text><rect x="711.9" y="1320.6" width="8" height="4.4" fill="#f0a02c"/><text x="712.9" y="1324.1" fill="#000" font-size="3.6">3.9</text><rect x="711.9" y="1326.0" width="8" height="4.4" fill="#3d8fea"/><text x="712.9" y="1329.6" fill="#000" font-size="3.6">3.4</text><text x="517.1" y="1405.9" fill="#ccc" font-size="3.8" text-anchor="middle" textLength="12.0" lengthAdjust="spacingAndGlyphs">1990-1994</text><text x="547.4" y="1405.9" fill="#ccc" font-size="3.8" text-anchor="middle" textLength="12.0" lengthAdjust="spacingAndGlyphs">1995-1999</text><text x="577.2" y="1405.9" fill="#ccc" font-size="3.8" text-anchor="middle" textLength="12.0" lengthAdjust="spacingAndGlyphs">2000-2004</text><text x="607.1" y="1405.9" fill="#ccc" font-size="3.8" text-anchor="middle" textLength="12.0" lengthAdjust="spacingAndGlyphs">2005-2009</text><text x="636.9" y="1405.9" fill="#ccc" font-size="3.8" text-anchor="middle" textLength="12.0" lengthAdjust="spacingAndGlyphs">2010-2014</text><text x="666.7" y="1405.9" fill="#ccc" font-size="3.8" text-anchor="middle" textLength="12.0" lengthAdjust="spacingAndGlyphs">2015-2019</text><text x="696.5" y="1405.9" fill="#ccc" font-size="3.8" text-anchor="middle" textLength="12.0" lengthAdjust="spacingAndGlyphs">2020-2024</text><rect x="504.9" y="1261.2" width="2.6" height="3" fill="#3d8fea"/><text x="508.4" y="1264.2" fill="#ddd" font-size="3.6" textLength="47.0" lengthAdjust="spacingAndGlyphs">US CPI Urban Consumers YoY NSA</text><rect x="558.9" y="1261.2" width="2.6" height="3" fill="#f0a02c"/><text x="562.3" y="1264.2" fill="#ddd" font-size="3.6" textLength="75.0" lengthAdjust="spacingAndGlyphs">US CPI Urban Consumers Less Food &amp; Energy YoY NSA</text><text x="520.8" y="1290.3" fill="#e4e4e4" font-size="10" textLength="79.5" lengthAdjust="spacingAndGlyphs">전년비 3.4% / 예상 3.2%</text><text x="520.8" y="1300.8" fill="#e4e4e4" font-size="10" textLength="100.7" lengthAdjust="spacingAndGlyphs">근원 : 전년비 3.9% / 예상 3.8%</text><rect x="727.2" y="1258" width="214.9" height="152.2" fill="#000"/><path d="M727.7 1266.1H932.6M727.7 1284.3H932.6M727.7 1302.2H932.6M727.7 1320.3H932.6M727.7 1338.2H932.6M727.7 1356.3H932.6M727.7 1374.2H932.6M727.7 1392.1H932.6" stroke="#3a3a3a" stroke-width="0.6"/><path d="M727.2 1353.1 L729.7 1346.9 L732.1 1337.0 L734.6 1334.5 L737.1 1333.2 L739.6 1334.5 L741.3 1340.7 L743.3 1345.7 L745.3 1349.4 L747.8 1354.3 L750.3 1359.3 L752.8 1364.3 L755.3 1360.6 L758.2 1356.8 L760.7 1360.6 L763.2 1364.3 L765.7 1359.3 L767.7 1356.8 L770.2 1363.0 L772.6 1360.6 L775.1 1363.0 L777.6 1359.3 L780.1 1355.6 L782.6 1359.3 L785.1 1358.1 L787.6 1360.6 L790.0 1366.8 L791.8 1374.2 L793.5 1379.2 L795.5 1381.7 L798.0 1379.2 L800.5 1384.2 L802.5 1386.6 L804.4 1381.7 L806.4 1373.0 L808.4 1374.2 L810.4 1371.7 L812.9 1373.0 L814.9 1366.8 L817.4 1365.5 L819.9 1359.3 L822.3 1355.6 L824.8 1351.4 L827.3 1355.6 L829.8 1351.9 L832.3 1348.1 L834.8 1350.6 L837.2 1346.9 L839.7 1349.4 L842.2 1345.7 L844.0 1343.2 L845.7 1348.1 L847.7 1345.7 L850.2 1351.9 L852.1 1355.6 L854.6 1354.3 L857.1 1358.1 L859.6 1353.1 L862.1 1359.3 L864.6 1363.0 L866.6 1356.8 L868.0 1366.8 L869.5 1379.2 L871.0 1387.1 L872.5 1381.7 L874.5 1374.2 L876.5 1371.7 L878.7 1366.8 L880.5 1364.3 L882.0 1354.3 L883.7 1337.0 L885.4 1319.6 L887.4 1309.6 L889.4 1303.4 L891.4 1296.0 L893.4 1294.7 L894.9 1284.8 L896.9 1283.5 L898.6 1276.1 L900.1 1268.6 L901.6 1273.6 L903.1 1272.4 L904.3 1284.8 L906.1 1292.2 L907.8 1298.4 L909.8 1304.7 L911.8 1317.1 L913.5 1332.0 L915.3 1346.9 L916.7 1359.3 L918.2 1366.8 L919.2 1371.7 L920.5 1361.8 L921.7 1355.6 L923.0 1356.8 L924.2 1365.5 L925.9 1364.8" fill="none" stroke="#3d8fea" stroke-width="1.15" stroke-linejoin="round"/><path d="M727.2 1350.6 L729.7 1349.4 L731.4 1345.7 L733.4 1349.4 L735.4 1351.9 L737.9 1346.9 L740.3 1349.4 L742.8 1350.6 L745.3 1351.9 L747.8 1354.3 L750.3 1356.8 L752.8 1360.6 L755.3 1359.3 L757.7 1355.6 L760.2 1359.3 L762.7 1361.8 L765.2 1365.5 L767.7 1359.3 L770.2 1358.1 L772.6 1361.8 L775.1 1359.3 L777.6 1360.6 L780.1 1356.8 L782.6 1355.6 L785.1 1359.3 L787.6 1356.8 L790.0 1360.6 L792.5 1365.5 L795.0 1364.3 L797.5 1366.8 L800.0 1368.0 L802.5 1371.7 L804.9 1370.5 L807.4 1363.0 L809.9 1364.3 L812.4 1363.0 L814.9 1365.5 L817.4 1361.8 L819.9 1363.0 L822.3 1359.3 L824.8 1356.8 L827.3 1355.6 L829.8 1353.1 L832.3 1351.9 L834.8 1353.1 L837.2 1350.6 L839.7 1351.9 L842.2 1349.4 L844.7 1350.6 L847.2 1348.1 L849.7 1349.4 L852.1 1351.9 L854.6 1350.6 L857.1 1353.1 L859.6 1351.9 L862.1 1356.8 L864.6 1359.3 L866.6 1358.1 L868.5 1364.3 L870.5 1370.5 L872.5 1371.7 L875.0 1369.3 L877.5 1365.5 L880.0 1361.8 L882.0 1354.3 L884.0 1341.9 L885.9 1329.5 L887.9 1322.0 L889.9 1312.1 L891.9 1308.4 L893.9 1299.7 L895.9 1296.0 L897.9 1291.0 L899.9 1286.8 L901.3 1293.5 L902.8 1299.7 L904.8 1303.4 L906.8 1308.4 L908.8 1312.1 L910.8 1322.0 L912.8 1332.0 L914.8 1341.9 L916.7 1345.7 L918.7 1349.4 L920.7 1350.6 L922.7 1351.9 L924.7 1355.6 L926.4 1358.1" fill="none" stroke="#f0a02c" stroke-width="1.15" stroke-linejoin="round"/><path d="M932.6 1258.9V1399.1" stroke="#2f6fc0" stroke-width="0.7"/><path d="M727.7 1399.1H941.6" stroke="#aaa" stroke-width="0.6"/><path d="M728.4 1399.1V1409.5" stroke="#666" stroke-width="0.5"/><path d="M743.7 1399.1V1409.5" stroke="#666" stroke-width="0.5"/><path d="M758.9 1399.1V1409.5" stroke="#666" stroke-width="0.5"/><path d="M774.2 1399.1V1409.5" stroke="#666" stroke-width="0.5"/><path d="M789.4 1399.1V1409.5" stroke="#666" stroke-width="0.5"/><path d="M804.7 1399.1V1409.5" stroke="#666" stroke-width="0.5"/><path d="M820.0 1399.1V1409.5" stroke="#666" stroke-width="0.5"/><path d="M835.2 1399.1V1409.5" stroke="#666" stroke-width="0.5"/><path d="M850.5 1399.1V1409.5" stroke="#666" stroke-width="0.5"/><path d="M865.7 1399.1V1409.5" stroke="#666" stroke-width="0.5"/><path d="M881.0 1399.1V1409.5" stroke="#666" stroke-width="0.5"/><path d="M896.2 1399.1V1409.5" stroke="#666" stroke-width="0.5"/><path d="M911.5 1399.1V1409.5" stroke="#666" stroke-width="0.5"/><path d="M926.7 1399.1V1409.5" stroke="#666" stroke-width="0.5"/><text x="735.9" y="1408.4" fill="#ccc" font-size="3.8" text-anchor="middle" textLength="6.0" lengthAdjust="spacingAndGlyphs">2011</text><text x="751.1" y="1408.4" fill="#ccc" font-size="3.8" text-anchor="middle" textLength="6.0" lengthAdjust="spacingAndGlyphs">2012</text><text x="766.4" y="1408.4" fill="#ccc" font-size="3.8" text-anchor="middle" textLength="6.0" lengthAdjust="spacingAndGlyphs">2013</text><text x="781.6" y="1408.4" fill="#ccc" font-size="3.8" text-anchor="middle" textLength="6.0" lengthAdjust="spacingAndGlyphs">2014</text><text x="796.9" y="1408.4" fill="#ccc" font-size="3.8" text-anchor="middle" textLength="6.0" lengthAdjust="spacingAndGlyphs">2015</text><text x="812.1" y="1408.4" fill="#ccc" font-size="3.8" text-anchor="middle" textLength="6.0" lengthAdjust="spacingAndGlyphs">2016</text><text x="827.4" y="1408.4" fill="#ccc" font-size="3.8" text-anchor="middle" textLength="6.0" lengthAdjust="spacingAndGlyphs">2017</text><text x="842.7" y="1408.4" fill="#ccc" font-size="3.8" text-anchor="middle" textLength="6.0" lengthAdjust="spacingAndGlyphs">2018</text><text x="857.9" y="1408.4" fill="#ccc" font-size="3.8" text-anchor="middle" textLength="6.0" lengthAdjust="spacingAndGlyphs">2019</text><text x="873.2" y="1408.4" fill="#ccc" font-size="3.8" text-anchor="middle" textLength="6.0" lengthAdjust="spacingAndGlyphs">2020</text><text x="888.4" y="1408.4" fill="#ccc" font-size="3.8" text-anchor="middle" textLength="6.0" lengthAdjust="spacingAndGlyphs">2021</text><text x="903.7" y="1408.4" fill="#ccc" font-size="3.8" text-anchor="middle" textLength="6.0" lengthAdjust="spacingAndGlyphs">2022</text><text x="918.9" y="1408.4" fill="#ccc" font-size="3.8" text-anchor="middle" textLength="6.0" lengthAdjust="spacingAndGlyphs">2023</text><path d="M932.6 1266.1h1.5" stroke="#3d8fea" stroke-width="0.5"/><text x="940.1" y="1267.5" fill="#bbb" font-size="3.8" text-anchor="end">12.0</text><path d="M932.6 1284.3h1.5" stroke="#3d8fea" stroke-width="0.5"/><text x="940.1" y="1285.7" fill="#bbb" font-size="3.8" text-anchor="end">10.0</text><path d="M932.6 1302.2h1.5" stroke="#3d8fea" stroke-width="0.5"/><text x="940.1" y="1303.6" fill="#bbb" font-size="3.8" text-anchor="end">8.0</text><path d="M932.6 1320.3h1.5" stroke="#3d8fea" stroke-width="0.5"/><text x="940.1" y="1321.7" fill="#bbb" font-size="3.8" text-anchor="end">6.0</text><path d="M932.6 1338.2h1.5" stroke="#3d8fea" stroke-width="0.5"/><text x="940.1" y="1339.6" fill="#bbb" font-size="3.8" text-anchor="end">4.0</text><path d="M932.6 1374.2h1.5" stroke="#3d8fea" stroke-width="0.5"/><text x="940.1" y="1375.6" fill="#bbb" font-size="3.8" text-anchor="end">0.0</text><path d="M932.6 1392.1h1.5" stroke="#3d8fea" stroke-width="0.5"/><text x="940.1" y="1393.5" fill="#bbb" font-size="3.8" text-anchor="end">-2.0</text><rect x="933.6" y="1355.3" width="7.6" height="4.4" fill="#f0a02c"/><text x="934.9" y="1358.9" fill="#000" font-size="3.6">1.8</text><rect x="933.6" y="1362.8" width="7.6" height="4.4" fill="#3d8fea"/><text x="934.9" y="1366.3" fill="#000" font-size="3.6">1.0</text><rect x="729.7" y="1266.9" width="84.5" height="9.4" fill="#1c1c1c"/><rect x="730.2" y="1267.6" width="2.4" height="2.8" fill="#3d8fea"/><text x="733.4" y="1270.4" fill="#ddd" font-size="3.6" textLength="41.0" lengthAdjust="spacingAndGlyphs">US PPI Final Demand YoY NSA</text><text x="809.2" y="1270.4" fill="#ddd" font-size="3.6">1.0</text><rect x="730.2" y="1272.6" width="2.4" height="2.8" fill="#f0a02c"/><text x="733.4" y="1275.4" fill="#ddd" font-size="3.6" textLength="73.0" lengthAdjust="spacingAndGlyphs">US PPI Final Demand Less Foods and Energy YoY NSA</text><text x="809.2" y="1275.4" fill="#ddd" font-size="3.6">1.8</text><text x="748.3" y="1284.8" fill="#e2e2e2" font-size="8.6" textLength="94.4" lengthAdjust="spacingAndGlyphs">◎ 예상 보다 낮게 나온 생산자물가</text><text x="748.3" y="1301.4" fill="#e2e2e2" font-size="8.6" textLength="80.7" lengthAdjust="spacingAndGlyphs">◎ 3개월 연속 전월비 하락 중</text><text x="748.3" y="1318.0" fill="#e2e2e2" font-size="8.6" textLength="108.7" lengthAdjust="spacingAndGlyphs">◎ 에너지 가격 전월비 -1.2% 하락 영향</text><text x="748.3" y="1335.0" fill="#e2e2e2" font-size="8.6" textLength="76.3" lengthAdjust="spacingAndGlyphs">◎ 중동 사태 확대 여부 관심</text></svg>
<svg width="966" height="1780" viewBox="0 0 966 1780" font-family="&quot;Liberation Sans&quot;,sans-serif"><rect x="33.4" y="1618" width="440.1" height="150.5" fill="#fff"/><rect x="33.4" y="1618" width="440.1" height="25.5" fill="#f4f4f4"/><rect x="439.6" y="1643.5" width="33.9" height="16.2" fill="#b9effa"/><rect x="405.5" y="1659.7" width="34.1" height="15.4" fill="#b9effa"/><rect x="439.6" y="1659.7" width="33.9" height="15.4" fill="#fbf9d3"/><rect x="371.2" y="1675.1" width="34.3" height="15.6" fill="#b9effa"/><rect x="405.5" y="1675.1" width="34.1" height="15.6" fill="#fbf9d3"/><rect x="439.6" y="1675.1" width="33.9" height="15.6" fill="#fbf9d3"/><rect x="336.9" y="1690.7" width="34.3" height="15.7" fill="#b9effa"/><rect x="371.2" y="1690.7" width="34.3" height="15.7" fill="#fbf9d3"/><rect x="405.5" y="1690.7" width="34.1" height="15.7" fill="#fbf9d3"/><rect x="439.6" y="1690.7" width="33.9" height="15.7" fill="#fbf9d3"/><rect x="302.5" y="1706.4" width="34.4" height="15.9" fill="#b9effa"/><rect x="336.9" y="1706.4" width="34.3" height="15.9" fill="#fbf9d3"/><rect x="371.2" y="1706.4" width="34.3" height="15.9" fill="#fbf9d3"/><rect x="405.5" y="1706.4" width="34.1" height="15.9" fill="#fbf9d3"/><rect x="439.6" y="1706.4" width="33.9" height="15.9" fill="#fbf9d3"/><rect x="268.1" y="1722.3" width="34.4" height="15.7" fill="#b9effa"/><rect x="302.5" y="1722.3" width="34.4" height="15.7" fill="#fbf9d3"/><rect x="336.9" y="1722.3" width="34.3" height="15.7" fill="#fbf9d3"/><rect x="371.2" y="1722.3" width="34.3" height="15.7" fill="#fbf9d3"/><rect x="405.5" y="1722.3" width="34.1" height="15.7" fill="#fbf9d3"/><rect x="439.6" y="1722.3" width="33.9" height="15.7" fill="#fbf9d3"/><rect x="233.7" y="1738.0" width="34.4" height="15.6" fill="#b9effa"/><rect x="268.1" y="1738.0" width="34.4" height="15.6" fill="#fbf9d3"/><rect x="302.5" y="1738.0" width="34.4" height="15.6" fill="#fbf9d3"/><rect x="336.9" y="1738.0" width="34.3" height="15.6" fill="#fbf9d3"/><rect x="371.2" y="1738.0" width="34.3" height="15.6" fill="#fbf9d3"/><rect x="405.5" y="1738.0" width="34.1" height="15.6" fill="#fbf9d3"/><rect x="439.6" y="1738.0" width="33.9" height="15.6" fill="#fbf9d3"/><rect x="199.4" y="1753.6" width="34.3" height="14.9" fill="#b9effa"/><rect x="233.7" y="1753.6" width="34.4" height="14.9" fill="#fbf9d3"/><rect x="268.1" y="1753.6" width="34.4" height="14.9" fill="#fbf9d3"/><rect x="302.5" y="1753.6" width="34.4" height="14.9" fill="#fbf9d3"/><rect x="336.9" y="1753.6" width="34.3" height="14.9" fill="#fbf9d3"/><rect x="371.2" y="1753.6" width="34.3" height="14.9" fill="#fbf9d3"/><rect x="405.5" y="1753.6" width="34.1" height="14.9" fill="#fbf9d3"/><rect x="439.6" y="1753.6" width="33.9" height="14.9" fill="#fbf9d3"/><path d="M33.4 1618V1768.5M96.5 1618V1768.5M130.8 1618V1768.5M165.1 1618V1768.5M199.4 1618V1768.5M233.7 1618V1768.5M268.1 1618V1768.5M302.5 1618V1768.5M336.9 1618V1768.5M371.2 1618V1768.5M405.5 1618V1768.5M439.6 1618V1768.5M473.5 1618V1768.5M33.4 1618.0H473.5M33.4 1643.5H473.5M33.4 1659.7H473.5M33.4 1675.1H473.5M33.4 1690.7H473.5M33.4 1706.4H473.5M33.4 1722.3H473.5M33.4 1738.0H473.5M33.4 1753.6H473.5" stroke="#c9c9d2" stroke-width="0.9" fill="none"/><text x="65.0" y="1633.3" font-size="7.5" font-weight="bold" fill="#111" stroke="#111" stroke-width="0.15" text-anchor="middle">MEETING DATE</text><text x="113.7" y="1633.3" font-size="7.5" font-weight="bold" fill="#111" stroke="#111" stroke-width="0.15" text-anchor="middle">275-300</text><text x="147.9" y="1633.3" font-size="7.5" font-weight="bold" fill="#111" stroke="#111" stroke-width="0.15" text-anchor="middle">300-325</text><text x="182.2" y="1633.3" font-size="7.5" font-weight="bold" fill="#111" stroke="#111" stroke-width="0.15" text-anchor="middle">325-350</text><text x="216.6" y="1633.3" font-size="7.5" font-weight="bold" fill="#111" stroke="#111" stroke-width="0.15" text-anchor="middle">350-375</text><text x="250.9" y="1633.3" font-size="7.5" font-weight="bold" fill="#111" stroke="#111" stroke-width="0.15" text-anchor="middle">375-400</text><text x="285.3" y="1633.3" font-size="7.5" font-weight="bold" fill="#111" stroke="#111" stroke-width="0.15" text-anchor="middle">400-425</text><text x="319.7" y="1633.3" font-size="7.5" font-weight="bold" fill="#111" stroke="#111" stroke-width="0.15" text-anchor="middle">425-450</text><text x="354.0" y="1633.3" font-size="7.5" font-weight="bold" fill="#111" stroke="#111" stroke-width="0.15" text-anchor="middle">450-475</text><text x="388.4" y="1633.3" font-size="7.5" font-weight="bold" fill="#111" stroke="#111" stroke-width="0.15" text-anchor="middle">475-500</text><text x="422.6" y="1633.3" font-size="7.5" font-weight="bold" fill="#111" stroke="#111" stroke-width="0.15" text-anchor="middle">500-525</text><text x="456.6" y="1633.3" font-size="7.5" font-weight="bold" fill="#111" stroke="#111" stroke-width="0.15" text-anchor="middle">525-550</text><text x="92.6" y="1654.6" font-size="8.5" font-weight="bold" fill="#383838" text-anchor="end">2024-01-31</text><text x="298.9" y="1654.6" font-size="8.5" font-weight="bold" fill="#383838" text-anchor="end">0.0%</text><text x="333.3" y="1654.6" font-size="8.5" font-weight="bold" fill="#383838" text-anchor="end">0.0%</text><text x="367.6" y="1654.6" font-size="8.5" font-weight="bold" fill="#383838" text-anchor="end">0.0%</text><text x="401.9" y="1654.6" font-size="8.5" font-weight="bold" fill="#383838" text-anchor="end">0.0%</text><text x="436.0" y="1654.6" font-size="8.5" font-weight="bold" fill="#383838" text-anchor="end">5.2%</text><text x="469.9" y="1654.6" font-size="8.5" font-weight="bold" fill="#383838" text-anchor="end">94.8%</text><text x="92.6" y="1670.4" font-size="8.5" font-weight="bold" fill="#383838" text-anchor="end">2024-03-20</text><text x="127.2" y="1670.4" font-size="8.5" font-weight="bold" fill="#383838" text-anchor="end">0.0%</text><text x="161.5" y="1670.4" font-size="8.5" font-weight="bold" fill="#383838" text-anchor="end">0.0%</text><text x="195.8" y="1670.4" font-size="8.5" font-weight="bold" fill="#383838" text-anchor="end">0.0%</text><text x="230.1" y="1670.4" font-size="8.5" font-weight="bold" fill="#383838" text-anchor="end">0.0%</text><text x="264.5" y="1670.4" font-size="8.5" font-weight="bold" fill="#383838" text-anchor="end">0.0%</text><text x="298.9" y="1670.4" font-size="8.5" font-weight="bold" fill="#383838" text-anchor="end">0.0%</text><text x="333.3" y="1670.4" font-size="8.5" font-weight="bold" fill="#383838" text-anchor="end">0.0%</text><text x="367.6" y="1670.4" font-size="8.5" font-weight="bold" fill="#383838" text-anchor="end">0.0%</text><text x="401.9" y="1670.4" font-size="8.5" font-weight="bold" fill="#383838" text-anchor="end">4.1%</text><text x="436.0" y="1670.4" font-size="8.5" font-weight="bold" fill="#383838" text-anchor="end">76.9%</text><text x="469.9" y="1670.4" font-size="8.5" font-weight="bold" fill="#383838" text-anchor="end">19.0%</text><text x="92.6" y="1685.9" font-size="8.5" font-weight="bold" fill="#383838" text-anchor="end">2024-05-01</text><text x="127.2" y="1685.9" font-size="8.5" font-weight="bold" fill="#383838" text-anchor="end">0.0%</text><text x="161.5" y="1685.9" font-size="8.5" font-weight="bold" fill="#383838" text-anchor="end">0.0%</text><text x="195.8" y="1685.9" font-size="8.5" font-weight="bold" fill="#383838" text-anchor="end">0.0%</text><text x="230.1" y="1685.9" font-size="8.5" font-weight="bold" fill="#383838" text-anchor="end">0.0%</text><text x="264.5" y="1685.9" font-size="8.5" font-weight="bold" fill="#383838" text-anchor="end">0.0%</text><text x="298.9" y="1685.9" font-size="8.5" font-weight="bold" fill="#383838" text-anchor="end">0.0%</text><text x="333.3" y="1685.9" font-size="8.5" font-weight="bold" fill="#383838" text-anchor="end">0.4%</text><text x="367.6" y="1685.9" font-size="8.5" font-weight="bold" fill="#383838" text-anchor="end">11.5%</text><text x="401.9" y="1685.9" font-size="8.5" font-weight="bold" fill="#383838" text-anchor="end">71.0%</text><text x="436.0" y="1685.9" font-size="8.5" font-weight="bold" fill="#383838" text-anchor="end">17.1%</text><text x="469.9" y="1685.9" font-size="8.5" font-weight="bold" fill="#383838" text-anchor="end">0.0%</text><text x="92.6" y="1701.6" font-size="8.5" font-weight="bold" fill="#383838" text-anchor="end">2024-06-12</text><text x="127.2" y="1701.6" font-size="8.5" font-weight="bold" fill="#383838" text-anchor="end">0.0%</text><text x="161.5" y="1701.6" font-size="8.5" font-weight="bold" fill="#383838" text-anchor="end">0.0%</text><text x="195.8" y="1701.6" font-size="8.5" font-weight="bold" fill="#383838" text-anchor="end">0.0%</text><text x="230.1" y="1701.6" font-size="8.5" font-weight="bold" fill="#383838" text-anchor="end">0.0%</text><text x="264.5" y="1701.6" font-size="8.5" font-weight="bold" fill="#383838" text-anchor="end">0.1%</text><text x="298.9" y="1701.6" font-size="8.5" font-weight="bold" fill="#383838" text-anchor="end">4.0%</text><text x="333.3" y="1701.6" font-size="8.5" font-weight="bold" fill="#383838" text-anchor="end">30.8%</text><text x="367.6" y="1701.6" font-size="8.5" font-weight="bold" fill="#383838" text-anchor="end">53.5%</text><text x="401.9" y="1701.6" font-size="8.5" font-weight="bold" fill="#383838" text-anchor="end">11.5%</text><text x="436.0" y="1701.6" font-size="8.5" font-weight="bold" fill="#383838" text-anchor="end">0.0%</text><text x="469.9" y="1701.6" font-size="8.5" font-weight="bold" fill="#383838" text-anchor="end">0.0%</text><text x="92.6" y="1717.3" font-size="8.5" font-weight="bold" fill="#383838" text-anchor="end">2024-07-31</text><text x="127.2" y="1717.3" font-size="8.5" font-weight="bold" fill="#383838" text-anchor="end">0.0%</text><text x="161.5" y="1717.3" font-size="8.5" font-weight="bold" fill="#383838" text-anchor="end">0.0%</text><text x="195.8" y="1717.3" font-size="8.5" font-weight="bold" fill="#383838" text-anchor="end">0.0%</text><text x="230.1" y="1717.3" font-size="8.5" font-weight="bold" fill="#383838" text-anchor="end">0.4%</text><text x="264.5" y="1717.3" font-size="8.5" font-weight="bold" fill="#383838" text-anchor="end">6.0%</text><text x="298.9" y="1717.3" font-size="8.5" font-weight="bold" fill="#383838" text-anchor="end">32.5%</text><text x="333.3" y="1717.3" font-size="8.5" font-weight="bold" fill="#383838" text-anchor="end">50.4%</text><text x="367.6" y="1717.3" font-size="8.5" font-weight="bold" fill="#383838" text-anchor="end">10.7%</text><text x="401.9" y="1717.3" font-size="8.5" font-weight="bold" fill="#383838" text-anchor="end">0.0%</text><text x="436.0" y="1717.3" font-size="8.5" font-weight="bold" fill="#383838" text-anchor="end">0.0%</text><text x="469.9" y="1717.3" font-size="8.5" font-weight="bold" fill="#383838" text-anchor="end">0.0%</text><text x="92.6" y="1733.2" font-size="8.5" font-weight="bold" fill="#383838" text-anchor="end">2024-09-18</text><text x="127.2" y="1733.2" font-size="8.5" font-weight="bold" fill="#383838" text-anchor="end">0.0%</text><text x="161.5" y="1733.2" font-size="8.5" font-weight="bold" fill="#383838" text-anchor="end">0.0%</text><text x="195.8" y="1733.2" font-size="8.5" font-weight="bold" fill="#383838" text-anchor="end">0.4%</text><text x="230.1" y="1733.2" font-size="8.5" font-weight="bold" fill="#383838" text-anchor="end">5.9%</text><text x="264.5" y="1733.2" font-size="8.5" font-weight="bold" fill="#383838" text-anchor="end">32.0%</text><text x="298.9" y="1733.2" font-size="8.5" font-weight="bold" fill="#383838" text-anchor="end">50.0%</text><text x="333.3" y="1733.2" font-size="8.5" font-weight="bold" fill="#383838" text-anchor="end">11.5%</text><text x="367.6" y="1733.2" font-size="8.5" font-weight="bold" fill="#383838" text-anchor="end">0.2%</text><text x="401.9" y="1733.2" font-size="8.5" font-weight="bold" fill="#383838" text-anchor="end">0.0%</text><text x="436.0" y="1733.2" font-size="8.5" font-weight="bold" fill="#383838" text-anchor="end">0.0%</text><text x="469.9" y="1733.2" font-size="8.5" font-weight="bold" fill="#383838" text-anchor="end">0.0%</text><text x="92.6" y="1748.8" font-size="8.5" font-weight="bold" fill="#383838" text-anchor="end">2024-11-07</text><text x="127.2" y="1748.8" font-size="8.5" font-weight="bold" fill="#383838" text-anchor="end">0.0%</text><text x="161.5" y="1748.8" font-size="8.5" font-weight="bold" fill="#383838" text-anchor="end">0.3%</text><text x="195.8" y="1748.8" font-size="8.5" font-weight="bold" fill="#383838" text-anchor="end">3.9%</text><text x="230.1" y="1748.8" font-size="8.5" font-weight="bold" fill="#383838" text-anchor="end">22.5%</text><text x="264.5" y="1748.8" font-size="8.5" font-weight="bold" fill="#383838" text-anchor="end">43.5%</text><text x="298.9" y="1748.8" font-size="8.5" font-weight="bold" fill="#383838" text-anchor="end">25.4%</text><text x="333.3" y="1748.8" font-size="8.5" font-weight="bold" fill="#383838" text-anchor="end">4.3%</text><text x="367.6" y="1748.8" font-size="8.5" font-weight="bold" fill="#383838" text-anchor="end">0.1%</text><text x="401.9" y="1748.8" font-size="8.5" font-weight="bold" fill="#383838" text-anchor="end">0.0%</text><text x="436.0" y="1748.8" font-size="8.5" font-weight="bold" fill="#383838" text-anchor="end">0.0%</text><text x="469.9" y="1748.8" font-size="8.5" font-weight="bold" fill="#383838" text-anchor="end">0.0%</text><text x="92.6" y="1764.0" font-size="8.5" font-weight="bold" fill="#383838" text-anchor="end">2024-12-18</text><text x="127.2" y="1764.0" font-size="8.5" font-weight="bold" fill="#383838" text-anchor="end">0.2%</text><text x="161.5" y="1764.0" font-size="8.5" font-weight="bold" fill="#383838" text-anchor="end">3.2%</text><text x="195.8" y="1764.0" font-size="8.5" font-weight="bold" fill="#383838" text-anchor="end">18.8%</text><text x="230.1" y="1764.0" font-size="8.5" font-weight="bold" fill="#383838" text-anchor="end">39.3%</text><text x="264.5" y="1764.0" font-size="8.5" font-weight="bold" fill="#383838" text-anchor="end">29.0%</text><text x="298.9" y="1764.0" font-size="8.5" font-weight="bold" fill="#383838" text-anchor="end">8.5%</text><text x="333.3" y="1764.0" font-size="8.5" font-weight="bold" fill="#383838" text-anchor="end">0.9%</text><text x="367.6" y="1764.0" font-size="8.5" font-weight="bold" fill="#383838" text-anchor="end">0.0%</text><text x="401.9" y="1764.0" font-size="8.5" font-weight="bold" fill="#383838" text-anchor="end">0.0%</text><text x="436.0" y="1764.0" font-size="8.5" font-weight="bold" fill="#383838" text-anchor="end">0.0%</text><text x="469.9" y="1764.0" font-size="8.5" font-weight="bold" fill="#383838" text-anchor="end">0.0%</text><path d="M47.6 1674.6H430" stroke="#ee1c24" stroke-width="1.3"/><circle cx="422.6" cy="1665.9" r="18.3" fill="none" stroke="#f7b500" stroke-width="5.6"/></svg>
<svg width="966" height="1780" viewBox="0 0 966 1780" font-family="&quot;Liberation Sans&quot;,sans-serif"><rect x="501.5" y="1615" width="441" height="152" fill="#fcf1e8"/><path d="M519.8 1636.2H919.8M519.8 1654.3H919.8M519.8 1672.4H919.8M519.8 1690.5H919.8M519.8 1708.6H919.8M519.8 1726.2H919.8M519.8 1744.3H919.8" stroke="#efe3d7" stroke-width="0.7"/><path d="M519.8 1751.9H920.8" stroke="#cdbfb2" stroke-width="0.7"/><path d="M524.6 1751.9v2.2" stroke="#9a8f86" stroke-width="0.6"/><path d="M612.7 1751.9v2.2" stroke="#9a8f86" stroke-width="0.6"/><path d="M707.9 1751.9v2.2" stroke="#9a8f86" stroke-width="0.6"/><path d="M805.5 1751.9v2.2" stroke="#9a8f86" stroke-width="0.6"/><path d="M903.1 1751.9v2.2" stroke="#9a8f86" stroke-width="0.6"/><path d="M524.6 1714.8 L528.4 1712.4 L531.7 1711.0 L535.0 1702.9 L538.9 1698.1 L542.2 1700.5 L546.0 1691.0 L549.3 1686.2 L553.1 1688.6 L557.0 1691.9 L560.3 1685.2 L564.1 1688.6 L567.4 1695.7 L571.2 1694.8 L574.6 1698.1 L577.9 1691.9 L581.7 1686.2 L585.5 1691.9 L588.9 1688.6 L592.7 1683.8 L596.0 1680.5 L599.8 1681.4 L603.1 1676.7 L607.0 1679.0 L610.3 1671.9 L614.1 1669.5 L617.4 1674.3 L620.8 1671.0 L624.6 1668.1 L628.4 1671.0 L631.7 1667.1 L635.5 1669.5 L638.9 1663.3 L642.7 1669.5 L646.0 1661.4 L649.3 1659.0 L653.1 1661.4 L657.0 1657.6 L660.3 1660.0 L663.6 1662.4 L667.4 1657.6 L671.2 1653.8 L674.6 1651.9 L677.9 1655.2 L681.7 1650.5 L685.5 1647.1 L688.9 1644.3 L692.2 1645.7 L696.0 1642.4 L699.8 1644.3 L703.1 1637.6 L707.0 1631.4 L710.3 1634.8 L714.1 1632.9 L717.4 1636.2 L720.8 1633.8 L724.6 1630.0 L728.4 1631.9 L731.7 1630.0 L735.5 1631.4 L738.9 1628.1 L741.7 1633.8 L743.6 1655.2 L747.4 1653.8 L750.8 1656.7 L754.1 1655.2 L757.9 1661.4 L761.7 1657.6 L765.0 1652.9 L768.4 1657.6 L772.2 1643.3 L776.0 1641.0 L779.3 1655.2 L782.7 1657.6 L786.5 1655.2 L790.3 1661.4 L793.6 1655.2 L797.0 1657.6 L800.8 1666.2 L804.6 1663.3 L807.9 1661.4 L811.2 1657.6 L815.0 1655.2 L818.9 1652.9 L822.2 1656.7 L825.5 1658.6 L829.3 1662.4 L833.1 1671.0 L836.5 1667.1 L839.8 1661.4 L843.6 1655.2 L847.4 1649.0 L850.8 1645.7 L854.1 1647.1 L857.9 1641.0 L861.7 1637.6 L865.0 1639.5 L868.4 1638.6 L872.2 1636.2 L875.5 1634.8 L879.3 1632.9 L882.7 1633.8 L886.5 1629.0 L890.3 1631.4 L893.6 1633.8 L897.0 1634.8 L900.8 1636.2 L904.1 1648.1 L907.9 1651.9 L911.2 1647.1 L915.0 1645.7 L917.4 1648.1" fill="none" stroke="#d2567c" stroke-width="1.35" stroke-linejoin="round"/><path d="M524.6 1748.1 L528.4 1745.7 L531.7 1750.5 L535.0 1743.3 L538.9 1741.0 L542.2 1742.4 L546.0 1731.4 L549.3 1732.9 L553.1 1726.7 L557.0 1724.3 L560.3 1723.3 L564.1 1731.4 L567.4 1737.6 L571.2 1736.2 L574.6 1739.5 L577.9 1737.6 L581.7 1734.8 L585.5 1738.6 L588.9 1731.4 L592.7 1720.5 L596.0 1723.3 L599.8 1719.5 L603.1 1720.5 L607.0 1714.8 L610.3 1712.4 L614.1 1715.7 L617.4 1711.0 L620.8 1713.8 L624.6 1712.4 L628.4 1713.8 L631.7 1715.7 L635.0 1720.5 L637.9 1702.9 L641.2 1699.5 L644.6 1700.5 L648.4 1698.1 L652.2 1699.5 L655.5 1694.8 L658.9 1695.7 L662.7 1691.0 L666.5 1694.8 L669.8 1686.2 L673.1 1683.8 L677.0 1685.2 L680.8 1688.6 L684.1 1683.8 L687.4 1681.4 L691.2 1672.9 L695.0 1680.5 L698.4 1683.8 L701.7 1680.5 L705.5 1682.4 L709.3 1679.0 L712.7 1681.4 L716.0 1677.6 L719.8 1675.7 L723.6 1666.2 L727.0 1674.3 L730.3 1671.0 L734.1 1681.4 L737.9 1683.8 L741.2 1686.2 L744.6 1688.6 L748.4 1691.0 L752.2 1691.9 L755.5 1694.8 L758.9 1693.3 L762.7 1690.0 L766.5 1686.2 L769.8 1688.6 L773.1 1685.2 L777.0 1683.8 L780.8 1681.4 L784.1 1680.5 L787.4 1685.2 L791.2 1690.0 L795.0 1693.3 L798.4 1696.7 L801.7 1698.1 L805.5 1694.8 L809.3 1691.9 L812.7 1686.2 L816.0 1683.8 L819.8 1685.2 L823.6 1683.8 L827.0 1686.2 L830.3 1680.5 L834.1 1681.4 L837.9 1674.3 L841.2 1667.1 L844.6 1662.4 L848.4 1660.0 L852.2 1656.7 L855.5 1657.6 L858.9 1653.8 L862.7 1655.2 L866.5 1650.5 L869.8 1653.8 L873.1 1657.6 L877.0 1656.7 L880.8 1655.2 L884.1 1657.6 L887.4 1661.4 L891.2 1657.6 L895.0 1656.7 L898.4 1655.2 L901.7 1656.7 L905.5 1660.0 L909.3 1655.2 L913.1 1650.5 L917.0 1647.1" fill="none" stroke="#203f8f" stroke-width="1.45" stroke-linejoin="round"/><text x="921.2" y="1638.6" font-size="6.6" fill="#6b625c">3.0</text><text x="921.2" y="1656.7" font-size="6.6" fill="#6b625c">2.8</text><text x="921.2" y="1674.8" font-size="6.6" fill="#6b625c">2.6</text><text x="921.2" y="1692.9" font-size="6.6" fill="#6b625c">2.4</text><text x="921.2" y="1711.0" font-size="6.6" fill="#6b625c">2.2</text><text x="921.2" y="1728.6" font-size="6.6" fill="#6b625c">2.0</text><text x="921.2" y="1746.7" font-size="6.6" fill="#6b625c">1.8</text><text x="524.6" y="1762.2" font-size="6" fill="#5c544f" text-anchor="middle" textLength="33" lengthAdjust="spacingAndGlyphs">Jan 2023</text><text x="612.7" y="1762.2" font-size="6" fill="#5c544f" text-anchor="middle" textLength="33" lengthAdjust="spacingAndGlyphs">Apr 2023</text><text x="707.9" y="1762.2" font-size="6" fill="#5c544f" text-anchor="middle" textLength="33" lengthAdjust="spacingAndGlyphs">Jul 2023</text><text x="805.5" y="1762.2" font-size="6" fill="#5c544f" text-anchor="middle" textLength="33" lengthAdjust="spacingAndGlyphs">Oct 2023</text><text x="903.1" y="1762.2" font-size="6" fill="#5c544f" text-anchor="middle" textLength="33" lengthAdjust="spacingAndGlyphs">Jan 2024</text><path d="M505.5 1621.9h8" stroke="#203f8f" stroke-width="1.4"/><text x="519.8" y="1624.1" font-size="6" fill="#5c544f" textLength="36" lengthAdjust="spacingAndGlyphs">Microsoft</text><path d="M574.6 1621.9h8" stroke="#d2567c" stroke-width="1.4"/><text x="590.3" y="1624.1" font-size="6" fill="#5c544f" textLength="22" lengthAdjust="spacingAndGlyphs">Apple</text></svg>
<svg width="966" height="1860" viewBox="0 0 966 1860"><rect x="707.4" y="1777.4" width="236.89999999999998" height="76.39999999999986" fill="#fff"/><rect x="709.4" y="1779.4" width="232.9" height="13.5" fill="#d2d2d2"/><rect x="709.4" y="1792.9" width="232.9" height="12.9" fill="#dedede"/><path d="M709.4 1779.4H942.3M709.4 1792.9H942.3M709.4 1805.8H942.3M709.4 1821.1H942.3M709.4 1836H942.3M709.4 1850.8H942.3" stroke="#3c3c3c" stroke-width="1"/><path d="M810.4 1792.9V1850.8M881.7 1792.9V1850.8" stroke="#3c3c3c" stroke-width="0.9"/><text x="826" y="1790.3" font-size="12" font-weight="bold" fill="#111" text-anchor="middle" textLength="76.7" lengthAdjust="spacingAndGlyphs" font-family="&quot;Liberation Serif&quot;,&quot;Noto Serif CJK KR&quot;,&quot;Noto Serif CJK SC&quot;,serif">수출(1.1.~10.)</text><text x="758.7" y="1803.2" font-size="10.4" font-weight="bold" fill="#111" text-anchor="middle" textLength="49.8" lengthAdjust="spacingAndGlyphs" font-family="&quot;Liberation Serif&quot;,&quot;Noto Serif CJK KR&quot;,&quot;Noto Serif CJK SC&quot;,serif">주요국가</text><text x="846.7" y="1803.2" font-size="10.4" font-weight="bold" fill="#111" text-anchor="middle" textLength="24.2" lengthAdjust="spacingAndGlyphs" font-family="&quot;Liberation Serif&quot;,&quot;Noto Serif CJK KR&quot;,&quot;Noto Serif CJK SC&quot;,serif">금액</text><text x="915.3" y="1803.2" font-size="10.4" font-weight="bold" fill="#111" text-anchor="middle" textLength="33.6" lengthAdjust="spacingAndGlyphs" font-family="&quot;Liberation Serif&quot;,&quot;Noto Serif CJK KR&quot;,&quot;Noto Serif CJK SC&quot;,serif">증감률</text><text x="714.8" y="1816.2" font-size="10.3" fill="#333" text-anchor="middle" font-family="&quot;Liberation Sans&quot;,&quot;Noto Sans CJK KR&quot;,sans-serif">중</text><text x="799" y="1816.2" font-size="10.3" fill="#333" text-anchor="middle" font-family="&quot;Liberation Sans&quot;,&quot;Noto Sans CJK KR&quot;,sans-serif">국</text><text x="868.2" y="1816.6" font-size="10.2" fill="#333" text-anchor="end" font-family="&quot;Liberation Sans&quot;,&quot;Noto Sans CJK KR&quot;,sans-serif" textLength="30" lengthAdjust="spacingAndGlyphs">3,240</text><text x="932" y="1816.6" font-size="10.2" fill="#333" text-anchor="end" font-family="&quot;Liberation Sans&quot;,&quot;Noto Sans CJK KR&quot;,sans-serif" textLength="20.5" lengthAdjust="spacingAndGlyphs">10.1</text><text x="714.8" y="1831.6" font-size="10.3" fill="#333" text-anchor="middle" font-family="&quot;Liberation Sans&quot;,&quot;Noto Sans CJK KR&quot;,sans-serif">미</text><text x="799" y="1831.6" font-size="10.3" fill="#333" text-anchor="middle" font-family="&quot;Liberation Sans&quot;,&quot;Noto Sans CJK KR&quot;,sans-serif">국</text><text x="868.2" y="1832.0" font-size="10.2" fill="#333" text-anchor="end" font-family="&quot;Liberation Sans&quot;,&quot;Noto Sans CJK KR&quot;,sans-serif" textLength="30" lengthAdjust="spacingAndGlyphs">2,642</text><text x="932" y="1832.0" font-size="10.2" fill="#333" text-anchor="end" font-family="&quot;Liberation Sans&quot;,&quot;Noto Sans CJK KR&quot;,sans-serif" textLength="20.5" lengthAdjust="spacingAndGlyphs">15.3</text><text x="714.8" y="1846.4" font-size="10.3" fill="#333" text-anchor="middle" font-family="&quot;Liberation Sans&quot;,&quot;Noto Sans CJK KR&quot;,sans-serif">유</text><text x="742.3" y="1846.4" font-size="10.3" fill="#333" text-anchor="middle" font-family="&quot;Liberation Sans&quot;,&quot;Noto Sans CJK KR&quot;,sans-serif">럽</text><text x="770.5" y="1846.4" font-size="10.3" fill="#333" text-anchor="middle" font-family="&quot;Liberation Sans&quot;,&quot;Noto Sans CJK KR&quot;,sans-serif">연</text><text x="799" y="1846.4" font-size="10.3" fill="#333" text-anchor="middle" font-family="&quot;Liberation Sans&quot;,&quot;Noto Sans CJK KR&quot;,sans-serif">합</text><text x="868.2" y="1846.8" font-size="10.2" fill="#333" text-anchor="end" font-family="&quot;Liberation Sans&quot;,&quot;Noto Sans CJK KR&quot;,sans-serif" textLength="30" lengthAdjust="spacingAndGlyphs">1,657</text><text x="932" y="1846.8" font-size="10.2" fill="#333" text-anchor="end" font-family="&quot;Liberation Sans&quot;,&quot;Noto Sans CJK KR&quot;,sans-serif" textLength="20.5" lengthAdjust="spacingAndGlyphs">16.2</text></svg>
<svg width="966" height="2232" viewBox="0 0 966 2232" font-family="&quot;Liberation Sans&quot;,&quot;Noto Sans CJK KR&quot;,sans-serif"><rect x="33.4" y="1877.2" width="907.3" height="337.6" fill="#fff"/><rect x="33.4" y="1877.2" width="756.1" height="26.1" fill="#f4b083"/><rect x="789.5" y="1877.2" width="151.2" height="26.1" fill="#bdd7ee"/><rect x="33.4" y="1903.3" width="907.3" height="26.1" fill="#deebf7"/><rect x="33.4" y="2058.4" width="907.3" height="26.3" fill="#deebf7"/><path d="M33.4 1955.4H335.9M487.1 1955.4H940.7M33.4 1981.5H940.7M33.4 2007.6H940.7M33.4 2033.2H940.7M33.4 2110.8H940.7M33.4 2136.8H940.7M33.4 2162.6H940.7M33.4 2188.6H940.7" stroke="#d6d6d6" stroke-width="0.9"/><path d="M33.4 1929.4H940.7M33.4 2084.7H940.7" stroke="#444" stroke-width="0.8" stroke-dasharray="1.6 1.2"/><path d="M33.4 1903.3H940.7M33.4 2058.4H940.7" stroke="#222" stroke-width="1"/><path d="M184.7 1877.2V2214.8" stroke="#222" stroke-width="1"/><path d="M335.9 1877.2V2214.8" stroke="#222" stroke-width="1"/><path d="M487.1 1877.2V2214.8" stroke="#222" stroke-width="1"/><path d="M638.3 1877.2V2214.8" stroke="#222" stroke-width="1"/><path d="M789.5 1877.2V2214.8" stroke="#222" stroke-width="1"/><rect x="33.4" y="1877.2" width="907.3" height="337.6" fill="none" stroke="#111" stroke-width="1.3"/><path d="M34.4 2216.1000000000004H942.0V1878.2" stroke="#8a8a8a" stroke-width="1" fill="none"/><text x="109.6" y="1894.8" font-size="11.2" font-weight="bold" fill="#111" text-anchor="middle">월</text><text x="260.9" y="1894.8" font-size="11.2" font-weight="bold" fill="#111" text-anchor="middle">화</text><text x="412.1" y="1894.8" font-size="11.2" font-weight="bold" fill="#111" text-anchor="middle">수</text><text x="563.3" y="1894.8" font-size="11.2" font-weight="bold" fill="#111" text-anchor="middle">목</text><text x="714.5" y="1894.8" font-size="11.2" font-weight="bold" fill="#111" text-anchor="middle">금</text><text x="865.7" y="1894.8" font-size="11.2" font-weight="bold" fill="#111" text-anchor="middle">토</text><text x="45.1" y="1920.5" font-size="11.5" fill="#333" textLength="8.7" lengthAdjust="spacingAndGlyphs">15</text><text x="45.1" y="2075.4" font-size="11.5" fill="#333" textLength="8.7" lengthAdjust="spacingAndGlyphs">22</text><text x="196.4" y="1920.5" font-size="11.5" fill="#333" textLength="8.7" lengthAdjust="spacingAndGlyphs">16</text><text x="196.4" y="2075.4" font-size="11.5" fill="#333" textLength="8.7" lengthAdjust="spacingAndGlyphs">23</text><text x="347.6" y="1920.5" font-size="11.5" fill="#333" textLength="8.7" lengthAdjust="spacingAndGlyphs">17</text><text x="347.6" y="2075.4" font-size="11.5" fill="#333" textLength="8.7" lengthAdjust="spacingAndGlyphs">24</text><text x="498.8" y="1920.5" font-size="11.5" fill="#333" textLength="8.7" lengthAdjust="spacingAndGlyphs">18</text><text x="498.8" y="2075.4" font-size="11.5" fill="#333" textLength="8.7" lengthAdjust="spacingAndGlyphs">25</text><text x="650.0" y="1920.5" font-size="11.5" fill="#333" textLength="8.7" lengthAdjust="spacingAndGlyphs">19</text><text x="650.0" y="2075.4" font-size="11.5" fill="#333" textLength="8.7" lengthAdjust="spacingAndGlyphs">26</text><text x="801.2" y="1920.5" font-size="11.5" fill="#333" textLength="8.7" lengthAdjust="spacingAndGlyphs">20</text><text x="801.2" y="2075.4" font-size="11.5" fill="#333" textLength="8.7" lengthAdjust="spacingAndGlyphs">27</text><text x="38.4" y="1949.6" font-size="10.8" fill="#484848" textLength="49.7" lengthAdjust="spacingAndGlyphs">美 증시 휴장</text><text x="38.4" y="1975.9" font-size="10.8" fill="#111" font-weight="bold" textLength="98.6" lengthAdjust="spacingAndGlyphs">다보스포럼 (~19) 스위스</text><text x="38.4" y="2001.3" font-size="10.8" fill="#111" font-weight="bold" textLength="79.5" lengthAdjust="spacingAndGlyphs">美 공화당 경선 시작</text><text x="341.5" y="1949.6" font-size="10.8" fill="#484848" textLength="137.0" lengthAdjust="spacingAndGlyphs">드래곤플라이, 아도르 : 수호의여신</text><text x="341.5" y="1968.6" font-size="10.8" fill="#484848" textLength="17.5" lengthAdjust="spacingAndGlyphs">출시</text><text x="341.5" y="1997.6" font-size="10.8" fill="#111" font-weight="bold" textLength="93.5" lengthAdjust="spacingAndGlyphs">겔럭시 S24 시리즈 출시</text><text x="190.0" y="2104.6" font-size="10.8" fill="#111" font-weight="bold" textLength="98.5" lengthAdjust="spacingAndGlyphs">美 공화당 예비선거 개최</text><text x="190.0" y="2130.6" font-size="10.8" fill="#484848" textLength="104.0" lengthAdjust="spacingAndGlyphs">12월 생산자물가지수 발표</text><text x="190.0" y="2156.6" font-size="10.8" fill="#484848" textLength="111.5" lengthAdjust="spacingAndGlyphs">카카오게임즈 롬 베타테스트</text><text x="190.0" y="2182.6" font-size="10.8" fill="#484848" textLength="101.5" lengthAdjust="spacingAndGlyphs">美 GE, 넷플릭스 실적발표</text><text x="341.5" y="2104.6" font-size="10.8" fill="#484848" textLength="76.0" lengthAdjust="spacingAndGlyphs">LG 디스플 실적발표</text><text x="492.0" y="2104.6" font-size="10.8" fill="#111" font-weight="bold" textLength="107.0" lengthAdjust="spacingAndGlyphs">美 12월 신규주택매매 발표</text><text x="492.0" y="2130.6" font-size="10.8" fill="#111" font-weight="bold" textLength="47.0" lengthAdjust="spacingAndGlyphs">국회 본회의</text><text x="492.0" y="2156.6" font-size="10.8" fill="#484848" textLength="116.0" lengthAdjust="spacingAndGlyphs">부산 베이비&amp;육아교육용품전</text><text x="492.0" y="2182.6" font-size="10.8" fill="#484848" textLength="114.5" lengthAdjust="spacingAndGlyphs">LG이노텍, 삼성SDS 실적발표</text><text x="643.0" y="2104.6" font-size="10.8" fill="#111" font-weight="bold" textLength="128.5" lengthAdjust="spacingAndGlyphs">美 12월 개인소득 소비지출 발표</text><text x="643.0" y="2130.6" font-size="10.8" fill="#484848" textLength="104.0" lengthAdjust="spacingAndGlyphs">수원 스타필드(5호점) 개장</text><text x="794.5" y="2104.6" font-size="10.8" fill="#111" font-weight="bold" textLength="87.0" lengthAdjust="spacingAndGlyphs">애플 비전프로 美 판매</text></svg>
<div class="ttl" id="t0" style="left:18.1px;top:22.200000000000003px;letter-spacing:-0.037px">▣ 주말 증시 브리핑 및 다음주 관심주</div>
<div class="t" id="t1" style="left:17.1px;top:75px;letter-spacing:0.456px">1. 미국 장 추이</div>
<div class="t" id="t2" style="left:31.1px;top:100px;letter-spacing:0.316px">1) 나스닥 주봉</div>
<div class="t" id="t3" style="left:34px;top:284.8px;letter-spacing:0.630px"><span class="hd">☞</span> 강세흐름 지속, 숨고르기 속 21년 11월의 고점을 향해~!</div>
<div class="t" id="t4" style="left:497.6px;top:100px;letter-spacing:0.293px">1-1) 나스닥 60분봉</div>
<div class="t" id="t5" style="left:503px;top:284.8px;letter-spacing:0.540px"><span class="hd">☞</span> 밀리지않고 제자리걸음 횡보, 강세 지속 중 (55이평 다시 턴 중)</div>
<div class="t" id="t6" style="left:31.1px;top:320px;letter-spacing:-0.169px">2) S&amp;P500 주봉</div>
<div class="t" id="t7" style="left:34px;top:503.79999999999995px;letter-spacing:0.618px"><span class="hd">☞</span> 강세흐름 지속, 숨고르기 속 22년 01월의 고점을 향해~!</div>
<div class="t" id="t8" style="left:497.6px;top:320px;letter-spacing:0.060px">2-1) S&amp;P500 60분봉</div>
<div class="t" id="t9" style="left:503px;top:503.79999999999995px;letter-spacing:0.540px"><span class="hd">☞</span> 밀리지않고 제자리걸음 횡보, 강세 지속 중 (55이평 다시 턴 중)</div>
<div class="t" id="t10" style="left:17.1px;top:567.8px;letter-spacing:0.403px">2. 국내증시 추이</div>
<div class="t" id="t11" style="left:31.1px;top:597.9px;letter-spacing:0.202px">1-1) 코스피 일봉</div>
<div class="t" id="t12" style="left:34px;top:780.4px;letter-spacing:0.727px"><span class="hd">☞</span> 박스 돌파 후 단기고점인식 급격한 하락추세, 지지구간 진입</div>
<div class="t" id="t13" style="left:497.6px;top:597.9px;letter-spacing:0.293px">1-2) 코스피 60분봉</div>
<div class="t" id="t14" style="left:503px;top:780.4px;letter-spacing:0.375px"><span class="hd">☞</span> 390 이평 지지구간인 2,498~2,500 P 지지가 매우 중요해졌음</div>
<div class="t" id="t15" style="left:31.1px;top:816.5px;letter-spacing:0.202px">2-1) 코스닥 일봉</div>
<div class="t" id="t16" style="left:34px;top:1001.2px;letter-spacing:0.599px"><span class="hd">☞</span> 일봉상 정배열 추세는 유지중..&nbsp; 다음주 반등 모색 기대</div>
<div class="t" id="t17" style="left:497.6px;top:816.5px;letter-spacing:0.293px">2-2) 코스닥 60분봉</div>
<div class="t" id="t18" style="left:503px;top:1001.2px;letter-spacing:0.406px"><span class="hd">☞</span> 120이평 지지구간 부근, 240이평이자 11/07 고점저항이었던 847P 중요</div>
<div class="t" id="t19" style="left:17.1px;top:1056.5px;letter-spacing:0.337px">3. 원달러환율, 유가</div>
<div class="t" id="t20" style="left:497.6px;top:1056.5px;letter-spacing:0.011px">4. 美 10년물 국채금리, CPI PPI</div>
<div class="t" id="t21" style="left:17.1px;top:1438px;letter-spacing:0.457px">5. 다음주 시장전망</div>
<div class="t" id="t22" style="left:30.6px;top:1467.5px;letter-spacing:0.432px">▣ 긍정적 요인</div>
<div class="t" id="t23" style="left:46.6px;top:1495px;letter-spacing:0.211px">1) CPI PPI 발표 후 해당 불확실성 소멸</div>
<div class="t" id="t24" style="left:46.6px;top:1516.5px;letter-spacing:0.168px">2) 370억불 규모 장기물 국채발행 : 4.296% → 4.024%</div>
<div class="t" id="t25" style="left:46.6px;top:1540px;letter-spacing:0.484px">3) 대 중국 수출지표 호조 (수출 증가)</div>
<div class="t" id="t26" style="left:46.6px;top:1561.5px;letter-spacing:0.524px">4) 반도체 수출 증가율 호조</div>
<div class="t" id="t27" style="left:46.6px;top:1584px;letter-spacing:0.588px">5) 고용지표 실질적 내용 시장 흐름에 우호적 (추정치-확정치 괴리 大)</div>
<div class="t" id="t28" style="left:498.1px;top:1467.5px;letter-spacing:0.538px">▣ 부정적 요인 (불확실성 포함)</div>
<div class="t" id="t29" style="left:513.6px;top:1493.5px;letter-spacing:0.580px">1) 대만총통 선거 결과 (미중관계, 반도체 향후 방향성 등)</div>
<div class="t" id="t30" style="left:513.6px;top:1515px;letter-spacing:0.638px">2) 중동 전쟁 노이즈 상황 전개 (원유수송 호르무즈 확산 등 고려)</div>
<div class="t" id="t31" style="left:513.6px;top:1538.5px;letter-spacing:0.644px">3) 새해들어 1/3부터 8거래일 연속 외국인 선물 순매도 지속중</div>
<div class="t" id="t32" style="left:513.6px;top:1560px;letter-spacing:0.638px">4) 매파적 발언 지속과 3월 금리인하론 팽팽한 대립</div>
<div class="t" id="t33" style="left:30.1px;top:1788.5px;letter-spacing:0.557px">★★ 한줄 예측</div>
<div class="t" id="t34" style="left:41.8px;top:1810px;letter-spacing:0.605px">전약(보합)후강 장세 예상..&nbsp; 개별주 코스닥 강세 속 전반적 흐름 개선</div>
<div class="t" id="t35" style="left:17.1px;top:1847.5px;letter-spacing:0.539px">6. 다음주 이후 주요일정</div>
<div class="t" id="tdate" style="right:20.3px;top:48.7px;letter-spacing:0.05px">'24. 01. 13 현재</div>
</body></html>
